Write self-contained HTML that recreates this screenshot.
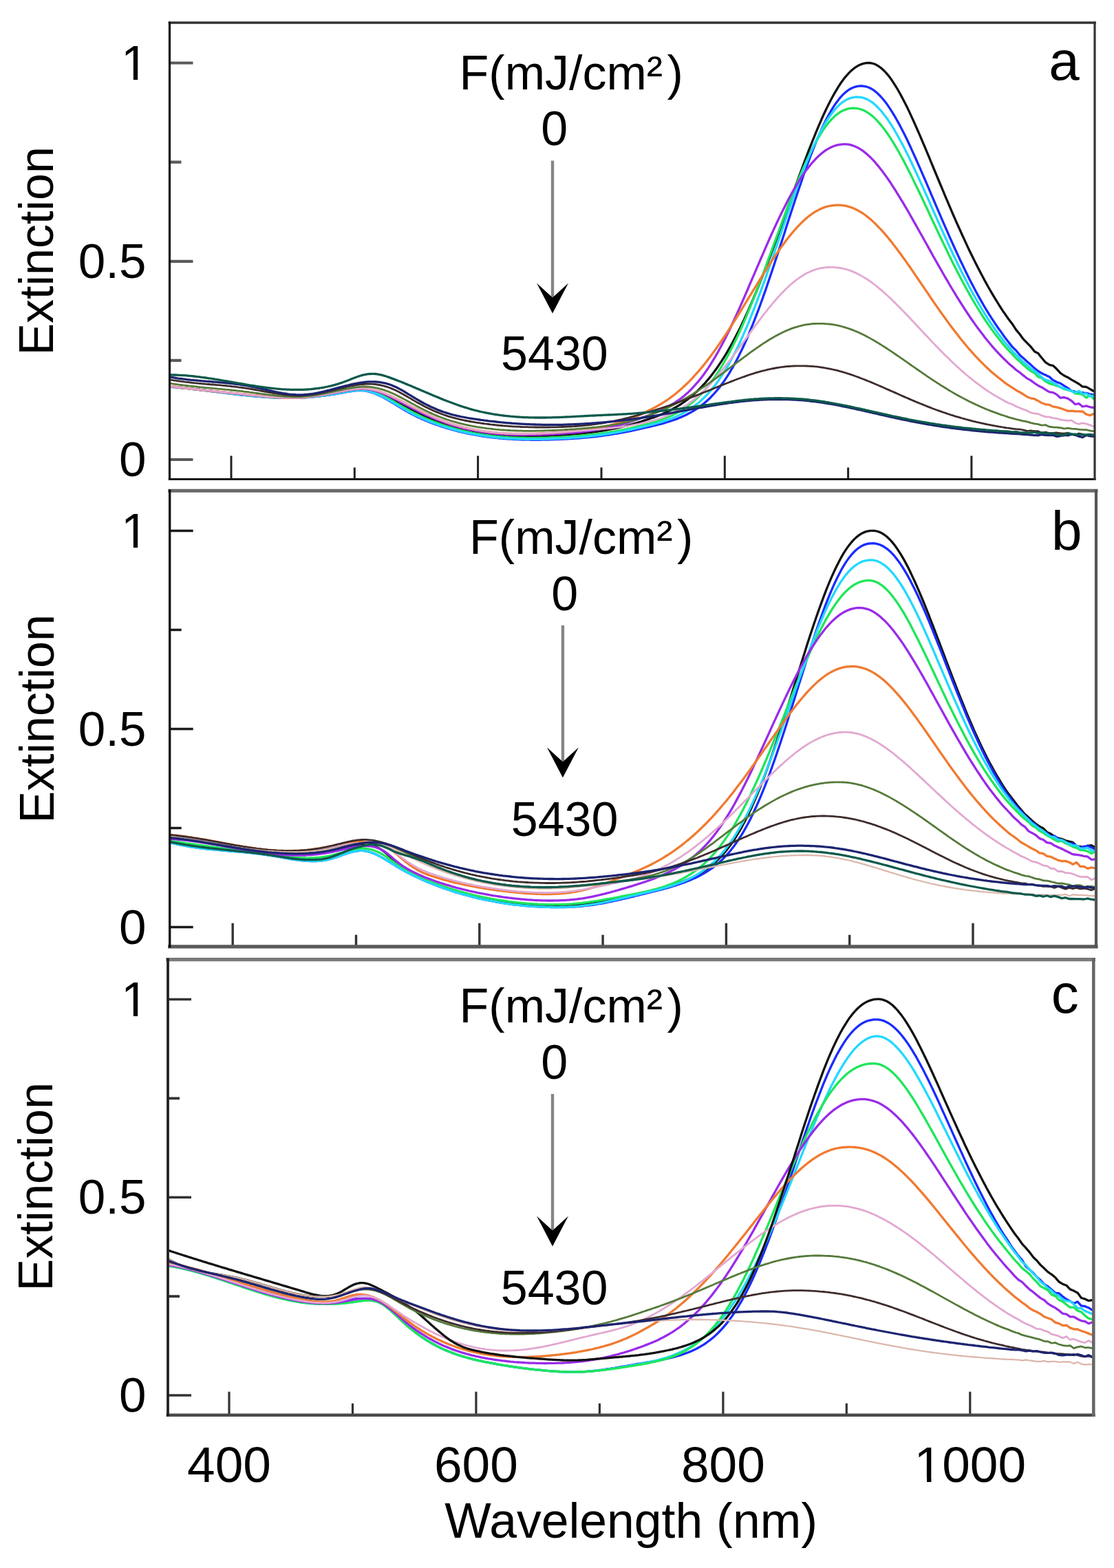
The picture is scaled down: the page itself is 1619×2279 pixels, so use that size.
<!DOCTYPE html>
<html><head><meta charset="utf-8"><title>Extinction spectra</title>
<style>
html,body{margin:0;padding:0;background:#fff;width:1619px;height:2279px;overflow:hidden}
svg{display:block}
.t{font-family:'Liberation Sans', Arial, Helvetica, sans-serif;font-size:70px;fill:#000}
.tl{font-size:71px}
.xl{font-size:73px}
</style></head><body>
<svg width="1619" height="2279" viewBox="0 0 1619 2279">
<rect width="1619" height="2279" fill="#fff"/>
<clipPath id="clipa"><rect x="246.5" y="33.0" width="1344.5" height="663.5"/></clipPath>
<g clip-path="url(#clipa)" fill="none" stroke-linejoin="round" stroke-linecap="round">
<path d="M244.5 561.3 L247.2 561.6 L249.9 561.9 L252.6 562.2 L255.3 562.6 L258.0 562.9 L260.7 563.2 L263.4 563.5 L266.1 563.8 L268.8 564.1 L271.4 564.4 L274.1 564.7 L276.8 565.0 L279.5 565.3 L282.2 565.6 L284.9 565.9 L287.6 566.2 L290.3 566.5 L293.0 566.8 L295.7 567.1 L298.3 567.4 L301.0 567.7 L303.7 568.0 L306.4 568.3 L309.1 568.6 L311.8 568.9 L314.5 569.2 L317.2 569.5 L319.9 569.8 L322.6 570.1 L325.2 570.4 L327.9 570.7 L330.6 571.0 L333.3 571.3 L336.0 571.5 L338.7 571.8 L341.4 572.1 L344.1 572.4 L346.8 572.7 L349.4 573.0 L352.1 573.3 L354.8 573.5 L357.5 573.8 L360.2 574.1 L362.9 574.4 L365.6 574.6 L368.3 574.9 L371.0 575.2 L373.7 575.4 L376.3 575.7 L379.0 576.0 L381.7 576.2 L384.4 576.4 L387.1 576.7 L389.8 576.9 L392.5 577.1 L395.2 577.3 L397.9 577.5 L400.6 577.6 L403.2 577.8 L405.9 577.9 L408.6 578.0 L411.3 578.1 L414.0 578.2 L416.7 578.2 L419.4 578.3 L422.1 578.3 L424.8 578.3 L427.5 578.2 L430.1 578.2 L432.8 578.1 L435.5 578.0 L438.2 577.8 L440.9 577.7 L443.6 577.5 L446.3 577.2 L449.0 577.0 L451.7 576.7 L454.4 576.4 L457.0 576.1 L459.7 575.7 L462.4 575.4 L465.1 575.0 L467.8 574.6 L470.5 574.1 L473.2 573.7 L475.9 573.3 L478.6 572.8 L481.2 572.3 L483.9 571.9 L486.6 571.4 L489.3 570.9 L492.0 570.4 L494.7 569.9 L497.4 569.4 L500.1 568.9 L502.8 568.4 L505.5 567.9 L508.1 567.5 L510.8 567.0 L513.5 566.6 L516.2 566.3 L518.9 566.1 L521.6 565.9 L524.3 565.8 L527.0 565.9 L529.7 566.0 L532.4 566.3 L535.0 566.7 L537.7 567.2 L540.4 567.8 L543.1 568.5 L545.8 569.3 L548.5 570.2 L551.2 571.2 L553.9 572.3 L556.6 573.4 L559.3 574.6 L561.9 575.8 L564.6 577.1 L567.3 578.5 L570.0 579.9 L572.7 581.3 L575.4 582.7 L578.1 584.2 L580.8 585.7 L583.5 587.1 L586.2 588.6 L588.8 590.1 L591.5 591.5 L594.2 593.0 L596.9 594.4 L599.6 595.8 L602.3 597.2 L605.0 598.5 L607.7 599.9 L610.4 601.2 L613.0 602.5 L615.7 603.7 L618.4 605.0 L621.1 606.2 L623.8 607.3 L626.5 608.5 L629.2 609.6 L631.9 610.7 L634.6 611.8 L637.3 612.8 L639.9 613.8 L642.6 614.8 L645.3 615.8 L648.0 616.7 L650.7 617.6 L653.4 618.4 L656.1 619.3 L658.8 620.1 L661.5 620.9 L664.2 621.6 L666.8 622.3 L669.5 623.0 L672.2 623.7 L674.9 624.4 L677.6 625.0 L680.3 625.6 L683.0 626.2 L685.7 626.7 L688.4 627.2 L691.1 627.7 L693.7 628.2 L696.4 628.7 L699.1 629.1 L701.8 629.5 L704.5 629.9 L707.2 630.3 L709.9 630.7 L712.6 631.0 L715.3 631.3 L718.0 631.6 L720.6 631.9 L723.3 632.1 L726.0 632.4 L728.7 632.6 L731.4 632.8 L734.1 633.0 L736.8 633.1 L739.5 633.3 L742.2 633.4 L744.8 633.5 L747.5 633.6 L750.2 633.7 L752.9 633.8 L755.6 633.9 L758.3 633.9 L761.0 633.9 L763.7 634.0 L766.4 634.0 L769.1 634.0 L771.7 633.9 L774.4 633.9 L777.1 633.9 L779.8 633.8 L782.5 633.8 L785.2 633.7 L787.9 633.6 L790.6 633.5 L793.3 633.4 L796.0 633.3 L798.6 633.2 L801.3 633.1 L804.0 632.9 L806.7 632.8 L809.4 632.6 L812.1 632.5 L814.8 632.3 L817.5 632.2 L820.2 632.0 L822.9 631.8 L825.5 631.6 L828.2 631.4 L830.9 631.2 L833.6 631.0 L836.3 630.7 L839.0 630.5 L841.7 630.2 L844.4 630.0 L847.1 629.7 L849.8 629.4 L852.4 629.1 L855.1 628.8 L857.8 628.5 L860.5 628.2 L863.2 627.8 L865.9 627.5 L868.6 627.1 L871.3 626.7 L874.0 626.3 L876.6 625.9 L879.3 625.4 L882.0 625.0 L884.7 624.5 L887.4 624.0 L890.1 623.5 L892.8 623.0 L895.5 622.4 L898.2 621.8 L900.9 621.2 L903.5 620.6 L906.2 620.0 L908.9 619.3 L911.6 618.6 L914.3 617.9 L917.0 617.2 L919.7 616.4 L922.4 615.6 L925.1 614.8 L927.8 614.0 L930.4 613.2 L933.1 612.3 L935.8 611.4 L938.5 610.5 L941.2 609.6 L943.9 608.7 L946.6 607.8 L949.3 606.9 L952.0 605.9 L954.7 604.9 L957.3 603.9 L960.0 602.8 L962.7 601.7 L965.4 600.5 L968.1 599.3 L970.8 598.0 L973.5 596.7 L976.2 595.3 L978.9 593.8 L981.6 592.3 L984.2 590.7 L986.9 589.1 L989.6 587.3 L992.3 585.5 L995.0 583.6 L997.7 581.7 L1000.4 579.6 L1003.1 577.5 L1005.8 575.3 L1008.4 572.9 L1011.1 570.5 L1013.8 568.0 L1016.5 565.3 L1019.2 562.6 L1021.9 559.7 L1024.6 556.8 L1027.3 553.7 L1030.0 550.5 L1032.7 547.2 L1035.3 543.7 L1038.0 540.2 L1040.7 536.5 L1043.4 532.7 L1046.1 528.7 L1048.8 524.6 L1051.5 520.4 L1054.2 516.0 L1056.9 511.6 L1059.6 506.9 L1062.2 502.2 L1064.9 497.3 L1067.6 492.3 L1070.3 487.1 L1073.0 481.8 L1075.7 476.4 L1078.4 470.8 L1081.1 465.1 L1083.8 459.3 L1086.5 453.4 L1089.1 447.3 L1091.8 441.2 L1094.5 434.9 L1097.2 428.5 L1099.9 422.0 L1102.6 415.4 L1105.3 408.7 L1108.0 401.9 L1110.7 395.0 L1113.4 388.0 L1116.0 381.0 L1118.7 373.8 L1121.4 366.6 L1124.1 359.4 L1126.8 352.1 L1129.5 344.7 L1132.2 337.3 L1134.9 329.9 L1137.6 322.4 L1140.3 314.9 L1142.9 307.4 L1145.6 299.9 L1148.3 292.4 L1151.0 284.9 L1153.7 277.4 L1156.4 269.9 L1159.1 262.5 L1161.8 255.1 L1164.5 247.8 L1167.1 240.6 L1169.8 233.4 L1172.5 226.3 L1175.2 219.2 L1177.9 212.3 L1180.6 205.5 L1183.3 198.8 L1186.0 192.2 L1188.7 185.7 L1191.4 179.4 L1194.0 173.3 L1196.7 167.3 L1199.4 161.5 L1202.1 155.9 L1204.8 150.4 L1207.5 145.2 L1210.2 140.2 L1212.9 135.4 L1215.6 130.8 L1218.3 126.4 L1220.9 122.3 L1223.6 118.4 L1226.3 114.8 L1229.0 111.4 L1231.7 108.3 L1234.4 105.4 L1237.1 102.8 L1239.8 100.5 L1242.5 98.4 L1245.2 96.6 L1247.8 95.1 L1250.5 93.9 L1253.2 92.9 L1255.9 92.2 L1258.6 91.7 L1261.3 91.5 L1264.0 91.5 L1266.7 91.9 L1269.4 92.5 L1272.1 93.5 L1274.7 94.9 L1277.4 96.6 L1280.1 98.5 L1282.8 100.9 L1285.5 103.5 L1288.2 106.4 L1290.9 109.6 L1293.6 113.1 L1296.3 116.8 L1298.9 120.8 L1301.6 125.1 L1304.3 129.5 L1307.0 134.2 L1309.7 139.1 L1312.4 144.2 L1315.1 149.4 L1317.8 154.8 L1320.5 160.4 L1323.2 166.1 L1325.8 171.9 L1328.5 177.8 L1331.2 183.9 L1333.9 190.0 L1336.6 196.2 L1339.3 202.5 L1342.0 208.8 L1344.7 215.2 L1347.4 221.6 L1350.1 228.0 L1352.7 234.5 L1355.4 241.0 L1358.1 247.5 L1360.8 254.0 L1363.5 260.5 L1366.2 267.0 L1368.9 273.4 L1371.6 279.9 L1374.3 286.3 L1377.0 292.6 L1379.6 298.9 L1382.3 305.2 L1385.0 311.5 L1387.7 317.6 L1390.4 323.8 L1393.1 329.8 L1395.8 335.8 L1398.5 341.8 L1401.2 347.6 L1403.9 353.4 L1406.5 359.1 L1409.2 364.8 L1411.9 370.3 L1414.6 375.8 L1417.3 381.2 L1420.0 386.6 L1422.7 391.8 L1425.4 397.0 L1428.1 402.0 L1430.7 407.0 L1433.4 411.9 L1436.1 416.7 L1438.8 421.5 L1441.5 426.1 L1444.2 430.6 L1446.9 435.1 L1449.6 439.5 L1452.3 443.8 L1455.0 448.1 L1457.6 452.1 L1460.3 455.9 L1463.0 459.9 L1465.7 463.8 L1468.4 467.3 L1471.1 470.7 L1473.8 474.9 L1476.5 479.1 L1479.2 482.4 L1481.9 485.5 L1484.5 489.2 L1487.2 492.9 L1489.9 495.7 L1492.6 498.4 L1495.3 501.2 L1498.0 503.9 L1500.7 507.3 L1503.4 510.8 L1506.1 512.3 L1508.8 513.5 L1511.4 516.9 L1514.1 520.3 L1516.8 523.5 L1519.5 526.7 L1522.2 528.4 L1524.9 530.1 L1527.6 530.8 L1530.3 531.3 L1533.0 533.8 L1535.7 536.3 L1538.3 539.2 L1541.0 542.1 L1543.7 544.0 L1546.4 545.8 L1549.1 547.2 L1551.8 548.4 L1554.5 550.2 L1557.2 551.9 L1559.9 553.4 L1562.5 554.8 L1565.2 556.4 L1567.9 558.0 L1570.6 560.0 L1573.3 562.0 L1576.0 562.2 L1578.7 562.4 L1581.4 563.9 L1584.1 565.4 L1586.8 567.0 L1589.4 568.5 L1592.1 568.5" stroke="#111111" stroke-width="3.3"/>
<path d="M244.5 562.0 L247.2 562.2 L249.9 562.4 L252.6 562.6 L255.3 562.9 L258.0 563.1 L260.7 563.4 L263.4 563.6 L266.1 563.9 L268.8 564.2 L271.4 564.4 L274.1 564.7 L276.8 565.0 L279.5 565.3 L282.2 565.6 L284.9 565.9 L287.6 566.2 L290.3 566.6 L293.0 566.9 L295.7 567.2 L298.3 567.5 L301.0 567.9 L303.7 568.2 L306.4 568.5 L309.1 568.9 L311.8 569.2 L314.5 569.6 L317.2 569.9 L319.9 570.2 L322.6 570.6 L325.2 570.9 L327.9 571.2 L330.6 571.6 L333.3 571.9 L336.0 572.2 L338.7 572.5 L341.4 572.9 L344.1 573.2 L346.8 573.5 L349.4 573.8 L352.1 574.1 L354.8 574.4 L357.5 574.7 L360.2 574.9 L362.9 575.2 L365.6 575.5 L368.3 575.7 L371.0 576.0 L373.7 576.2 L376.3 576.4 L379.0 576.6 L381.7 576.9 L384.4 577.1 L387.1 577.2 L389.8 577.4 L392.5 577.6 L395.2 577.7 L397.9 577.8 L400.6 578.0 L403.2 578.1 L405.9 578.2 L408.6 578.2 L411.3 578.3 L414.0 578.3 L416.7 578.4 L419.4 578.4 L422.1 578.4 L424.8 578.4 L427.5 578.3 L430.1 578.3 L432.8 578.2 L435.5 578.1 L438.2 578.0 L440.9 577.8 L443.6 577.7 L446.3 577.5 L449.0 577.3 L451.7 577.1 L454.4 576.9 L457.0 576.6 L459.7 576.3 L462.4 576.1 L465.1 575.8 L467.8 575.4 L470.5 575.1 L473.2 574.8 L475.9 574.4 L478.6 574.0 L481.2 573.6 L483.9 573.2 L486.6 572.8 L489.3 572.3 L492.0 571.9 L494.7 571.4 L497.4 571.0 L500.1 570.5 L502.8 570.0 L505.5 569.5 L508.1 569.0 L510.8 568.6 L513.5 568.2 L516.2 567.9 L518.9 567.6 L521.6 567.5 L524.3 567.5 L527.0 567.7 L529.7 567.9 L532.4 568.4 L535.0 568.9 L537.7 569.6 L540.4 570.4 L543.1 571.3 L545.8 572.4 L548.5 573.5 L551.2 574.7 L553.9 576.0 L556.6 577.4 L559.3 578.9 L561.9 580.4 L564.6 581.9 L567.3 583.5 L570.0 585.1 L572.7 586.7 L575.4 588.4 L578.1 590.0 L580.8 591.7 L583.5 593.3 L586.2 594.9 L588.8 596.5 L591.5 598.1 L594.2 599.6 L596.9 601.0 L599.6 602.4 L602.3 603.8 L605.0 605.1 L607.7 606.4 L610.4 607.6 L613.0 608.9 L615.7 610.0 L618.4 611.2 L621.1 612.3 L623.8 613.4 L626.5 614.4 L629.2 615.4 L631.9 616.4 L634.6 617.4 L637.3 618.3 L639.9 619.2 L642.6 620.1 L645.3 621.0 L648.0 621.8 L650.7 622.6 L653.4 623.4 L656.1 624.2 L658.8 625.0 L661.5 625.7 L664.2 626.4 L666.8 627.1 L669.5 627.7 L672.2 628.4 L674.9 629.0 L677.6 629.6 L680.3 630.1 L683.0 630.7 L685.7 631.2 L688.4 631.7 L691.1 632.2 L693.7 632.7 L696.4 633.2 L699.1 633.6 L701.8 634.0 L704.5 634.4 L707.2 634.8 L709.9 635.2 L712.6 635.5 L715.3 635.8 L718.0 636.1 L720.6 636.4 L723.3 636.7 L726.0 637.0 L728.7 637.2 L731.4 637.5 L734.1 637.7 L736.8 637.9 L739.5 638.1 L742.2 638.2 L744.8 638.4 L747.5 638.5 L750.2 638.7 L752.9 638.8 L755.6 638.9 L758.3 639.0 L761.0 639.1 L763.7 639.1 L766.4 639.2 L769.1 639.2 L771.7 639.3 L774.4 639.3 L777.1 639.3 L779.8 639.3 L782.5 639.3 L785.2 639.3 L787.9 639.2 L790.6 639.2 L793.3 639.1 L796.0 639.1 L798.6 639.0 L801.3 638.9 L804.0 638.8 L806.7 638.7 L809.4 638.6 L812.1 638.5 L814.8 638.4 L817.5 638.3 L820.2 638.2 L822.9 638.0 L825.5 637.9 L828.2 637.7 L830.9 637.6 L833.6 637.4 L836.3 637.2 L839.0 637.0 L841.7 636.8 L844.4 636.6 L847.1 636.4 L849.8 636.1 L852.4 635.9 L855.1 635.6 L857.8 635.3 L860.5 635.1 L863.2 634.8 L865.9 634.5 L868.6 634.1 L871.3 633.8 L874.0 633.5 L876.6 633.1 L879.3 632.7 L882.0 632.4 L884.7 632.0 L887.4 631.6 L890.1 631.2 L892.8 630.7 L895.5 630.3 L898.2 629.8 L900.9 629.4 L903.5 628.9 L906.2 628.4 L908.9 627.9 L911.6 627.3 L914.3 626.8 L917.0 626.3 L919.7 625.7 L922.4 625.1 L925.1 624.5 L927.8 624.0 L930.4 623.4 L933.1 622.7 L935.8 622.1 L938.5 621.5 L941.2 620.9 L943.9 620.3 L946.6 619.7 L949.3 619.0 L952.0 618.4 L954.7 617.7 L957.3 617.0 L960.0 616.3 L962.7 615.6 L965.4 614.8 L968.1 614.0 L970.8 613.2 L973.5 612.3 L976.2 611.5 L978.9 610.5 L981.6 609.6 L984.2 608.6 L986.9 607.5 L989.6 606.4 L992.3 605.2 L995.0 604.0 L997.7 602.7 L1000.4 601.3 L1003.1 599.9 L1005.8 598.4 L1008.4 596.8 L1011.1 595.1 L1013.8 593.3 L1016.5 591.4 L1019.2 589.4 L1021.9 587.3 L1024.6 585.1 L1027.3 582.8 L1030.0 580.3 L1032.7 577.7 L1035.3 574.9 L1038.0 572.0 L1040.7 569.0 L1043.4 565.8 L1046.1 562.4 L1048.8 558.8 L1051.5 555.1 L1054.2 551.2 L1056.9 547.1 L1059.6 542.9 L1062.2 538.4 L1064.9 533.8 L1067.6 529.0 L1070.3 523.9 L1073.0 518.7 L1075.7 513.3 L1078.4 507.7 L1081.1 502.0 L1083.8 496.0 L1086.5 489.8 L1089.1 483.5 L1091.8 477.0 L1094.5 470.3 L1097.2 463.4 L1099.9 456.4 L1102.6 449.3 L1105.3 442.0 L1108.0 434.5 L1110.7 426.9 L1113.4 419.2 L1116.0 411.4 L1118.7 403.5 L1121.4 395.5 L1124.1 387.4 L1126.8 379.3 L1129.5 371.1 L1132.2 362.8 L1134.9 354.5 L1137.6 346.2 L1140.3 337.9 L1142.9 329.5 L1145.6 321.2 L1148.3 312.9 L1151.0 304.7 L1153.7 296.5 L1156.4 288.3 L1159.1 280.3 L1161.8 272.3 L1164.5 264.4 L1167.1 256.7 L1169.8 249.0 L1172.5 241.5 L1175.2 234.2 L1177.9 227.0 L1180.6 220.0 L1183.3 213.1 L1186.0 206.5 L1188.7 200.1 L1191.4 193.8 L1194.0 187.8 L1196.7 182.1 L1199.4 176.6 L1202.1 171.3 L1204.8 166.3 L1207.5 161.6 L1210.2 157.1 L1212.9 152.9 L1215.6 149.0 L1218.3 145.4 L1220.9 142.1 L1223.6 139.1 L1226.3 136.4 L1229.0 134.0 L1231.7 131.9 L1234.4 130.0 L1237.1 128.5 L1239.8 127.3 L1242.5 126.3 L1245.2 125.6 L1247.8 125.2 L1250.5 125.0 L1253.2 125.0 L1255.9 125.3 L1258.6 125.8 L1261.3 126.7 L1264.0 127.8 L1266.7 129.2 L1269.4 130.9 L1272.1 132.9 L1274.7 135.1 L1277.4 137.7 L1280.1 140.5 L1282.8 143.5 L1285.5 146.8 L1288.2 150.3 L1290.9 154.1 L1293.6 158.1 L1296.3 162.3 L1298.9 166.7 L1301.6 171.2 L1304.3 176.0 L1307.0 180.9 L1309.7 186.0 L1312.4 191.3 L1315.1 196.6 L1317.8 202.1 L1320.5 207.8 L1323.2 213.5 L1325.8 219.3 L1328.5 225.2 L1331.2 231.2 L1333.9 237.3 L1336.6 243.4 L1339.3 249.6 L1342.0 255.8 L1344.7 262.0 L1347.4 268.3 L1350.1 274.6 L1352.7 280.9 L1355.4 287.2 L1358.1 293.5 L1360.8 299.8 L1363.5 306.1 L1366.2 312.4 L1368.9 318.7 L1371.6 324.9 L1374.3 331.1 L1377.0 337.2 L1379.6 343.3 L1382.3 349.3 L1385.0 355.3 L1387.7 361.3 L1390.4 367.1 L1393.1 372.9 L1395.8 378.7 L1398.5 384.3 L1401.2 389.9 L1403.9 395.4 L1406.5 400.8 L1409.2 406.2 L1411.9 411.4 L1414.6 416.6 L1417.3 421.7 L1420.0 426.7 L1422.7 431.6 L1425.4 436.4 L1428.1 441.1 L1430.7 445.7 L1433.4 450.2 L1436.1 454.6 L1438.8 458.9 L1441.5 463.1 L1444.2 467.2 L1446.9 471.3 L1449.6 475.2 L1452.3 479.0 L1455.0 482.6 L1457.6 486.4 L1460.3 490.2 L1463.0 493.7 L1465.7 497.2 L1468.4 500.6 L1471.1 504.0 L1473.8 506.7 L1476.5 509.2 L1479.2 512.5 L1481.9 515.8 L1484.5 518.2 L1487.2 520.5 L1489.9 523.0 L1492.6 525.4 L1495.3 527.8 L1498.0 530.1 L1500.7 532.6 L1503.4 535.1 L1506.1 537.2 L1508.8 539.3 L1511.4 541.0 L1514.1 542.6 L1516.8 543.9 L1519.5 545.1 L1522.2 546.4 L1524.9 547.6 L1527.6 550.0 L1530.3 552.4 L1533.0 553.8 L1535.7 555.2 L1538.3 556.2 L1541.0 557.1 L1543.7 558.8 L1546.4 560.6 L1549.1 562.3 L1551.8 563.9 L1554.5 566.0 L1557.2 568.0 L1559.9 568.7 L1562.5 569.4 L1565.2 570.4 L1567.9 571.5 L1570.6 571.1 L1573.3 570.7 L1576.0 571.1 L1578.7 571.4 L1581.4 572.2 L1584.1 573.0 L1586.8 573.4 L1589.4 573.8 L1592.1 575.1" stroke="#1a2cff" stroke-width="3.3"/>
<path d="M244.5 561.7 L247.2 561.9 L249.9 562.2 L252.6 562.4 L255.3 562.7 L258.0 563.0 L260.7 563.3 L263.4 563.5 L266.1 563.8 L268.8 564.1 L271.4 564.4 L274.1 564.7 L276.8 565.0 L279.5 565.3 L282.2 565.6 L284.9 565.9 L287.6 566.2 L290.3 566.5 L293.0 566.9 L295.7 567.2 L298.3 567.5 L301.0 567.8 L303.7 568.1 L306.4 568.4 L309.1 568.7 L311.8 569.1 L314.5 569.4 L317.2 569.7 L319.9 570.0 L322.6 570.3 L325.2 570.6 L327.9 571.0 L330.6 571.3 L333.3 571.6 L336.0 571.9 L338.7 572.2 L341.4 572.5 L344.1 572.8 L346.8 573.1 L349.4 573.4 L352.1 573.7 L354.8 574.0 L357.5 574.2 L360.2 574.5 L362.9 574.8 L365.6 575.1 L368.3 575.3 L371.0 575.6 L373.7 575.8 L376.3 576.1 L379.0 576.3 L381.7 576.5 L384.4 576.7 L387.1 577.0 L389.8 577.1 L392.5 577.3 L395.2 577.5 L397.9 577.7 L400.6 577.8 L403.2 577.9 L405.9 578.0 L408.6 578.1 L411.3 578.2 L414.0 578.3 L416.7 578.3 L419.4 578.3 L422.1 578.3 L424.8 578.3 L427.5 578.3 L430.1 578.2 L432.8 578.1 L435.5 578.0 L438.2 577.9 L440.9 577.8 L443.6 577.6 L446.3 577.4 L449.0 577.1 L451.7 576.9 L454.4 576.6 L457.0 576.3 L459.7 576.0 L462.4 575.7 L465.1 575.4 L467.8 575.0 L470.5 574.6 L473.2 574.2 L475.9 573.8 L478.6 573.4 L481.2 573.0 L483.9 572.5 L486.6 572.1 L489.3 571.6 L492.0 571.2 L494.7 570.7 L497.4 570.2 L500.1 569.7 L502.8 569.2 L505.5 568.7 L508.1 568.2 L510.8 567.8 L513.5 567.4 L516.2 567.1 L518.9 566.8 L521.6 566.7 L524.3 566.7 L527.0 566.8 L529.7 567.0 L532.4 567.3 L535.0 567.8 L537.7 568.4 L540.4 569.1 L543.1 569.9 L545.8 570.8 L548.5 571.9 L551.2 573.0 L553.9 574.1 L556.6 575.4 L559.3 576.7 L561.9 578.1 L564.6 579.5 L567.3 581.0 L570.0 582.5 L572.7 584.0 L575.4 585.6 L578.1 587.1 L580.8 588.7 L583.5 590.2 L586.2 591.8 L588.8 593.3 L591.5 594.8 L594.2 596.3 L596.9 597.7 L599.6 599.1 L602.3 600.5 L605.0 601.8 L607.7 603.1 L610.4 604.4 L613.0 605.7 L615.7 606.9 L618.4 608.1 L621.1 609.2 L623.8 610.4 L626.5 611.5 L629.2 612.5 L631.9 613.6 L634.6 614.6 L637.3 615.6 L639.9 616.5 L642.6 617.5 L645.3 618.4 L648.0 619.3 L650.7 620.1 L653.4 620.9 L656.1 621.7 L658.8 622.5 L661.5 623.3 L664.2 624.0 L666.8 624.7 L669.5 625.4 L672.2 626.0 L674.9 626.7 L677.6 627.3 L680.3 627.9 L683.0 628.4 L685.7 629.0 L688.4 629.5 L691.1 630.0 L693.7 630.5 L696.4 630.9 L699.1 631.4 L701.8 631.8 L704.5 632.2 L707.2 632.5 L709.9 632.9 L712.6 633.2 L715.3 633.6 L718.0 633.9 L720.6 634.2 L723.3 634.4 L726.0 634.7 L728.7 634.9 L731.4 635.1 L734.1 635.3 L736.8 635.5 L739.5 635.7 L742.2 635.8 L744.8 636.0 L747.5 636.1 L750.2 636.2 L752.9 636.3 L755.6 636.4 L758.3 636.5 L761.0 636.5 L763.7 636.5 L766.4 636.6 L769.1 636.6 L771.7 636.6 L774.4 636.6 L777.1 636.6 L779.8 636.6 L782.5 636.5 L785.2 636.5 L787.9 636.4 L790.6 636.3 L793.3 636.3 L796.0 636.2 L798.6 636.1 L801.3 636.0 L804.0 635.9 L806.7 635.8 L809.4 635.6 L812.1 635.5 L814.8 635.4 L817.5 635.2 L820.2 635.1 L822.9 634.9 L825.5 634.7 L828.2 634.6 L830.9 634.4 L833.6 634.2 L836.3 634.0 L839.0 633.8 L841.7 633.5 L844.4 633.3 L847.1 633.0 L849.8 632.8 L852.4 632.5 L855.1 632.2 L857.8 631.9 L860.5 631.6 L863.2 631.3 L865.9 631.0 L868.6 630.7 L871.3 630.3 L874.0 629.9 L876.6 629.6 L879.3 629.2 L882.0 628.8 L884.7 628.4 L887.4 627.9 L890.1 627.5 L892.8 627.1 L895.5 626.6 L898.2 626.1 L900.9 625.6 L903.5 625.1 L906.2 624.6 L908.9 624.0 L911.6 623.4 L914.3 622.9 L917.0 622.3 L919.7 621.7 L922.4 621.0 L925.1 620.4 L927.8 619.7 L930.4 619.0 L933.1 618.4 L935.8 617.6 L938.5 616.9 L941.2 616.2 L943.9 615.5 L946.6 614.7 L949.3 613.9 L952.0 613.1 L954.7 612.3 L957.3 611.4 L960.0 610.5 L962.7 609.5 L965.4 608.5 L968.1 607.5 L970.8 606.3 L973.5 605.2 L976.2 603.9 L978.9 602.6 L981.6 601.3 L984.2 599.8 L986.9 598.3 L989.6 596.7 L992.3 595.0 L995.0 593.2 L997.7 591.3 L1000.4 589.4 L1003.1 587.3 L1005.8 585.1 L1008.4 582.8 L1011.1 580.4 L1013.8 577.9 L1016.5 575.2 L1019.2 572.5 L1021.9 569.5 L1024.6 566.5 L1027.3 563.3 L1030.0 560.0 L1032.7 556.5 L1035.3 552.9 L1038.0 549.1 L1040.7 545.2 L1043.4 541.1 L1046.1 536.9 L1048.8 532.5 L1051.5 528.0 L1054.2 523.3 L1056.9 518.5 L1059.6 513.5 L1062.2 508.3 L1064.9 503.0 L1067.6 497.6 L1070.3 492.0 L1073.0 486.2 L1075.7 480.3 L1078.4 474.3 L1081.1 468.2 L1083.8 461.9 L1086.5 455.5 L1089.1 449.0 L1091.8 442.3 L1094.5 435.6 L1097.2 428.8 L1099.9 421.8 L1102.6 414.8 L1105.3 407.8 L1108.0 400.6 L1110.7 393.4 L1113.4 386.1 L1116.0 378.8 L1118.7 371.5 L1121.4 364.1 L1124.1 356.8 L1126.8 349.4 L1129.5 342.0 L1132.2 334.7 L1134.9 327.3 L1137.6 320.0 L1140.3 312.8 L1142.9 305.6 L1145.6 298.5 L1148.3 291.4 L1151.0 284.4 L1153.7 277.6 L1156.4 270.8 L1159.1 264.1 L1161.8 257.6 L1164.5 251.2 L1167.1 245.0 L1169.8 238.9 L1172.5 232.9 L1175.2 227.2 L1177.9 221.6 L1180.6 216.2 L1183.3 211.1 L1186.0 206.1 L1188.7 201.3 L1191.4 196.8 L1194.0 192.5 L1196.7 188.4 L1199.4 184.6 L1202.1 181.0 L1204.8 177.6 L1207.5 174.5 L1210.2 171.7 L1212.9 169.1 L1215.6 166.8 L1218.3 164.8 L1220.9 163.0 L1223.6 161.4 L1226.3 160.1 L1229.0 159.1 L1231.7 158.3 L1234.4 157.7 L1237.1 157.4 L1239.8 157.2 L1242.5 157.3 L1245.2 157.5 L1247.8 158.0 L1250.5 158.7 L1253.2 159.6 L1255.9 160.8 L1258.6 162.2 L1261.3 163.8 L1264.0 165.7 L1266.7 167.8 L1269.4 170.1 L1272.1 172.6 L1274.7 175.3 L1277.4 178.3 L1280.1 181.4 L1282.8 184.7 L1285.5 188.3 L1288.2 192.0 L1290.9 195.8 L1293.6 199.9 L1296.3 204.1 L1298.9 208.4 L1301.6 212.9 L1304.3 217.5 L1307.0 222.3 L1309.7 227.2 L1312.4 232.1 L1315.1 237.2 L1317.8 242.4 L1320.5 247.7 L1323.2 253.0 L1325.8 258.4 L1328.5 263.9 L1331.2 269.5 L1333.9 275.0 L1336.6 280.7 L1339.3 286.3 L1342.0 292.0 L1344.7 297.8 L1347.4 303.5 L1350.1 309.2 L1352.7 315.0 L1355.4 320.7 L1358.1 326.5 L1360.8 332.2 L1363.5 337.9 L1366.2 343.6 L1368.9 349.3 L1371.6 354.9 L1374.3 360.5 L1377.0 366.0 L1379.6 371.6 L1382.3 377.0 L1385.0 382.4 L1387.7 387.8 L1390.4 393.0 L1393.1 398.3 L1395.8 403.4 L1398.5 408.5 L1401.2 413.5 L1403.9 418.5 L1406.5 423.3 L1409.2 428.1 L1411.9 432.8 L1414.6 437.5 L1417.3 442.0 L1420.0 446.5 L1422.7 450.9 L1425.4 455.1 L1428.1 459.4 L1430.7 463.5 L1433.4 467.5 L1436.1 471.4 L1438.8 475.3 L1441.5 479.1 L1444.2 482.8 L1446.9 486.3 L1449.6 489.8 L1452.3 493.3 L1455.0 496.6 L1457.6 499.9 L1460.3 503.1 L1463.0 506.1 L1465.7 509.1 L1468.4 511.9 L1471.1 514.6 L1473.8 517.6 L1476.5 520.5 L1479.2 522.9 L1481.9 525.3 L1484.5 527.7 L1487.2 530.2 L1489.9 532.6 L1492.6 535.1 L1495.3 537.2 L1498.0 539.2 L1500.7 540.7 L1503.4 542.1 L1506.1 544.9 L1508.8 547.8 L1511.4 548.7 L1514.1 549.5 L1516.8 552.0 L1519.5 554.4 L1522.2 555.8 L1524.9 557.2 L1527.6 558.1 L1530.3 558.9 L1533.0 559.8 L1535.7 560.7 L1538.3 561.7 L1541.0 562.8 L1543.7 564.1 L1546.4 565.4 L1549.1 566.2 L1551.8 567.0 L1554.5 567.6 L1557.2 568.2 L1559.9 570.0 L1562.5 571.8 L1565.2 572.0 L1567.9 572.3 L1570.6 572.9 L1573.3 573.5 L1576.0 575.8 L1578.7 578.1 L1581.4 576.1 L1584.1 574.0 L1586.8 576.9 L1589.4 579.7 L1592.1 578.7" stroke="#1ee65a" stroke-width="3.3"/>
<path d="M244.5 561.9 L247.2 562.1 L249.9 562.3 L252.6 562.6 L255.3 562.8 L258.0 563.1 L260.7 563.3 L263.4 563.6 L266.1 563.9 L268.8 564.1 L271.4 564.4 L274.1 564.7 L276.8 565.0 L279.5 565.3 L282.2 565.6 L284.9 565.9 L287.6 566.2 L290.3 566.6 L293.0 566.9 L295.7 567.2 L298.3 567.5 L301.0 567.8 L303.7 568.2 L306.4 568.5 L309.1 568.8 L311.8 569.2 L314.5 569.5 L317.2 569.8 L319.9 570.2 L322.6 570.5 L325.2 570.8 L327.9 571.1 L330.6 571.5 L333.3 571.8 L336.0 572.1 L338.7 572.4 L341.4 572.7 L344.1 573.0 L346.8 573.4 L349.4 573.7 L352.1 573.9 L354.8 574.2 L357.5 574.5 L360.2 574.8 L362.9 575.1 L365.6 575.3 L368.3 575.6 L371.0 575.8 L373.7 576.1 L376.3 576.3 L379.0 576.5 L381.7 576.7 L384.4 576.9 L387.1 577.1 L389.8 577.3 L392.5 577.5 L395.2 577.6 L397.9 577.8 L400.6 577.9 L403.2 578.0 L405.9 578.1 L408.6 578.2 L411.3 578.3 L414.0 578.3 L416.7 578.4 L419.4 578.4 L422.1 578.4 L424.8 578.3 L427.5 578.3 L430.1 578.2 L432.8 578.2 L435.5 578.1 L438.2 578.0 L440.9 577.8 L443.6 577.6 L446.3 577.5 L449.0 577.3 L451.7 577.0 L454.4 576.8 L457.0 576.5 L459.7 576.2 L462.4 575.9 L465.1 575.6 L467.8 575.3 L470.5 574.9 L473.2 574.6 L475.9 574.2 L478.6 573.8 L481.2 573.4 L483.9 573.0 L486.6 572.5 L489.3 572.1 L492.0 571.6 L494.7 571.2 L497.4 570.7 L500.1 570.2 L502.8 569.7 L505.5 569.2 L508.1 568.8 L510.8 568.3 L513.5 567.9 L516.2 567.6 L518.9 567.4 L521.6 567.2 L524.3 567.2 L527.0 567.4 L529.7 567.6 L532.4 568.0 L535.0 568.5 L537.7 569.2 L540.4 570.0 L543.1 570.9 L545.8 571.9 L548.5 573.0 L551.2 574.1 L553.9 575.4 L556.6 576.7 L559.3 578.1 L561.9 579.6 L564.6 581.1 L567.3 582.7 L570.0 584.2 L572.7 585.8 L575.4 587.4 L578.1 589.1 L580.8 590.7 L583.5 592.3 L586.2 593.9 L588.8 595.4 L591.5 597.0 L594.2 598.5 L596.9 599.9 L599.6 601.3 L602.3 602.7 L605.0 604.0 L607.7 605.3 L610.4 606.6 L613.0 607.8 L615.7 609.0 L618.4 610.1 L621.1 611.3 L623.8 612.4 L626.5 613.4 L629.2 614.5 L631.9 615.5 L634.6 616.5 L637.3 617.4 L639.9 618.3 L642.6 619.2 L645.3 620.1 L648.0 621.0 L650.7 621.8 L653.4 622.6 L656.1 623.4 L658.8 624.1 L661.5 624.9 L664.2 625.6 L666.8 626.3 L669.5 626.9 L672.2 627.6 L674.9 628.2 L677.6 628.8 L680.3 629.4 L683.0 629.9 L685.7 630.5 L688.4 631.0 L691.1 631.5 L693.7 632.0 L696.4 632.4 L699.1 632.8 L701.8 633.3 L704.5 633.7 L707.2 634.0 L709.9 634.4 L712.6 634.8 L715.3 635.1 L718.0 635.4 L720.6 635.7 L723.3 636.0 L726.0 636.2 L728.7 636.5 L731.4 636.7 L734.1 636.9 L736.8 637.1 L739.5 637.3 L742.2 637.4 L744.8 637.6 L747.5 637.7 L750.2 637.9 L752.9 638.0 L755.6 638.1 L758.3 638.1 L761.0 638.2 L763.7 638.3 L766.4 638.3 L769.1 638.4 L771.7 638.4 L774.4 638.4 L777.1 638.4 L779.8 638.4 L782.5 638.4 L785.2 638.3 L787.9 638.3 L790.6 638.2 L793.3 638.2 L796.0 638.1 L798.6 638.0 L801.3 637.9 L804.0 637.8 L806.7 637.7 L809.4 637.6 L812.1 637.5 L814.8 637.4 L817.5 637.3 L820.2 637.1 L822.9 637.0 L825.5 636.8 L828.2 636.6 L830.9 636.4 L833.6 636.2 L836.3 636.0 L839.0 635.8 L841.7 635.6 L844.4 635.4 L847.1 635.1 L849.8 634.8 L852.4 634.6 L855.1 634.3 L857.8 634.0 L860.5 633.7 L863.2 633.4 L865.9 633.0 L868.6 632.7 L871.3 632.3 L874.0 632.0 L876.6 631.6 L879.3 631.2 L882.0 630.8 L884.7 630.4 L887.4 629.9 L890.1 629.5 L892.8 629.0 L895.5 628.6 L898.2 628.1 L900.9 627.6 L903.5 627.1 L906.2 626.5 L908.9 626.0 L911.6 625.5 L914.3 624.9 L917.0 624.3 L919.7 623.7 L922.4 623.1 L925.1 622.5 L927.8 621.9 L930.4 621.3 L933.1 620.6 L935.8 620.0 L938.5 619.3 L941.2 618.7 L943.9 618.0 L946.6 617.4 L949.3 616.7 L952.0 616.0 L954.7 615.2 L957.3 614.5 L960.0 613.7 L962.7 612.9 L965.4 612.0 L968.1 611.1 L970.8 610.2 L973.5 609.2 L976.2 608.2 L978.9 607.1 L981.6 606.0 L984.2 604.8 L986.9 603.5 L989.6 602.2 L992.3 600.8 L995.0 599.3 L997.7 597.8 L1000.4 596.1 L1003.1 594.4 L1005.8 592.6 L1008.4 590.6 L1011.1 588.6 L1013.8 586.5 L1016.5 584.2 L1019.2 581.8 L1021.9 579.3 L1024.6 576.7 L1027.3 573.9 L1030.0 571.0 L1032.7 567.9 L1035.3 564.7 L1038.0 561.4 L1040.7 557.9 L1043.4 554.2 L1046.1 550.3 L1048.8 546.3 L1051.5 542.2 L1054.2 537.8 L1056.9 533.3 L1059.6 528.6 L1062.2 523.7 L1064.9 518.7 L1067.6 513.5 L1070.3 508.1 L1073.0 502.5 L1075.7 496.8 L1078.4 490.9 L1081.1 484.9 L1083.8 478.7 L1086.5 472.3 L1089.1 465.8 L1091.8 459.2 L1094.5 452.4 L1097.2 445.5 L1099.9 438.4 L1102.6 431.2 L1105.3 424.0 L1108.0 416.6 L1110.7 409.1 L1113.4 401.6 L1116.0 394.0 L1118.7 386.3 L1121.4 378.5 L1124.1 370.8 L1126.8 362.9 L1129.5 355.1 L1132.2 347.2 L1134.9 339.4 L1137.6 331.5 L1140.3 323.7 L1142.9 315.9 L1145.6 308.2 L1148.3 300.5 L1151.0 292.8 L1153.7 285.3 L1156.4 277.8 L1159.1 270.4 L1161.8 263.2 L1164.5 256.1 L1167.1 249.0 L1169.8 242.2 L1172.5 235.5 L1175.2 228.9 L1177.9 222.6 L1180.6 216.4 L1183.3 210.4 L1186.0 204.6 L1188.7 199.0 L1191.4 193.7 L1194.0 188.6 L1196.7 183.7 L1199.4 179.0 L1202.1 174.7 L1204.8 170.5 L1207.5 166.7 L1210.2 163.1 L1212.9 159.7 L1215.6 156.7 L1218.3 153.9 L1220.9 151.4 L1223.6 149.2 L1226.3 147.3 L1229.0 145.6 L1231.7 144.2 L1234.4 143.1 L1237.1 142.2 L1239.8 141.6 L1242.5 141.2 L1245.2 141.0 L1247.8 141.1 L1250.5 141.3 L1253.2 141.9 L1255.9 142.6 L1258.6 143.6 L1261.3 144.9 L1264.0 146.4 L1266.7 148.2 L1269.4 150.2 L1272.1 152.5 L1274.7 155.0 L1277.4 157.8 L1280.1 160.7 L1282.8 163.9 L1285.5 167.4 L1288.2 171.0 L1290.9 174.8 L1293.6 178.8 L1296.3 183.0 L1298.9 187.4 L1301.6 192.0 L1304.3 196.7 L1307.0 201.5 L1309.7 206.5 L1312.4 211.6 L1315.1 216.8 L1317.8 222.2 L1320.5 227.6 L1323.2 233.2 L1325.8 238.8 L1328.5 244.5 L1331.2 250.3 L1333.9 256.1 L1336.6 262.0 L1339.3 267.9 L1342.0 273.9 L1344.7 279.9 L1347.4 285.9 L1350.1 291.9 L1352.7 298.0 L1355.4 304.0 L1358.1 310.1 L1360.8 316.1 L1363.5 322.1 L1366.2 328.1 L1368.9 334.1 L1371.6 340.1 L1374.3 346.0 L1377.0 351.9 L1379.6 357.7 L1382.3 363.5 L1385.0 369.2 L1387.7 374.9 L1390.4 380.5 L1393.1 386.0 L1395.8 391.5 L1398.5 396.9 L1401.2 402.2 L1403.9 407.5 L1406.5 412.6 L1409.2 417.7 L1411.9 422.7 L1414.6 427.7 L1417.3 432.5 L1420.0 437.3 L1422.7 441.9 L1425.4 446.5 L1428.1 451.0 L1430.7 455.3 L1433.4 459.6 L1436.1 463.8 L1438.8 468.0 L1441.5 472.0 L1444.2 475.9 L1446.9 479.7 L1449.6 483.4 L1452.3 487.1 L1455.0 490.5 L1457.6 494.0 L1460.3 497.5 L1463.0 500.7 L1465.7 503.7 L1468.4 506.9 L1471.1 510.0 L1473.8 512.9 L1476.5 515.7 L1479.2 518.4 L1481.9 521.0 L1484.5 523.7 L1487.2 526.4 L1489.9 528.6 L1492.6 530.8 L1495.3 533.1 L1498.0 535.3 L1500.7 537.4 L1503.4 539.4 L1506.1 541.5 L1508.8 543.5 L1511.4 545.9 L1514.1 548.4 L1516.8 550.3 L1519.5 552.2 L1522.2 552.9 L1524.9 553.5 L1527.6 554.9 L1530.3 556.4 L1533.0 557.8 L1535.7 559.1 L1538.3 560.8 L1541.0 562.5 L1543.7 563.5 L1546.4 564.4 L1549.1 565.4 L1551.8 566.3 L1554.5 567.2 L1557.2 568.1 L1559.9 569.4 L1562.5 570.5 L1565.2 569.4 L1567.9 568.2 L1570.6 570.2 L1573.3 572.3 L1576.0 572.2 L1578.7 572.1 L1581.4 574.0 L1584.1 575.9 L1586.8 575.6 L1589.4 575.1 L1592.1 577.4" stroke="#22d8ff" stroke-width="3.3"/>
<path d="M244.5 561.1 L247.2 561.4 L249.9 561.8 L252.6 562.1 L255.3 562.4 L258.0 562.8 L260.7 563.1 L263.4 563.4 L266.1 563.7 L268.8 564.1 L271.4 564.4 L274.1 564.7 L276.8 565.0 L279.5 565.3 L282.2 565.6 L284.9 565.9 L287.6 566.2 L290.3 566.5 L293.0 566.8 L295.7 567.1 L298.3 567.4 L301.0 567.7 L303.7 568.0 L306.4 568.2 L309.1 568.5 L311.8 568.8 L314.5 569.1 L317.2 569.4 L319.9 569.6 L322.6 569.9 L325.2 570.2 L327.9 570.5 L330.6 570.8 L333.3 571.0 L336.0 571.3 L338.7 571.6 L341.4 571.9 L344.1 572.1 L346.8 572.4 L349.4 572.7 L352.1 573.0 L354.8 573.3 L357.5 573.5 L360.2 573.8 L362.9 574.1 L365.6 574.4 L368.3 574.6 L371.0 574.9 L373.7 575.2 L376.3 575.5 L379.0 575.7 L381.7 576.0 L384.4 576.2 L387.1 576.5 L389.8 576.7 L392.5 576.9 L395.2 577.1 L397.9 577.3 L400.6 577.5 L403.2 577.7 L405.9 577.8 L408.6 577.9 L411.3 578.1 L414.0 578.1 L416.7 578.2 L419.4 578.2 L422.1 578.3 L424.8 578.3 L427.5 578.2 L430.1 578.2 L432.8 578.1 L435.5 578.0 L438.2 577.8 L440.9 577.6 L443.6 577.4 L446.3 577.2 L449.0 576.9 L451.7 576.6 L454.4 576.2 L457.0 575.9 L459.7 575.5 L462.4 575.1 L465.1 574.7 L467.8 574.3 L470.5 573.8 L473.2 573.4 L475.9 572.9 L478.6 572.4 L481.2 571.9 L483.9 571.4 L486.6 570.9 L489.3 570.4 L492.0 569.9 L494.7 569.4 L497.4 568.9 L500.1 568.4 L502.8 567.9 L505.5 567.4 L508.1 567.0 L510.8 566.5 L513.5 566.1 L516.2 565.8 L518.9 565.6 L521.6 565.4 L524.3 565.3 L527.0 565.3 L529.7 565.4 L532.4 565.6 L535.0 566.0 L537.7 566.4 L540.4 566.9 L543.1 567.6 L545.8 568.3 L548.5 569.1 L551.2 570.0 L553.9 571.0 L556.6 572.0 L559.3 573.2 L561.9 574.3 L564.6 575.5 L567.3 576.8 L570.0 578.1 L572.7 579.5 L575.4 580.8 L578.1 582.2 L580.8 583.7 L583.5 585.1 L586.2 586.5 L588.8 588.0 L591.5 589.4 L594.2 590.8 L596.9 592.2 L599.6 593.6 L602.3 595.0 L605.0 596.3 L607.7 597.7 L610.4 599.0 L613.0 600.3 L615.7 601.6 L618.4 602.9 L621.1 604.1 L623.8 605.3 L626.5 606.5 L629.2 607.7 L631.9 608.8 L634.6 609.9 L637.3 611.0 L639.9 612.0 L642.6 613.0 L645.3 614.0 L648.0 615.0 L650.7 615.9 L653.4 616.8 L656.1 617.6 L658.8 618.5 L661.5 619.3 L664.2 620.0 L666.8 620.8 L669.5 621.5 L672.2 622.2 L674.9 622.8 L677.6 623.5 L680.3 624.1 L683.0 624.7 L685.7 625.2 L688.4 625.7 L691.1 626.2 L693.7 626.7 L696.4 627.2 L699.1 627.6 L701.8 628.0 L704.5 628.4 L707.2 628.8 L709.9 629.2 L712.6 629.5 L715.3 629.8 L718.0 630.1 L720.6 630.3 L723.3 630.6 L726.0 630.8 L728.7 631.0 L731.4 631.2 L734.1 631.4 L736.8 631.6 L739.5 631.7 L742.2 631.8 L744.8 631.9 L747.5 632.0 L750.2 632.1 L752.9 632.1 L755.6 632.2 L758.3 632.2 L761.0 632.2 L763.7 632.2 L766.4 632.2 L769.1 632.2 L771.7 632.2 L774.4 632.1 L777.1 632.1 L779.8 632.0 L782.5 631.9 L785.2 631.8 L787.9 631.7 L790.6 631.6 L793.3 631.5 L796.0 631.4 L798.6 631.2 L801.3 631.1 L804.0 631.0 L806.7 630.8 L809.4 630.6 L812.1 630.5 L814.8 630.3 L817.5 630.1 L820.2 629.9 L822.9 629.7 L825.5 629.5 L828.2 629.3 L830.9 629.1 L833.6 628.9 L836.3 628.6 L839.0 628.3 L841.7 628.1 L844.4 627.8 L847.1 627.5 L849.8 627.2 L852.4 626.9 L855.1 626.5 L857.8 626.2 L860.5 625.8 L863.2 625.4 L865.9 625.0 L868.6 624.6 L871.3 624.1 L874.0 623.7 L876.6 623.2 L879.3 622.7 L882.0 622.1 L884.7 621.6 L887.4 621.0 L890.1 620.4 L892.8 619.7 L895.5 619.1 L898.2 618.4 L900.9 617.7 L903.5 616.9 L906.2 616.2 L908.9 615.4 L911.6 614.6 L914.3 613.7 L917.0 612.8 L919.7 611.9 L922.4 611.0 L925.1 610.1 L927.8 609.1 L930.4 608.2 L933.1 607.2 L935.8 606.2 L938.5 605.2 L941.2 604.2 L943.9 603.2 L946.6 602.2 L949.3 601.1 L952.0 600.0 L954.7 598.9 L957.3 597.8 L960.0 596.6 L962.7 595.3 L965.4 594.0 L968.1 592.6 L970.8 591.2 L973.5 589.7 L976.2 588.1 L978.9 586.5 L981.6 584.7 L984.2 582.9 L986.9 581.0 L989.6 579.0 L992.3 576.9 L995.0 574.7 L997.7 572.3 L1000.4 569.9 L1003.1 567.3 L1005.8 564.6 L1008.4 561.7 L1011.1 558.7 L1013.8 555.6 L1016.5 552.4 L1019.2 549.0 L1021.9 545.4 L1024.6 541.7 L1027.3 537.9 L1030.0 533.9 L1032.7 529.7 L1035.3 525.4 L1038.0 521.0 L1040.7 516.4 L1043.4 511.7 L1046.1 506.8 L1048.8 501.8 L1051.5 496.7 L1054.2 491.4 L1056.9 486.1 L1059.6 480.6 L1062.2 475.0 L1064.9 469.3 L1067.6 463.5 L1070.3 457.6 L1073.0 451.6 L1075.7 445.6 L1078.4 439.5 L1081.1 433.4 L1083.8 427.2 L1086.5 421.0 L1089.1 414.7 L1091.8 408.4 L1094.5 402.1 L1097.2 395.9 L1099.9 389.6 L1102.6 383.3 L1105.3 377.0 L1108.0 370.8 L1110.7 364.6 L1113.4 358.4 L1116.0 352.3 L1118.7 346.3 L1121.4 340.3 L1124.1 334.4 L1126.8 328.5 L1129.5 322.8 L1132.2 317.1 L1134.9 311.5 L1137.6 306.1 L1140.3 300.7 L1142.9 295.5 L1145.6 290.3 L1148.3 285.3 L1151.0 280.4 L1153.7 275.6 L1156.4 271.0 L1159.1 266.5 L1161.8 262.2 L1164.5 258.0 L1167.1 254.0 L1169.8 250.1 L1172.5 246.4 L1175.2 242.9 L1177.9 239.5 L1180.6 236.3 L1183.3 233.3 L1186.0 230.4 L1188.7 227.8 L1191.4 225.3 L1194.0 223.0 L1196.7 220.9 L1199.4 218.9 L1202.1 217.2 L1204.8 215.6 L1207.5 214.2 L1210.2 213.0 L1212.9 212.0 L1215.6 211.2 L1218.3 210.5 L1220.9 210.1 L1223.6 209.8 L1226.3 209.6 L1229.0 209.6 L1231.7 209.8 L1234.4 210.2 L1237.1 210.9 L1239.8 211.7 L1242.5 212.7 L1245.2 213.9 L1247.8 215.3 L1250.5 216.9 L1253.2 218.7 L1255.9 220.7 L1258.6 222.9 L1261.3 225.2 L1264.0 227.7 L1266.7 230.4 L1269.4 233.2 L1272.1 236.2 L1274.7 239.4 L1277.4 242.6 L1280.1 246.0 L1282.8 249.5 L1285.5 253.2 L1288.2 256.9 L1290.9 260.8 L1293.6 264.7 L1296.3 268.8 L1298.9 272.9 L1301.6 277.2 L1304.3 281.5 L1307.0 285.8 L1309.7 290.3 L1312.4 294.7 L1315.1 299.3 L1317.8 303.9 L1320.5 308.5 L1323.2 313.2 L1325.8 317.9 L1328.5 322.6 L1331.2 327.4 L1333.9 332.2 L1336.6 337.0 L1339.3 341.8 L1342.0 346.6 L1344.7 351.5 L1347.4 356.3 L1350.1 361.1 L1352.7 365.9 L1355.4 370.7 L1358.1 375.5 L1360.8 380.3 L1363.5 385.1 L1366.2 389.8 L1368.9 394.5 L1371.6 399.2 L1374.3 403.8 L1377.0 408.4 L1379.6 413.0 L1382.3 417.5 L1385.0 422.0 L1387.7 426.4 L1390.4 430.8 L1393.1 435.2 L1395.8 439.5 L1398.5 443.7 L1401.2 447.9 L1403.9 452.0 L1406.5 456.0 L1409.2 460.0 L1411.9 464.0 L1414.6 467.8 L1417.3 471.6 L1420.0 475.4 L1422.7 479.0 L1425.4 482.6 L1428.1 486.1 L1430.7 489.6 L1433.4 493.0 L1436.1 496.3 L1438.8 499.5 L1441.5 502.7 L1444.2 505.8 L1446.9 508.9 L1449.6 511.8 L1452.3 514.7 L1455.0 517.5 L1457.6 520.2 L1460.3 522.7 L1463.0 525.4 L1465.7 528.1 L1468.4 530.4 L1471.1 532.6 L1473.8 535.0 L1476.5 537.5 L1479.2 539.4 L1481.9 541.2 L1484.5 543.4 L1487.2 545.6 L1489.9 547.8 L1492.6 549.9 L1495.3 551.4 L1498.0 552.8 L1500.7 554.8 L1503.4 556.9 L1506.1 558.7 L1508.8 560.4 L1511.4 561.7 L1514.1 562.9 L1516.8 564.7 L1519.5 566.4 L1522.2 568.1 L1524.9 569.7 L1527.6 570.1 L1530.3 570.4 L1533.0 571.9 L1535.7 573.4 L1538.3 575.8 L1541.0 578.3 L1543.7 577.9 L1546.4 577.5 L1549.1 578.4 L1551.8 579.2 L1554.5 580.8 L1557.2 582.5 L1559.9 585.0 L1562.5 587.5 L1565.2 587.1 L1567.9 586.6 L1570.6 588.8 L1573.3 591.0 L1576.0 590.5 L1578.7 589.9 L1581.4 590.8 L1584.1 591.7 L1586.8 592.1 L1589.4 592.5 L1592.1 593.2" stroke="#9a2be8" stroke-width="3.3"/>
<path d="M244.5 560.9 L247.2 561.2 L249.9 561.6 L252.6 562.0 L255.3 562.3 L258.0 562.7 L260.7 563.0 L263.4 563.4 L266.1 563.7 L268.8 564.0 L271.4 564.4 L274.1 564.7 L276.8 565.0 L279.5 565.3 L282.2 565.6 L284.9 565.9 L287.6 566.2 L290.3 566.5 L293.0 566.8 L295.7 567.1 L298.3 567.3 L301.0 567.6 L303.7 567.9 L306.4 568.2 L309.1 568.4 L311.8 568.7 L314.5 569.0 L317.2 569.2 L319.9 569.5 L322.6 569.8 L325.2 570.0 L327.9 570.3 L330.6 570.6 L333.3 570.8 L336.0 571.1 L338.7 571.4 L341.4 571.6 L344.1 571.9 L346.8 572.2 L349.4 572.4 L352.1 572.7 L354.8 573.0 L357.5 573.2 L360.2 573.5 L362.9 573.8 L365.6 574.1 L368.3 574.4 L371.0 574.7 L373.7 574.9 L376.3 575.2 L379.0 575.5 L381.7 575.8 L384.4 576.0 L387.1 576.3 L389.8 576.5 L392.5 576.8 L395.2 577.0 L397.9 577.2 L400.6 577.4 L403.2 577.6 L405.9 577.7 L408.6 577.9 L411.3 578.0 L414.0 578.1 L416.7 578.2 L419.4 578.2 L422.1 578.2 L424.8 578.2 L427.5 578.2 L430.1 578.1 L432.8 578.0 L435.5 577.9 L438.2 577.8 L440.9 577.6 L443.6 577.3 L446.3 577.1 L449.0 576.8 L451.7 576.4 L454.4 576.1 L457.0 575.7 L459.7 575.3 L462.4 574.9 L465.1 574.4 L467.8 574.0 L470.5 573.5 L473.2 573.0 L475.9 572.5 L478.6 572.0 L481.2 571.5 L483.9 571.0 L486.6 570.5 L489.3 569.9 L492.0 569.4 L494.7 568.9 L497.4 568.4 L500.1 567.9 L502.8 567.4 L505.5 566.9 L508.1 566.4 L510.8 566.0 L513.5 565.6 L516.2 565.3 L518.9 565.0 L521.6 564.8 L524.3 564.7 L527.0 564.7 L529.7 564.8 L532.4 564.9 L535.0 565.2 L537.7 565.6 L540.4 566.1 L543.1 566.6 L545.8 567.3 L548.5 568.0 L551.2 568.8 L553.9 569.7 L556.6 570.7 L559.3 571.7 L561.9 572.8 L564.6 574.0 L567.3 575.1 L570.0 576.4 L572.7 577.7 L575.4 579.0 L578.1 580.3 L580.8 581.6 L583.5 583.0 L586.2 584.4 L588.8 585.8 L591.5 587.2 L594.2 588.6 L596.9 590.0 L599.6 591.4 L602.3 592.8 L605.0 594.1 L607.7 595.5 L610.4 596.9 L613.0 598.2 L615.7 599.5 L618.4 600.8 L621.1 602.1 L623.8 603.3 L626.5 604.6 L629.2 605.7 L631.9 606.9 L634.6 608.1 L637.3 609.2 L639.9 610.2 L642.6 611.3 L645.3 612.3 L648.0 613.3 L650.7 614.2 L653.4 615.1 L656.1 616.0 L658.8 616.8 L661.5 617.6 L664.2 618.4 L666.8 619.2 L669.5 619.9 L672.2 620.6 L674.9 621.3 L677.6 621.9 L680.3 622.6 L683.0 623.1 L685.7 623.7 L688.4 624.2 L691.1 624.8 L693.7 625.2 L696.4 625.7 L699.1 626.1 L701.8 626.6 L704.5 626.9 L707.2 627.3 L709.9 627.7 L712.6 628.0 L715.3 628.3 L718.0 628.6 L720.6 628.8 L723.3 629.1 L726.0 629.3 L728.7 629.5 L731.4 629.7 L734.1 629.8 L736.8 630.0 L739.5 630.1 L742.2 630.2 L744.8 630.3 L747.5 630.4 L750.2 630.4 L752.9 630.5 L755.6 630.5 L758.3 630.5 L761.0 630.5 L763.7 630.5 L766.4 630.5 L769.1 630.4 L771.7 630.4 L774.4 630.3 L777.1 630.3 L779.8 630.2 L782.5 630.1 L785.2 630.0 L787.9 629.9 L790.6 629.7 L793.3 629.6 L796.0 629.5 L798.6 629.3 L801.3 629.1 L804.0 629.0 L806.7 628.8 L809.4 628.6 L812.1 628.5 L814.8 628.3 L817.5 628.1 L820.2 627.9 L822.9 627.6 L825.5 627.4 L828.2 627.2 L830.9 626.9 L833.6 626.7 L836.3 626.4 L839.0 626.1 L841.7 625.8 L844.4 625.5 L847.1 625.2 L849.8 624.8 L852.4 624.5 L855.1 624.1 L857.8 623.7 L860.5 623.3 L863.2 622.8 L865.9 622.4 L868.6 621.9 L871.3 621.4 L874.0 620.9 L876.6 620.3 L879.3 619.7 L882.0 619.1 L884.7 618.5 L887.4 617.8 L890.1 617.1 L892.8 616.4 L895.5 615.7 L898.2 614.9 L900.9 614.0 L903.5 613.2 L906.2 612.3 L908.9 611.3 L911.6 610.4 L914.3 609.3 L917.0 608.3 L919.7 607.2 L922.4 606.1 L925.1 604.9 L927.8 603.7 L930.4 602.5 L933.1 601.3 L935.8 600.0 L938.5 598.7 L941.2 597.4 L943.9 596.1 L946.6 594.8 L949.3 593.4 L952.0 592.0 L954.7 590.5 L957.3 589.0 L960.0 587.4 L962.7 585.8 L965.4 584.1 L968.1 582.3 L970.8 580.5 L973.5 578.6 L976.2 576.6 L978.9 574.6 L981.6 572.5 L984.2 570.3 L986.9 568.0 L989.6 565.7 L992.3 563.3 L995.0 560.8 L997.7 558.2 L1000.4 555.6 L1003.1 552.9 L1005.8 550.1 L1008.4 547.2 L1011.1 544.2 L1013.8 541.2 L1016.5 538.1 L1019.2 534.9 L1021.9 531.6 L1024.6 528.2 L1027.3 524.8 L1030.0 521.3 L1032.7 517.8 L1035.3 514.1 L1038.0 510.4 L1040.7 506.7 L1043.4 502.8 L1046.1 499.0 L1048.8 495.0 L1051.5 491.0 L1054.2 487.0 L1056.9 482.9 L1059.6 478.7 L1062.2 474.6 L1064.9 470.3 L1067.6 466.1 L1070.3 461.8 L1073.0 457.5 L1075.7 453.1 L1078.4 448.8 L1081.1 444.4 L1083.8 440.0 L1086.5 435.6 L1089.1 431.2 L1091.8 426.8 L1094.5 422.4 L1097.2 418.0 L1099.9 413.7 L1102.6 409.3 L1105.3 405.0 L1108.0 400.6 L1110.7 396.4 L1113.4 392.1 L1116.0 387.9 L1118.7 383.7 L1121.4 379.6 L1124.1 375.5 L1126.8 371.5 L1129.5 367.6 L1132.2 363.7 L1134.9 359.9 L1137.6 356.2 L1140.3 352.5 L1142.9 349.0 L1145.6 345.5 L1148.3 342.1 L1151.0 338.9 L1153.7 335.7 L1156.4 332.6 L1159.1 329.7 L1161.8 326.8 L1164.5 324.1 L1167.1 321.5 L1169.8 319.1 L1172.5 316.7 L1175.2 314.5 L1177.9 312.4 L1180.6 310.5 L1183.3 308.7 L1186.0 307.1 L1188.7 305.6 L1191.4 304.2 L1194.0 303.0 L1196.7 301.9 L1199.4 300.9 L1202.1 300.1 L1204.8 299.5 L1207.5 299.0 L1210.2 298.6 L1212.9 298.3 L1215.6 298.2 L1218.3 298.2 L1220.9 298.2 L1223.6 298.4 L1226.3 298.8 L1229.0 299.2 L1231.7 299.9 L1234.4 300.6 L1237.1 301.5 L1239.8 302.5 L1242.5 303.7 L1245.2 305.0 L1247.8 306.4 L1250.5 308.0 L1253.2 309.7 L1255.9 311.5 L1258.6 313.5 L1261.3 315.6 L1264.0 317.8 L1266.7 320.1 L1269.4 322.6 L1272.1 325.1 L1274.7 327.8 L1277.4 330.6 L1280.1 333.4 L1282.8 336.4 L1285.5 339.4 L1288.2 342.6 L1290.9 345.8 L1293.6 349.1 L1296.3 352.5 L1298.9 355.9 L1301.6 359.5 L1304.3 363.0 L1307.0 366.7 L1309.7 370.3 L1312.4 374.1 L1315.1 377.8 L1317.8 381.6 L1320.5 385.5 L1323.2 389.3 L1325.8 393.2 L1328.5 397.2 L1331.2 401.1 L1333.9 405.0 L1336.6 409.0 L1339.3 413.0 L1342.0 416.9 L1344.7 420.9 L1347.4 424.9 L1350.1 428.8 L1352.7 432.8 L1355.4 436.7 L1358.1 440.6 L1360.8 444.5 L1363.5 448.4 L1366.2 452.2 L1368.9 456.0 L1371.6 459.8 L1374.3 463.5 L1377.0 467.2 L1379.6 470.9 L1382.3 474.5 L1385.0 478.1 L1387.7 481.6 L1390.4 485.1 L1393.1 488.6 L1395.8 492.0 L1398.5 495.3 L1401.2 498.6 L1403.9 501.8 L1406.5 505.0 L1409.2 508.1 L1411.9 511.2 L1414.6 514.2 L1417.3 517.1 L1420.0 520.0 L1422.7 522.8 L1425.4 525.6 L1428.1 528.3 L1430.7 530.9 L1433.4 533.5 L1436.1 536.0 L1438.8 538.5 L1441.5 540.9 L1444.2 543.2 L1446.9 545.5 L1449.6 547.7 L1452.3 549.8 L1455.0 551.9 L1457.6 554.0 L1460.3 556.2 L1463.0 558.1 L1465.7 559.9 L1468.4 561.6 L1471.1 563.3 L1473.8 565.2 L1476.5 567.0 L1479.2 568.5 L1481.9 569.8 L1484.5 571.5 L1487.2 573.2 L1489.9 574.9 L1492.6 576.7 L1495.3 577.8 L1498.0 578.8 L1500.7 579.3 L1503.4 579.7 L1506.1 581.2 L1508.8 582.6 L1511.4 584.2 L1514.1 585.8 L1516.8 586.7 L1519.5 587.6 L1522.2 588.0 L1524.9 588.3 L1527.6 589.6 L1530.3 591.0 L1533.0 591.5 L1535.7 591.9 L1538.3 592.6 L1541.0 593.3 L1543.7 594.3 L1546.4 595.3 L1549.1 596.3 L1551.8 597.4 L1554.5 597.3 L1557.2 597.1 L1559.9 597.5 L1562.5 597.9 L1565.2 597.9 L1567.9 597.9 L1570.6 598.0 L1573.3 598.0 L1576.0 600.1 L1578.7 602.2 L1581.4 603.0 L1584.1 603.8 L1586.8 602.6 L1589.4 601.5 L1592.1 602.6" stroke="#f07a30" stroke-width="3.3"/>
<path d="M244.5 560.9 L247.2 561.2 L249.9 561.6 L252.6 562.0 L255.3 562.3 L258.0 562.7 L260.7 563.0 L263.4 563.4 L266.1 563.7 L268.8 564.0 L271.4 564.4 L274.1 564.7 L276.8 565.0 L279.5 565.3 L282.2 565.6 L284.9 565.9 L287.6 566.2 L290.3 566.5 L293.0 566.8 L295.7 567.1 L298.3 567.3 L301.0 567.6 L303.7 567.9 L306.4 568.2 L309.1 568.4 L311.8 568.7 L314.5 569.0 L317.2 569.2 L319.9 569.5 L322.6 569.8 L325.2 570.0 L327.9 570.3 L330.6 570.6 L333.3 570.8 L336.0 571.1 L338.7 571.4 L341.4 571.6 L344.1 571.9 L346.8 572.2 L349.4 572.4 L352.1 572.7 L354.8 573.0 L357.5 573.2 L360.2 573.5 L362.9 573.8 L365.6 574.1 L368.3 574.4 L371.0 574.7 L373.7 574.9 L376.3 575.2 L379.0 575.5 L381.7 575.8 L384.4 576.0 L387.1 576.3 L389.8 576.5 L392.5 576.8 L395.2 577.0 L397.9 577.2 L400.6 577.4 L403.2 577.6 L405.9 577.7 L408.6 577.9 L411.3 578.0 L414.0 578.1 L416.7 578.2 L419.4 578.2 L422.1 578.2 L424.8 578.2 L427.5 578.2 L430.1 578.1 L432.8 578.0 L435.5 577.9 L438.2 577.8 L440.9 577.6 L443.6 577.3 L446.3 577.1 L449.0 576.8 L451.7 576.4 L454.4 576.1 L457.0 575.7 L459.7 575.3 L462.4 574.9 L465.1 574.4 L467.8 574.0 L470.5 573.5 L473.2 573.0 L475.9 572.5 L478.6 572.0 L481.2 571.5 L483.9 571.0 L486.6 570.5 L489.3 569.9 L492.0 569.4 L494.7 568.9 L497.4 568.4 L500.1 567.9 L502.8 567.4 L505.5 566.9 L508.1 566.4 L510.8 566.0 L513.5 565.6 L516.2 565.3 L518.9 565.0 L521.6 564.8 L524.3 564.7 L527.0 564.7 L529.7 564.8 L532.4 564.9 L535.0 565.2 L537.7 565.6 L540.4 566.1 L543.1 566.6 L545.8 567.3 L548.5 568.0 L551.2 568.8 L553.9 569.7 L556.6 570.7 L559.3 571.7 L561.9 572.8 L564.6 574.0 L567.3 575.1 L570.0 576.4 L572.7 577.7 L575.4 579.0 L578.1 580.3 L580.8 581.6 L583.5 583.0 L586.2 584.4 L588.8 585.8 L591.5 587.2 L594.2 588.6 L596.9 590.0 L599.6 591.4 L602.3 592.8 L605.0 594.1 L607.7 595.5 L610.4 596.9 L613.0 598.2 L615.7 599.5 L618.4 600.8 L621.1 602.1 L623.8 603.3 L626.5 604.6 L629.2 605.7 L631.9 606.9 L634.6 608.1 L637.3 609.2 L639.9 610.2 L642.6 611.3 L645.3 612.3 L648.0 613.3 L650.7 614.2 L653.4 615.1 L656.1 616.0 L658.8 616.8 L661.5 617.6 L664.2 618.4 L666.8 619.2 L669.5 619.9 L672.2 620.6 L674.9 621.3 L677.6 621.9 L680.3 622.6 L683.0 623.1 L685.7 623.7 L688.4 624.2 L691.1 624.8 L693.7 625.2 L696.4 625.7 L699.1 626.1 L701.8 626.6 L704.5 626.9 L707.2 627.3 L709.9 627.7 L712.6 628.0 L715.3 628.3 L718.0 628.6 L720.6 628.8 L723.3 629.1 L726.0 629.3 L728.7 629.5 L731.4 629.7 L734.1 629.8 L736.8 630.0 L739.5 630.1 L742.2 630.2 L744.8 630.3 L747.5 630.4 L750.2 630.4 L752.9 630.5 L755.6 630.5 L758.3 630.5 L761.0 630.5 L763.7 630.5 L766.4 630.5 L769.1 630.4 L771.7 630.4 L774.4 630.3 L777.1 630.3 L779.8 630.2 L782.5 630.1 L785.2 630.0 L787.9 629.9 L790.6 629.7 L793.3 629.6 L796.0 629.5 L798.6 629.3 L801.3 629.1 L804.0 629.0 L806.7 628.8 L809.4 628.6 L812.1 628.4 L814.8 628.3 L817.5 628.1 L820.2 627.9 L822.9 627.7 L825.5 627.5 L828.2 627.2 L830.9 627.0 L833.6 626.8 L836.3 626.6 L839.0 626.4 L841.7 626.2 L844.4 626.0 L847.1 625.7 L849.8 625.5 L852.4 625.3 L855.1 625.1 L857.8 624.9 L860.5 624.7 L863.2 624.4 L865.9 624.2 L868.6 624.0 L871.3 623.8 L874.0 623.5 L876.6 623.3 L879.3 623.0 L882.0 622.8 L884.7 622.5 L887.4 622.3 L890.1 622.0 L892.8 621.7 L895.5 621.4 L898.2 621.1 L900.9 620.7 L903.5 620.4 L906.2 620.0 L908.9 619.7 L911.6 619.3 L914.3 618.8 L917.0 618.4 L919.7 617.9 L922.4 617.4 L925.1 616.9 L927.8 616.4 L930.4 615.8 L933.1 615.2 L935.8 614.6 L938.5 614.0 L941.2 613.3 L943.9 612.6 L946.6 611.9 L949.3 611.2 L952.0 610.4 L954.7 609.6 L957.3 608.7 L960.0 607.8 L962.7 606.9 L965.4 605.9 L968.1 604.8 L970.8 603.7 L973.5 602.5 L976.2 601.3 L978.9 600.0 L981.6 598.6 L984.2 597.2 L986.9 595.6 L989.6 594.1 L992.3 592.4 L995.0 590.6 L997.7 588.8 L1000.4 586.9 L1003.1 585.0 L1005.8 582.9 L1008.4 580.7 L1011.1 578.5 L1013.8 576.2 L1016.5 573.8 L1019.2 571.3 L1021.9 568.8 L1024.6 566.1 L1027.3 563.4 L1030.0 560.6 L1032.7 557.7 L1035.3 554.8 L1038.0 551.7 L1040.7 548.6 L1043.4 545.5 L1046.1 542.2 L1048.8 538.9 L1051.5 535.6 L1054.2 532.2 L1056.9 528.7 L1059.6 525.3 L1062.2 521.7 L1064.9 518.1 L1067.6 514.5 L1070.3 510.9 L1073.0 507.2 L1075.7 503.6 L1078.4 499.9 L1081.1 496.2 L1083.8 492.5 L1086.5 488.8 L1089.1 485.1 L1091.8 481.4 L1094.5 477.7 L1097.2 474.0 L1099.9 470.4 L1102.6 466.8 L1105.3 463.3 L1108.0 459.7 L1110.7 456.2 L1113.4 452.8 L1116.0 449.4 L1118.7 446.1 L1121.4 442.8 L1124.1 439.6 L1126.8 436.5 L1129.5 433.4 L1132.2 430.4 L1134.9 427.5 L1137.6 424.7 L1140.3 422.0 L1142.9 419.3 L1145.6 416.8 L1148.3 414.3 L1151.0 412.0 L1153.7 409.7 L1156.4 407.6 L1159.1 405.5 L1161.8 403.6 L1164.5 401.8 L1167.1 400.1 L1169.8 398.5 L1172.5 397.0 L1175.2 395.7 L1177.9 394.5 L1180.6 393.3 L1183.3 392.4 L1186.0 391.5 L1188.7 390.7 L1191.4 390.1 L1194.0 389.5 L1196.7 389.1 L1199.4 388.8 L1202.1 388.5 L1204.8 388.4 L1207.5 388.4 L1210.2 388.4 L1212.9 388.6 L1215.6 388.8 L1218.3 389.1 L1220.9 389.5 L1223.6 390.0 L1226.3 390.6 L1229.0 391.2 L1231.7 392.0 L1234.4 392.9 L1237.1 393.9 L1239.8 394.9 L1242.5 396.1 L1245.2 397.3 L1247.8 398.7 L1250.5 400.1 L1253.2 401.6 L1255.9 403.2 L1258.6 404.9 L1261.3 406.7 L1264.0 408.5 L1266.7 410.4 L1269.4 412.4 L1272.1 414.5 L1274.7 416.6 L1277.4 418.8 L1280.1 421.1 L1282.8 423.4 L1285.5 425.8 L1288.2 428.2 L1290.9 430.7 L1293.6 433.2 L1296.3 435.8 L1298.9 438.4 L1301.6 441.0 L1304.3 443.7 L1307.0 446.4 L1309.7 449.1 L1312.4 451.9 L1315.1 454.7 L1317.8 457.5 L1320.5 460.3 L1323.2 463.2 L1325.8 466.0 L1328.5 468.9 L1331.2 471.8 L1333.9 474.7 L1336.6 477.5 L1339.3 480.4 L1342.0 483.3 L1344.7 486.2 L1347.4 489.0 L1350.1 491.9 L1352.7 494.7 L1355.4 497.6 L1358.1 500.4 L1360.8 503.2 L1363.5 506.0 L1366.2 508.7 L1368.9 511.5 L1371.6 514.2 L1374.3 516.9 L1377.0 519.5 L1379.6 522.1 L1382.3 524.7 L1385.0 527.3 L1387.7 529.8 L1390.4 532.3 L1393.1 534.8 L1395.8 537.2 L1398.5 539.6 L1401.2 541.9 L1403.9 544.2 L1406.5 546.5 L1409.2 548.7 L1411.9 550.9 L1414.6 553.0 L1417.3 555.1 L1420.0 557.2 L1422.7 559.2 L1425.4 561.2 L1428.1 563.1 L1430.7 565.0 L1433.4 566.8 L1436.1 568.6 L1438.8 570.4 L1441.5 572.1 L1444.2 573.8 L1446.9 575.4 L1449.6 577.0 L1452.3 578.5 L1455.0 579.9 L1457.6 581.5 L1460.3 583.0 L1463.0 584.4 L1465.7 585.7 L1468.4 586.8 L1471.1 587.8 L1473.8 589.1 L1476.5 590.5 L1479.2 591.7 L1481.9 592.8 L1484.5 593.9 L1487.2 594.9 L1489.9 595.9 L1492.6 596.9 L1495.3 598.3 L1498.0 599.8 L1500.7 600.4 L1503.4 600.9 L1506.1 601.3 L1508.8 601.5 L1511.4 602.7 L1514.1 604.0 L1516.8 604.9 L1519.5 605.8 L1522.2 605.9 L1524.9 605.9 L1527.6 606.8 L1530.3 607.7 L1533.0 607.9 L1535.7 608.2 L1538.3 609.1 L1541.0 610.0 L1543.7 610.3 L1546.4 610.7 L1549.1 611.0 L1551.8 611.4 L1554.5 611.2 L1557.2 610.9 L1559.9 612.7 L1562.5 614.6 L1565.2 615.5 L1567.9 616.4 L1570.6 615.7 L1573.3 614.9 L1576.0 615.5 L1578.7 616.0 L1581.4 616.9 L1584.1 617.8 L1586.8 618.9 L1589.4 620.1 L1592.1 619.7" stroke="#e2a8d0" stroke-width="2.8"/>
<path d="M244.5 556.8 L247.2 557.2 L249.9 557.7 L252.6 558.1 L255.3 558.4 L258.0 558.8 L260.7 559.2 L263.4 559.5 L266.1 559.9 L268.8 560.2 L271.4 560.5 L274.1 560.8 L276.8 561.1 L279.5 561.4 L282.2 561.7 L284.9 562.0 L287.6 562.3 L290.3 562.6 L293.0 562.8 L295.7 563.1 L298.3 563.4 L301.0 563.6 L303.7 563.9 L306.4 564.1 L309.1 564.4 L311.8 564.6 L314.5 564.9 L317.2 565.2 L319.9 565.4 L322.6 565.7 L325.2 565.9 L327.9 566.2 L330.6 566.4 L333.3 566.7 L336.0 567.0 L338.7 567.3 L341.4 567.5 L344.1 567.8 L346.8 568.1 L349.4 568.4 L352.1 568.7 L354.8 569.1 L357.5 569.4 L360.2 569.7 L362.9 570.1 L365.6 570.4 L368.3 570.8 L371.0 571.2 L373.7 571.5 L376.3 571.9 L379.0 572.3 L381.7 572.7 L384.4 573.0 L387.1 573.4 L389.8 573.7 L392.5 574.1 L395.2 574.4 L397.9 574.7 L400.6 575.0 L403.2 575.3 L405.9 575.6 L408.6 575.8 L411.3 576.1 L414.0 576.3 L416.7 576.4 L419.4 576.6 L422.1 576.7 L424.8 576.8 L427.5 576.8 L430.1 576.8 L432.8 576.8 L435.5 576.7 L438.2 576.6 L440.9 576.4 L443.6 576.2 L446.3 575.9 L449.0 575.7 L451.7 575.3 L454.4 575.0 L457.0 574.6 L459.7 574.1 L462.4 573.7 L465.1 573.2 L467.8 572.7 L470.5 572.2 L473.2 571.6 L475.9 571.1 L478.6 570.5 L481.2 570.0 L483.9 569.4 L486.6 568.8 L489.3 568.2 L492.0 567.6 L494.7 567.0 L497.4 566.5 L500.1 565.9 L502.8 565.4 L505.5 564.8 L508.1 564.3 L510.8 563.8 L513.5 563.4 L516.2 563.0 L518.9 562.6 L521.6 562.4 L524.3 562.2 L527.0 562.0 L529.7 562.0 L532.4 562.0 L535.0 562.2 L537.7 562.4 L540.4 562.7 L543.1 563.1 L545.8 563.6 L548.5 564.2 L551.2 564.8 L553.9 565.6 L556.6 566.4 L559.3 567.3 L561.9 568.2 L564.6 569.3 L567.3 570.4 L570.0 571.5 L572.7 572.8 L575.4 574.1 L578.1 575.4 L580.8 576.8 L583.5 578.2 L586.2 579.6 L588.8 581.1 L591.5 582.5 L594.2 584.0 L596.9 585.5 L599.6 586.9 L602.3 588.4 L605.0 589.9 L607.7 591.3 L610.4 592.7 L613.0 594.1 L615.7 595.4 L618.4 596.8 L621.1 598.1 L623.8 599.4 L626.5 600.6 L629.2 601.8 L631.9 603.0 L634.6 604.1 L637.3 605.2 L639.9 606.3 L642.6 607.3 L645.3 608.3 L648.0 609.2 L650.7 610.2 L653.4 611.0 L656.1 611.9 L658.8 612.7 L661.5 613.4 L664.2 614.2 L666.8 614.9 L669.5 615.6 L672.2 616.2 L674.9 616.9 L677.6 617.5 L680.3 618.0 L683.0 618.6 L685.7 619.1 L688.4 619.6 L691.1 620.1 L693.7 620.6 L696.4 621.0 L699.1 621.4 L701.8 621.8 L704.5 622.2 L707.2 622.6 L709.9 622.9 L712.6 623.2 L715.3 623.5 L718.0 623.8 L720.6 624.1 L723.3 624.3 L726.0 624.6 L728.7 624.8 L731.4 625.0 L734.1 625.2 L736.8 625.4 L739.5 625.5 L742.2 625.7 L744.8 625.8 L747.5 625.9 L750.2 626.0 L752.9 626.1 L755.6 626.2 L758.3 626.2 L761.0 626.3 L763.7 626.3 L766.4 626.3 L769.1 626.3 L771.7 626.3 L774.4 626.3 L777.1 626.3 L779.8 626.2 L782.5 626.2 L785.2 626.1 L787.9 626.1 L790.6 626.0 L793.3 625.9 L796.0 625.8 L798.6 625.7 L801.3 625.6 L804.0 625.5 L806.7 625.4 L809.4 625.3 L812.1 625.1 L814.8 625.0 L817.5 624.8 L820.2 624.7 L822.9 624.5 L825.5 624.3 L828.2 624.2 L830.9 624.0 L833.6 623.8 L836.3 623.6 L839.0 623.4 L841.7 623.2 L844.4 623.0 L847.1 622.7 L849.8 622.5 L852.4 622.3 L855.1 622.0 L857.8 621.8 L860.5 621.5 L863.2 621.2 L865.9 621.0 L868.6 620.7 L871.3 620.3 L874.0 620.0 L876.6 619.7 L879.3 619.3 L882.0 619.0 L884.7 618.6 L887.4 618.2 L890.1 617.7 L892.8 617.3 L895.5 616.8 L898.2 616.3 L900.9 615.8 L903.5 615.2 L906.2 614.6 L908.9 614.0 L911.6 613.4 L914.3 612.7 L917.0 612.0 L919.7 611.2 L922.4 610.5 L925.1 609.7 L927.8 608.8 L930.4 608.0 L933.1 607.1 L935.8 606.2 L938.5 605.3 L941.2 604.3 L943.9 603.4 L946.6 602.4 L949.3 601.4 L952.0 600.4 L954.7 599.4 L957.3 598.3 L960.0 597.2 L962.7 596.0 L965.4 594.9 L968.1 593.7 L970.8 592.4 L973.5 591.2 L976.2 589.8 L978.9 588.5 L981.6 587.1 L984.2 585.7 L986.9 584.3 L989.6 582.8 L992.3 581.3 L995.0 579.8 L997.7 578.2 L1000.4 576.6 L1003.1 575.0 L1005.8 573.4 L1008.4 571.7 L1011.1 570.0 L1013.8 568.2 L1016.5 566.5 L1019.2 564.7 L1021.9 562.9 L1024.6 561.0 L1027.3 559.2 L1030.0 557.3 L1032.7 555.4 L1035.3 553.4 L1038.0 551.5 L1040.7 549.6 L1043.4 547.6 L1046.1 545.6 L1048.8 543.6 L1051.5 541.6 L1054.2 539.6 L1056.9 537.6 L1059.6 535.5 L1062.2 533.5 L1064.9 531.5 L1067.6 529.4 L1070.3 527.4 L1073.0 525.4 L1075.7 523.3 L1078.4 521.3 L1081.1 519.3 L1083.8 517.3 L1086.5 515.3 L1089.1 513.4 L1091.8 511.4 L1094.5 509.5 L1097.2 507.6 L1099.9 505.7 L1102.6 503.8 L1105.3 502.0 L1108.0 500.2 L1110.7 498.4 L1113.4 496.7 L1116.0 495.0 L1118.7 493.3 L1121.4 491.7 L1124.1 490.2 L1126.8 488.6 L1129.5 487.2 L1132.2 485.7 L1134.9 484.4 L1137.6 483.1 L1140.3 481.8 L1142.9 480.6 L1145.6 479.5 L1148.3 478.4 L1151.0 477.4 L1153.7 476.4 L1156.4 475.6 L1159.1 474.8 L1161.8 474.0 L1164.5 473.3 L1167.1 472.7 L1169.8 472.2 L1172.5 471.7 L1175.2 471.3 L1177.9 471.0 L1180.6 470.7 L1183.3 470.5 L1186.0 470.4 L1188.7 470.3 L1191.4 470.3 L1194.0 470.3 L1196.7 470.4 L1199.4 470.6 L1202.1 470.8 L1204.8 471.0 L1207.5 471.3 L1210.2 471.7 L1212.9 472.2 L1215.6 472.7 L1218.3 473.2 L1220.9 473.9 L1223.6 474.5 L1226.3 475.3 L1229.0 476.1 L1231.7 477.0 L1234.4 477.9 L1237.1 478.9 L1239.8 479.9 L1242.5 481.0 L1245.2 482.1 L1247.8 483.3 L1250.5 484.5 L1253.2 485.8 L1255.9 487.1 L1258.6 488.5 L1261.3 489.9 L1264.0 491.4 L1266.7 492.9 L1269.4 494.4 L1272.1 496.0 L1274.7 497.6 L1277.4 499.2 L1280.1 500.9 L1282.8 502.6 L1285.5 504.3 L1288.2 506.0 L1290.9 507.8 L1293.6 509.6 L1296.3 511.4 L1298.9 513.2 L1301.6 515.0 L1304.3 516.9 L1307.0 518.7 L1309.7 520.6 L1312.4 522.4 L1315.1 524.3 L1317.8 526.2 L1320.5 528.1 L1323.2 530.0 L1325.8 531.9 L1328.5 533.7 L1331.2 535.6 L1333.9 537.5 L1336.6 539.4 L1339.3 541.2 L1342.0 543.1 L1344.7 544.9 L1347.4 546.8 L1350.1 548.6 L1352.7 550.4 L1355.4 552.2 L1358.1 553.9 L1360.8 555.7 L1363.5 557.4 L1366.2 559.2 L1368.9 560.9 L1371.6 562.5 L1374.3 564.2 L1377.0 565.8 L1379.6 567.5 L1382.3 569.1 L1385.0 570.6 L1387.7 572.2 L1390.4 573.7 L1393.1 575.2 L1395.8 576.7 L1398.5 578.1 L1401.2 579.6 L1403.9 581.0 L1406.5 582.3 L1409.2 583.7 L1411.9 585.0 L1414.6 586.3 L1417.3 587.6 L1420.0 588.8 L1422.7 590.1 L1425.4 591.3 L1428.1 592.4 L1430.7 593.6 L1433.4 594.7 L1436.1 595.8 L1438.8 596.9 L1441.5 597.9 L1444.2 598.9 L1446.9 599.9 L1449.6 600.9 L1452.3 601.9 L1455.0 602.8 L1457.6 603.7 L1460.3 604.5 L1463.0 605.4 L1465.7 606.4 L1468.4 607.1 L1471.1 607.8 L1473.8 608.6 L1476.5 609.4 L1479.2 610.0 L1481.9 610.6 L1484.5 611.3 L1487.2 612.0 L1489.9 612.4 L1492.6 612.8 L1495.3 613.7 L1498.0 614.6 L1500.7 615.2 L1503.4 615.8 L1506.1 616.2 L1508.8 616.7 L1511.4 617.4 L1514.1 618.1 L1516.8 617.9 L1519.5 617.6 L1522.2 618.9 L1524.9 620.2 L1527.6 620.5 L1530.3 620.8 L1533.0 621.1 L1535.7 621.2 L1538.3 621.5 L1541.0 621.7 L1543.7 622.3 L1546.4 622.9 L1549.1 622.6 L1551.8 622.2 L1554.5 622.7 L1557.2 623.2 L1559.9 623.3 L1562.5 623.4 L1565.2 623.7 L1567.9 624.1 L1570.6 624.4 L1573.3 624.6 L1576.0 624.7 L1578.7 624.7 L1581.4 625.4 L1584.1 626.0 L1586.8 626.4 L1589.4 626.7 L1592.1 626.1" stroke="#557a3a" stroke-width="2.8"/>
<path d="M244.5 551.4 L247.2 551.9 L249.9 552.4 L252.6 552.8 L255.3 553.2 L258.0 553.6 L260.7 554.0 L263.4 554.4 L266.1 554.7 L268.8 555.1 L271.4 555.4 L274.1 555.7 L276.8 556.0 L279.5 556.3 L282.2 556.6 L284.9 556.8 L287.6 557.1 L290.3 557.3 L293.0 557.6 L295.7 557.8 L298.3 558.1 L301.0 558.3 L303.7 558.5 L306.4 558.8 L309.1 559.0 L311.8 559.2 L314.5 559.5 L317.2 559.7 L319.9 559.9 L322.6 560.2 L325.2 560.4 L327.9 560.7 L330.6 561.0 L333.3 561.2 L336.0 561.5 L338.7 561.8 L341.4 562.1 L344.1 562.4 L346.8 562.8 L349.4 563.1 L352.1 563.5 L354.8 563.9 L357.5 564.3 L360.2 564.7 L362.9 565.1 L365.6 565.5 L368.3 566.0 L371.0 566.5 L373.7 567.0 L376.3 567.5 L379.0 568.0 L381.7 568.5 L384.4 569.0 L387.1 569.5 L389.8 570.0 L392.5 570.5 L395.2 571.0 L397.9 571.5 L400.6 571.9 L403.2 572.4 L405.9 572.8 L408.6 573.1 L411.3 573.5 L414.0 573.8 L416.7 574.1 L419.4 574.4 L422.1 574.6 L424.8 574.8 L427.5 574.9 L430.1 575.0 L432.8 575.1 L435.5 575.1 L438.2 575.0 L440.9 574.9 L443.6 574.7 L446.3 574.4 L449.0 574.2 L451.7 573.8 L454.4 573.4 L457.0 573.0 L459.7 572.6 L462.4 572.1 L465.1 571.5 L467.8 571.0 L470.5 570.4 L473.2 569.8 L475.9 569.2 L478.6 568.5 L481.2 567.9 L483.9 567.2 L486.6 566.6 L489.3 565.9 L492.0 565.2 L494.7 564.6 L497.4 563.9 L500.1 563.3 L502.8 562.6 L505.5 562.0 L508.1 561.5 L510.8 560.9 L513.5 560.4 L516.2 559.9 L518.9 559.4 L521.6 559.1 L524.3 558.7 L527.0 558.5 L529.7 558.3 L532.4 558.1 L535.0 558.1 L537.7 558.1 L540.4 558.2 L543.1 558.4 L545.8 558.7 L548.5 559.0 L551.2 559.5 L553.9 560.0 L556.6 560.6 L559.3 561.3 L561.9 562.1 L564.6 563.0 L567.3 564.0 L570.0 565.1 L572.7 566.3 L575.4 567.5 L578.1 568.8 L580.8 570.2 L583.5 571.7 L586.2 573.2 L588.8 574.7 L591.5 576.3 L594.2 577.9 L596.9 579.4 L599.6 581.0 L602.3 582.6 L605.0 584.1 L607.7 585.7 L610.4 587.1 L613.0 588.6 L615.7 590.0 L618.4 591.4 L621.1 592.8 L623.8 594.1 L626.5 595.3 L629.2 596.6 L631.9 597.8 L634.6 598.9 L637.3 600.0 L639.9 601.0 L642.6 602.0 L645.3 603.0 L648.0 603.9 L650.7 604.8 L653.4 605.6 L656.1 606.4 L658.8 607.1 L661.5 607.8 L664.2 608.5 L666.8 609.2 L669.5 609.8 L672.2 610.4 L674.9 611.0 L677.6 611.5 L680.3 612.0 L683.0 612.5 L685.7 613.0 L688.4 613.4 L691.1 613.9 L693.7 614.3 L696.4 614.7 L699.1 615.1 L701.8 615.5 L704.5 615.9 L707.2 616.2 L709.9 616.5 L712.6 616.9 L715.3 617.2 L718.0 617.5 L720.6 617.8 L723.3 618.0 L726.0 618.3 L728.7 618.5 L731.4 618.8 L734.1 619.0 L736.8 619.2 L739.5 619.4 L742.2 619.6 L744.8 619.8 L747.5 619.9 L750.2 620.1 L752.9 620.2 L755.6 620.3 L758.3 620.5 L761.0 620.6 L763.7 620.7 L766.4 620.7 L769.1 620.8 L771.7 620.9 L774.4 620.9 L777.1 621.0 L779.8 621.0 L782.5 621.0 L785.2 621.0 L787.9 621.0 L790.6 621.0 L793.3 621.0 L796.0 621.0 L798.6 621.0 L801.3 620.9 L804.0 620.9 L806.7 620.8 L809.4 620.8 L812.1 620.7 L814.8 620.6 L817.5 620.5 L820.2 620.4 L822.9 620.3 L825.5 620.1 L828.2 620.0 L830.9 619.8 L833.6 619.7 L836.3 619.5 L839.0 619.3 L841.7 619.1 L844.4 618.8 L847.1 618.6 L849.8 618.3 L852.4 618.1 L855.1 617.8 L857.8 617.5 L860.5 617.1 L863.2 616.8 L865.9 616.4 L868.6 616.1 L871.3 615.7 L874.0 615.3 L876.6 614.8 L879.3 614.4 L882.0 613.9 L884.7 613.4 L887.4 612.9 L890.1 612.4 L892.8 611.9 L895.5 611.3 L898.2 610.7 L900.9 610.1 L903.5 609.5 L906.2 608.8 L908.9 608.2 L911.6 607.5 L914.3 606.8 L917.0 606.1 L919.7 605.3 L922.4 604.6 L925.1 603.8 L927.8 603.1 L930.4 602.3 L933.1 601.5 L935.8 600.7 L938.5 599.9 L941.2 599.1 L943.9 598.3 L946.6 597.6 L949.3 596.8 L952.0 596.0 L954.7 595.2 L957.3 594.3 L960.0 593.5 L962.7 592.6 L965.4 591.8 L968.1 590.9 L970.8 590.0 L973.5 589.1 L976.2 588.1 L978.9 587.2 L981.6 586.3 L984.2 585.3 L986.9 584.3 L989.6 583.3 L992.3 582.3 L995.0 581.3 L997.7 580.3 L1000.4 579.3 L1003.1 578.3 L1005.8 577.2 L1008.4 576.2 L1011.1 575.1 L1013.8 574.1 L1016.5 573.0 L1019.2 571.9 L1021.9 570.8 L1024.6 569.8 L1027.3 568.7 L1030.0 567.6 L1032.7 566.5 L1035.3 565.4 L1038.0 564.3 L1040.7 563.2 L1043.4 562.1 L1046.1 561.0 L1048.8 559.9 L1051.5 558.9 L1054.2 557.8 L1056.9 556.7 L1059.6 555.7 L1062.2 554.6 L1064.9 553.6 L1067.6 552.5 L1070.3 551.5 L1073.0 550.5 L1075.7 549.5 L1078.4 548.5 L1081.1 547.6 L1083.8 546.6 L1086.5 545.7 L1089.1 544.8 L1091.8 543.9 L1094.5 543.1 L1097.2 542.2 L1099.9 541.4 L1102.6 540.6 L1105.3 539.9 L1108.0 539.2 L1110.7 538.5 L1113.4 537.8 L1116.0 537.2 L1118.7 536.6 L1121.4 536.0 L1124.1 535.5 L1126.8 535.0 L1129.5 534.5 L1132.2 534.1 L1134.9 533.7 L1137.6 533.3 L1140.3 533.0 L1142.9 532.7 L1145.6 532.5 L1148.3 532.3 L1151.0 532.1 L1153.7 532.0 L1156.4 531.9 L1159.1 531.8 L1161.8 531.8 L1164.5 531.8 L1167.1 531.8 L1169.8 531.9 L1172.5 532.0 L1175.2 532.1 L1177.9 532.3 L1180.6 532.4 L1183.3 532.7 L1186.0 532.9 L1188.7 533.2 L1191.4 533.6 L1194.0 534.0 L1196.7 534.4 L1199.4 534.8 L1202.1 535.3 L1204.8 535.8 L1207.5 536.4 L1210.2 537.0 L1212.9 537.6 L1215.6 538.2 L1218.3 538.9 L1220.9 539.7 L1223.6 540.4 L1226.3 541.2 L1229.0 542.0 L1231.7 542.9 L1234.4 543.7 L1237.1 544.6 L1239.8 545.5 L1242.5 546.5 L1245.2 547.5 L1247.8 548.4 L1250.5 549.5 L1253.2 550.5 L1255.9 551.5 L1258.6 552.6 L1261.3 553.7 L1264.0 554.8 L1266.7 555.9 L1269.4 557.0 L1272.1 558.2 L1274.7 559.3 L1277.4 560.5 L1280.1 561.6 L1282.8 562.8 L1285.5 564.0 L1288.2 565.2 L1290.9 566.4 L1293.6 567.6 L1296.3 568.8 L1298.9 569.9 L1301.6 571.1 L1304.3 572.3 L1307.0 573.5 L1309.7 574.7 L1312.4 575.9 L1315.1 577.1 L1317.8 578.2 L1320.5 579.4 L1323.2 580.6 L1325.8 581.7 L1328.5 582.9 L1331.2 584.0 L1333.9 585.1 L1336.6 586.2 L1339.3 587.3 L1342.0 588.4 L1344.7 589.5 L1347.4 590.6 L1350.1 591.6 L1352.7 592.6 L1355.4 593.7 L1358.1 594.7 L1360.8 595.7 L1363.5 596.7 L1366.2 597.6 L1368.9 598.6 L1371.6 599.5 L1374.3 600.4 L1377.0 601.3 L1379.6 602.2 L1382.3 603.1 L1385.0 603.9 L1387.7 604.8 L1390.4 605.6 L1393.1 606.4 L1395.8 607.2 L1398.5 608.0 L1401.2 608.7 L1403.9 609.5 L1406.5 610.2 L1409.2 610.9 L1411.9 611.6 L1414.6 612.3 L1417.3 612.9 L1420.0 613.6 L1422.7 614.2 L1425.4 614.8 L1428.1 615.4 L1430.7 616.0 L1433.4 616.5 L1436.1 617.1 L1438.8 617.6 L1441.5 618.2 L1444.2 618.7 L1446.9 619.2 L1449.6 619.6 L1452.3 620.1 L1455.0 620.5 L1457.6 621.0 L1460.3 621.5 L1463.0 621.9 L1465.7 622.2 L1468.4 622.6 L1471.1 623.0 L1473.8 623.3 L1476.5 623.7 L1479.2 623.8 L1481.9 624.0 L1484.5 624.5 L1487.2 625.0 L1489.9 625.6 L1492.6 626.3 L1495.3 626.2 L1498.0 626.0 L1500.7 626.3 L1503.4 626.5 L1506.1 626.6 L1508.8 626.7 L1511.4 627.9 L1514.1 629.1 L1516.8 628.6 L1519.5 628.1 L1522.2 628.9 L1524.9 629.7 L1527.6 629.5 L1530.3 629.3 L1533.0 629.1 L1535.7 628.9 L1538.3 629.3 L1541.0 629.7 L1543.7 629.9 L1546.4 630.1 L1549.1 629.7 L1551.8 629.4 L1554.5 630.0 L1557.2 630.6 L1559.9 631.6 L1562.5 632.5 L1565.2 631.3 L1567.9 630.0 L1570.6 630.6 L1573.3 631.2 L1576.0 632.1 L1578.7 633.0 L1581.4 632.4 L1584.1 631.7 L1586.8 631.9 L1589.4 632.0 L1592.1 632.2" stroke="#3e2c2c" stroke-width="2.8"/>
<path d="M244.5 547.4 L247.2 547.9 L249.9 548.4 L252.6 548.9 L255.3 549.3 L258.0 549.8 L260.7 550.2 L263.4 550.5 L266.1 550.9 L268.8 551.2 L271.4 551.6 L274.1 551.9 L276.8 552.2 L279.5 552.4 L282.2 552.7 L284.9 552.9 L287.6 553.2 L290.3 553.4 L293.0 553.7 L295.7 553.9 L298.3 554.1 L301.0 554.3 L303.7 554.5 L306.4 554.7 L309.1 555.0 L311.8 555.2 L314.5 555.4 L317.2 555.6 L319.9 555.8 L322.6 556.1 L325.2 556.3 L327.9 556.6 L330.6 556.9 L333.3 557.1 L336.0 557.4 L338.7 557.7 L341.4 558.1 L344.1 558.4 L346.8 558.7 L349.4 559.1 L352.1 559.5 L354.8 560.0 L357.5 560.4 L360.2 560.9 L362.9 561.4 L365.6 561.9 L368.3 562.4 L371.0 563.0 L373.7 563.6 L376.3 564.2 L379.0 564.8 L381.7 565.4 L384.4 566.0 L387.1 566.6 L389.8 567.2 L392.5 567.8 L395.2 568.4 L397.9 569.0 L400.6 569.6 L403.2 570.1 L405.9 570.6 L408.6 571.1 L411.3 571.6 L414.0 572.0 L416.7 572.4 L419.4 572.8 L422.1 573.1 L424.8 573.3 L427.5 573.5 L430.1 573.7 L432.8 573.8 L435.5 573.8 L438.2 573.8 L440.9 573.7 L443.6 573.5 L446.3 573.3 L449.0 573.0 L451.7 572.7 L454.4 572.3 L457.0 571.9 L459.7 571.4 L462.4 570.9 L465.1 570.3 L467.8 569.7 L470.5 569.1 L473.2 568.4 L475.9 567.7 L478.6 567.1 L481.2 566.3 L483.9 565.6 L486.6 564.9 L489.3 564.2 L492.0 563.4 L494.7 562.7 L497.4 562.0 L500.1 561.3 L502.8 560.6 L505.5 560.0 L508.1 559.3 L510.8 558.7 L513.5 558.1 L516.2 557.6 L518.9 557.1 L521.6 556.6 L524.3 556.2 L527.0 555.8 L529.7 555.5 L532.4 555.2 L535.0 555.0 L537.7 554.9 L540.4 554.9 L543.1 554.9 L545.8 555.0 L548.5 555.2 L551.2 555.4 L553.9 555.8 L556.6 556.3 L559.3 556.8 L561.9 557.5 L564.6 558.3 L567.3 559.2 L570.0 560.2 L572.7 561.4 L575.4 562.6 L578.1 563.9 L580.8 565.4 L583.5 566.8 L586.2 568.4 L588.8 570.0 L591.5 571.6 L594.2 573.3 L596.9 574.9 L599.6 576.6 L602.3 578.2 L605.0 579.8 L607.7 581.4 L610.4 583.0 L613.0 584.5 L615.7 586.0 L618.4 587.4 L621.1 588.8 L623.8 590.1 L626.5 591.4 L629.2 592.6 L631.9 593.8 L634.6 595.0 L637.3 596.1 L639.9 597.1 L642.6 598.1 L645.3 599.0 L648.0 599.9 L650.7 600.7 L653.4 601.5 L656.1 602.3 L658.8 603.0 L661.5 603.6 L664.2 604.3 L666.8 604.9 L669.5 605.5 L672.2 606.0 L674.9 606.5 L677.6 607.0 L680.3 607.5 L683.0 608.0 L685.7 608.4 L688.4 608.8 L691.1 609.2 L693.7 609.6 L696.4 610.0 L699.1 610.4 L701.8 610.7 L704.5 611.1 L707.2 611.4 L709.9 611.8 L712.6 612.1 L715.3 612.4 L718.0 612.7 L720.6 613.0 L723.3 613.3 L726.0 613.6 L728.7 613.9 L731.4 614.1 L734.1 614.4 L736.8 614.6 L739.5 614.8 L742.2 615.0 L744.8 615.3 L747.5 615.4 L750.2 615.6 L752.9 615.8 L755.6 616.0 L758.3 616.1 L761.0 616.3 L763.7 616.4 L766.4 616.6 L769.1 616.7 L771.7 616.8 L774.4 616.9 L777.1 617.0 L779.8 617.1 L782.5 617.2 L785.2 617.2 L787.9 617.3 L790.6 617.3 L793.3 617.4 L796.0 617.4 L798.6 617.4 L801.3 617.4 L804.0 617.4 L806.7 617.4 L809.4 617.4 L812.1 617.3 L814.8 617.3 L817.5 617.3 L820.2 617.2 L822.9 617.1 L825.5 617.0 L828.2 617.0 L830.9 616.9 L833.6 616.7 L836.3 616.6 L839.0 616.5 L841.7 616.4 L844.4 616.2 L847.1 616.1 L849.8 615.9 L852.4 615.7 L855.1 615.6 L857.8 615.4 L860.5 615.2 L863.2 615.0 L865.9 614.8 L868.6 614.5 L871.3 614.3 L874.0 614.1 L876.6 613.9 L879.3 613.6 L882.0 613.4 L884.7 613.1 L887.4 612.8 L890.1 612.6 L892.8 612.3 L895.5 612.0 L898.2 611.7 L900.9 611.4 L903.5 611.1 L906.2 610.8 L908.9 610.4 L911.6 610.1 L914.3 609.8 L917.0 609.4 L919.7 609.1 L922.4 608.7 L925.1 608.4 L927.8 608.0 L930.4 607.6 L933.1 607.2 L935.8 606.8 L938.5 606.4 L941.2 606.0 L943.9 605.6 L946.6 605.1 L949.3 604.7 L952.0 604.3 L954.7 603.8 L957.3 603.4 L960.0 602.9 L962.7 602.5 L965.4 602.0 L968.1 601.5 L970.8 601.0 L973.5 600.6 L976.2 600.1 L978.9 599.6 L981.6 599.1 L984.2 598.6 L986.9 598.1 L989.6 597.6 L992.3 597.2 L995.0 596.7 L997.7 596.2 L1000.4 595.7 L1003.1 595.2 L1005.8 594.7 L1008.4 594.2 L1011.1 593.7 L1013.8 593.2 L1016.5 592.7 L1019.2 592.3 L1021.9 591.8 L1024.6 591.3 L1027.3 590.8 L1030.0 590.4 L1032.7 589.9 L1035.3 589.5 L1038.0 589.0 L1040.7 588.6 L1043.4 588.2 L1046.1 587.7 L1048.8 587.3 L1051.5 586.9 L1054.2 586.5 L1056.9 586.1 L1059.6 585.7 L1062.2 585.4 L1064.9 585.0 L1067.6 584.7 L1070.3 584.3 L1073.0 584.0 L1075.7 583.7 L1078.4 583.4 L1081.1 583.1 L1083.8 582.8 L1086.5 582.6 L1089.1 582.3 L1091.8 582.1 L1094.5 581.9 L1097.2 581.7 L1099.9 581.5 L1102.6 581.3 L1105.3 581.2 L1108.0 581.0 L1110.7 580.9 L1113.4 580.8 L1116.0 580.7 L1118.7 580.7 L1121.4 580.6 L1124.1 580.5 L1126.8 580.5 L1129.5 580.5 L1132.2 580.5 L1134.9 580.5 L1137.6 580.6 L1140.3 580.6 L1142.9 580.7 L1145.6 580.7 L1148.3 580.8 L1151.0 580.9 L1153.7 581.0 L1156.4 581.2 L1159.1 581.3 L1161.8 581.5 L1164.5 581.7 L1167.1 581.9 L1169.8 582.1 L1172.5 582.4 L1175.2 582.7 L1177.9 583.0 L1180.6 583.3 L1183.3 583.6 L1186.0 583.9 L1188.7 584.3 L1191.4 584.7 L1194.0 585.0 L1196.7 585.5 L1199.4 585.9 L1202.1 586.3 L1204.8 586.8 L1207.5 587.2 L1210.2 587.7 L1212.9 588.2 L1215.6 588.7 L1218.3 589.2 L1220.9 589.7 L1223.6 590.3 L1226.3 590.8 L1229.0 591.3 L1231.7 591.9 L1234.4 592.5 L1237.1 593.1 L1239.8 593.6 L1242.5 594.2 L1245.2 594.8 L1247.8 595.4 L1250.5 596.0 L1253.2 596.6 L1255.9 597.2 L1258.6 597.8 L1261.3 598.5 L1264.0 599.1 L1266.7 599.7 L1269.4 600.3 L1272.1 600.9 L1274.7 601.5 L1277.4 602.2 L1280.1 602.8 L1282.8 603.4 L1285.5 604.0 L1288.2 604.6 L1290.9 605.2 L1293.6 605.8 L1296.3 606.4 L1298.9 607.0 L1301.6 607.6 L1304.3 608.1 L1307.0 608.7 L1309.7 609.3 L1312.4 609.9 L1315.1 610.4 L1317.8 611.0 L1320.5 611.5 L1323.2 612.1 L1325.8 612.6 L1328.5 613.1 L1331.2 613.6 L1333.9 614.1 L1336.6 614.6 L1339.3 615.1 L1342.0 615.6 L1344.7 616.1 L1347.4 616.6 L1350.1 617.0 L1352.7 617.5 L1355.4 617.9 L1358.1 618.4 L1360.8 618.8 L1363.5 619.2 L1366.2 619.7 L1368.9 620.1 L1371.6 620.5 L1374.3 620.9 L1377.0 621.2 L1379.6 621.6 L1382.3 622.0 L1385.0 622.3 L1387.7 622.7 L1390.4 623.0 L1393.1 623.4 L1395.8 623.7 L1398.5 624.0 L1401.2 624.3 L1403.9 624.6 L1406.5 624.9 L1409.2 625.2 L1411.9 625.5 L1414.6 625.8 L1417.3 626.1 L1420.0 626.3 L1422.7 626.6 L1425.4 626.8 L1428.1 627.1 L1430.7 627.3 L1433.4 627.6 L1436.1 627.8 L1438.8 628.0 L1441.5 628.2 L1444.2 628.4 L1446.9 628.7 L1449.6 628.9 L1452.3 629.1 L1455.0 629.2 L1457.6 629.4 L1460.3 629.5 L1463.0 629.6 L1465.7 629.8 L1468.4 630.1 L1471.1 630.3 L1473.8 630.4 L1476.5 630.5 L1479.2 630.7 L1481.9 630.9 L1484.5 631.1 L1487.2 631.3 L1489.9 631.5 L1492.6 631.6 L1495.3 631.9 L1498.0 632.1 L1500.7 632.4 L1503.4 632.7 L1506.1 632.7 L1508.8 632.8 L1511.4 632.2 L1514.1 631.6 L1516.8 632.0 L1519.5 632.4 L1522.2 632.5 L1524.9 632.7 L1527.6 632.5 L1530.3 632.3 L1533.0 633.4 L1535.7 634.4 L1538.3 634.0 L1541.0 633.6 L1543.7 633.1 L1546.4 632.6 L1549.1 632.7 L1551.8 632.9 L1554.5 632.1 L1557.2 631.3 L1559.9 631.7 L1562.5 632.0 L1565.2 633.1 L1567.9 634.3 L1570.6 634.9 L1573.3 635.6 L1576.0 634.0 L1578.7 632.5 L1581.4 633.1 L1584.1 633.8 L1586.8 634.1 L1589.4 634.3 L1592.1 634.0" stroke="#1c2470" stroke-width="3.3"/>
<path d="M244.5 544.9 L247.2 544.9 L249.9 544.9 L252.6 545.0 L255.3 545.0 L258.0 545.1 L260.7 545.3 L263.4 545.4 L266.1 545.6 L268.8 545.7 L271.4 545.9 L274.1 546.2 L276.8 546.4 L279.5 546.7 L282.2 547.0 L284.9 547.3 L287.6 547.6 L290.3 547.9 L293.0 548.3 L295.7 548.6 L298.3 549.0 L301.0 549.4 L303.7 549.8 L306.4 550.2 L309.1 550.6 L311.8 551.0 L314.5 551.5 L317.2 551.9 L319.9 552.3 L322.6 552.8 L325.2 553.3 L327.9 553.7 L330.6 554.2 L333.3 554.7 L336.0 555.1 L338.7 555.6 L341.4 556.1 L344.1 556.5 L346.8 557.0 L349.4 557.5 L352.1 557.9 L354.8 558.4 L357.5 558.9 L360.2 559.3 L362.9 559.8 L365.6 560.2 L368.3 560.6 L371.0 561.0 L373.7 561.5 L376.3 561.9 L379.0 562.2 L381.7 562.6 L384.4 563.0 L387.1 563.3 L389.8 563.7 L392.5 564.0 L395.2 564.3 L397.9 564.6 L400.6 564.9 L403.2 565.1 L405.9 565.3 L408.6 565.6 L411.3 565.8 L414.0 565.9 L416.7 566.1 L419.4 566.2 L422.1 566.3 L424.8 566.4 L427.5 566.4 L430.1 566.4 L432.8 566.4 L435.5 566.4 L438.2 566.3 L440.9 566.3 L443.6 566.1 L446.3 566.0 L449.0 565.8 L451.7 565.6 L454.4 565.3 L457.0 565.0 L459.7 564.7 L462.4 564.4 L465.1 564.0 L467.8 563.5 L470.5 563.1 L473.2 562.5 L475.9 562.0 L478.6 561.4 L481.2 560.8 L483.9 560.1 L486.6 559.4 L489.3 558.6 L492.0 557.8 L494.7 556.9 L497.4 556.0 L500.1 555.0 L502.8 554.0 L505.5 553.0 L508.1 551.9 L510.8 550.8 L513.5 549.8 L516.2 548.7 L518.9 547.7 L521.6 546.8 L524.3 546.0 L527.0 545.2 L529.7 544.6 L532.4 544.1 L535.0 543.7 L537.7 543.5 L540.4 543.3 L543.1 543.4 L545.8 543.5 L548.5 543.8 L551.2 544.3 L553.9 544.9 L556.6 545.6 L559.3 546.3 L561.9 547.2 L564.6 548.1 L567.3 549.1 L570.0 550.1 L572.7 551.1 L575.4 552.1 L578.1 553.2 L580.8 554.2 L583.5 555.3 L586.2 556.4 L588.8 557.5 L591.5 558.6 L594.2 559.7 L596.9 560.8 L599.6 562.0 L602.3 563.1 L605.0 564.2 L607.7 565.4 L610.4 566.5 L613.0 567.7 L615.7 568.8 L618.4 570.0 L621.1 571.1 L623.8 572.3 L626.5 573.4 L629.2 574.6 L631.9 575.7 L634.6 576.8 L637.3 577.9 L639.9 579.0 L642.6 580.1 L645.3 581.2 L648.0 582.2 L650.7 583.3 L653.4 584.3 L656.1 585.3 L658.8 586.3 L661.5 587.3 L664.2 588.3 L666.8 589.2 L669.5 590.1 L672.2 591.0 L674.9 591.9 L677.6 592.7 L680.3 593.5 L683.0 594.3 L685.7 595.1 L688.4 595.8 L691.1 596.5 L693.7 597.2 L696.4 597.8 L699.1 598.5 L701.8 599.0 L704.5 599.6 L707.2 600.2 L709.9 600.7 L712.6 601.2 L715.3 601.7 L718.0 602.1 L720.6 602.5 L723.3 602.9 L726.0 603.3 L728.7 603.7 L731.4 604.0 L734.1 604.3 L736.8 604.6 L739.5 604.9 L742.2 605.2 L744.8 605.4 L747.5 605.6 L750.2 605.8 L752.9 606.0 L755.6 606.2 L758.3 606.3 L761.0 606.5 L763.7 606.6 L766.4 606.7 L769.1 606.8 L771.7 606.8 L774.4 606.9 L777.1 607.0 L779.8 607.0 L782.5 607.0 L785.2 607.0 L787.9 607.0 L790.6 607.0 L793.3 607.0 L796.0 606.9 L798.6 606.9 L801.3 606.8 L804.0 606.7 L806.7 606.7 L809.4 606.6 L812.1 606.5 L814.8 606.4 L817.5 606.3 L820.2 606.1 L822.9 606.0 L825.5 605.9 L828.2 605.8 L830.9 605.6 L833.6 605.5 L836.3 605.3 L839.0 605.2 L841.7 605.1 L844.4 604.9 L847.1 604.8 L849.8 604.6 L852.4 604.5 L855.1 604.4 L857.8 604.2 L860.5 604.1 L863.2 604.0 L865.9 603.9 L868.6 603.7 L871.3 603.6 L874.0 603.5 L876.6 603.4 L879.3 603.2 L882.0 603.1 L884.7 603.0 L887.4 602.9 L890.1 602.8 L892.8 602.6 L895.5 602.5 L898.2 602.4 L900.9 602.2 L903.5 602.1 L906.2 601.9 L908.9 601.8 L911.6 601.6 L914.3 601.4 L917.0 601.3 L919.7 601.1 L922.4 600.9 L925.1 600.7 L927.8 600.4 L930.4 600.2 L933.1 600.0 L935.8 599.7 L938.5 599.5 L941.2 599.2 L943.9 599.0 L946.6 598.7 L949.3 598.5 L952.0 598.2 L954.7 597.9 L957.3 597.6 L960.0 597.4 L962.7 597.1 L965.4 596.8 L968.1 596.5 L970.8 596.2 L973.5 595.8 L976.2 595.5 L978.9 595.2 L981.6 594.9 L984.2 594.5 L986.9 594.2 L989.6 593.8 L992.3 593.5 L995.0 593.1 L997.7 592.8 L1000.4 592.4 L1003.1 592.1 L1005.8 591.7 L1008.4 591.3 L1011.1 590.9 L1013.8 590.6 L1016.5 590.2 L1019.2 589.8 L1021.9 589.4 L1024.6 589.0 L1027.3 588.6 L1030.0 588.3 L1032.7 587.9 L1035.3 587.5 L1038.0 587.1 L1040.7 586.7 L1043.4 586.3 L1046.1 585.9 L1048.8 585.6 L1051.5 585.2 L1054.2 584.8 L1056.9 584.5 L1059.6 584.1 L1062.2 583.8 L1064.9 583.4 L1067.6 583.1 L1070.3 582.7 L1073.0 582.4 L1075.7 582.1 L1078.4 581.8 L1081.1 581.5 L1083.8 581.2 L1086.5 581.0 L1089.1 580.7 L1091.8 580.5 L1094.5 580.3 L1097.2 580.0 L1099.9 579.8 L1102.6 579.7 L1105.3 579.5 L1108.0 579.3 L1110.7 579.2 L1113.4 579.1 L1116.0 579.0 L1118.7 578.9 L1121.4 578.8 L1124.1 578.8 L1126.8 578.7 L1129.5 578.7 L1132.2 578.7 L1134.9 578.7 L1137.6 578.8 L1140.3 578.8 L1142.9 578.9 L1145.6 579.0 L1148.3 579.1 L1151.0 579.2 L1153.7 579.3 L1156.4 579.5 L1159.1 579.6 L1161.8 579.8 L1164.5 580.0 L1167.1 580.2 L1169.8 580.4 L1172.5 580.7 L1175.2 581.0 L1177.9 581.3 L1180.6 581.6 L1183.3 581.9 L1186.0 582.2 L1188.7 582.6 L1191.4 583.0 L1194.0 583.3 L1196.7 583.7 L1199.4 584.2 L1202.1 584.6 L1204.8 585.0 L1207.5 585.5 L1210.2 586.0 L1212.9 586.5 L1215.6 587.0 L1218.3 587.5 L1220.9 588.0 L1223.6 588.5 L1226.3 589.1 L1229.0 589.6 L1231.7 590.2 L1234.4 590.7 L1237.1 591.3 L1239.8 591.9 L1242.5 592.5 L1245.2 593.0 L1247.8 593.6 L1250.5 594.2 L1253.2 594.8 L1255.9 595.4 L1258.6 596.0 L1261.3 596.6 L1264.0 597.3 L1266.7 597.9 L1269.4 598.5 L1272.1 599.1 L1274.7 599.7 L1277.4 600.3 L1280.1 600.9 L1282.8 601.5 L1285.5 602.1 L1288.2 602.7 L1290.9 603.3 L1293.6 603.9 L1296.3 604.5 L1298.9 605.0 L1301.6 605.6 L1304.3 606.2 L1307.0 606.7 L1309.7 607.3 L1312.4 607.9 L1315.1 608.4 L1317.8 608.9 L1320.5 609.5 L1323.2 610.0 L1325.8 610.5 L1328.5 611.0 L1331.2 611.5 L1333.9 612.0 L1336.6 612.5 L1339.3 613.0 L1342.0 613.5 L1344.7 613.9 L1347.4 614.4 L1350.1 614.8 L1352.7 615.3 L1355.4 615.7 L1358.1 616.1 L1360.8 616.6 L1363.5 617.0 L1366.2 617.4 L1368.9 617.8 L1371.6 618.1 L1374.3 618.5 L1377.0 618.9 L1379.6 619.2 L1382.3 619.6 L1385.0 619.9 L1387.7 620.3 L1390.4 620.6 L1393.1 620.9 L1395.8 621.2 L1398.5 621.6 L1401.2 621.9 L1403.9 622.1 L1406.5 622.4 L1409.2 622.7 L1411.9 623.0 L1414.6 623.3 L1417.3 623.5 L1420.0 623.8 L1422.7 624.0 L1425.4 624.3 L1428.1 624.5 L1430.7 624.7 L1433.4 625.0 L1436.1 625.2 L1438.8 625.4 L1441.5 625.6 L1444.2 625.8 L1446.9 626.0 L1449.6 626.2 L1452.3 626.4 L1455.0 626.6 L1457.6 626.8 L1460.3 626.9 L1463.0 627.0 L1465.7 627.1 L1468.4 627.5 L1471.1 628.0 L1473.8 627.9 L1476.5 627.6 L1479.2 628.2 L1481.9 628.8 L1484.5 628.8 L1487.2 628.8 L1489.9 629.0 L1492.6 629.2 L1495.3 629.2 L1498.0 629.2 L1500.7 628.7 L1503.4 628.2 L1506.1 628.8 L1508.8 629.4 L1511.4 629.2 L1514.1 628.8 L1516.8 629.3 L1519.5 629.9 L1522.2 629.8 L1524.9 629.8 L1527.6 629.8 L1530.3 629.9 L1533.0 630.8 L1535.7 631.8 L1538.3 631.8 L1541.0 631.8 L1543.7 632.3 L1546.4 632.8 L1549.1 631.1 L1551.8 629.3 L1554.5 630.2 L1557.2 631.2 L1559.9 631.2 L1562.5 631.2 L1565.2 631.5 L1567.9 631.7 L1570.6 631.7 L1573.3 631.7 L1576.0 631.8 L1578.7 631.8 L1581.4 631.6 L1584.1 631.4 L1586.8 632.1 L1589.4 632.8 L1592.1 632.5" stroke="#0d5a4c" stroke-width="3.3"/>
</g>
<path d="M246.5 668.0h34 M246.5 523.9h17 M246.5 379.8h34 M246.5 235.6h17 M246.5 91.5h34" stroke="#5a5a5a" stroke-width="4.2" fill="none"/>
<path d="M336.0 696.5v-34 M515.3 696.5v-17 M694.6 696.5v-34 M874.0 696.5v-17 M1053.3 696.5v-34 M1232.6 696.5v-17 M1411.9 696.5v-34" stroke="#222" stroke-width="3.0" fill="none"/>
<path d="M246.5 33.0H1591.0" stroke="#333" stroke-width="3.5" stroke-linecap="square"/>
<path d="M246.5 696.5H1591.0" stroke="#181818" stroke-width="3.2" stroke-linecap="square"/>
<path d="M1591.0 33.0V696.5" stroke="#333" stroke-width="3.2" stroke-linecap="square"/>
<path d="M246.5 33.0V696.5" stroke="#111" stroke-width="3.2" stroke-linecap="square"/>
<clipPath id="onea"><rect x="150" y="45.5" width="90" height="64.4"/><rect x="193.87" y="107.5" width="6.27" height="10"/></clipPath>
<text x="215.5" y="115.5" text-anchor="end" class="t tl" clip-path="url(#onea)">1</text>
<text x="212.5" y="403.8" text-anchor="end" class="t tl">0.5</text>
<text x="212.5" y="692.0" text-anchor="end" class="t tl">0</text>
<text transform="translate(77.0,364.85) rotate(-90)" text-anchor="middle" class="t">Extinction</text>
<text x="667.6" y="130.0" class="t">F(mJ/cm²<tspan dx="6.5">)</tspan></text>
<text x="805.6" y="211.0" text-anchor="middle" class="t">0</text>
<text x="805.9" y="538.0" text-anchor="middle" class="t">5430</text>
<line x1="803.0" y1="233.4" x2="803.0" y2="435.6" stroke="#858585" stroke-width="4.4"/>
<path d="M803.0 455.6 L780.0 411.6 L803.0 432.6 L826.0 411.6 Z" fill="#000"/>
<text x="1546.5" y="115.5" text-anchor="middle" class="t" style="font-size:80px">a</text>
<clipPath id="clipb"><rect x="246.7" y="713.3" width="1346.3" height="662.5"/></clipPath>
<g clip-path="url(#clipb)" fill="none" stroke-linejoin="round" stroke-linecap="round">
<path d="M246.8 1217.5 L249.4 1217.8 L252.1 1218.1 L254.8 1218.4 L257.5 1218.7 L260.2 1219.0 L262.9 1219.4 L265.6 1219.7 L268.3 1220.1 L271.0 1220.4 L273.7 1220.8 L276.3 1221.2 L279.0 1221.6 L281.7 1222.0 L284.4 1222.4 L287.1 1222.8 L289.8 1223.2 L292.5 1223.7 L295.2 1224.1 L297.9 1224.6 L300.5 1225.0 L303.2 1225.5 L305.9 1225.9 L308.6 1226.4 L311.3 1226.8 L314.0 1227.3 L316.7 1227.7 L319.4 1228.2 L322.1 1228.7 L324.8 1229.1 L327.4 1229.6 L330.1 1230.0 L332.8 1230.5 L335.5 1230.9 L338.2 1231.4 L340.9 1231.8 L343.6 1232.3 L346.3 1232.7 L349.0 1233.1 L351.6 1233.6 L354.3 1234.0 L357.0 1234.4 L359.7 1234.8 L362.4 1235.2 L365.1 1235.6 L367.8 1235.9 L370.5 1236.3 L373.2 1236.7 L375.9 1237.0 L378.5 1237.3 L381.2 1237.7 L383.9 1238.0 L386.6 1238.3 L389.3 1238.6 L392.0 1238.8 L394.7 1239.1 L397.4 1239.3 L400.1 1239.5 L402.7 1239.7 L405.4 1239.9 L408.1 1240.1 L410.8 1240.2 L413.5 1240.4 L416.2 1240.5 L418.9 1240.6 L421.6 1240.7 L424.3 1240.7 L427.0 1240.8 L429.6 1240.8 L432.3 1240.8 L435.0 1240.7 L437.7 1240.7 L440.4 1240.6 L443.1 1240.5 L445.8 1240.3 L448.5 1240.2 L451.2 1240.0 L453.8 1239.8 L456.5 1239.6 L459.2 1239.3 L461.9 1239.0 L464.6 1238.7 L467.3 1238.3 L470.0 1238.0 L472.7 1237.6 L475.4 1237.2 L478.1 1236.8 L480.7 1236.3 L483.4 1235.8 L486.1 1235.3 L488.8 1234.8 L491.5 1234.3 L494.2 1233.7 L496.9 1233.2 L499.6 1232.6 L502.3 1232.1 L504.9 1231.5 L507.6 1231.0 L510.3 1230.5 L513.0 1230.0 L515.7 1229.5 L518.4 1229.1 L521.1 1228.7 L523.8 1228.4 L526.5 1228.1 L529.2 1227.9 L531.8 1227.8 L534.5 1228.0 L537.2 1228.3 L539.9 1228.8 L542.6 1229.5 L545.3 1230.4 L548.0 1231.5 L550.7 1232.8 L553.4 1234.4 L556.0 1236.1 L558.7 1238.1 L561.4 1240.3 L564.1 1242.7 L566.8 1245.2 L569.5 1247.7 L572.2 1250.2 L574.9 1252.6 L577.6 1254.9 L580.3 1257.1 L582.9 1259.1 L585.6 1261.0 L588.3 1262.8 L591.0 1264.6 L593.7 1266.3 L596.4 1267.9 L599.1 1269.4 L601.8 1270.9 L604.5 1272.3 L607.1 1273.7 L609.8 1275.0 L612.5 1276.3 L615.2 1277.5 L617.9 1278.7 L620.6 1279.9 L623.3 1281.0 L626.0 1282.1 L628.7 1283.1 L631.4 1284.2 L634.0 1285.2 L636.7 1286.2 L639.4 1287.1 L642.1 1288.1 L644.8 1289.0 L647.5 1289.9 L650.2 1290.8 L652.9 1291.7 L655.6 1292.6 L658.3 1293.4 L660.9 1294.2 L663.6 1295.0 L666.3 1295.8 L669.0 1296.6 L671.7 1297.4 L674.4 1298.1 L677.1 1298.8 L679.8 1299.5 L682.5 1300.2 L685.1 1300.9 L687.8 1301.5 L690.5 1302.2 L693.2 1302.8 L695.9 1303.4 L698.6 1304.0 L701.3 1304.6 L704.0 1305.1 L706.7 1305.7 L709.4 1306.2 L712.0 1306.7 L714.7 1307.2 L717.4 1307.7 L720.1 1308.2 L722.8 1308.6 L725.5 1309.1 L728.2 1309.5 L730.9 1309.9 L733.6 1310.3 L736.2 1310.7 L738.9 1311.1 L741.6 1311.4 L744.3 1311.8 L747.0 1312.1 L749.7 1312.4 L752.4 1312.7 L755.1 1313.0 L757.8 1313.3 L760.5 1313.5 L763.1 1313.8 L765.8 1314.0 L768.5 1314.2 L771.2 1314.4 L773.9 1314.6 L776.6 1314.8 L779.3 1314.9 L782.0 1315.1 L784.7 1315.2 L787.3 1315.3 L790.0 1315.4 L792.7 1315.5 L795.4 1315.6 L798.1 1315.6 L800.8 1315.6 L803.5 1315.7 L806.2 1315.7 L808.9 1315.7 L811.6 1315.7 L814.2 1315.6 L816.9 1315.6 L819.6 1315.5 L822.3 1315.4 L825.0 1315.3 L827.7 1315.2 L830.4 1315.1 L833.1 1314.9 L835.8 1314.7 L838.4 1314.5 L841.1 1314.3 L843.8 1314.0 L846.5 1313.7 L849.2 1313.4 L851.9 1313.1 L854.6 1312.8 L857.3 1312.4 L860.0 1312.0 L862.7 1311.6 L865.3 1311.2 L868.0 1310.8 L870.7 1310.3 L873.4 1309.9 L876.1 1309.4 L878.8 1308.9 L881.5 1308.4 L884.2 1307.9 L886.9 1307.4 L889.5 1306.9 L892.2 1306.3 L894.9 1305.8 L897.6 1305.2 L900.3 1304.7 L903.0 1304.1 L905.7 1303.6 L908.4 1303.0 L911.1 1302.4 L913.8 1301.9 L916.4 1301.3 L919.1 1300.7 L921.8 1300.2 L924.5 1299.6 L927.2 1299.0 L929.9 1298.4 L932.6 1297.8 L935.3 1297.2 L938.0 1296.7 L940.6 1296.0 L943.3 1295.4 L946.0 1294.8 L948.7 1294.2 L951.4 1293.5 L954.1 1292.9 L956.8 1292.2 L959.5 1291.5 L962.2 1290.8 L964.9 1290.1 L967.5 1289.3 L970.2 1288.6 L972.9 1287.8 L975.6 1287.0 L978.3 1286.2 L981.0 1285.3 L983.7 1284.4 L986.4 1283.5 L989.1 1282.5 L991.7 1281.5 L994.4 1280.5 L997.1 1279.4 L999.8 1278.3 L1002.5 1277.1 L1005.2 1275.9 L1007.9 1274.6 L1010.6 1273.2 L1013.3 1271.8 L1016.0 1270.3 L1018.6 1268.7 L1021.3 1267.1 L1024.0 1265.3 L1026.7 1263.5 L1029.4 1261.5 L1032.1 1259.4 L1034.8 1257.3 L1037.5 1255.0 L1040.2 1252.6 L1042.8 1250.0 L1045.5 1247.3 L1048.2 1244.5 L1050.9 1241.5 L1053.6 1238.4 L1056.3 1235.1 L1059.0 1231.7 L1061.7 1228.0 L1064.4 1224.2 L1067.1 1220.3 L1069.7 1216.1 L1072.4 1211.7 L1075.1 1207.2 L1077.8 1202.5 L1080.5 1197.5 L1083.2 1192.4 L1085.9 1187.1 L1088.6 1181.6 L1091.3 1175.8 L1093.9 1169.9 L1096.6 1163.8 L1099.3 1157.5 L1102.0 1151.0 L1104.7 1144.4 L1107.4 1137.5 L1110.1 1130.5 L1112.8 1123.3 L1115.5 1115.9 L1118.2 1108.4 L1120.8 1100.8 L1123.5 1093.0 L1126.2 1085.0 L1128.9 1077.0 L1131.6 1068.8 L1134.3 1060.5 L1137.0 1052.2 L1139.7 1043.7 L1142.4 1035.2 L1145.0 1026.6 L1147.7 1018.0 L1150.4 1009.4 L1153.1 1000.7 L1155.8 992.0 L1158.5 983.3 L1161.2 974.7 L1163.9 966.1 L1166.6 957.5 L1169.3 948.9 L1171.9 940.5 L1174.6 932.1 L1177.3 923.8 L1180.0 915.7 L1182.7 907.6 L1185.4 899.7 L1188.1 891.9 L1190.8 884.3 L1193.5 876.9 L1196.2 869.6 L1198.8 862.6 L1201.5 855.7 L1204.2 849.0 L1206.9 842.6 L1209.6 836.4 L1212.3 830.5 L1215.0 824.8 L1217.7 819.4 L1220.4 814.2 L1223.0 809.3 L1225.7 804.7 L1228.4 800.4 L1231.1 796.4 L1233.8 792.7 L1236.5 789.3 L1239.2 786.2 L1241.9 783.4 L1244.6 780.9 L1247.3 778.7 L1249.9 776.8 L1252.6 775.2 L1255.3 773.9 L1258.0 772.9 L1260.7 772.1 L1263.4 771.6 L1266.1 771.3 L1268.8 771.3 L1271.5 771.5 L1274.1 772.0 L1276.8 772.8 L1279.5 773.9 L1282.2 775.3 L1284.9 777.0 L1287.6 779.0 L1290.3 781.3 L1293.0 784.0 L1295.7 786.9 L1298.4 790.1 L1301.0 793.6 L1303.7 797.3 L1306.4 801.3 L1309.1 805.6 L1311.8 810.2 L1314.5 814.9 L1317.2 819.9 L1319.9 825.1 L1322.6 830.5 L1325.2 836.1 L1327.9 841.9 L1330.6 847.8 L1333.3 853.9 L1336.0 860.2 L1338.7 866.5 L1341.4 873.0 L1344.1 879.6 L1346.8 886.3 L1349.5 893.1 L1352.1 900.0 L1354.8 906.9 L1357.5 913.9 L1360.2 921.0 L1362.9 928.0 L1365.6 935.1 L1368.3 942.3 L1371.0 949.4 L1373.7 956.5 L1376.3 963.6 L1379.0 970.7 L1381.7 977.7 L1384.4 984.8 L1387.1 991.7 L1389.8 998.7 L1392.5 1005.5 L1395.2 1012.3 L1397.9 1019.1 L1400.6 1025.7 L1403.2 1032.3 L1405.9 1038.8 L1408.6 1045.2 L1411.3 1051.5 L1414.0 1057.7 L1416.7 1063.8 L1419.4 1069.8 L1422.1 1075.6 L1424.8 1081.4 L1427.4 1087.0 L1430.1 1092.5 L1432.8 1097.9 L1435.5 1103.2 L1438.2 1108.4 L1440.9 1113.4 L1443.6 1118.3 L1446.3 1123.0 L1449.0 1127.7 L1451.7 1132.2 L1454.3 1136.6 L1457.0 1141.0 L1459.7 1145.2 L1462.4 1149.2 L1465.1 1153.0 L1467.8 1156.6 L1470.5 1160.1 L1473.2 1163.6 L1475.9 1167.1 L1478.5 1170.6 L1481.2 1173.7 L1483.9 1176.8 L1486.6 1180.0 L1489.3 1183.2 L1492.0 1185.6 L1494.7 1188.0 L1497.4 1190.5 L1500.1 1192.9 L1502.8 1195.2 L1505.4 1197.3 L1508.1 1199.3 L1510.8 1201.2 L1513.5 1202.6 L1516.2 1203.9 L1518.9 1206.7 L1521.6 1209.5 L1524.3 1210.8 L1527.0 1211.9 L1529.6 1213.9 L1532.3 1215.8 L1535.0 1217.1 L1537.7 1218.2 L1540.4 1218.9 L1543.1 1219.4 L1545.8 1220.6 L1548.5 1221.8 L1551.2 1222.4 L1553.9 1223.0 L1556.5 1223.7 L1559.2 1224.3 L1561.9 1227.0 L1564.6 1229.7 L1567.3 1230.1 L1570.0 1230.4 L1572.7 1231.2 L1575.4 1232.1 L1578.1 1230.6 L1580.7 1229.2 L1583.4 1229.0 L1586.1 1228.7 L1588.8 1230.2 L1591.5 1231.6 L1594.2 1233.8" stroke="#111111" stroke-width="3.3"/>
<path d="M246.8 1224.6 L249.4 1225.2 L252.1 1225.9 L254.8 1226.5 L257.5 1227.1 L260.2 1227.7 L262.9 1228.2 L265.6 1228.7 L268.3 1229.2 L271.0 1229.7 L273.7 1230.2 L276.3 1230.6 L279.0 1231.0 L281.7 1231.4 L284.4 1231.8 L287.1 1232.2 L289.8 1232.5 L292.5 1232.9 L295.2 1233.2 L297.9 1233.5 L300.5 1233.8 L303.2 1234.1 L305.9 1234.4 L308.6 1234.6 L311.3 1234.9 L314.0 1235.2 L316.7 1235.4 L319.4 1235.6 L322.1 1235.9 L324.8 1236.1 L327.4 1236.3 L330.1 1236.6 L332.8 1236.8 L335.5 1237.0 L338.2 1237.3 L340.9 1237.5 L343.6 1237.7 L346.3 1237.9 L349.0 1238.2 L351.6 1238.4 L354.3 1238.7 L357.0 1238.9 L359.7 1239.2 L362.4 1239.4 L365.1 1239.7 L367.8 1240.0 L370.5 1240.3 L373.2 1240.6 L375.9 1240.9 L378.5 1241.3 L381.2 1241.6 L383.9 1242.0 L386.6 1242.4 L389.3 1242.8 L392.0 1243.2 L394.7 1243.6 L397.4 1244.1 L400.1 1244.5 L402.7 1245.0 L405.4 1245.5 L408.1 1246.0 L410.8 1246.4 L413.5 1246.9 L416.2 1247.4 L418.9 1247.9 L421.6 1248.3 L424.3 1248.8 L427.0 1249.2 L429.6 1249.6 L432.3 1249.9 L435.0 1250.3 L437.7 1250.6 L440.4 1250.9 L443.1 1251.1 L445.8 1251.3 L448.5 1251.4 L451.2 1251.5 L453.8 1251.5 L456.5 1251.5 L459.2 1251.5 L461.9 1251.3 L464.6 1251.1 L467.3 1250.8 L470.0 1250.5 L472.7 1250.1 L475.4 1249.6 L478.1 1249.0 L480.7 1248.3 L483.4 1247.6 L486.1 1246.7 L488.8 1245.9 L491.5 1244.9 L494.2 1244.0 L496.9 1243.0 L499.6 1242.0 L502.3 1241.1 L504.9 1240.2 L507.6 1239.4 L510.3 1238.6 L513.0 1237.9 L515.7 1237.4 L518.4 1236.9 L521.1 1236.6 L523.8 1236.4 L526.5 1236.4 L529.2 1236.6 L531.8 1237.0 L534.5 1237.6 L537.2 1238.3 L539.9 1239.2 L542.6 1240.2 L545.3 1241.3 L548.0 1242.6 L550.7 1243.9 L553.4 1245.4 L556.0 1246.9 L558.7 1248.4 L561.4 1250.0 L564.1 1251.7 L566.8 1253.4 L569.5 1255.0 L572.2 1256.7 L574.9 1258.4 L577.6 1260.0 L580.3 1261.6 L582.9 1263.1 L585.6 1264.6 L588.3 1266.1 L591.0 1267.5 L593.7 1269.0 L596.4 1270.3 L599.1 1271.7 L601.8 1273.0 L604.5 1274.3 L607.1 1275.6 L609.8 1276.8 L612.5 1278.0 L615.2 1279.2 L617.9 1280.4 L620.6 1281.5 L623.3 1282.6 L626.0 1283.7 L628.7 1284.8 L631.4 1285.9 L634.0 1286.9 L636.7 1287.9 L639.4 1288.9 L642.1 1289.9 L644.8 1290.9 L647.5 1291.8 L650.2 1292.7 L652.9 1293.7 L655.6 1294.5 L658.3 1295.4 L660.9 1296.3 L663.6 1297.1 L666.3 1297.9 L669.0 1298.7 L671.7 1299.5 L674.4 1300.3 L677.1 1301.0 L679.8 1301.7 L682.5 1302.5 L685.1 1303.2 L687.8 1303.8 L690.5 1304.5 L693.2 1305.1 L695.9 1305.8 L698.6 1306.4 L701.3 1307.0 L704.0 1307.6 L706.7 1308.1 L709.4 1308.7 L712.0 1309.2 L714.7 1309.7 L717.4 1310.2 L720.1 1310.7 L722.8 1311.2 L725.5 1311.7 L728.2 1312.1 L730.9 1312.5 L733.6 1313.0 L736.2 1313.4 L738.9 1313.7 L741.6 1314.1 L744.3 1314.5 L747.0 1314.8 L749.7 1315.1 L752.4 1315.4 L755.1 1315.7 L757.8 1316.0 L760.5 1316.3 L763.1 1316.5 L765.8 1316.7 L768.5 1317.0 L771.2 1317.2 L773.9 1317.4 L776.6 1317.5 L779.3 1317.7 L782.0 1317.8 L784.7 1318.0 L787.3 1318.1 L790.0 1318.2 L792.7 1318.3 L795.4 1318.4 L798.1 1318.4 L800.8 1318.5 L803.5 1318.5 L806.2 1318.6 L808.9 1318.6 L811.6 1318.6 L814.2 1318.6 L816.9 1318.6 L819.6 1318.5 L822.3 1318.5 L825.0 1318.4 L827.7 1318.3 L830.4 1318.2 L833.1 1318.1 L835.8 1317.9 L838.4 1317.7 L841.1 1317.5 L843.8 1317.3 L846.5 1317.0 L849.2 1316.7 L851.9 1316.4 L854.6 1316.1 L857.3 1315.8 L860.0 1315.4 L862.7 1315.0 L865.3 1314.6 L868.0 1314.2 L870.7 1313.7 L873.4 1313.3 L876.1 1312.8 L878.8 1312.3 L881.5 1311.7 L884.2 1311.2 L886.9 1310.7 L889.5 1310.1 L892.2 1309.5 L894.9 1308.9 L897.6 1308.3 L900.3 1307.7 L903.0 1307.1 L905.7 1306.5 L908.4 1305.9 L911.1 1305.2 L913.8 1304.6 L916.4 1303.9 L919.1 1303.3 L921.8 1302.6 L924.5 1302.0 L927.2 1301.3 L929.9 1300.6 L932.6 1300.0 L935.3 1299.3 L938.0 1298.7 L940.6 1298.0 L943.3 1297.3 L946.0 1296.7 L948.7 1296.0 L951.4 1295.4 L954.1 1294.7 L956.8 1294.0 L959.5 1293.3 L962.2 1292.6 L964.9 1291.8 L967.5 1291.1 L970.2 1290.3 L972.9 1289.6 L975.6 1288.8 L978.3 1288.0 L981.0 1287.1 L983.7 1286.3 L986.4 1285.4 L989.1 1284.5 L991.7 1283.5 L994.4 1282.6 L997.1 1281.5 L999.8 1280.5 L1002.5 1279.4 L1005.2 1278.3 L1007.9 1277.1 L1010.6 1275.9 L1013.3 1274.6 L1016.0 1273.3 L1018.6 1271.9 L1021.3 1270.4 L1024.0 1268.9 L1026.7 1267.2 L1029.4 1265.5 L1032.1 1263.7 L1034.8 1261.8 L1037.5 1259.8 L1040.2 1257.7 L1042.8 1255.5 L1045.5 1253.2 L1048.2 1250.7 L1050.9 1248.1 L1053.6 1245.3 L1056.3 1242.4 L1059.0 1239.4 L1061.7 1236.2 L1064.4 1232.8 L1067.1 1229.3 L1069.7 1225.5 L1072.4 1221.6 L1075.1 1217.5 L1077.8 1213.3 L1080.5 1208.8 L1083.2 1204.1 L1085.9 1199.3 L1088.6 1194.2 L1091.3 1188.9 L1093.9 1183.5 L1096.6 1177.8 L1099.3 1171.9 L1102.0 1165.9 L1104.7 1159.6 L1107.4 1153.1 L1110.1 1146.5 L1112.8 1139.7 L1115.5 1132.7 L1118.2 1125.5 L1120.8 1118.1 L1123.5 1110.6 L1126.2 1103.0 L1128.9 1095.2 L1131.6 1087.2 L1134.3 1079.2 L1137.0 1071.0 L1139.7 1062.8 L1142.4 1054.4 L1145.0 1046.0 L1147.7 1037.5 L1150.4 1029.0 L1153.1 1020.4 L1155.8 1011.8 L1158.5 1003.2 L1161.2 994.6 L1163.9 986.0 L1166.6 977.4 L1169.3 968.9 L1171.9 960.4 L1174.6 952.0 L1177.3 943.7 L1180.0 935.5 L1182.7 927.4 L1185.4 919.4 L1188.1 911.5 L1190.8 903.8 L1193.5 896.3 L1196.2 889.0 L1198.8 881.8 L1201.5 874.8 L1204.2 868.1 L1206.9 861.6 L1209.6 855.3 L1212.3 849.2 L1215.0 843.5 L1217.7 837.9 L1220.4 832.7 L1223.0 827.7 L1225.7 823.1 L1228.4 818.7 L1231.1 814.6 L1233.8 810.9 L1236.5 807.4 L1239.2 804.3 L1241.9 801.5 L1244.6 799.0 L1247.3 796.8 L1249.9 795.0 L1252.6 793.4 L1255.3 792.1 L1258.0 791.1 L1260.7 790.4 L1263.4 790.0 L1266.1 789.8 L1268.8 789.7 L1271.5 789.9 L1274.1 790.4 L1276.8 791.1 L1279.5 792.0 L1282.2 793.3 L1284.9 794.8 L1287.6 796.6 L1290.3 798.6 L1293.0 800.9 L1295.7 803.5 L1298.4 806.4 L1301.0 809.5 L1303.7 812.9 L1306.4 816.5 L1309.1 820.4 L1311.8 824.5 L1314.5 828.8 L1317.2 833.3 L1319.9 838.1 L1322.6 843.0 L1325.2 848.2 L1327.9 853.5 L1330.6 859.0 L1333.3 864.7 L1336.0 870.5 L1338.7 876.5 L1341.4 882.6 L1344.1 888.8 L1346.8 895.1 L1349.5 901.5 L1352.1 908.1 L1354.8 914.7 L1357.5 921.3 L1360.2 928.1 L1362.9 934.8 L1365.6 941.7 L1368.3 948.5 L1371.0 955.4 L1373.7 962.3 L1376.3 969.2 L1379.0 976.0 L1381.7 982.9 L1384.4 989.8 L1387.1 996.6 L1389.8 1003.3 L1392.5 1010.1 L1395.2 1016.7 L1397.9 1023.4 L1400.6 1029.9 L1403.2 1036.4 L1405.9 1042.8 L1408.6 1049.1 L1411.3 1055.3 L1414.0 1061.5 L1416.7 1067.5 L1419.4 1073.4 L1422.1 1079.3 L1424.8 1085.0 L1427.4 1090.6 L1430.1 1096.1 L1432.8 1101.4 L1435.5 1106.7 L1438.2 1111.8 L1440.9 1116.8 L1443.6 1121.7 L1446.3 1126.4 L1449.0 1131.0 L1451.7 1135.5 L1454.3 1139.9 L1457.0 1144.2 L1459.7 1148.4 L1462.4 1152.5 L1465.1 1156.0 L1467.8 1159.1 L1470.5 1163.1 L1473.2 1167.0 L1475.9 1170.3 L1478.5 1173.5 L1481.2 1176.2 L1483.9 1178.7 L1486.6 1182.2 L1489.3 1185.8 L1492.0 1188.1 L1494.7 1190.3 L1497.4 1192.9 L1500.1 1195.5 L1502.8 1197.3 L1505.4 1199.0 L1508.1 1201.8 L1510.8 1204.5 L1513.5 1206.6 L1516.2 1208.5 L1518.9 1209.7 L1521.6 1210.7 L1524.3 1213.4 L1527.0 1216.1 L1529.6 1215.5 L1532.3 1214.8 L1535.0 1216.8 L1537.7 1218.8 L1540.4 1220.2 L1543.1 1221.6 L1545.8 1223.5 L1548.5 1225.3 L1551.2 1225.5 L1553.9 1225.6 L1556.5 1225.8 L1559.2 1226.0 L1561.9 1227.6 L1564.6 1229.3 L1567.3 1230.7 L1570.0 1232.2 L1572.7 1231.3 L1575.4 1230.2 L1578.1 1229.9 L1580.7 1229.5 L1583.4 1230.6 L1586.1 1231.8 L1588.8 1232.9 L1591.5 1233.9 L1594.2 1232.4" stroke="#1a2cff" stroke-width="3.3"/>
<path d="M246.8 1221.9 L249.4 1222.3 L252.1 1222.8 L254.8 1223.2 L257.5 1223.6 L260.2 1224.0 L262.9 1224.4 L265.6 1224.8 L268.3 1225.2 L271.0 1225.6 L273.7 1225.9 L276.3 1226.3 L279.0 1226.7 L281.7 1227.1 L284.4 1227.5 L287.1 1227.9 L289.8 1228.2 L292.5 1228.6 L295.2 1229.0 L297.9 1229.3 L300.5 1229.7 L303.2 1230.1 L305.9 1230.4 L308.6 1230.8 L311.3 1231.2 L314.0 1231.5 L316.7 1231.9 L319.4 1232.3 L322.1 1232.6 L324.8 1233.0 L327.4 1233.3 L330.1 1233.7 L332.8 1234.0 L335.5 1234.4 L338.2 1234.7 L340.9 1235.1 L343.6 1235.5 L346.3 1235.8 L349.0 1236.2 L351.6 1236.5 L354.3 1236.9 L357.0 1237.2 L359.7 1237.6 L362.4 1237.9 L365.1 1238.3 L367.8 1238.6 L370.5 1239.0 L373.2 1239.4 L375.9 1239.7 L378.5 1240.1 L381.2 1240.4 L383.9 1240.8 L386.6 1241.2 L389.3 1241.5 L392.0 1241.9 L394.7 1242.3 L397.4 1242.6 L400.1 1243.0 L402.7 1243.4 L405.4 1243.7 L408.1 1244.1 L410.8 1244.4 L413.5 1244.7 L416.2 1245.1 L418.9 1245.4 L421.6 1245.6 L424.3 1245.9 L427.0 1246.2 L429.6 1246.4 L432.3 1246.6 L435.0 1246.7 L437.7 1246.9 L440.4 1247.0 L443.1 1247.0 L445.8 1247.1 L448.5 1247.1 L451.2 1247.0 L453.8 1246.9 L456.5 1246.8 L459.2 1246.6 L461.9 1246.4 L464.6 1246.2 L467.3 1245.8 L470.0 1245.5 L472.7 1245.1 L475.4 1244.6 L478.1 1244.1 L480.7 1243.5 L483.4 1242.8 L486.1 1242.1 L488.8 1241.4 L491.5 1240.6 L494.2 1239.9 L496.9 1239.1 L499.6 1238.3 L502.3 1237.5 L504.9 1236.7 L507.6 1236.0 L510.3 1235.4 L513.0 1234.8 L515.7 1234.2 L518.4 1233.8 L521.1 1233.5 L523.8 1233.2 L526.5 1233.2 L529.2 1233.2 L531.8 1233.4 L534.5 1233.8 L537.2 1234.3 L539.9 1234.9 L542.6 1235.7 L545.3 1236.7 L548.0 1237.7 L550.7 1239.0 L553.4 1240.3 L556.0 1241.9 L558.7 1243.5 L561.4 1245.2 L564.1 1247.1 L566.8 1249.1 L569.5 1251.1 L572.2 1253.0 L574.9 1255.0 L577.6 1256.9 L580.3 1258.7 L582.9 1260.4 L585.6 1262.1 L588.3 1263.7 L591.0 1265.3 L593.7 1266.8 L596.4 1268.2 L599.1 1269.6 L601.8 1271.0 L604.5 1272.3 L607.1 1273.5 L609.8 1274.8 L612.5 1276.0 L615.2 1277.1 L617.9 1278.3 L620.6 1279.4 L623.3 1280.5 L626.0 1281.6 L628.7 1282.6 L631.4 1283.6 L634.0 1284.6 L636.7 1285.6 L639.4 1286.6 L642.1 1287.5 L644.8 1288.4 L647.5 1289.3 L650.2 1290.2 L652.9 1291.1 L655.6 1291.9 L658.3 1292.8 L660.9 1293.6 L663.6 1294.4 L666.3 1295.1 L669.0 1295.9 L671.7 1296.6 L674.4 1297.4 L677.1 1298.1 L679.8 1298.8 L682.5 1299.5 L685.1 1300.1 L687.8 1300.8 L690.5 1301.4 L693.2 1302.0 L695.9 1302.6 L698.6 1303.2 L701.3 1303.8 L704.0 1304.3 L706.7 1304.8 L709.4 1305.4 L712.0 1305.9 L714.7 1306.4 L717.4 1306.9 L720.1 1307.3 L722.8 1307.8 L725.5 1308.2 L728.2 1308.6 L730.9 1309.0 L733.6 1309.4 L736.2 1309.8 L738.9 1310.2 L741.6 1310.5 L744.3 1310.9 L747.0 1311.2 L749.7 1311.5 L752.4 1311.8 L755.1 1312.1 L757.8 1312.4 L760.5 1312.6 L763.1 1312.9 L765.8 1313.1 L768.5 1313.3 L771.2 1313.5 L773.9 1313.7 L776.6 1313.9 L779.3 1314.0 L782.0 1314.2 L784.7 1314.3 L787.3 1314.4 L790.0 1314.5 L792.7 1314.6 L795.4 1314.6 L798.1 1314.7 L800.8 1314.7 L803.5 1314.7 L806.2 1314.7 L808.9 1314.7 L811.6 1314.7 L814.2 1314.6 L816.9 1314.5 L819.6 1314.5 L822.3 1314.3 L825.0 1314.2 L827.7 1314.1 L830.4 1313.9 L833.1 1313.7 L835.8 1313.5 L838.4 1313.2 L841.1 1312.9 L843.8 1312.7 L846.5 1312.4 L849.2 1312.0 L851.9 1311.7 L854.6 1311.3 L857.3 1310.9 L860.0 1310.5 L862.7 1310.1 L865.3 1309.7 L868.0 1309.3 L870.7 1308.8 L873.4 1308.4 L876.1 1307.9 L878.8 1307.4 L881.5 1306.9 L884.2 1306.5 L886.9 1306.0 L889.5 1305.5 L892.2 1305.0 L894.9 1304.5 L897.6 1304.0 L900.3 1303.5 L903.0 1302.9 L905.7 1302.4 L908.4 1301.9 L911.1 1301.4 L913.8 1300.9 L916.4 1300.4 L919.1 1299.9 L921.8 1299.3 L924.5 1298.8 L927.2 1298.3 L929.9 1297.7 L932.6 1297.2 L935.3 1296.6 L938.0 1296.0 L940.6 1295.4 L943.3 1294.8 L946.0 1294.1 L948.7 1293.4 L951.4 1292.7 L954.1 1292.0 L956.8 1291.2 L959.5 1290.4 L962.2 1289.6 L964.9 1288.7 L967.5 1287.8 L970.2 1286.8 L972.9 1285.8 L975.6 1284.8 L978.3 1283.7 L981.0 1282.6 L983.7 1281.4 L986.4 1280.1 L989.1 1278.8 L991.7 1277.4 L994.4 1276.0 L997.1 1274.5 L999.8 1272.9 L1002.5 1271.2 L1005.2 1269.5 L1007.9 1267.6 L1010.6 1265.7 L1013.3 1263.7 L1016.0 1261.6 L1018.6 1259.4 L1021.3 1257.1 L1024.0 1254.7 L1026.7 1252.1 L1029.4 1249.5 L1032.1 1246.7 L1034.8 1243.9 L1037.5 1240.9 L1040.2 1237.8 L1042.8 1234.5 L1045.5 1231.2 L1048.2 1227.7 L1050.9 1224.1 L1053.6 1220.3 L1056.3 1216.4 L1059.0 1212.4 L1061.7 1208.3 L1064.4 1204.0 L1067.1 1199.6 L1069.7 1195.0 L1072.4 1190.3 L1075.1 1185.5 L1077.8 1180.6 L1080.5 1175.5 L1083.2 1170.3 L1085.9 1165.0 L1088.6 1159.6 L1091.3 1154.0 L1093.9 1148.3 L1096.6 1142.6 L1099.3 1136.7 L1102.0 1130.7 L1104.7 1124.6 L1107.4 1118.5 L1110.1 1112.2 L1112.8 1105.9 L1115.5 1099.4 L1118.2 1093.0 L1120.8 1086.4 L1123.5 1079.8 L1126.2 1073.2 L1128.9 1066.5 L1131.6 1059.8 L1134.3 1053.0 L1137.0 1046.3 L1139.7 1039.5 L1142.4 1032.7 L1145.0 1025.9 L1147.7 1019.1 L1150.4 1012.4 L1153.1 1005.6 L1155.8 998.9 L1158.5 992.3 L1161.2 985.7 L1163.9 979.2 L1166.6 972.7 L1169.3 966.3 L1171.9 960.0 L1174.6 953.8 L1177.3 947.6 L1180.0 941.6 L1182.7 935.7 L1185.4 930.0 L1188.1 924.3 L1190.8 918.8 L1193.5 913.5 L1196.2 908.3 L1198.8 903.3 L1201.5 898.4 L1204.2 893.8 L1206.9 889.3 L1209.6 884.9 L1212.3 880.8 L1215.0 876.9 L1217.7 873.2 L1220.4 869.7 L1223.0 866.4 L1225.7 863.4 L1228.4 860.5 L1231.1 857.9 L1233.8 855.5 L1236.5 853.3 L1239.2 851.4 L1241.9 849.6 L1244.6 848.2 L1247.3 846.9 L1249.9 845.8 L1252.6 845.0 L1255.3 844.3 L1258.0 843.9 L1260.7 843.7 L1263.4 843.6 L1266.1 843.9 L1268.8 844.4 L1271.5 845.2 L1274.1 846.3 L1276.8 847.6 L1279.5 849.3 L1282.2 851.2 L1284.9 853.4 L1287.6 855.8 L1290.3 858.6 L1293.0 861.5 L1295.7 864.7 L1298.4 868.1 L1301.0 871.7 L1303.7 875.6 L1306.4 879.6 L1309.1 883.8 L1311.8 888.2 L1314.5 892.7 L1317.2 897.4 L1319.9 902.2 L1322.6 907.1 L1325.2 912.2 L1327.9 917.4 L1330.6 922.7 L1333.3 928.0 L1336.0 933.4 L1338.7 938.9 L1341.4 944.5 L1344.1 950.1 L1346.8 955.7 L1349.5 961.4 L1352.1 967.1 L1354.8 972.8 L1357.5 978.5 L1360.2 984.3 L1362.9 990.0 L1365.6 995.7 L1368.3 1001.4 L1371.0 1007.1 L1373.7 1012.7 L1376.3 1018.4 L1379.0 1023.9 L1381.7 1029.5 L1384.4 1035.0 L1387.1 1040.4 L1389.8 1045.8 L1392.5 1051.2 L1395.2 1056.4 L1397.9 1061.6 L1400.6 1066.8 L1403.2 1071.8 L1405.9 1076.8 L1408.6 1081.8 L1411.3 1086.6 L1414.0 1091.4 L1416.7 1096.1 L1419.4 1100.7 L1422.1 1105.2 L1424.8 1109.6 L1427.4 1114.0 L1430.1 1118.3 L1432.8 1122.4 L1435.5 1126.5 L1438.2 1130.5 L1440.9 1134.5 L1443.6 1138.3 L1446.3 1142.0 L1449.0 1145.7 L1451.7 1149.2 L1454.3 1152.7 L1457.0 1156.1 L1459.7 1159.4 L1462.4 1162.7 L1465.1 1165.8 L1467.8 1168.9 L1470.5 1171.8 L1473.2 1174.5 L1475.9 1177.4 L1478.5 1180.2 L1481.2 1182.9 L1483.9 1185.5 L1486.6 1187.9 L1489.3 1190.2 L1492.0 1192.5 L1494.7 1194.7 L1497.4 1197.4 L1500.1 1200.1 L1502.8 1201.6 L1505.4 1202.9 L1508.1 1205.3 L1510.8 1207.7 L1513.5 1209.0 L1516.2 1210.3 L1518.9 1212.3 L1521.6 1214.2 L1524.3 1215.7 L1527.0 1217.1 L1529.6 1218.8 L1532.3 1220.4 L1535.0 1221.8 L1537.7 1223.1 L1540.4 1222.7 L1543.1 1222.1 L1545.8 1224.0 L1548.5 1225.8 L1551.2 1226.8 L1553.9 1227.7 L1556.5 1229.2 L1559.2 1230.6 L1561.9 1231.6 L1564.6 1232.4 L1567.3 1233.9 L1570.0 1235.5 L1572.7 1235.7 L1575.4 1235.9 L1578.1 1236.6 L1580.7 1237.3 L1583.4 1238.9 L1586.1 1240.5 L1588.8 1239.1 L1591.5 1237.7 L1594.2 1239.8" stroke="#1ee65a" stroke-width="3.3"/>
<path d="M246.8 1224.6 L249.4 1225.2 L252.1 1225.9 L254.8 1226.5 L257.5 1227.1 L260.2 1227.7 L262.9 1228.2 L265.6 1228.7 L268.3 1229.2 L271.0 1229.7 L273.7 1230.2 L276.3 1230.6 L279.0 1231.0 L281.7 1231.4 L284.4 1231.8 L287.1 1232.2 L289.8 1232.5 L292.5 1232.9 L295.2 1233.2 L297.9 1233.5 L300.5 1233.8 L303.2 1234.1 L305.9 1234.4 L308.6 1234.6 L311.3 1234.9 L314.0 1235.2 L316.7 1235.4 L319.4 1235.6 L322.1 1235.9 L324.8 1236.1 L327.4 1236.3 L330.1 1236.6 L332.8 1236.8 L335.5 1237.0 L338.2 1237.3 L340.9 1237.5 L343.6 1237.7 L346.3 1237.9 L349.0 1238.2 L351.6 1238.4 L354.3 1238.7 L357.0 1238.9 L359.7 1239.2 L362.4 1239.4 L365.1 1239.7 L367.8 1240.0 L370.5 1240.3 L373.2 1240.6 L375.9 1240.9 L378.5 1241.3 L381.2 1241.6 L383.9 1242.0 L386.6 1242.4 L389.3 1242.8 L392.0 1243.2 L394.7 1243.6 L397.4 1244.1 L400.1 1244.5 L402.7 1245.0 L405.4 1245.5 L408.1 1246.0 L410.8 1246.4 L413.5 1246.9 L416.2 1247.4 L418.9 1247.9 L421.6 1248.3 L424.3 1248.8 L427.0 1249.2 L429.6 1249.6 L432.3 1249.9 L435.0 1250.3 L437.7 1250.6 L440.4 1250.9 L443.1 1251.1 L445.8 1251.3 L448.5 1251.4 L451.2 1251.5 L453.8 1251.5 L456.5 1251.5 L459.2 1251.5 L461.9 1251.3 L464.6 1251.1 L467.3 1250.8 L470.0 1250.5 L472.7 1250.1 L475.4 1249.6 L478.1 1249.0 L480.7 1248.3 L483.4 1247.6 L486.1 1246.7 L488.8 1245.9 L491.5 1244.9 L494.2 1244.0 L496.9 1243.0 L499.6 1242.0 L502.3 1241.1 L504.9 1240.2 L507.6 1239.4 L510.3 1238.6 L513.0 1237.9 L515.7 1237.4 L518.4 1236.9 L521.1 1236.6 L523.8 1236.4 L526.5 1236.4 L529.2 1236.6 L531.8 1237.0 L534.5 1237.6 L537.2 1238.3 L539.9 1239.2 L542.6 1240.2 L545.3 1241.3 L548.0 1242.6 L550.7 1243.9 L553.4 1245.4 L556.0 1246.9 L558.7 1248.4 L561.4 1250.0 L564.1 1251.7 L566.8 1253.4 L569.5 1255.0 L572.2 1256.7 L574.9 1258.4 L577.6 1260.0 L580.3 1261.6 L582.9 1263.1 L585.6 1264.6 L588.3 1266.1 L591.0 1267.5 L593.7 1269.0 L596.4 1270.3 L599.1 1271.7 L601.8 1273.0 L604.5 1274.3 L607.1 1275.6 L609.8 1276.8 L612.5 1278.0 L615.2 1279.2 L617.9 1280.4 L620.6 1281.5 L623.3 1282.6 L626.0 1283.7 L628.7 1284.8 L631.4 1285.9 L634.0 1286.9 L636.7 1287.9 L639.4 1288.9 L642.1 1289.9 L644.8 1290.9 L647.5 1291.8 L650.2 1292.7 L652.9 1293.7 L655.6 1294.5 L658.3 1295.4 L660.9 1296.3 L663.6 1297.1 L666.3 1297.9 L669.0 1298.7 L671.7 1299.5 L674.4 1300.3 L677.1 1301.0 L679.8 1301.7 L682.5 1302.5 L685.1 1303.2 L687.8 1303.8 L690.5 1304.5 L693.2 1305.1 L695.9 1305.8 L698.6 1306.4 L701.3 1307.0 L704.0 1307.6 L706.7 1308.1 L709.4 1308.7 L712.0 1309.2 L714.7 1309.7 L717.4 1310.2 L720.1 1310.7 L722.8 1311.2 L725.5 1311.7 L728.2 1312.1 L730.9 1312.5 L733.6 1313.0 L736.2 1313.4 L738.9 1313.7 L741.6 1314.1 L744.3 1314.5 L747.0 1314.8 L749.7 1315.1 L752.4 1315.4 L755.1 1315.7 L757.8 1316.0 L760.5 1316.3 L763.1 1316.5 L765.8 1316.7 L768.5 1317.0 L771.2 1317.2 L773.9 1317.4 L776.6 1317.5 L779.3 1317.7 L782.0 1317.8 L784.7 1318.0 L787.3 1318.1 L790.0 1318.2 L792.7 1318.3 L795.4 1318.4 L798.1 1318.4 L800.8 1318.5 L803.5 1318.5 L806.2 1318.6 L808.9 1318.6 L811.6 1318.6 L814.2 1318.5 L816.9 1318.5 L819.6 1318.4 L822.3 1318.4 L825.0 1318.2 L827.7 1318.1 L830.4 1318.0 L833.1 1317.8 L835.8 1317.6 L838.4 1317.3 L841.1 1317.1 L843.8 1316.8 L846.5 1316.5 L849.2 1316.2 L851.9 1315.8 L854.6 1315.5 L857.3 1315.1 L860.0 1314.7 L862.7 1314.2 L865.3 1313.8 L868.0 1313.3 L870.7 1312.8 L873.4 1312.3 L876.1 1311.8 L878.8 1311.2 L881.5 1310.7 L884.2 1310.1 L886.9 1309.5 L889.5 1308.9 L892.2 1308.3 L894.9 1307.7 L897.6 1307.1 L900.3 1306.5 L903.0 1305.9 L905.7 1305.2 L908.4 1304.6 L911.1 1304.0 L913.8 1303.3 L916.4 1302.7 L919.1 1302.0 L921.8 1301.4 L924.5 1300.8 L927.2 1300.1 L929.9 1299.5 L932.6 1298.8 L935.3 1298.2 L938.0 1297.5 L940.6 1296.9 L943.3 1296.3 L946.0 1295.6 L948.7 1295.0 L951.4 1294.3 L954.1 1293.7 L956.8 1293.0 L959.5 1292.3 L962.2 1291.5 L964.9 1290.8 L967.5 1290.0 L970.2 1289.2 L972.9 1288.4 L975.6 1287.6 L978.3 1286.7 L981.0 1285.8 L983.7 1284.8 L986.4 1283.8 L989.1 1282.8 L991.7 1281.7 L994.4 1280.6 L997.1 1279.4 L999.8 1278.2 L1002.5 1276.9 L1005.2 1275.5 L1007.9 1274.1 L1010.6 1272.6 L1013.3 1271.0 L1016.0 1269.4 L1018.6 1267.6 L1021.3 1265.8 L1024.0 1263.9 L1026.7 1261.9 L1029.4 1259.7 L1032.1 1257.5 L1034.8 1255.1 L1037.5 1252.7 L1040.2 1250.1 L1042.8 1247.4 L1045.5 1244.5 L1048.2 1241.5 L1050.9 1238.4 L1053.6 1235.1 L1056.3 1231.6 L1059.0 1228.1 L1061.7 1224.3 L1064.4 1220.4 L1067.1 1216.4 L1069.7 1212.1 L1072.4 1207.7 L1075.1 1203.2 L1077.8 1198.5 L1080.5 1193.6 L1083.2 1188.5 L1085.9 1183.3 L1088.6 1177.9 L1091.3 1172.3 L1093.9 1166.6 L1096.6 1160.8 L1099.3 1154.7 L1102.0 1148.5 L1104.7 1142.2 L1107.4 1135.7 L1110.1 1129.1 L1112.8 1122.4 L1115.5 1115.5 L1118.2 1108.6 L1120.8 1101.5 L1123.5 1094.3 L1126.2 1087.0 L1128.9 1079.6 L1131.6 1072.1 L1134.3 1064.6 L1137.0 1057.0 L1139.7 1049.4 L1142.4 1041.7 L1145.0 1034.0 L1147.7 1026.3 L1150.4 1018.5 L1153.1 1010.8 L1155.8 1003.0 L1158.5 995.3 L1161.2 987.6 L1163.9 980.0 L1166.6 972.4 L1169.3 964.9 L1171.9 957.5 L1174.6 950.1 L1177.3 942.9 L1180.0 935.7 L1182.7 928.7 L1185.4 921.8 L1188.1 915.0 L1190.8 908.4 L1193.5 901.9 L1196.2 895.6 L1198.8 889.5 L1201.5 883.6 L1204.2 877.9 L1206.9 872.4 L1209.6 867.1 L1212.3 862.0 L1215.0 857.2 L1217.7 852.6 L1220.4 848.2 L1223.0 844.1 L1225.7 840.3 L1228.4 836.7 L1231.1 833.4 L1233.8 830.3 L1236.5 827.5 L1239.2 825.0 L1241.9 822.8 L1244.6 820.8 L1247.3 819.1 L1249.9 817.6 L1252.6 816.4 L1255.3 815.5 L1258.0 814.8 L1260.7 814.3 L1263.4 814.1 L1266.1 814.0 L1268.8 814.2 L1271.5 814.7 L1274.1 815.4 L1276.8 816.4 L1279.5 817.7 L1282.2 819.3 L1284.9 821.1 L1287.6 823.2 L1290.3 825.6 L1293.0 828.3 L1295.7 831.2 L1298.4 834.3 L1301.0 837.7 L1303.7 841.3 L1306.4 845.2 L1309.1 849.2 L1311.8 853.5 L1314.5 857.9 L1317.2 862.6 L1319.9 867.4 L1322.6 872.4 L1325.2 877.5 L1327.9 882.8 L1330.6 888.3 L1333.3 893.8 L1336.0 899.5 L1338.7 905.2 L1341.4 911.1 L1344.1 917.0 L1346.8 923.1 L1349.5 929.1 L1352.1 935.3 L1354.8 941.5 L1357.5 947.7 L1360.2 954.0 L1362.9 960.3 L1365.6 966.6 L1368.3 972.9 L1371.0 979.2 L1373.7 985.5 L1376.3 991.7 L1379.0 998.0 L1381.7 1004.2 L1384.4 1010.4 L1387.1 1016.6 L1389.8 1022.7 L1392.5 1028.7 L1395.2 1034.7 L1397.9 1040.7 L1400.6 1046.5 L1403.2 1052.3 L1405.9 1058.0 L1408.6 1063.7 L1411.3 1069.2 L1414.0 1074.7 L1416.7 1080.1 L1419.4 1085.4 L1422.1 1090.5 L1424.8 1095.6 L1427.4 1100.6 L1430.1 1105.5 L1432.8 1110.3 L1435.5 1115.0 L1438.2 1119.6 L1440.9 1124.1 L1443.6 1128.4 L1446.3 1132.7 L1449.0 1136.9 L1451.7 1140.9 L1454.3 1144.8 L1457.0 1148.7 L1459.7 1152.4 L1462.4 1156.0 L1465.1 1159.6 L1467.8 1163.2 L1470.5 1166.4 L1473.2 1169.5 L1475.9 1172.6 L1478.5 1175.6 L1481.2 1178.4 L1483.9 1181.1 L1486.6 1183.7 L1489.3 1186.2 L1492.0 1188.9 L1494.7 1191.5 L1497.4 1194.2 L1500.1 1196.8 L1502.8 1198.7 L1505.4 1200.6 L1508.1 1202.5 L1510.8 1204.3 L1513.5 1206.1 L1516.2 1207.8 L1518.9 1210.1 L1521.6 1212.5 L1524.3 1214.2 L1527.0 1215.9 L1529.6 1216.4 L1532.3 1216.7 L1535.0 1218.6 L1537.7 1220.4 L1540.4 1220.7 L1543.1 1220.9 L1545.8 1222.3 L1548.5 1223.6 L1551.2 1225.1 L1553.9 1226.5 L1556.5 1227.6 L1559.2 1228.7 L1561.9 1228.8 L1564.6 1228.9 L1567.3 1231.0 L1570.0 1233.2 L1572.7 1233.2 L1575.4 1233.1 L1578.1 1232.7 L1580.7 1232.3 L1583.4 1234.4 L1586.1 1236.4 L1588.8 1236.6 L1591.5 1236.7 L1594.2 1236.3" stroke="#22d8ff" stroke-width="3.3"/>
<path d="M246.8 1219.3 L249.4 1219.5 L252.1 1219.6 L254.8 1219.8 L257.5 1220.0 L260.2 1220.3 L262.9 1220.5 L265.6 1220.8 L268.3 1221.1 L271.0 1221.4 L273.7 1221.7 L276.3 1222.1 L279.0 1222.4 L281.7 1222.8 L284.4 1223.2 L287.1 1223.5 L289.8 1223.9 L292.5 1224.3 L295.2 1224.8 L297.9 1225.2 L300.5 1225.6 L303.2 1226.1 L305.9 1226.5 L308.6 1227.0 L311.3 1227.4 L314.0 1227.9 L316.7 1228.4 L319.4 1228.9 L322.1 1229.3 L324.8 1229.8 L327.4 1230.3 L330.1 1230.8 L332.8 1231.3 L335.5 1231.8 L338.2 1232.2 L340.9 1232.7 L343.6 1233.2 L346.3 1233.7 L349.0 1234.1 L351.6 1234.6 L354.3 1235.1 L357.0 1235.5 L359.7 1236.0 L362.4 1236.4 L365.1 1236.9 L367.8 1237.3 L370.5 1237.7 L373.2 1238.1 L375.9 1238.5 L378.5 1238.9 L381.2 1239.3 L383.9 1239.6 L386.6 1240.0 L389.3 1240.3 L392.0 1240.6 L394.7 1240.9 L397.4 1241.2 L400.1 1241.5 L402.7 1241.7 L405.4 1242.0 L408.1 1242.2 L410.8 1242.4 L413.5 1242.6 L416.2 1242.7 L418.9 1242.9 L421.6 1243.0 L424.3 1243.1 L427.0 1243.1 L429.6 1243.2 L432.3 1243.2 L435.0 1243.2 L437.7 1243.1 L440.4 1243.1 L443.1 1243.0 L445.8 1242.9 L448.5 1242.7 L451.2 1242.6 L453.8 1242.3 L456.5 1242.1 L459.2 1241.8 L461.9 1241.5 L464.6 1241.2 L467.3 1240.8 L470.0 1240.4 L472.7 1240.0 L475.4 1239.6 L478.1 1239.1 L480.7 1238.6 L483.4 1238.1 L486.1 1237.5 L488.8 1236.9 L491.5 1236.3 L494.2 1235.7 L496.9 1235.0 L499.6 1234.4 L502.3 1233.8 L504.9 1233.2 L507.6 1232.6 L510.3 1232.0 L513.0 1231.4 L515.7 1230.9 L518.4 1230.5 L521.1 1230.1 L523.8 1229.8 L526.5 1229.6 L529.2 1229.5 L531.8 1229.5 L534.5 1229.6 L537.2 1229.8 L539.9 1230.1 L542.6 1230.6 L545.3 1231.3 L548.0 1232.2 L550.7 1233.2 L553.4 1234.4 L556.0 1235.9 L558.7 1237.5 L561.4 1239.4 L564.1 1241.5 L566.8 1243.7 L569.5 1246.1 L572.2 1248.4 L574.9 1250.7 L577.6 1252.9 L580.3 1255.0 L582.9 1256.9 L585.6 1258.8 L588.3 1260.5 L591.0 1262.1 L593.7 1263.7 L596.4 1265.2 L599.1 1266.6 L601.8 1268.0 L604.5 1269.3 L607.1 1270.6 L609.8 1271.8 L612.5 1272.9 L615.2 1274.1 L617.9 1275.2 L620.6 1276.2 L623.3 1277.3 L626.0 1278.3 L628.7 1279.3 L631.4 1280.2 L634.0 1281.2 L636.7 1282.1 L639.4 1283.0 L642.1 1283.9 L644.8 1284.7 L647.5 1285.6 L650.2 1286.4 L652.9 1287.2 L655.6 1288.0 L658.3 1288.8 L660.9 1289.5 L663.6 1290.3 L666.3 1291.0 L669.0 1291.7 L671.7 1292.4 L674.4 1293.0 L677.1 1293.7 L679.8 1294.3 L682.5 1295.0 L685.1 1295.6 L687.8 1296.2 L690.5 1296.7 L693.2 1297.3 L695.9 1297.8 L698.6 1298.4 L701.3 1298.9 L704.0 1299.4 L706.7 1299.9 L709.4 1300.4 L712.0 1300.9 L714.7 1301.3 L717.4 1301.8 L720.1 1302.2 L722.8 1302.6 L725.5 1303.0 L728.2 1303.4 L730.9 1303.8 L733.6 1304.2 L736.2 1304.5 L738.9 1304.9 L741.6 1305.2 L744.3 1305.5 L747.0 1305.8 L749.7 1306.1 L752.4 1306.4 L755.1 1306.7 L757.8 1307.0 L760.5 1307.2 L763.1 1307.4 L765.8 1307.6 L768.5 1307.8 L771.2 1308.0 L773.9 1308.2 L776.6 1308.4 L779.3 1308.5 L782.0 1308.6 L784.7 1308.7 L787.3 1308.8 L790.0 1308.9 L792.7 1308.9 L795.4 1309.0 L798.1 1309.0 L800.8 1309.0 L803.5 1309.0 L806.2 1308.9 L808.9 1308.9 L811.6 1308.8 L814.2 1308.7 L816.9 1308.6 L819.6 1308.5 L822.3 1308.4 L825.0 1308.2 L827.7 1308.0 L830.4 1307.7 L833.1 1307.5 L835.8 1307.2 L838.4 1306.9 L841.1 1306.5 L843.8 1306.2 L846.5 1305.8 L849.2 1305.3 L851.9 1304.9 L854.6 1304.4 L857.3 1303.9 L860.0 1303.4 L862.7 1302.8 L865.3 1302.2 L868.0 1301.7 L870.7 1301.0 L873.4 1300.4 L876.1 1299.7 L878.8 1299.1 L881.5 1298.4 L884.2 1297.7 L886.9 1297.0 L889.5 1296.2 L892.2 1295.5 L894.9 1294.7 L897.6 1294.0 L900.3 1293.2 L903.0 1292.4 L905.7 1291.6 L908.4 1290.8 L911.1 1290.0 L913.8 1289.2 L916.4 1288.4 L919.1 1287.6 L921.8 1286.7 L924.5 1285.9 L927.2 1285.0 L929.9 1284.2 L932.6 1283.3 L935.3 1282.4 L938.0 1281.5 L940.6 1280.5 L943.3 1279.6 L946.0 1278.6 L948.7 1277.6 L951.4 1276.6 L954.1 1275.5 L956.8 1274.4 L959.5 1273.3 L962.2 1272.2 L964.9 1271.0 L967.5 1269.7 L970.2 1268.5 L972.9 1267.2 L975.6 1265.9 L978.3 1264.5 L981.0 1263.0 L983.7 1261.5 L986.4 1260.0 L989.1 1258.4 L991.7 1256.7 L994.4 1255.0 L997.1 1253.2 L999.8 1251.3 L1002.5 1249.3 L1005.2 1247.2 L1007.9 1245.1 L1010.6 1242.9 L1013.3 1240.5 L1016.0 1238.1 L1018.6 1235.6 L1021.3 1232.9 L1024.0 1230.2 L1026.7 1227.3 L1029.4 1224.3 L1032.1 1221.2 L1034.8 1217.9 L1037.5 1214.6 L1040.2 1211.1 L1042.8 1207.5 L1045.5 1203.7 L1048.2 1199.8 L1050.9 1195.8 L1053.6 1191.7 L1056.3 1187.5 L1059.0 1183.1 L1061.7 1178.6 L1064.4 1174.0 L1067.1 1169.2 L1069.7 1164.4 L1072.4 1159.4 L1075.1 1154.4 L1077.8 1149.2 L1080.5 1144.0 L1083.2 1138.7 L1085.9 1133.2 L1088.6 1127.8 L1091.3 1122.2 L1093.9 1116.6 L1096.6 1110.9 L1099.3 1105.2 L1102.0 1099.4 L1104.7 1093.6 L1107.4 1087.8 L1110.1 1081.9 L1112.8 1076.0 L1115.5 1070.1 L1118.2 1064.2 L1120.8 1058.3 L1123.5 1052.4 L1126.2 1046.6 L1128.9 1040.7 L1131.6 1034.9 L1134.3 1029.1 L1137.0 1023.4 L1139.7 1017.6 L1142.4 1012.0 L1145.0 1006.4 L1147.7 1000.9 L1150.4 995.4 L1153.1 990.0 L1155.8 984.7 L1158.5 979.5 L1161.2 974.3 L1163.9 969.3 L1166.6 964.3 L1169.3 959.5 L1171.9 954.7 L1174.6 950.1 L1177.3 945.6 L1180.0 941.2 L1182.7 937.0 L1185.4 932.9 L1188.1 928.9 L1190.8 925.1 L1193.5 921.4 L1196.2 917.9 L1198.8 914.5 L1201.5 911.3 L1204.2 908.3 L1206.9 905.4 L1209.6 902.7 L1212.3 900.2 L1215.0 897.8 L1217.7 895.6 L1220.4 893.6 L1223.0 891.8 L1225.7 890.2 L1228.4 888.7 L1231.1 887.5 L1233.8 886.4 L1236.5 885.4 L1239.2 884.7 L1241.9 884.1 L1244.6 883.7 L1247.3 883.5 L1249.9 883.5 L1252.6 883.6 L1255.3 884.0 L1258.0 884.6 L1260.7 885.3 L1263.4 886.3 L1266.1 887.5 L1268.8 888.9 L1271.5 890.5 L1274.1 892.3 L1276.8 894.3 L1279.5 896.5 L1282.2 898.9 L1284.9 901.4 L1287.6 904.1 L1290.3 907.0 L1293.0 910.0 L1295.7 913.2 L1298.4 916.5 L1301.0 919.9 L1303.7 923.5 L1306.4 927.2 L1309.1 931.0 L1311.8 934.9 L1314.5 938.9 L1317.2 943.1 L1319.9 947.3 L1322.6 951.6 L1325.2 955.9 L1327.9 960.4 L1330.6 964.9 L1333.3 969.4 L1336.0 974.0 L1338.7 978.7 L1341.4 983.4 L1344.1 988.2 L1346.8 992.9 L1349.5 997.7 L1352.1 1002.6 L1354.8 1007.4 L1357.5 1012.3 L1360.2 1017.2 L1362.9 1022.1 L1365.6 1027.0 L1368.3 1031.8 L1371.0 1036.7 L1373.7 1041.6 L1376.3 1046.4 L1379.0 1051.3 L1381.7 1056.1 L1384.4 1060.9 L1387.1 1065.6 L1389.8 1070.4 L1392.5 1075.1 L1395.2 1079.7 L1397.9 1084.3 L1400.6 1088.9 L1403.2 1093.4 L1405.9 1097.9 L1408.6 1102.3 L1411.3 1106.7 L1414.0 1111.0 L1416.7 1115.2 L1419.4 1119.4 L1422.1 1123.5 L1424.8 1127.5 L1427.4 1131.5 L1430.1 1135.4 L1432.8 1139.2 L1435.5 1143.0 L1438.2 1146.7 L1440.9 1150.3 L1443.6 1153.8 L1446.3 1157.2 L1449.0 1160.6 L1451.7 1163.9 L1454.3 1167.2 L1457.0 1170.4 L1459.7 1173.3 L1462.4 1176.0 L1465.1 1179.0 L1467.8 1181.9 L1470.5 1184.9 L1473.2 1187.8 L1475.9 1190.2 L1478.5 1192.5 L1481.2 1195.2 L1483.9 1197.9 L1486.6 1199.8 L1489.3 1201.5 L1492.0 1204.6 L1494.7 1207.9 L1497.4 1209.4 L1500.1 1210.7 L1502.8 1212.3 L1505.4 1213.8 L1508.1 1216.2 L1510.8 1218.6 L1513.5 1219.6 L1516.2 1220.5 L1518.9 1222.6 L1521.6 1224.6 L1524.3 1225.0 L1527.0 1225.3 L1529.6 1227.1 L1532.3 1228.9 L1535.0 1230.1 L1537.7 1231.4 L1540.4 1232.6 L1543.1 1233.8 L1545.8 1235.1 L1548.5 1236.4 L1551.2 1237.7 L1553.9 1239.0 L1556.5 1240.4 L1559.2 1241.7 L1561.9 1242.0 L1564.6 1242.3 L1567.3 1242.7 L1570.0 1243.1 L1572.7 1243.7 L1575.4 1244.3 L1578.1 1244.7 L1580.7 1245.1 L1583.4 1247.2 L1586.1 1249.3 L1588.8 1249.1 L1591.5 1248.8 L1594.2 1250.0" stroke="#9a2be8" stroke-width="3.3"/>
<path d="M246.8 1213.5 L249.4 1213.7 L252.1 1214.0 L254.8 1214.2 L257.5 1214.5 L260.2 1214.8 L262.9 1215.1 L265.6 1215.5 L268.3 1215.8 L271.0 1216.2 L273.7 1216.6 L276.3 1216.9 L279.0 1217.3 L281.7 1217.8 L284.4 1218.2 L287.1 1218.6 L289.8 1219.1 L292.5 1219.5 L295.2 1220.0 L297.9 1220.4 L300.5 1220.9 L303.2 1221.4 L305.9 1221.9 L308.6 1222.4 L311.3 1222.9 L314.0 1223.4 L316.7 1223.9 L319.4 1224.4 L322.1 1224.9 L324.8 1225.4 L327.4 1225.8 L330.1 1226.3 L332.8 1226.8 L335.5 1227.3 L338.2 1227.8 L340.9 1228.3 L343.6 1228.8 L346.3 1229.2 L349.0 1229.7 L351.6 1230.1 L354.3 1230.6 L357.0 1231.0 L359.7 1231.4 L362.4 1231.8 L365.1 1232.2 L367.8 1232.6 L370.5 1233.0 L373.2 1233.4 L375.9 1233.7 L378.5 1234.0 L381.2 1234.3 L383.9 1234.6 L386.6 1234.9 L389.3 1235.2 L392.0 1235.4 L394.7 1235.6 L397.4 1235.8 L400.1 1236.0 L402.7 1236.2 L405.4 1236.3 L408.1 1236.4 L410.8 1236.5 L413.5 1236.6 L416.2 1236.6 L418.9 1236.6 L421.6 1236.6 L424.3 1236.6 L427.0 1236.5 L429.6 1236.4 L432.3 1236.3 L435.0 1236.2 L437.7 1236.0 L440.4 1235.8 L443.1 1235.6 L445.8 1235.4 L448.5 1235.1 L451.2 1234.8 L453.8 1234.5 L456.5 1234.1 L459.2 1233.7 L461.9 1233.3 L464.6 1232.9 L467.3 1232.4 L470.0 1231.9 L472.7 1231.4 L475.4 1230.9 L478.1 1230.4 L480.7 1229.8 L483.4 1229.2 L486.1 1228.7 L488.8 1228.1 L491.5 1227.5 L494.2 1227.0 L496.9 1226.4 L499.6 1225.9 L502.3 1225.5 L504.9 1225.1 L507.6 1224.7 L510.3 1224.3 L513.0 1224.1 L515.7 1223.9 L518.4 1223.7 L521.1 1223.6 L523.8 1223.6 L526.5 1223.6 L529.2 1223.8 L531.8 1223.9 L534.5 1224.2 L537.2 1224.5 L539.9 1224.9 L542.6 1225.3 L545.3 1225.8 L548.0 1226.2 L550.7 1226.7 L553.4 1227.4 L556.0 1228.2 L558.7 1229.2 L561.4 1230.4 L564.1 1231.8 L566.8 1233.6 L569.5 1235.5 L572.2 1237.7 L574.9 1240.0 L577.6 1242.3 L580.3 1244.7 L582.9 1247.0 L585.6 1249.3 L588.3 1251.6 L591.0 1253.7 L593.7 1255.8 L596.4 1257.8 L599.1 1259.7 L601.8 1261.4 L604.5 1263.1 L607.1 1264.6 L609.8 1266.1 L612.5 1267.4 L615.2 1268.7 L617.9 1269.8 L620.6 1270.9 L623.3 1271.9 L626.0 1272.8 L628.7 1273.7 L631.4 1274.5 L634.0 1275.4 L636.7 1276.2 L639.4 1277.0 L642.1 1277.8 L644.8 1278.6 L647.5 1279.3 L650.2 1280.0 L652.9 1280.8 L655.6 1281.4 L658.3 1282.1 L660.9 1282.8 L663.6 1283.4 L666.3 1284.0 L669.0 1284.6 L671.7 1285.2 L674.4 1285.8 L677.1 1286.4 L679.8 1286.9 L682.5 1287.5 L685.1 1288.0 L687.8 1288.5 L690.5 1289.0 L693.2 1289.5 L695.9 1289.9 L698.6 1290.4 L701.3 1290.8 L704.0 1291.3 L706.7 1291.7 L709.4 1292.1 L712.0 1292.5 L714.7 1292.9 L717.4 1293.3 L720.1 1293.6 L722.8 1294.0 L725.5 1294.4 L728.2 1294.7 L730.9 1295.0 L733.6 1295.4 L736.2 1295.7 L738.9 1296.0 L741.6 1296.3 L744.3 1296.6 L747.0 1296.9 L749.7 1297.2 L752.4 1297.4 L755.1 1297.7 L757.8 1297.9 L760.5 1298.1 L763.1 1298.4 L765.8 1298.6 L768.5 1298.7 L771.2 1298.9 L773.9 1299.0 L776.6 1299.2 L779.3 1299.3 L782.0 1299.4 L784.7 1299.4 L787.3 1299.5 L790.0 1299.5 L792.7 1299.6 L795.4 1299.5 L798.1 1299.5 L800.8 1299.5 L803.5 1299.4 L806.2 1299.3 L808.9 1299.2 L811.6 1299.0 L814.2 1298.9 L816.9 1298.7 L819.6 1298.4 L822.3 1298.2 L825.0 1297.9 L827.7 1297.5 L830.4 1297.1 L833.1 1296.7 L835.8 1296.3 L838.4 1295.8 L841.1 1295.2 L843.8 1294.7 L846.5 1294.1 L849.2 1293.4 L851.9 1292.8 L854.6 1292.0 L857.3 1291.3 L860.0 1290.5 L862.7 1289.7 L865.3 1288.9 L868.0 1288.0 L870.7 1287.1 L873.4 1286.2 L876.1 1285.3 L878.8 1284.4 L881.5 1283.4 L884.2 1282.4 L886.9 1281.4 L889.5 1280.4 L892.2 1279.4 L894.9 1278.4 L897.6 1277.3 L900.3 1276.3 L903.0 1275.2 L905.7 1274.2 L908.4 1273.1 L911.1 1272.0 L913.8 1271.0 L916.4 1269.9 L919.1 1268.8 L921.8 1267.6 L924.5 1266.5 L927.2 1265.4 L929.9 1264.2 L932.6 1263.0 L935.3 1261.8 L938.0 1260.6 L940.6 1259.3 L943.3 1258.0 L946.0 1256.7 L948.7 1255.3 L951.4 1253.9 L954.1 1252.4 L956.8 1250.9 L959.5 1249.4 L962.2 1247.8 L964.9 1246.2 L967.5 1244.5 L970.2 1242.8 L972.9 1241.1 L975.6 1239.3 L978.3 1237.5 L981.0 1235.6 L983.7 1233.7 L986.4 1231.7 L989.1 1229.7 L991.7 1227.6 L994.4 1225.5 L997.1 1223.3 L999.8 1221.1 L1002.5 1218.9 L1005.2 1216.6 L1007.9 1214.2 L1010.6 1211.8 L1013.3 1209.3 L1016.0 1206.8 L1018.6 1204.3 L1021.3 1201.6 L1024.0 1199.0 L1026.7 1196.3 L1029.4 1193.5 L1032.1 1190.7 L1034.8 1187.8 L1037.5 1184.9 L1040.2 1181.9 L1042.8 1178.9 L1045.5 1175.8 L1048.2 1172.7 L1050.9 1169.5 L1053.6 1166.3 L1056.3 1163.1 L1059.0 1159.8 L1061.7 1156.4 L1064.4 1153.0 L1067.1 1149.6 L1069.7 1146.1 L1072.4 1142.6 L1075.1 1139.1 L1077.8 1135.5 L1080.5 1131.9 L1083.2 1128.2 L1085.9 1124.5 L1088.6 1120.8 L1091.3 1117.1 L1093.9 1113.3 L1096.6 1109.6 L1099.3 1105.8 L1102.0 1101.9 L1104.7 1098.1 L1107.4 1094.3 L1110.1 1090.4 L1112.8 1086.5 L1115.5 1082.7 L1118.2 1078.8 L1120.8 1074.9 L1123.5 1071.1 L1126.2 1067.2 L1128.9 1063.4 L1131.6 1059.6 L1134.3 1055.8 L1137.0 1052.0 L1139.7 1048.3 L1142.4 1044.6 L1145.0 1040.9 L1147.7 1037.3 L1150.4 1033.7 L1153.1 1030.2 L1155.8 1026.7 L1158.5 1023.3 L1161.2 1020.0 L1163.9 1016.7 L1166.6 1013.5 L1169.3 1010.4 L1171.9 1007.3 L1174.6 1004.4 L1177.3 1001.5 L1180.0 998.8 L1182.7 996.1 L1185.4 993.6 L1188.1 991.1 L1190.8 988.8 L1193.5 986.6 L1196.2 984.5 L1198.8 982.5 L1201.5 980.7 L1204.2 978.9 L1206.9 977.3 L1209.6 975.9 L1212.3 974.6 L1215.0 973.4 L1217.7 972.3 L1220.4 971.4 L1223.0 970.6 L1225.7 969.9 L1228.4 969.4 L1231.1 969.0 L1233.8 968.8 L1236.5 968.6 L1239.2 968.6 L1241.9 968.7 L1244.6 968.9 L1247.3 969.3 L1249.9 969.8 L1252.6 970.5 L1255.3 971.3 L1258.0 972.2 L1260.7 973.3 L1263.4 974.5 L1266.1 975.9 L1268.8 977.4 L1271.5 979.0 L1274.1 980.8 L1276.8 982.7 L1279.5 984.7 L1282.2 986.8 L1284.9 989.1 L1287.6 991.5 L1290.3 994.0 L1293.0 996.6 L1295.7 999.4 L1298.4 1002.2 L1301.0 1005.1 L1303.7 1008.1 L1306.4 1011.2 L1309.1 1014.3 L1311.8 1017.6 L1314.5 1020.9 L1317.2 1024.3 L1319.9 1027.8 L1322.6 1031.3 L1325.2 1034.8 L1327.9 1038.5 L1330.6 1042.1 L1333.3 1045.8 L1336.0 1049.6 L1338.7 1053.3 L1341.4 1057.1 L1344.1 1061.0 L1346.8 1064.8 L1349.5 1068.7 L1352.1 1072.6 L1354.8 1076.4 L1357.5 1080.3 L1360.2 1084.2 L1362.9 1088.1 L1365.6 1092.0 L1368.3 1095.9 L1371.0 1099.7 L1373.7 1103.6 L1376.3 1107.4 L1379.0 1111.2 L1381.7 1115.0 L1384.4 1118.7 L1387.1 1122.4 L1389.8 1126.1 L1392.5 1129.8 L1395.2 1133.4 L1397.9 1137.0 L1400.6 1140.5 L1403.2 1144.0 L1405.9 1147.5 L1408.6 1150.9 L1411.3 1154.2 L1414.0 1157.5 L1416.7 1160.8 L1419.4 1164.0 L1422.1 1167.1 L1424.8 1170.2 L1427.4 1173.3 L1430.1 1176.2 L1432.8 1179.2 L1435.5 1182.0 L1438.2 1184.8 L1440.9 1187.6 L1443.6 1190.3 L1446.3 1192.9 L1449.0 1195.5 L1451.7 1198.0 L1454.3 1200.5 L1457.0 1202.8 L1459.7 1205.3 L1462.4 1207.6 L1465.1 1209.9 L1467.8 1212.1 L1470.5 1214.0 L1473.2 1215.8 L1475.9 1217.8 L1478.5 1219.8 L1481.2 1222.0 L1483.9 1224.3 L1486.6 1225.8 L1489.3 1227.2 L1492.0 1228.8 L1494.7 1230.4 L1497.4 1232.0 L1500.1 1233.5 L1502.8 1234.8 L1505.4 1236.0 L1508.1 1237.9 L1510.8 1239.8 L1513.5 1240.2 L1516.2 1240.6 L1518.9 1242.5 L1521.6 1244.4 L1524.3 1244.8 L1527.0 1245.2 L1529.6 1246.5 L1532.3 1247.8 L1535.0 1249.0 L1537.7 1250.3 L1540.4 1250.9 L1543.1 1251.6 L1545.8 1251.5 L1548.5 1251.4 L1551.2 1252.4 L1553.9 1253.3 L1556.5 1254.8 L1559.2 1256.4 L1561.9 1255.0 L1564.6 1253.5 L1567.3 1256.4 L1570.0 1259.3 L1572.7 1259.4 L1575.4 1259.5 L1578.1 1260.9 L1580.7 1262.3 L1583.4 1261.6 L1586.1 1260.8 L1588.8 1261.3 L1591.5 1261.7 L1594.2 1263.0" stroke="#f07a30" stroke-width="3.3"/>
<path d="M246.8 1214.6 L249.4 1214.9 L252.1 1215.3 L254.8 1215.6 L257.5 1215.9 L260.2 1216.3 L262.9 1216.7 L265.6 1217.0 L268.3 1217.4 L271.0 1217.8 L273.7 1218.2 L276.3 1218.6 L279.0 1219.1 L281.7 1219.5 L284.4 1219.9 L287.1 1220.4 L289.8 1220.8 L292.5 1221.3 L295.2 1221.7 L297.9 1222.2 L300.5 1222.6 L303.2 1223.1 L305.9 1223.6 L308.6 1224.1 L311.3 1224.5 L314.0 1225.0 L316.7 1225.5 L319.4 1225.9 L322.1 1226.4 L324.8 1226.9 L327.4 1227.3 L330.1 1227.8 L332.8 1228.3 L335.5 1228.7 L338.2 1229.2 L340.9 1229.6 L343.6 1230.1 L346.3 1230.5 L349.0 1230.9 L351.6 1231.3 L354.3 1231.7 L357.0 1232.1 L359.7 1232.5 L362.4 1232.9 L365.1 1233.3 L367.8 1233.6 L370.5 1234.0 L373.2 1234.3 L375.9 1234.6 L378.5 1234.9 L381.2 1235.2 L383.9 1235.5 L386.6 1235.7 L389.3 1236.0 L392.0 1236.2 L394.7 1236.4 L397.4 1236.6 L400.1 1236.8 L402.7 1236.9 L405.4 1237.1 L408.1 1237.2 L410.8 1237.3 L413.5 1237.4 L416.2 1237.4 L418.9 1237.5 L421.6 1237.5 L424.3 1237.5 L427.0 1237.4 L429.6 1237.4 L432.3 1237.3 L435.0 1237.2 L437.7 1237.1 L440.4 1237.0 L443.1 1236.8 L445.8 1236.6 L448.5 1236.4 L451.2 1236.1 L453.8 1235.9 L456.5 1235.6 L459.2 1235.2 L461.9 1234.9 L464.6 1234.5 L467.3 1234.1 L470.0 1233.7 L472.7 1233.3 L475.4 1232.8 L478.1 1232.3 L480.7 1231.8 L483.4 1231.3 L486.1 1230.8 L488.8 1230.2 L491.5 1229.7 L494.2 1229.2 L496.9 1228.7 L499.6 1228.2 L502.3 1227.7 L504.9 1227.3 L507.6 1226.9 L510.3 1226.5 L513.0 1226.2 L515.7 1225.9 L518.4 1225.7 L521.1 1225.5 L523.8 1225.4 L526.5 1225.3 L529.2 1225.3 L531.8 1225.3 L534.5 1225.3 L537.2 1225.4 L539.9 1225.6 L542.6 1225.8 L545.3 1226.1 L548.0 1226.5 L550.7 1227.0 L553.4 1227.6 L556.0 1228.5 L558.7 1229.4 L561.4 1230.6 L564.1 1232.0 L566.8 1233.6 L569.5 1235.5 L572.2 1237.4 L574.9 1239.5 L577.6 1241.6 L580.3 1243.6 L582.9 1245.7 L585.6 1247.7 L588.3 1249.7 L591.0 1251.6 L593.7 1253.4 L596.4 1255.2 L599.1 1256.9 L601.8 1258.5 L604.5 1260.0 L607.1 1261.4 L609.8 1262.8 L612.5 1264.1 L615.2 1265.3 L617.9 1266.4 L620.6 1267.5 L623.3 1268.5 L626.0 1269.5 L628.7 1270.4 L631.4 1271.4 L634.0 1272.3 L636.7 1273.1 L639.4 1274.0 L642.1 1274.8 L644.8 1275.7 L647.5 1276.5 L650.2 1277.2 L652.9 1278.0 L655.6 1278.7 L658.3 1279.5 L660.9 1280.2 L663.6 1280.8 L666.3 1281.5 L669.0 1282.2 L671.7 1282.8 L674.4 1283.4 L677.1 1284.0 L679.8 1284.6 L682.5 1285.2 L685.1 1285.7 L687.8 1286.3 L690.5 1286.8 L693.2 1287.3 L695.9 1287.8 L698.6 1288.3 L701.3 1288.8 L704.0 1289.2 L706.7 1289.7 L709.4 1290.1 L712.0 1290.5 L714.7 1290.9 L717.4 1291.3 L720.1 1291.7 L722.8 1292.1 L725.5 1292.5 L728.2 1292.8 L730.9 1293.2 L733.6 1293.5 L736.2 1293.8 L738.9 1294.2 L741.6 1294.5 L744.3 1294.8 L747.0 1295.0 L749.7 1295.3 L752.4 1295.6 L755.1 1295.8 L757.8 1296.0 L760.5 1296.2 L763.1 1296.4 L765.8 1296.6 L768.5 1296.8 L771.2 1296.9 L773.9 1297.1 L776.6 1297.2 L779.3 1297.3 L782.0 1297.4 L784.7 1297.5 L787.3 1297.5 L790.0 1297.5 L792.7 1297.6 L795.4 1297.5 L798.1 1297.5 L800.8 1297.5 L803.5 1297.4 L806.2 1297.3 L808.9 1297.2 L811.6 1297.1 L814.2 1296.9 L816.9 1296.7 L819.6 1296.5 L822.3 1296.3 L825.0 1296.0 L827.7 1295.7 L830.4 1295.4 L833.1 1295.1 L835.8 1294.7 L838.4 1294.3 L841.1 1293.9 L843.8 1293.5 L846.5 1293.1 L849.2 1292.6 L851.9 1292.2 L854.6 1291.7 L857.3 1291.2 L860.0 1290.7 L862.7 1290.1 L865.3 1289.6 L868.0 1289.1 L870.7 1288.5 L873.4 1287.9 L876.1 1287.4 L878.8 1286.8 L881.5 1286.2 L884.2 1285.6 L886.9 1285.1 L889.5 1284.5 L892.2 1283.9 L894.9 1283.3 L897.6 1282.7 L900.3 1282.1 L903.0 1281.4 L905.7 1280.8 L908.4 1280.2 L911.1 1279.5 L913.8 1278.8 L916.4 1278.2 L919.1 1277.5 L921.8 1276.7 L924.5 1276.0 L927.2 1275.2 L929.9 1274.4 L932.6 1273.5 L935.3 1272.7 L938.0 1271.7 L940.6 1270.8 L943.3 1269.7 L946.0 1268.6 L948.7 1267.5 L951.4 1266.3 L954.1 1265.1 L956.8 1263.8 L959.5 1262.5 L962.2 1261.1 L964.9 1259.8 L967.5 1258.3 L970.2 1256.9 L972.9 1255.4 L975.6 1253.9 L978.3 1252.3 L981.0 1250.7 L983.7 1249.0 L986.4 1247.3 L989.1 1245.6 L991.7 1243.8 L994.4 1242.0 L997.1 1240.2 L999.8 1238.3 L1002.5 1236.3 L1005.2 1234.4 L1007.9 1232.4 L1010.6 1230.3 L1013.3 1228.2 L1016.0 1226.1 L1018.6 1224.0 L1021.3 1221.8 L1024.0 1219.6 L1026.7 1217.3 L1029.4 1215.0 L1032.1 1212.7 L1034.8 1210.3 L1037.5 1207.9 L1040.2 1205.5 L1042.8 1203.0 L1045.5 1200.6 L1048.2 1198.1 L1050.9 1195.5 L1053.6 1193.0 L1056.3 1190.4 L1059.0 1187.8 L1061.7 1185.2 L1064.4 1182.5 L1067.1 1179.9 L1069.7 1177.2 L1072.4 1174.5 L1075.1 1171.8 L1077.8 1169.1 L1080.5 1166.3 L1083.2 1163.6 L1085.9 1160.9 L1088.6 1158.1 L1091.3 1155.4 L1093.9 1152.6 L1096.6 1149.9 L1099.3 1147.1 L1102.0 1144.4 L1104.7 1141.7 L1107.4 1139.0 L1110.1 1136.3 L1112.8 1133.6 L1115.5 1130.9 L1118.2 1128.2 L1120.8 1125.6 L1123.5 1123.0 L1126.2 1120.4 L1128.9 1117.9 L1131.6 1115.4 L1134.3 1112.9 L1137.0 1110.4 L1139.7 1108.0 L1142.4 1105.6 L1145.0 1103.3 L1147.7 1101.0 L1150.4 1098.8 L1153.1 1096.6 L1155.8 1094.5 L1158.5 1092.4 L1161.2 1090.4 L1163.9 1088.4 L1166.6 1086.5 L1169.3 1084.7 L1171.9 1082.9 L1174.6 1081.2 L1177.3 1079.6 L1180.0 1078.1 L1182.7 1076.6 L1185.4 1075.2 L1188.1 1073.9 L1190.8 1072.7 L1193.5 1071.5 L1196.2 1070.4 L1198.8 1069.4 L1201.5 1068.5 L1204.2 1067.7 L1206.9 1066.9 L1209.6 1066.3 L1212.3 1065.7 L1215.0 1065.2 L1217.7 1064.8 L1220.4 1064.5 L1223.0 1064.3 L1225.7 1064.2 L1228.4 1064.1 L1231.1 1064.2 L1233.8 1064.3 L1236.5 1064.6 L1239.2 1065.0 L1241.9 1065.5 L1244.6 1066.1 L1247.3 1066.7 L1249.9 1067.5 L1252.6 1068.4 L1255.3 1069.4 L1258.0 1070.4 L1260.7 1071.6 L1263.4 1072.8 L1266.1 1074.1 L1268.8 1075.5 L1271.5 1077.0 L1274.1 1078.5 L1276.8 1080.1 L1279.5 1081.8 L1282.2 1083.5 L1284.9 1085.4 L1287.6 1087.2 L1290.3 1089.1 L1293.0 1091.1 L1295.7 1093.2 L1298.4 1095.2 L1301.0 1097.4 L1303.7 1099.6 L1306.4 1101.8 L1309.1 1104.0 L1311.8 1106.3 L1314.5 1108.6 L1317.2 1111.0 L1319.9 1113.4 L1322.6 1115.8 L1325.2 1118.2 L1327.9 1120.7 L1330.6 1123.1 L1333.3 1125.6 L1336.0 1128.1 L1338.7 1130.6 L1341.4 1133.1 L1344.1 1135.7 L1346.8 1138.2 L1349.5 1140.7 L1352.1 1143.3 L1354.8 1145.8 L1357.5 1148.3 L1360.2 1150.9 L1362.9 1153.4 L1365.6 1155.9 L1368.3 1158.4 L1371.0 1160.9 L1373.7 1163.4 L1376.3 1165.8 L1379.0 1168.3 L1381.7 1170.7 L1384.4 1173.2 L1387.1 1175.5 L1389.8 1177.9 L1392.5 1180.3 L1395.2 1182.6 L1397.9 1184.9 L1400.6 1187.2 L1403.2 1189.5 L1405.9 1191.7 L1408.6 1193.9 L1411.3 1196.1 L1414.0 1198.3 L1416.7 1200.4 L1419.4 1202.5 L1422.1 1204.6 L1424.8 1206.6 L1427.4 1208.7 L1430.1 1210.6 L1432.8 1212.6 L1435.5 1214.5 L1438.2 1216.4 L1440.9 1218.3 L1443.6 1220.1 L1446.3 1221.9 L1449.0 1223.7 L1451.7 1225.4 L1454.3 1227.1 L1457.0 1228.7 L1459.7 1230.4 L1462.4 1232.1 L1465.1 1233.6 L1467.8 1235.1 L1470.5 1236.7 L1473.2 1238.3 L1475.9 1239.7 L1478.5 1241.0 L1481.2 1242.7 L1483.9 1244.3 L1486.6 1245.4 L1489.3 1246.4 L1492.0 1247.8 L1494.7 1249.1 L1497.4 1250.7 L1500.1 1252.2 L1502.8 1252.6 L1505.4 1252.9 L1508.1 1254.1 L1510.8 1255.3 L1513.5 1256.6 L1516.2 1257.9 L1518.9 1258.3 L1521.6 1258.7 L1524.3 1260.5 L1527.0 1262.3 L1529.6 1262.5 L1532.3 1262.5 L1535.0 1264.5 L1537.7 1266.5 L1540.4 1266.5 L1543.1 1266.4 L1545.8 1267.5 L1548.5 1268.7 L1551.2 1268.8 L1553.9 1268.9 L1556.5 1269.5 L1559.2 1270.2 L1561.9 1271.3 L1564.6 1272.5 L1567.3 1273.4 L1570.0 1274.3 L1572.7 1274.4 L1575.4 1274.6 L1578.1 1274.5 L1580.7 1274.5 L1583.4 1276.7 L1586.1 1278.9 L1588.8 1277.7 L1591.5 1276.6 L1594.2 1278.2" stroke="#e2a8d0" stroke-width="2.8"/>
<path d="M246.8 1215.8 L249.4 1216.1 L252.1 1216.5 L254.8 1216.9 L257.5 1217.3 L260.2 1217.7 L262.9 1218.2 L265.6 1218.6 L268.3 1219.0 L271.0 1219.4 L273.7 1219.9 L276.3 1220.3 L279.0 1220.8 L281.7 1221.2 L284.4 1221.7 L287.1 1222.1 L289.8 1222.6 L292.5 1223.0 L295.2 1223.5 L297.9 1223.9 L300.5 1224.4 L303.2 1224.8 L305.9 1225.3 L308.6 1225.7 L311.3 1226.2 L314.0 1226.6 L316.7 1227.1 L319.4 1227.5 L322.1 1228.0 L324.8 1228.4 L327.4 1228.8 L330.1 1229.3 L332.8 1229.7 L335.5 1230.1 L338.2 1230.5 L340.9 1230.9 L343.6 1231.3 L346.3 1231.7 L349.0 1232.1 L351.6 1232.5 L354.3 1232.9 L357.0 1233.2 L359.7 1233.6 L362.4 1233.9 L365.1 1234.3 L367.8 1234.6 L370.5 1234.9 L373.2 1235.2 L375.9 1235.5 L378.5 1235.8 L381.2 1236.1 L383.9 1236.3 L386.6 1236.6 L389.3 1236.8 L392.0 1237.0 L394.7 1237.2 L397.4 1237.4 L400.1 1237.6 L402.7 1237.7 L405.4 1237.9 L408.1 1238.0 L410.8 1238.1 L413.5 1238.2 L416.2 1238.3 L418.9 1238.3 L421.6 1238.4 L424.3 1238.4 L427.0 1238.4 L429.6 1238.4 L432.3 1238.3 L435.0 1238.3 L437.7 1238.2 L440.4 1238.1 L443.1 1238.0 L445.8 1237.8 L448.5 1237.6 L451.2 1237.5 L453.8 1237.2 L456.5 1237.0 L459.2 1236.8 L461.9 1236.5 L464.6 1236.2 L467.3 1235.8 L470.0 1235.5 L472.7 1235.1 L475.4 1234.7 L478.1 1234.2 L480.7 1233.8 L483.4 1233.3 L486.1 1232.8 L488.8 1232.2 L491.5 1231.7 L494.2 1231.1 L496.9 1230.6 L499.6 1230.0 L502.3 1229.5 L504.9 1228.9 L507.6 1228.4 L510.3 1227.9 L513.0 1227.4 L515.7 1227.0 L518.4 1226.6 L521.1 1226.2 L523.8 1225.9 L526.5 1225.7 L529.2 1225.5 L531.8 1225.3 L534.5 1225.3 L537.2 1225.3 L539.9 1225.4 L542.6 1225.5 L545.3 1225.7 L548.0 1226.0 L550.7 1226.4 L553.4 1226.9 L556.0 1227.4 L558.7 1228.0 L561.4 1228.6 L564.1 1229.4 L566.8 1230.2 L569.5 1231.1 L572.2 1232.0 L574.9 1233.0 L577.6 1234.1 L580.3 1235.2 L582.9 1236.3 L585.6 1237.5 L588.3 1238.7 L591.0 1239.9 L593.7 1241.2 L596.4 1242.4 L599.1 1243.7 L601.8 1245.0 L604.5 1246.3 L607.1 1247.6 L609.8 1248.9 L612.5 1250.2 L615.2 1251.5 L617.9 1252.7 L620.6 1254.0 L623.3 1255.2 L626.0 1256.4 L628.7 1257.5 L631.4 1258.7 L634.0 1259.8 L636.7 1260.9 L639.4 1261.9 L642.1 1263.0 L644.8 1264.0 L647.5 1265.0 L650.2 1266.0 L652.9 1266.9 L655.6 1267.9 L658.3 1268.8 L660.9 1269.7 L663.6 1270.5 L666.3 1271.4 L669.0 1272.2 L671.7 1273.0 L674.4 1273.8 L677.1 1274.6 L679.8 1275.3 L682.5 1276.1 L685.1 1276.8 L687.8 1277.4 L690.5 1278.1 L693.2 1278.8 L695.9 1279.4 L698.6 1280.0 L701.3 1280.6 L704.0 1281.1 L706.7 1281.7 L709.4 1282.2 L712.0 1282.7 L714.7 1283.2 L717.4 1283.6 L720.1 1284.1 L722.8 1284.5 L725.5 1284.9 L728.2 1285.3 L730.9 1285.7 L733.6 1286.0 L736.2 1286.4 L738.9 1286.7 L741.6 1287.0 L744.3 1287.3 L747.0 1287.5 L749.7 1287.8 L752.4 1288.0 L755.1 1288.2 L757.8 1288.4 L760.5 1288.6 L763.1 1288.8 L765.8 1288.9 L768.5 1289.0 L771.2 1289.2 L773.9 1289.3 L776.6 1289.3 L779.3 1289.4 L782.0 1289.5 L784.7 1289.5 L787.3 1289.5 L790.0 1289.6 L792.7 1289.5 L795.4 1289.5 L798.1 1289.5 L800.8 1289.5 L803.5 1289.4 L806.2 1289.3 L808.9 1289.3 L811.6 1289.2 L814.2 1289.0 L816.9 1288.9 L819.6 1288.8 L822.3 1288.6 L825.0 1288.5 L827.7 1288.3 L830.4 1288.1 L833.1 1287.9 L835.8 1287.7 L838.4 1287.5 L841.1 1287.3 L843.8 1287.0 L846.5 1286.8 L849.2 1286.5 L851.9 1286.3 L854.6 1286.0 L857.3 1285.7 L860.0 1285.4 L862.7 1285.1 L865.3 1284.9 L868.0 1284.6 L870.7 1284.3 L873.4 1284.0 L876.1 1283.6 L878.8 1283.3 L881.5 1283.0 L884.2 1282.7 L886.9 1282.4 L889.5 1282.1 L892.2 1281.7 L894.9 1281.4 L897.6 1281.1 L900.3 1280.7 L903.0 1280.4 L905.7 1280.0 L908.4 1279.6 L911.1 1279.2 L913.8 1278.9 L916.4 1278.4 L919.1 1278.0 L921.8 1277.6 L924.5 1277.1 L927.2 1276.6 L929.9 1276.1 L932.6 1275.6 L935.3 1275.0 L938.0 1274.4 L940.6 1273.8 L943.3 1273.2 L946.0 1272.5 L948.7 1271.8 L951.4 1271.0 L954.1 1270.2 L956.8 1269.4 L959.5 1268.5 L962.2 1267.6 L964.9 1266.7 L967.5 1265.7 L970.2 1264.6 L972.9 1263.5 L975.6 1262.4 L978.3 1261.2 L981.0 1260.0 L983.7 1258.7 L986.4 1257.4 L989.1 1256.0 L991.7 1254.6 L994.4 1253.1 L997.1 1251.6 L999.8 1250.1 L1002.5 1248.5 L1005.2 1246.8 L1007.9 1245.2 L1010.6 1243.4 L1013.3 1241.7 L1016.0 1239.9 L1018.6 1238.0 L1021.3 1236.2 L1024.0 1234.3 L1026.7 1232.4 L1029.4 1230.4 L1032.1 1228.4 L1034.8 1226.5 L1037.5 1224.5 L1040.2 1222.4 L1042.8 1220.4 L1045.5 1218.4 L1048.2 1216.3 L1050.9 1214.3 L1053.6 1212.2 L1056.3 1210.2 L1059.0 1208.1 L1061.7 1206.1 L1064.4 1204.0 L1067.1 1202.0 L1069.7 1200.0 L1072.4 1197.9 L1075.1 1196.0 L1077.8 1194.0 L1080.5 1192.0 L1083.2 1190.1 L1085.9 1188.1 L1088.6 1186.2 L1091.3 1184.4 L1093.9 1182.5 L1096.6 1180.7 L1099.3 1178.9 L1102.0 1177.1 L1104.7 1175.4 L1107.4 1173.7 L1110.1 1172.0 L1112.8 1170.3 L1115.5 1168.7 L1118.2 1167.1 L1120.8 1165.6 L1123.5 1164.1 L1126.2 1162.6 L1128.9 1161.1 L1131.6 1159.7 L1134.3 1158.3 L1137.0 1157.0 L1139.7 1155.7 L1142.4 1154.5 L1145.0 1153.2 L1147.7 1152.1 L1150.4 1150.9 L1153.1 1149.8 L1155.8 1148.8 L1158.5 1147.8 L1161.2 1146.8 L1163.9 1145.9 L1166.6 1145.0 L1169.3 1144.2 L1171.9 1143.4 L1174.6 1142.6 L1177.3 1141.9 L1180.0 1141.3 L1182.7 1140.7 L1185.4 1140.1 L1188.1 1139.6 L1190.8 1139.1 L1193.5 1138.7 L1196.2 1138.3 L1198.8 1137.9 L1201.5 1137.6 L1204.2 1137.4 L1206.9 1137.2 L1209.6 1137.0 L1212.3 1136.9 L1215.0 1136.8 L1217.7 1136.8 L1220.4 1136.8 L1223.0 1136.9 L1225.7 1137.0 L1228.4 1137.2 L1231.1 1137.4 L1233.8 1137.7 L1236.5 1138.1 L1239.2 1138.6 L1241.9 1139.1 L1244.6 1139.6 L1247.3 1140.3 L1249.9 1140.9 L1252.6 1141.7 L1255.3 1142.5 L1258.0 1143.3 L1260.7 1144.3 L1263.4 1145.2 L1266.1 1146.2 L1268.8 1147.3 L1271.5 1148.4 L1274.1 1149.6 L1276.8 1150.8 L1279.5 1152.0 L1282.2 1153.3 L1284.9 1154.7 L1287.6 1156.0 L1290.3 1157.4 L1293.0 1158.9 L1295.7 1160.4 L1298.4 1161.9 L1301.0 1163.4 L1303.7 1165.0 L1306.4 1166.6 L1309.1 1168.3 L1311.8 1169.9 L1314.5 1171.6 L1317.2 1173.3 L1319.9 1175.1 L1322.6 1176.8 L1325.2 1178.6 L1327.9 1180.4 L1330.6 1182.2 L1333.3 1184.0 L1336.0 1185.9 L1338.7 1187.7 L1341.4 1189.6 L1344.1 1191.5 L1346.8 1193.4 L1349.5 1195.3 L1352.1 1197.2 L1354.8 1199.1 L1357.5 1201.0 L1360.2 1202.9 L1362.9 1204.8 L1365.6 1206.8 L1368.3 1208.7 L1371.0 1210.6 L1373.7 1212.5 L1376.3 1214.4 L1379.0 1216.3 L1381.7 1218.1 L1384.4 1220.0 L1387.1 1221.8 L1389.8 1223.7 L1392.5 1225.5 L1395.2 1227.3 L1397.9 1229.1 L1400.6 1230.8 L1403.2 1232.6 L1405.9 1234.3 L1408.6 1236.0 L1411.3 1237.6 L1414.0 1239.3 L1416.7 1240.9 L1419.4 1242.5 L1422.1 1244.0 L1424.8 1245.6 L1427.4 1247.1 L1430.1 1248.5 L1432.8 1250.0 L1435.5 1251.4 L1438.2 1252.8 L1440.9 1254.1 L1443.6 1255.4 L1446.3 1256.7 L1449.0 1257.9 L1451.7 1259.1 L1454.3 1260.3 L1457.0 1261.5 L1459.7 1262.7 L1462.4 1263.9 L1465.1 1264.8 L1467.8 1265.8 L1470.5 1266.8 L1473.2 1267.8 L1475.9 1268.6 L1478.5 1269.4 L1481.2 1270.4 L1483.9 1271.4 L1486.6 1272.2 L1489.3 1272.9 L1492.0 1273.3 L1494.7 1273.6 L1497.4 1274.5 L1500.1 1275.4 L1502.8 1276.3 L1505.4 1277.2 L1508.1 1277.6 L1510.8 1278.0 L1513.5 1278.9 L1516.2 1279.8 L1518.9 1280.0 L1521.6 1280.1 L1524.3 1280.7 L1527.0 1281.3 L1529.6 1282.0 L1532.3 1282.6 L1535.0 1283.3 L1537.7 1284.0 L1540.4 1284.0 L1543.1 1283.9 L1545.8 1284.4 L1548.5 1284.9 L1551.2 1285.4 L1553.9 1285.9 L1556.5 1286.9 L1559.2 1288.1 L1561.9 1287.4 L1564.6 1286.6 L1567.3 1286.7 L1570.0 1286.7 L1572.7 1287.7 L1575.4 1288.8 L1578.1 1289.1 L1580.7 1289.5 L1583.4 1288.9 L1586.1 1288.2 L1588.8 1288.8 L1591.5 1289.4 L1594.2 1289.8" stroke="#557a3a" stroke-width="2.8"/>
<path d="M246.8 1213.5 L249.4 1213.7 L252.1 1214.0 L254.8 1214.2 L257.5 1214.5 L260.2 1214.8 L262.9 1215.1 L265.6 1215.5 L268.3 1215.8 L271.0 1216.2 L273.7 1216.6 L276.3 1216.9 L279.0 1217.3 L281.7 1217.8 L284.4 1218.2 L287.1 1218.6 L289.8 1219.1 L292.5 1219.5 L295.2 1220.0 L297.9 1220.4 L300.5 1220.9 L303.2 1221.4 L305.9 1221.9 L308.6 1222.4 L311.3 1222.9 L314.0 1223.4 L316.7 1223.9 L319.4 1224.4 L322.1 1224.9 L324.8 1225.4 L327.4 1225.8 L330.1 1226.3 L332.8 1226.8 L335.5 1227.3 L338.2 1227.8 L340.9 1228.3 L343.6 1228.8 L346.3 1229.2 L349.0 1229.7 L351.6 1230.1 L354.3 1230.6 L357.0 1231.0 L359.7 1231.4 L362.4 1231.8 L365.1 1232.2 L367.8 1232.6 L370.5 1233.0 L373.2 1233.4 L375.9 1233.7 L378.5 1234.0 L381.2 1234.3 L383.9 1234.6 L386.6 1234.9 L389.3 1235.2 L392.0 1235.4 L394.7 1235.6 L397.4 1235.8 L400.1 1236.0 L402.7 1236.2 L405.4 1236.3 L408.1 1236.4 L410.8 1236.5 L413.5 1236.6 L416.2 1236.6 L418.9 1236.6 L421.6 1236.6 L424.3 1236.6 L427.0 1236.5 L429.6 1236.4 L432.3 1236.3 L435.0 1236.2 L437.7 1236.0 L440.4 1235.8 L443.1 1235.6 L445.8 1235.4 L448.5 1235.1 L451.2 1234.8 L453.8 1234.5 L456.5 1234.1 L459.2 1233.7 L461.9 1233.3 L464.6 1232.9 L467.3 1232.4 L470.0 1231.9 L472.7 1231.4 L475.4 1230.8 L478.1 1230.2 L480.7 1229.6 L483.4 1229.0 L486.1 1228.3 L488.8 1227.6 L491.5 1226.9 L494.2 1226.3 L496.9 1225.6 L499.6 1224.9 L502.3 1224.3 L504.9 1223.7 L507.6 1223.1 L510.3 1222.5 L513.0 1222.0 L515.7 1221.6 L518.4 1221.2 L521.1 1220.9 L523.8 1220.7 L526.5 1220.5 L529.2 1220.4 L531.8 1220.4 L534.5 1220.6 L537.2 1220.8 L539.9 1221.1 L542.6 1221.4 L545.3 1221.9 L548.0 1222.5 L550.7 1223.1 L553.4 1223.8 L556.0 1224.5 L558.7 1225.3 L561.4 1226.2 L564.1 1227.1 L566.8 1228.1 L569.5 1229.1 L572.2 1230.1 L574.9 1231.2 L577.6 1232.3 L580.3 1233.4 L582.9 1234.6 L585.6 1235.7 L588.3 1236.9 L591.0 1238.1 L593.7 1239.3 L596.4 1240.5 L599.1 1241.7 L601.8 1242.8 L604.5 1244.0 L607.1 1245.2 L609.8 1246.3 L612.5 1247.5 L615.2 1248.6 L617.9 1249.7 L620.6 1250.8 L623.3 1251.8 L626.0 1252.9 L628.7 1253.9 L631.4 1254.9 L634.0 1255.9 L636.7 1256.8 L639.4 1257.8 L642.1 1258.7 L644.8 1259.6 L647.5 1260.5 L650.2 1261.3 L652.9 1262.2 L655.6 1263.0 L658.3 1263.8 L660.9 1264.6 L663.6 1265.4 L666.3 1266.1 L669.0 1266.9 L671.7 1267.6 L674.4 1268.3 L677.1 1269.0 L679.8 1269.7 L682.5 1270.3 L685.1 1271.0 L687.8 1271.6 L690.5 1272.2 L693.2 1272.8 L695.9 1273.3 L698.6 1273.9 L701.3 1274.4 L704.0 1274.9 L706.7 1275.4 L709.4 1275.9 L712.0 1276.4 L714.7 1276.9 L717.4 1277.3 L720.1 1277.7 L722.8 1278.1 L725.5 1278.5 L728.2 1278.9 L730.9 1279.2 L733.6 1279.6 L736.2 1279.9 L738.9 1280.2 L741.6 1280.5 L744.3 1280.8 L747.0 1281.1 L749.7 1281.3 L752.4 1281.6 L755.1 1281.8 L757.8 1282.0 L760.5 1282.2 L763.1 1282.4 L765.8 1282.5 L768.5 1282.7 L771.2 1282.8 L773.9 1282.9 L776.6 1283.1 L779.3 1283.2 L782.0 1283.2 L784.7 1283.3 L787.3 1283.4 L790.0 1283.4 L792.7 1283.5 L795.4 1283.5 L798.1 1283.5 L800.8 1283.5 L803.5 1283.5 L806.2 1283.5 L808.9 1283.4 L811.6 1283.4 L814.2 1283.3 L816.9 1283.2 L819.6 1283.1 L822.3 1283.0 L825.0 1282.9 L827.7 1282.8 L830.4 1282.6 L833.1 1282.5 L835.8 1282.3 L838.4 1282.1 L841.1 1281.9 L843.8 1281.7 L846.5 1281.5 L849.2 1281.3 L851.9 1281.1 L854.6 1280.8 L857.3 1280.5 L860.0 1280.3 L862.7 1280.0 L865.3 1279.7 L868.0 1279.4 L870.7 1279.1 L873.4 1278.8 L876.1 1278.5 L878.8 1278.2 L881.5 1277.8 L884.2 1277.5 L886.9 1277.2 L889.5 1276.8 L892.2 1276.5 L894.9 1276.1 L897.6 1275.7 L900.3 1275.3 L903.0 1275.0 L905.7 1274.6 L908.4 1274.2 L911.1 1273.7 L913.8 1273.3 L916.4 1272.9 L919.1 1272.5 L921.8 1272.0 L924.5 1271.5 L927.2 1271.1 L929.9 1270.6 L932.6 1270.1 L935.3 1269.5 L938.0 1269.0 L940.6 1268.5 L943.3 1267.9 L946.0 1267.3 L948.7 1266.7 L951.4 1266.1 L954.1 1265.5 L956.8 1264.9 L959.5 1264.2 L962.2 1263.5 L964.9 1262.8 L967.5 1262.1 L970.2 1261.3 L972.9 1260.6 L975.6 1259.8 L978.3 1259.0 L981.0 1258.1 L983.7 1257.3 L986.4 1256.4 L989.1 1255.5 L991.7 1254.6 L994.4 1253.7 L997.1 1252.7 L999.8 1251.8 L1002.5 1250.8 L1005.2 1249.8 L1007.9 1248.8 L1010.6 1247.7 L1013.3 1246.7 L1016.0 1245.6 L1018.6 1244.5 L1021.3 1243.5 L1024.0 1242.3 L1026.7 1241.2 L1029.4 1240.1 L1032.1 1239.0 L1034.8 1237.8 L1037.5 1236.7 L1040.2 1235.5 L1042.8 1234.3 L1045.5 1233.1 L1048.2 1231.9 L1050.9 1230.7 L1053.6 1229.6 L1056.3 1228.4 L1059.0 1227.2 L1061.7 1225.9 L1064.4 1224.7 L1067.1 1223.5 L1069.7 1222.3 L1072.4 1221.1 L1075.1 1219.9 L1077.8 1218.7 L1080.5 1217.5 L1083.2 1216.4 L1085.9 1215.2 L1088.6 1214.0 L1091.3 1212.8 L1093.9 1211.7 L1096.6 1210.6 L1099.3 1209.4 L1102.0 1208.3 L1104.7 1207.2 L1107.4 1206.1 L1110.1 1205.0 L1112.8 1204.0 L1115.5 1202.9 L1118.2 1201.9 L1120.8 1200.9 L1123.5 1200.0 L1126.2 1199.0 L1128.9 1198.1 L1131.6 1197.2 L1134.3 1196.3 L1137.0 1195.5 L1139.7 1194.7 L1142.4 1193.9 L1145.0 1193.1 L1147.7 1192.4 L1150.4 1191.7 L1153.1 1191.1 L1155.8 1190.5 L1158.5 1189.9 L1161.2 1189.4 L1163.9 1188.9 L1166.6 1188.4 L1169.3 1188.0 L1171.9 1187.6 L1174.6 1187.3 L1177.3 1187.0 L1180.0 1186.7 L1182.7 1186.5 L1185.4 1186.3 L1188.1 1186.2 L1190.8 1186.1 L1193.5 1186.0 L1196.2 1186.0 L1198.8 1186.0 L1201.5 1186.1 L1204.2 1186.2 L1206.9 1186.3 L1209.6 1186.4 L1212.3 1186.6 L1215.0 1186.9 L1217.7 1187.1 L1220.4 1187.4 L1223.0 1187.7 L1225.7 1188.1 L1228.4 1188.5 L1231.1 1188.9 L1233.8 1189.4 L1236.5 1189.9 L1239.2 1190.4 L1241.9 1190.9 L1244.6 1191.5 L1247.3 1192.2 L1249.9 1192.8 L1252.6 1193.5 L1255.3 1194.2 L1258.0 1195.0 L1260.7 1195.8 L1263.4 1196.6 L1266.1 1197.4 L1268.8 1198.3 L1271.5 1199.2 L1274.1 1200.1 L1276.8 1201.1 L1279.5 1202.0 L1282.2 1203.1 L1284.9 1204.1 L1287.6 1205.1 L1290.3 1206.2 L1293.0 1207.3 L1295.7 1208.5 L1298.4 1209.6 L1301.0 1210.8 L1303.7 1212.0 L1306.4 1213.2 L1309.1 1214.5 L1311.8 1215.7 L1314.5 1217.0 L1317.2 1218.3 L1319.9 1219.6 L1322.6 1220.9 L1325.2 1222.2 L1327.9 1223.6 L1330.6 1224.9 L1333.3 1226.3 L1336.0 1227.7 L1338.7 1229.1 L1341.4 1230.4 L1344.1 1231.8 L1346.8 1233.2 L1349.5 1234.6 L1352.1 1236.0 L1354.8 1237.4 L1357.5 1238.8 L1360.2 1240.2 L1362.9 1241.5 L1365.6 1242.9 L1368.3 1244.3 L1371.0 1245.6 L1373.7 1247.0 L1376.3 1248.3 L1379.0 1249.6 L1381.7 1250.9 L1384.4 1252.2 L1387.1 1253.5 L1389.8 1254.7 L1392.5 1255.9 L1395.2 1257.1 L1397.9 1258.3 L1400.6 1259.5 L1403.2 1260.7 L1405.9 1261.8 L1408.6 1262.9 L1411.3 1264.0 L1414.0 1265.0 L1416.7 1266.0 L1419.4 1267.0 L1422.1 1268.0 L1424.8 1269.0 L1427.4 1269.9 L1430.1 1270.8 L1432.8 1271.7 L1435.5 1272.5 L1438.2 1273.3 L1440.9 1274.1 L1443.6 1274.9 L1446.3 1275.6 L1449.0 1276.4 L1451.7 1277.0 L1454.3 1277.7 L1457.0 1278.3 L1459.7 1279.0 L1462.4 1279.6 L1465.1 1280.2 L1467.8 1280.7 L1470.5 1281.2 L1473.2 1281.7 L1475.9 1282.1 L1478.5 1282.5 L1481.2 1283.1 L1483.9 1283.7 L1486.6 1283.8 L1489.3 1283.9 L1492.0 1284.7 L1494.7 1285.5 L1497.4 1285.5 L1500.1 1285.6 L1502.8 1286.1 L1505.4 1286.7 L1508.1 1287.1 L1510.8 1287.4 L1513.5 1287.8 L1516.2 1288.3 L1518.9 1288.4 L1521.6 1288.4 L1524.3 1288.5 L1527.0 1288.5 L1529.6 1289.4 L1532.3 1290.4 L1535.0 1289.4 L1537.7 1288.3 L1540.4 1289.3 L1543.1 1290.3 L1545.8 1291.2 L1548.5 1292.2 L1551.2 1291.3 L1553.9 1290.3 L1556.5 1290.9 L1559.2 1291.6 L1561.9 1291.0 L1564.6 1290.3 L1567.3 1291.1 L1570.0 1291.9 L1572.7 1291.6 L1575.4 1291.2 L1578.1 1291.7 L1580.7 1292.2 L1583.4 1293.0 L1586.1 1293.8 L1588.8 1292.7 L1591.5 1291.5 L1594.2 1292.1" stroke="#3e2c2c" stroke-width="2.8"/>
<path d="M246.8 1215.8 L249.4 1216.1 L252.1 1216.5 L254.8 1216.9 L257.5 1217.3 L260.2 1217.7 L262.9 1218.2 L265.6 1218.6 L268.3 1219.0 L271.0 1219.4 L273.7 1219.9 L276.3 1220.3 L279.0 1220.8 L281.7 1221.2 L284.4 1221.7 L287.1 1222.1 L289.8 1222.6 L292.5 1223.0 L295.2 1223.5 L297.9 1223.9 L300.5 1224.4 L303.2 1224.8 L305.9 1225.3 L308.6 1225.7 L311.3 1226.2 L314.0 1226.6 L316.7 1227.1 L319.4 1227.5 L322.1 1228.0 L324.8 1228.4 L327.4 1228.8 L330.1 1229.3 L332.8 1229.7 L335.5 1230.1 L338.2 1230.5 L340.9 1230.9 L343.6 1231.3 L346.3 1231.7 L349.0 1232.1 L351.6 1232.5 L354.3 1232.9 L357.0 1233.2 L359.7 1233.6 L362.4 1233.9 L365.1 1234.3 L367.8 1234.6 L370.5 1234.9 L373.2 1235.2 L375.9 1235.5 L378.5 1235.8 L381.2 1236.1 L383.9 1236.3 L386.6 1236.6 L389.3 1236.8 L392.0 1237.0 L394.7 1237.2 L397.4 1237.4 L400.1 1237.6 L402.7 1237.7 L405.4 1237.9 L408.1 1238.0 L410.8 1238.1 L413.5 1238.2 L416.2 1238.3 L418.9 1238.3 L421.6 1238.4 L424.3 1238.4 L427.0 1238.4 L429.6 1238.4 L432.3 1238.3 L435.0 1238.3 L437.7 1238.2 L440.4 1238.1 L443.1 1238.0 L445.8 1237.8 L448.5 1237.6 L451.2 1237.5 L453.8 1237.2 L456.5 1237.0 L459.2 1236.8 L461.9 1236.5 L464.6 1236.2 L467.3 1235.8 L470.0 1235.5 L472.7 1235.1 L475.4 1234.7 L478.1 1234.3 L480.7 1233.8 L483.4 1233.3 L486.1 1232.8 L488.8 1232.3 L491.5 1231.7 L494.2 1231.2 L496.9 1230.7 L499.6 1230.1 L502.3 1229.6 L504.9 1229.0 L507.6 1228.5 L510.3 1228.0 L513.0 1227.6 L515.7 1227.2 L518.4 1226.8 L521.1 1226.4 L523.8 1226.1 L526.5 1225.9 L529.2 1225.7 L531.8 1225.5 L534.5 1225.5 L537.2 1225.5 L539.9 1225.5 L542.6 1225.7 L545.3 1226.0 L548.0 1226.3 L550.7 1226.7 L553.4 1227.2 L556.0 1227.8 L558.7 1228.5 L561.4 1229.4 L564.1 1230.3 L566.8 1231.4 L569.5 1232.5 L572.2 1233.7 L574.9 1235.0 L577.6 1236.3 L580.3 1237.6 L582.9 1239.0 L585.6 1240.4 L588.3 1241.7 L591.0 1243.1 L593.7 1244.5 L596.4 1245.8 L599.1 1247.2 L601.8 1248.5 L604.5 1249.9 L607.1 1251.2 L609.8 1252.5 L612.5 1253.7 L615.2 1255.0 L617.9 1256.2 L620.6 1257.4 L623.3 1258.5 L626.0 1259.6 L628.7 1260.7 L631.4 1261.8 L634.0 1262.9 L636.7 1263.9 L639.4 1264.9 L642.1 1265.9 L644.8 1266.9 L647.5 1267.9 L650.2 1268.8 L652.9 1269.7 L655.6 1270.6 L658.3 1271.4 L660.9 1272.3 L663.6 1273.1 L666.3 1273.9 L669.0 1274.7 L671.7 1275.5 L674.4 1276.2 L677.1 1276.9 L679.8 1277.6 L682.5 1278.3 L685.1 1279.0 L687.8 1279.7 L690.5 1280.3 L693.2 1280.9 L695.9 1281.5 L698.6 1282.1 L701.3 1282.6 L704.0 1283.1 L706.7 1283.7 L709.4 1284.2 L712.0 1284.7 L714.7 1285.1 L717.4 1285.6 L720.1 1286.0 L722.8 1286.4 L725.5 1286.8 L728.2 1287.2 L730.9 1287.6 L733.6 1287.9 L736.2 1288.2 L738.9 1288.6 L741.6 1288.9 L744.3 1289.1 L747.0 1289.4 L749.7 1289.7 L752.4 1289.9 L755.1 1290.1 L757.8 1290.3 L760.5 1290.5 L763.1 1290.7 L765.8 1290.8 L768.5 1291.0 L771.2 1291.1 L773.9 1291.2 L776.6 1291.3 L779.3 1291.4 L782.0 1291.5 L784.7 1291.5 L787.3 1291.5 L790.0 1291.5 L792.7 1291.5 L795.4 1291.5 L798.1 1291.5 L800.8 1291.5 L803.5 1291.4 L806.2 1291.3 L808.9 1291.2 L811.6 1291.1 L814.2 1291.0 L816.9 1290.9 L819.6 1290.7 L822.3 1290.5 L825.0 1290.3 L827.7 1290.1 L830.4 1289.9 L833.1 1289.7 L835.8 1289.4 L838.4 1289.1 L841.1 1288.9 L843.8 1288.6 L846.5 1288.3 L849.2 1288.0 L851.9 1287.6 L854.6 1287.3 L857.3 1287.0 L860.0 1286.6 L862.7 1286.3 L865.3 1286.0 L868.0 1285.6 L870.7 1285.3 L873.4 1284.9 L876.1 1284.6 L878.8 1284.2 L881.5 1283.9 L884.2 1283.5 L886.9 1283.2 L889.5 1282.8 L892.2 1282.5 L894.9 1282.2 L897.6 1281.8 L900.3 1281.5 L903.0 1281.2 L905.7 1280.9 L908.4 1280.6 L911.1 1280.3 L913.8 1280.0 L916.4 1279.7 L919.1 1279.3 L921.8 1279.0 L924.5 1278.7 L927.2 1278.4 L929.9 1278.1 L932.6 1277.8 L935.3 1277.5 L938.0 1277.1 L940.6 1276.8 L943.3 1276.4 L946.0 1276.0 L948.7 1275.6 L951.4 1275.2 L954.1 1274.7 L956.8 1274.3 L959.5 1273.9 L962.2 1273.4 L964.9 1273.0 L967.5 1272.6 L970.2 1272.1 L972.9 1271.6 L975.6 1271.2 L978.3 1270.7 L981.0 1270.2 L983.7 1269.8 L986.4 1269.3 L989.1 1268.8 L991.7 1268.3 L994.4 1267.8 L997.1 1267.3 L999.8 1266.8 L1002.5 1266.3 L1005.2 1265.8 L1007.9 1265.3 L1010.6 1264.8 L1013.3 1264.2 L1016.0 1263.7 L1018.6 1263.2 L1021.3 1262.7 L1024.0 1262.1 L1026.7 1261.6 L1029.4 1261.1 L1032.1 1260.6 L1034.8 1260.0 L1037.5 1259.5 L1040.2 1259.0 L1042.8 1258.4 L1045.5 1257.9 L1048.2 1257.4 L1050.9 1256.9 L1053.6 1256.4 L1056.3 1255.8 L1059.0 1255.3 L1061.7 1254.8 L1064.4 1254.3 L1067.1 1253.8 L1069.7 1253.3 L1072.4 1252.8 L1075.1 1252.4 L1077.8 1251.9 L1080.5 1251.4 L1083.2 1251.0 L1085.9 1250.5 L1088.6 1250.1 L1091.3 1249.7 L1093.9 1249.2 L1096.6 1248.8 L1099.3 1248.4 L1102.0 1248.0 L1104.7 1247.7 L1107.4 1247.3 L1110.1 1247.0 L1112.8 1246.6 L1115.5 1246.3 L1118.2 1246.0 L1120.8 1245.7 L1123.5 1245.4 L1126.2 1245.1 L1128.9 1244.9 L1131.6 1244.6 L1134.3 1244.4 L1137.0 1244.2 L1139.7 1244.0 L1142.4 1243.9 L1145.0 1243.7 L1147.7 1243.6 L1150.4 1243.4 L1153.1 1243.3 L1155.8 1243.2 L1158.5 1243.2 L1161.2 1243.1 L1163.9 1243.1 L1166.6 1243.0 L1169.3 1243.0 L1171.9 1243.0 L1174.6 1243.0 L1177.3 1243.1 L1180.0 1243.2 L1182.7 1243.3 L1185.4 1243.4 L1188.1 1243.5 L1190.8 1243.7 L1193.5 1243.9 L1196.2 1244.2 L1198.8 1244.5 L1201.5 1244.8 L1204.2 1245.1 L1206.9 1245.5 L1209.6 1245.9 L1212.3 1246.3 L1215.0 1246.7 L1217.7 1247.2 L1220.4 1247.7 L1223.0 1248.2 L1225.7 1248.8 L1228.4 1249.3 L1231.1 1249.9 L1233.8 1250.5 L1236.5 1251.2 L1239.2 1251.8 L1241.9 1252.5 L1244.6 1253.2 L1247.3 1253.9 L1249.9 1254.7 L1252.6 1255.4 L1255.3 1256.2 L1258.0 1256.9 L1260.7 1257.7 L1263.4 1258.5 L1266.1 1259.3 L1268.8 1260.1 L1271.5 1260.9 L1274.1 1261.7 L1276.8 1262.6 L1279.5 1263.4 L1282.2 1264.2 L1284.9 1265.1 L1287.6 1265.9 L1290.3 1266.7 L1293.0 1267.6 L1295.7 1268.4 L1298.4 1269.2 L1301.0 1270.0 L1303.7 1270.8 L1306.4 1271.7 L1309.1 1272.5 L1311.8 1273.3 L1314.5 1274.0 L1317.2 1274.8 L1319.9 1275.6 L1322.6 1276.4 L1325.2 1277.1 L1327.9 1277.9 L1330.6 1278.6 L1333.3 1279.3 L1336.0 1280.0 L1338.7 1280.7 L1341.4 1281.4 L1344.1 1282.0 L1346.8 1282.7 L1349.5 1283.3 L1352.1 1284.0 L1354.8 1284.6 L1357.5 1285.2 L1360.2 1285.8 L1362.9 1286.3 L1365.6 1286.9 L1368.3 1287.4 L1371.0 1288.0 L1373.7 1288.5 L1376.3 1289.0 L1379.0 1289.5 L1381.7 1290.0 L1384.4 1290.4 L1387.1 1290.9 L1389.8 1291.3 L1392.5 1291.7 L1395.2 1292.1 L1397.9 1292.5 L1400.6 1292.9 L1403.2 1293.3 L1405.9 1293.6 L1408.6 1294.0 L1411.3 1294.3 L1414.0 1294.6 L1416.7 1294.9 L1419.4 1295.2 L1422.1 1295.5 L1424.8 1295.8 L1427.4 1296.0 L1430.1 1296.3 L1432.8 1296.6 L1435.5 1296.8 L1438.2 1297.0 L1440.9 1297.2 L1443.6 1297.4 L1446.3 1297.6 L1449.0 1297.8 L1451.7 1298.0 L1454.3 1298.2 L1457.0 1298.5 L1459.7 1298.6 L1462.4 1298.6 L1465.1 1298.6 L1467.8 1298.6 L1470.5 1298.8 L1473.2 1299.0 L1475.9 1299.1 L1478.5 1299.2 L1481.2 1299.3 L1483.9 1299.3 L1486.6 1299.5 L1489.3 1299.7 L1492.0 1299.9 L1494.7 1300.0 L1497.4 1299.8 L1500.1 1299.6 L1502.8 1300.2 L1505.4 1300.9 L1508.1 1301.0 L1510.8 1301.2 L1513.5 1300.7 L1516.2 1300.1 L1518.9 1300.9 L1521.6 1301.6 L1524.3 1301.1 L1527.0 1300.5 L1529.6 1301.1 L1532.3 1301.7 L1535.0 1301.2 L1537.7 1300.7 L1540.4 1300.7 L1543.1 1300.8 L1545.8 1300.4 L1548.5 1299.9 L1551.2 1301.0 L1553.9 1302.2 L1556.5 1301.2 L1559.2 1300.2 L1561.9 1300.5 L1564.6 1300.8 L1567.3 1300.9 L1570.0 1300.9 L1572.7 1301.0 L1575.4 1301.2 L1578.1 1301.4 L1580.7 1301.7 L1583.4 1301.8 L1586.1 1302.0 L1588.8 1302.1 L1591.5 1302.2 L1594.2 1301.7" stroke="#dcb8ac" stroke-width="2.3"/>
<path d="M246.8 1223.5 L249.4 1224.1 L252.1 1224.6 L254.8 1225.2 L257.5 1225.7 L260.2 1226.2 L262.9 1226.7 L265.6 1227.1 L268.3 1227.6 L271.0 1228.0 L273.7 1228.5 L276.3 1228.9 L279.0 1229.3 L281.7 1229.7 L284.4 1230.1 L287.1 1230.4 L289.8 1230.8 L292.5 1231.2 L295.2 1231.5 L297.9 1231.8 L300.5 1232.2 L303.2 1232.5 L305.9 1232.8 L308.6 1233.1 L311.3 1233.4 L314.0 1233.7 L316.7 1234.0 L319.4 1234.3 L322.1 1234.6 L324.8 1234.9 L327.4 1235.1 L330.1 1235.4 L332.8 1235.7 L335.5 1236.0 L338.2 1236.2 L340.9 1236.5 L343.6 1236.8 L346.3 1237.1 L349.0 1237.4 L351.6 1237.7 L354.3 1237.9 L357.0 1238.2 L359.7 1238.5 L362.4 1238.8 L365.1 1239.1 L367.8 1239.5 L370.5 1239.8 L373.2 1240.1 L375.9 1240.4 L378.5 1240.8 L381.2 1241.1 L383.9 1241.5 L386.6 1241.9 L389.3 1242.3 L392.0 1242.7 L394.7 1243.1 L397.4 1243.5 L400.1 1243.9 L402.7 1244.3 L405.4 1244.8 L408.1 1245.2 L410.8 1245.6 L413.5 1246.1 L416.2 1246.5 L418.9 1246.9 L421.6 1247.3 L424.3 1247.6 L427.0 1248.0 L429.6 1248.3 L432.3 1248.6 L435.0 1248.9 L437.7 1249.1 L440.4 1249.3 L443.1 1249.5 L445.8 1249.6 L448.5 1249.7 L451.2 1249.7 L453.8 1249.7 L456.5 1249.6 L459.2 1249.5 L461.9 1249.4 L464.6 1249.1 L467.3 1248.8 L470.0 1248.4 L472.7 1247.9 L475.4 1247.3 L478.1 1246.6 L480.7 1245.8 L483.4 1244.9 L486.1 1243.9 L488.8 1242.9 L491.5 1241.9 L494.2 1240.8 L496.9 1239.7 L499.6 1238.6 L502.3 1237.5 L504.9 1236.4 L507.6 1235.4 L510.3 1234.5 L513.0 1233.5 L515.7 1232.7 L518.4 1231.9 L521.1 1231.1 L523.8 1230.5 L526.5 1229.8 L529.2 1229.2 L531.8 1228.7 L534.5 1228.1 L537.2 1227.6 L539.9 1227.4 L542.6 1227.4 L545.3 1227.6 L548.0 1228.0 L550.7 1228.5 L553.4 1229.2 L556.0 1230.0 L558.7 1231.0 L561.4 1232.1 L564.1 1233.3 L566.8 1234.6 L569.5 1235.9 L572.2 1237.2 L574.9 1238.4 L577.6 1239.4 L580.3 1240.3 L582.9 1241.2 L585.6 1242.0 L588.3 1242.8 L591.0 1243.6 L593.7 1244.4 L596.4 1245.2 L599.1 1246.1 L601.8 1246.9 L604.5 1247.8 L607.1 1248.8 L609.8 1249.8 L612.5 1250.8 L615.2 1251.8 L617.9 1252.9 L620.6 1254.0 L623.3 1255.2 L626.0 1256.4 L628.7 1257.5 L631.4 1258.7 L634.0 1259.8 L636.7 1260.9 L639.4 1261.9 L642.1 1263.0 L644.8 1264.0 L647.5 1265.0 L650.2 1266.0 L652.9 1266.9 L655.6 1267.9 L658.3 1268.8 L660.9 1269.7 L663.6 1270.5 L666.3 1271.4 L669.0 1272.2 L671.7 1273.0 L674.4 1273.8 L677.1 1274.6 L679.8 1275.3 L682.5 1276.1 L685.1 1276.8 L687.8 1277.4 L690.5 1278.1 L693.2 1278.8 L695.9 1279.4 L698.6 1280.0 L701.3 1280.6 L704.0 1281.1 L706.7 1281.7 L709.4 1282.2 L712.0 1282.7 L714.7 1283.2 L717.4 1283.6 L720.1 1284.1 L722.8 1284.5 L725.5 1284.9 L728.2 1285.3 L730.9 1285.7 L733.6 1286.0 L736.2 1286.4 L738.9 1286.7 L741.6 1287.0 L744.3 1287.3 L747.0 1287.5 L749.7 1287.8 L752.4 1288.0 L755.1 1288.2 L757.8 1288.4 L760.5 1288.6 L763.1 1288.8 L765.8 1288.9 L768.5 1289.0 L771.2 1289.2 L773.9 1289.3 L776.6 1289.3 L779.3 1289.4 L782.0 1289.5 L784.7 1289.5 L787.3 1289.5 L790.0 1289.6 L792.7 1289.5 L795.4 1289.5 L798.1 1289.5 L800.8 1289.5 L803.5 1289.4 L806.2 1289.3 L808.9 1289.3 L811.6 1289.2 L814.2 1289.0 L816.9 1288.9 L819.6 1288.8 L822.3 1288.6 L825.0 1288.5 L827.7 1288.3 L830.4 1288.1 L833.1 1287.9 L835.8 1287.7 L838.4 1287.5 L841.1 1287.3 L843.8 1287.1 L846.5 1286.8 L849.2 1286.6 L851.9 1286.3 L854.6 1286.1 L857.3 1285.8 L860.0 1285.6 L862.7 1285.3 L865.3 1285.0 L868.0 1284.7 L870.7 1284.5 L873.4 1284.2 L876.1 1283.9 L878.8 1283.6 L881.5 1283.3 L884.2 1283.0 L886.9 1282.7 L889.5 1282.4 L892.2 1282.1 L894.9 1281.8 L897.6 1281.5 L900.3 1281.2 L903.0 1280.9 L905.7 1280.6 L908.4 1280.3 L911.1 1280.0 L913.8 1279.6 L916.4 1279.3 L919.1 1279.0 L921.8 1278.6 L924.5 1278.3 L927.2 1277.9 L929.9 1277.5 L932.6 1277.2 L935.3 1276.8 L938.0 1276.4 L940.6 1276.0 L943.3 1275.5 L946.0 1275.1 L948.7 1274.7 L951.4 1274.2 L954.1 1273.8 L956.8 1273.3 L959.5 1272.8 L962.2 1272.3 L964.9 1271.8 L967.5 1271.3 L970.2 1270.8 L972.9 1270.3 L975.6 1269.8 L978.3 1269.3 L981.0 1268.7 L983.7 1268.2 L986.4 1267.6 L989.1 1267.1 L991.7 1266.5 L994.4 1266.0 L997.1 1265.4 L999.8 1264.8 L1002.5 1264.2 L1005.2 1263.6 L1007.9 1263.0 L1010.6 1262.4 L1013.3 1261.8 L1016.0 1261.2 L1018.6 1260.6 L1021.3 1260.0 L1024.0 1259.4 L1026.7 1258.8 L1029.4 1258.1 L1032.1 1257.5 L1034.8 1256.9 L1037.5 1256.2 L1040.2 1255.6 L1042.8 1255.0 L1045.5 1254.4 L1048.2 1253.7 L1050.9 1253.1 L1053.6 1252.5 L1056.3 1251.9 L1059.0 1251.2 L1061.7 1250.6 L1064.4 1250.0 L1067.1 1249.4 L1069.7 1248.8 L1072.4 1248.2 L1075.1 1247.6 L1077.8 1247.1 L1080.5 1246.5 L1083.2 1246.0 L1085.9 1245.4 L1088.6 1244.9 L1091.3 1244.4 L1093.9 1243.8 L1096.6 1243.4 L1099.3 1242.9 L1102.0 1242.4 L1104.7 1242.0 L1107.4 1241.5 L1110.1 1241.1 L1112.8 1240.7 L1115.5 1240.3 L1118.2 1240.0 L1120.8 1239.6 L1123.5 1239.3 L1126.2 1239.0 L1128.9 1238.7 L1131.6 1238.4 L1134.3 1238.2 L1137.0 1238.0 L1139.7 1237.8 L1142.4 1237.6 L1145.0 1237.5 L1147.7 1237.3 L1150.4 1237.2 L1153.1 1237.1 L1155.8 1237.1 L1158.5 1237.0 L1161.2 1237.0 L1163.9 1237.0 L1166.6 1237.0 L1169.3 1237.1 L1171.9 1237.2 L1174.6 1237.2 L1177.3 1237.4 L1180.0 1237.5 L1182.7 1237.7 L1185.4 1237.8 L1188.1 1238.1 L1190.8 1238.3 L1193.5 1238.5 L1196.2 1238.8 L1198.8 1239.1 L1201.5 1239.4 L1204.2 1239.8 L1206.9 1240.1 L1209.6 1240.5 L1212.3 1240.9 L1215.0 1241.3 L1217.7 1241.7 L1220.4 1242.2 L1223.0 1242.7 L1225.7 1243.1 L1228.4 1243.6 L1231.1 1244.2 L1233.8 1244.7 L1236.5 1245.3 L1239.2 1245.8 L1241.9 1246.4 L1244.6 1247.0 L1247.3 1247.6 L1249.9 1248.2 L1252.6 1248.8 L1255.3 1249.5 L1258.0 1250.1 L1260.7 1250.8 L1263.4 1251.4 L1266.1 1252.1 L1268.8 1252.8 L1271.5 1253.5 L1274.1 1254.1 L1276.8 1254.8 L1279.5 1255.5 L1282.2 1256.3 L1284.9 1257.0 L1287.6 1257.7 L1290.3 1258.4 L1293.0 1259.1 L1295.7 1259.8 L1298.4 1260.6 L1301.0 1261.3 L1303.7 1262.0 L1306.4 1262.8 L1309.1 1263.5 L1311.8 1264.2 L1314.5 1264.9 L1317.2 1265.7 L1319.9 1266.4 L1322.6 1267.1 L1325.2 1267.8 L1327.9 1268.5 L1330.6 1269.3 L1333.3 1270.0 L1336.0 1270.7 L1338.7 1271.4 L1341.4 1272.1 L1344.1 1272.8 L1346.8 1273.5 L1349.5 1274.1 L1352.1 1274.8 L1354.8 1275.5 L1357.5 1276.2 L1360.2 1276.8 L1362.9 1277.5 L1365.6 1278.1 L1368.3 1278.8 L1371.0 1279.4 L1373.7 1280.0 L1376.3 1280.6 L1379.0 1281.2 L1381.7 1281.9 L1384.4 1282.4 L1387.1 1283.0 L1389.8 1283.6 L1392.5 1284.2 L1395.2 1284.8 L1397.9 1285.3 L1400.6 1285.9 L1403.2 1286.4 L1405.9 1287.0 L1408.6 1287.5 L1411.3 1288.0 L1414.0 1288.5 L1416.7 1289.0 L1419.4 1289.5 L1422.1 1290.0 L1424.8 1290.5 L1427.4 1291.0 L1430.1 1291.4 L1432.8 1291.9 L1435.5 1292.3 L1438.2 1292.8 L1440.9 1293.2 L1443.6 1293.6 L1446.3 1294.1 L1449.0 1294.5 L1451.7 1294.9 L1454.3 1295.3 L1457.0 1295.7 L1459.7 1296.0 L1462.4 1296.2 L1465.1 1296.7 L1467.8 1297.2 L1470.5 1297.6 L1473.2 1298.0 L1475.9 1298.2 L1478.5 1298.5 L1481.2 1298.7 L1483.9 1298.9 L1486.6 1299.5 L1489.3 1300.0 L1492.0 1300.1 L1494.7 1300.1 L1497.4 1300.4 L1500.1 1300.6 L1502.8 1301.4 L1505.4 1302.3 L1508.1 1302.0 L1510.8 1301.6 L1513.5 1302.3 L1516.2 1303.1 L1518.9 1302.5 L1521.6 1301.7 L1524.3 1302.7 L1527.0 1303.6 L1529.6 1302.9 L1532.3 1302.2 L1535.0 1302.9 L1537.7 1303.6 L1540.4 1304.6 L1543.1 1305.6 L1545.8 1305.2 L1548.5 1304.7 L1551.2 1305.6 L1553.9 1306.5 L1556.5 1306.5 L1559.2 1306.5 L1561.9 1306.6 L1564.6 1306.7 L1567.3 1306.7 L1570.0 1306.6 L1572.7 1306.8 L1575.4 1307.0 L1578.1 1306.5 L1580.7 1305.9 L1583.4 1306.6 L1586.1 1307.2 L1588.8 1307.5 L1591.5 1307.8 L1594.2 1308.9" stroke="#0d5a4c" stroke-width="3.3"/>
<path d="M246.8 1217.5 L249.4 1217.8 L252.1 1218.1 L254.8 1218.4 L257.5 1218.7 L260.2 1219.0 L262.9 1219.4 L265.6 1219.7 L268.3 1220.1 L271.0 1220.4 L273.7 1220.8 L276.3 1221.2 L279.0 1221.6 L281.7 1222.0 L284.4 1222.4 L287.1 1222.8 L289.8 1223.2 L292.5 1223.7 L295.2 1224.1 L297.9 1224.6 L300.5 1225.0 L303.2 1225.5 L305.9 1225.9 L308.6 1226.4 L311.3 1226.8 L314.0 1227.3 L316.7 1227.7 L319.4 1228.2 L322.1 1228.7 L324.8 1229.1 L327.4 1229.6 L330.1 1230.0 L332.8 1230.5 L335.5 1230.9 L338.2 1231.4 L340.9 1231.8 L343.6 1232.3 L346.3 1232.7 L349.0 1233.1 L351.6 1233.6 L354.3 1234.0 L357.0 1234.4 L359.7 1234.8 L362.4 1235.2 L365.1 1235.6 L367.8 1235.9 L370.5 1236.3 L373.2 1236.7 L375.9 1237.0 L378.5 1237.3 L381.2 1237.7 L383.9 1238.0 L386.6 1238.3 L389.3 1238.6 L392.0 1238.8 L394.7 1239.1 L397.4 1239.3 L400.1 1239.5 L402.7 1239.7 L405.4 1239.9 L408.1 1240.1 L410.8 1240.2 L413.5 1240.4 L416.2 1240.5 L418.9 1240.6 L421.6 1240.7 L424.3 1240.7 L427.0 1240.8 L429.6 1240.8 L432.3 1240.8 L435.0 1240.7 L437.7 1240.7 L440.4 1240.6 L443.1 1240.5 L445.8 1240.3 L448.5 1240.2 L451.2 1240.0 L453.8 1239.8 L456.5 1239.6 L459.2 1239.3 L461.9 1239.0 L464.6 1238.7 L467.3 1238.3 L470.0 1237.9 L472.7 1237.5 L475.4 1237.0 L478.1 1236.5 L480.7 1235.9 L483.4 1235.3 L486.1 1234.7 L488.8 1234.0 L491.5 1233.3 L494.2 1232.6 L496.9 1231.9 L499.6 1231.2 L502.3 1230.5 L504.9 1229.8 L507.6 1229.2 L510.3 1228.6 L513.0 1228.0 L515.7 1227.4 L518.4 1226.9 L521.1 1226.4 L523.8 1226.0 L526.5 1225.7 L529.2 1225.2 L531.8 1224.9 L534.5 1224.6 L537.2 1224.4 L539.9 1224.3 L542.6 1224.3 L545.3 1224.4 L548.0 1224.6 L550.7 1224.8 L553.4 1225.2 L556.0 1225.7 L558.7 1226.2 L561.4 1226.9 L564.1 1227.6 L566.8 1228.4 L569.5 1229.2 L572.2 1230.1 L574.9 1231.1 L577.6 1232.1 L580.3 1233.1 L582.9 1234.1 L585.6 1235.1 L588.3 1236.2 L591.0 1237.2 L593.7 1238.2 L596.4 1239.3 L599.1 1240.2 L601.8 1241.2 L604.5 1242.2 L607.1 1243.1 L609.8 1244.0 L612.5 1244.9 L615.2 1245.8 L617.9 1246.7 L620.6 1247.6 L623.3 1248.5 L626.0 1249.4 L628.7 1250.3 L631.4 1251.1 L634.0 1252.0 L636.7 1252.8 L639.4 1253.6 L642.1 1254.4 L644.8 1255.2 L647.5 1255.9 L650.2 1256.7 L652.9 1257.4 L655.6 1258.2 L658.3 1258.9 L660.9 1259.6 L663.6 1260.2 L666.3 1260.9 L669.0 1261.6 L671.7 1262.2 L674.4 1262.8 L677.1 1263.4 L679.8 1264.0 L682.5 1264.6 L685.1 1265.2 L687.8 1265.7 L690.5 1266.3 L693.2 1266.8 L695.9 1267.3 L698.6 1267.8 L701.3 1268.3 L704.0 1268.8 L706.7 1269.2 L709.4 1269.7 L712.0 1270.1 L714.7 1270.5 L717.4 1270.9 L720.1 1271.3 L722.8 1271.7 L725.5 1272.1 L728.2 1272.4 L730.9 1272.8 L733.6 1273.1 L736.2 1273.4 L738.9 1273.7 L741.6 1274.0 L744.3 1274.3 L747.0 1274.6 L749.7 1274.8 L752.4 1275.1 L755.1 1275.3 L757.8 1275.5 L760.5 1275.8 L763.1 1276.0 L765.8 1276.1 L768.5 1276.3 L771.2 1276.5 L773.9 1276.6 L776.6 1276.8 L779.3 1276.9 L782.0 1277.0 L784.7 1277.1 L787.3 1277.2 L790.0 1277.3 L792.7 1277.4 L795.4 1277.4 L798.1 1277.5 L800.8 1277.5 L803.5 1277.5 L806.2 1277.6 L808.9 1277.6 L811.6 1277.6 L814.2 1277.6 L816.9 1277.5 L819.6 1277.5 L822.3 1277.4 L825.0 1277.4 L827.7 1277.3 L830.4 1277.2 L833.1 1277.1 L835.8 1277.0 L838.4 1276.9 L841.1 1276.7 L843.8 1276.6 L846.5 1276.4 L849.2 1276.3 L851.9 1276.1 L854.6 1275.9 L857.3 1275.7 L860.0 1275.5 L862.7 1275.3 L865.3 1275.1 L868.0 1274.9 L870.7 1274.6 L873.4 1274.4 L876.1 1274.2 L878.8 1273.9 L881.5 1273.7 L884.2 1273.4 L886.9 1273.1 L889.5 1272.9 L892.2 1272.6 L894.9 1272.3 L897.6 1272.0 L900.3 1271.7 L903.0 1271.4 L905.7 1271.1 L908.4 1270.8 L911.1 1270.5 L913.8 1270.2 L916.4 1269.8 L919.1 1269.5 L921.8 1269.2 L924.5 1268.8 L927.2 1268.5 L929.9 1268.1 L932.6 1267.7 L935.3 1267.4 L938.0 1267.0 L940.6 1266.6 L943.3 1266.2 L946.0 1265.8 L948.7 1265.3 L951.4 1264.9 L954.1 1264.5 L956.8 1264.0 L959.5 1263.6 L962.2 1263.1 L964.9 1262.6 L967.5 1262.2 L970.2 1261.7 L972.9 1261.2 L975.6 1260.7 L978.3 1260.2 L981.0 1259.7 L983.7 1259.2 L986.4 1258.6 L989.1 1258.1 L991.7 1257.5 L994.4 1257.0 L997.1 1256.4 L999.8 1255.9 L1002.5 1255.3 L1005.2 1254.8 L1007.9 1254.2 L1010.6 1253.6 L1013.3 1253.0 L1016.0 1252.4 L1018.6 1251.8 L1021.3 1251.2 L1024.0 1250.6 L1026.7 1250.0 L1029.4 1249.4 L1032.1 1248.8 L1034.8 1248.2 L1037.5 1247.6 L1040.2 1247.0 L1042.8 1246.4 L1045.5 1245.8 L1048.2 1245.2 L1050.9 1244.6 L1053.6 1244.0 L1056.3 1243.4 L1059.0 1242.8 L1061.7 1242.2 L1064.4 1241.6 L1067.1 1241.0 L1069.7 1240.5 L1072.4 1239.9 L1075.1 1239.3 L1077.8 1238.8 L1080.5 1238.2 L1083.2 1237.7 L1085.9 1237.2 L1088.6 1236.7 L1091.3 1236.2 L1093.9 1235.7 L1096.6 1235.2 L1099.3 1234.8 L1102.0 1234.3 L1104.7 1233.9 L1107.4 1233.5 L1110.1 1233.1 L1112.8 1232.7 L1115.5 1232.3 L1118.2 1232.0 L1120.8 1231.7 L1123.5 1231.3 L1126.2 1231.1 L1128.9 1230.8 L1131.6 1230.5 L1134.3 1230.3 L1137.0 1230.1 L1139.7 1229.9 L1142.4 1229.8 L1145.0 1229.6 L1147.7 1229.5 L1150.4 1229.4 L1153.1 1229.3 L1155.8 1229.3 L1158.5 1229.2 L1161.2 1229.2 L1163.9 1229.2 L1166.6 1229.2 L1169.3 1229.3 L1171.9 1229.3 L1174.6 1229.4 L1177.3 1229.5 L1180.0 1229.6 L1182.7 1229.7 L1185.4 1229.8 L1188.1 1230.0 L1190.8 1230.2 L1193.5 1230.4 L1196.2 1230.6 L1198.8 1230.9 L1201.5 1231.1 L1204.2 1231.4 L1206.9 1231.7 L1209.6 1232.0 L1212.3 1232.4 L1215.0 1232.8 L1217.7 1233.1 L1220.4 1233.6 L1223.0 1234.0 L1225.7 1234.4 L1228.4 1234.9 L1231.1 1235.4 L1233.8 1235.9 L1236.5 1236.4 L1239.2 1236.9 L1241.9 1237.5 L1244.6 1238.0 L1247.3 1238.6 L1249.9 1239.2 L1252.6 1239.8 L1255.3 1240.4 L1258.0 1241.0 L1260.7 1241.6 L1263.4 1242.3 L1266.1 1242.9 L1268.8 1243.6 L1271.5 1244.3 L1274.1 1244.9 L1276.8 1245.6 L1279.5 1246.3 L1282.2 1247.0 L1284.9 1247.7 L1287.6 1248.4 L1290.3 1249.1 L1293.0 1249.8 L1295.7 1250.6 L1298.4 1251.3 L1301.0 1252.0 L1303.7 1252.7 L1306.4 1253.4 L1309.1 1254.1 L1311.8 1254.8 L1314.5 1255.6 L1317.2 1256.3 L1319.9 1257.0 L1322.6 1257.7 L1325.2 1258.4 L1327.9 1259.1 L1330.6 1259.7 L1333.3 1260.4 L1336.0 1261.1 L1338.7 1261.8 L1341.4 1262.4 L1344.1 1263.1 L1346.8 1263.8 L1349.5 1264.4 L1352.1 1265.0 L1354.8 1265.7 L1357.5 1266.3 L1360.2 1266.9 L1362.9 1267.5 L1365.6 1268.1 L1368.3 1268.7 L1371.0 1269.3 L1373.7 1269.8 L1376.3 1270.4 L1379.0 1271.0 L1381.7 1271.5 L1384.4 1272.0 L1387.1 1272.5 L1389.8 1273.1 L1392.5 1273.6 L1395.2 1274.1 L1397.9 1274.5 L1400.6 1275.0 L1403.2 1275.5 L1405.9 1275.9 L1408.6 1276.4 L1411.3 1276.8 L1414.0 1277.2 L1416.7 1277.6 L1419.4 1278.0 L1422.1 1278.4 L1424.8 1278.8 L1427.4 1279.2 L1430.1 1279.6 L1432.8 1279.9 L1435.5 1280.3 L1438.2 1280.6 L1440.9 1281.0 L1443.6 1281.3 L1446.3 1281.6 L1449.0 1281.9 L1451.7 1282.2 L1454.3 1282.5 L1457.0 1282.8 L1459.7 1283.0 L1462.4 1283.3 L1465.1 1283.5 L1467.8 1283.8 L1470.5 1284.0 L1473.2 1284.2 L1475.9 1284.5 L1478.5 1284.7 L1481.2 1284.9 L1483.9 1285.2 L1486.6 1285.3 L1489.3 1285.5 L1492.0 1285.5 L1494.7 1285.6 L1497.4 1285.5 L1500.1 1285.4 L1502.8 1286.0 L1505.4 1286.7 L1508.1 1286.8 L1510.8 1287.0 L1513.5 1287.1 L1516.2 1287.3 L1518.9 1287.3 L1521.6 1287.3 L1524.3 1287.9 L1527.0 1288.5 L1529.6 1288.1 L1532.3 1287.7 L1535.0 1287.9 L1537.7 1288.2 L1540.4 1288.2 L1543.1 1288.1 L1545.8 1289.2 L1548.5 1290.3 L1551.2 1289.3 L1553.9 1288.3 L1556.5 1288.2 L1559.2 1288.1 L1561.9 1288.2 L1564.6 1288.3 L1567.3 1288.6 L1570.0 1288.9 L1572.7 1289.6 L1575.4 1290.2 L1578.1 1289.4 L1580.7 1288.6 L1583.4 1289.3 L1586.1 1290.1 L1588.8 1290.3 L1591.5 1290.5 L1594.2 1290.4" stroke="#1c2470" stroke-width="3.3"/>
</g>
<path d="M246.7 1347.5h34 M246.7 1203.5h17 M246.7 1059.5h34 M246.7 915.5h17 M246.7 771.5h34" stroke="#1a1a1a" stroke-width="3.6" fill="none"/>
<path d="M338.2 1375.8v-34 M517.5 1375.8v-17 M696.8 1375.8v-34 M876.1 1375.8v-17 M1055.4 1375.8v-34 M1234.7 1375.8v-17 M1414.0 1375.8v-34" stroke="#333" stroke-width="3.4" fill="none"/>
<path d="M246.7 713.3H1593.0" stroke="#6a6a6a" stroke-width="5.0" stroke-linecap="square"/>
<path d="M246.7 1375.8H1593.0" stroke="#5a5a5a" stroke-width="5.2" stroke-linecap="square"/>
<path d="M1593.0 713.3V1375.8" stroke="#555" stroke-width="4.2" stroke-linecap="square"/>
<path d="M246.7 713.3V1375.8" stroke="#111" stroke-width="3.4" stroke-linecap="square"/>
<clipPath id="oneb"><rect x="150" y="725.5" width="90" height="64.4"/><rect x="193.87" y="787.5" width="6.27" height="10"/></clipPath>
<text x="215.5" y="795.5" text-anchor="end" class="t tl" clip-path="url(#oneb)">1</text>
<text x="212.5" y="1083.5" text-anchor="end" class="t tl">0.5</text>
<text x="212.5" y="1371.5" text-anchor="end" class="t tl">0</text>
<text transform="translate(77.5,1044.85) rotate(-90)" text-anchor="middle" class="t">Extinction</text>
<text x="682.1" y="804.5" class="t">F(mJ/cm²<tspan dx="6.5">)</tspan></text>
<text x="820.6" y="886.5" text-anchor="middle" class="t">0</text>
<text x="820.6" y="1214.5" text-anchor="middle" class="t">5430</text>
<line x1="817.9" y1="909.0" x2="817.9" y2="1110.3" stroke="#858585" stroke-width="4.4"/>
<path d="M817.9 1130.3 L794.9 1086.3 L817.9 1107.3 L840.9 1086.3 Z" fill="#000"/>
<text x="1550.3" y="798.5" text-anchor="middle" class="t" style="font-size:80px">b</text>
<clipPath id="clipc"><rect x="244.0" y="1394.6" width="1345.3" height="662.2"/></clipPath>
<g clip-path="url(#clipc)" fill="none" stroke-linejoin="round" stroke-linecap="round">
<path d="M241.5 1837.0 L244.2 1837.4 L246.9 1837.9 L249.5 1838.4 L252.2 1838.9 L254.9 1839.5 L257.6 1840.0 L260.3 1840.6 L263.0 1841.2 L265.7 1841.8 L268.4 1842.5 L271.1 1843.1 L273.8 1843.8 L276.5 1844.5 L279.2 1845.2 L281.9 1845.9 L284.5 1846.6 L287.2 1847.4 L289.9 1848.1 L292.6 1848.9 L295.3 1849.7 L298.0 1850.5 L300.7 1851.3 L303.4 1852.1 L306.1 1852.9 L308.8 1853.7 L311.5 1854.6 L314.2 1855.4 L316.8 1856.3 L319.5 1857.1 L322.2 1858.0 L324.9 1858.8 L327.6 1859.7 L330.3 1860.6 L333.0 1861.5 L335.7 1862.3 L338.4 1863.2 L341.1 1864.1 L343.8 1865.0 L346.5 1865.9 L349.2 1866.7 L351.8 1867.6 L354.5 1868.5 L357.2 1869.4 L359.9 1870.2 L362.6 1871.1 L365.3 1871.9 L368.0 1872.8 L370.7 1873.6 L373.4 1874.5 L376.1 1875.3 L378.8 1876.1 L381.5 1876.9 L384.1 1877.7 L386.8 1878.5 L389.5 1879.3 L392.2 1880.1 L394.9 1880.8 L397.6 1881.5 L400.3 1882.3 L403.0 1883.0 L405.7 1883.7 L408.4 1884.4 L411.1 1885.0 L413.8 1885.7 L416.5 1886.3 L419.1 1886.9 L421.8 1887.5 L424.5 1888.1 L427.2 1888.7 L429.9 1889.2 L432.6 1889.7 L435.3 1890.2 L438.0 1890.7 L440.7 1891.1 L443.4 1891.5 L446.1 1891.9 L448.8 1892.3 L451.5 1892.6 L454.1 1892.9 L456.8 1893.2 L459.5 1893.4 L462.2 1893.6 L464.9 1893.7 L467.6 1893.8 L470.3 1893.8 L473.0 1893.8 L475.7 1893.7 L478.4 1893.6 L481.1 1893.4 L483.8 1893.2 L486.4 1892.9 L489.1 1892.6 L491.8 1892.2 L494.5 1891.7 L497.2 1891.2 L499.9 1890.7 L502.6 1890.2 L505.3 1889.7 L508.0 1889.3 L510.7 1888.8 L513.4 1888.4 L516.1 1888.0 L518.8 1887.7 L521.4 1887.5 L524.1 1887.4 L526.8 1887.3 L529.5 1887.3 L532.2 1887.5 L534.9 1887.7 L537.6 1888.1 L540.3 1888.6 L543.0 1889.2 L545.7 1890.0 L548.4 1891.0 L551.1 1892.2 L553.7 1893.6 L556.4 1895.3 L559.1 1897.1 L561.8 1899.1 L564.5 1901.3 L567.2 1903.6 L569.9 1906.0 L572.6 1908.5 L575.3 1911.0 L578.0 1913.6 L580.7 1916.2 L583.4 1918.8 L586.1 1921.3 L588.7 1923.8 L591.4 1926.2 L594.1 1928.6 L596.8 1930.9 L599.5 1933.1 L602.2 1935.3 L604.9 1937.4 L607.6 1939.4 L610.3 1941.4 L613.0 1943.3 L615.7 1945.1 L618.4 1946.9 L621.0 1948.6 L623.7 1950.2 L626.4 1951.8 L629.1 1953.3 L631.8 1954.8 L634.5 1956.2 L637.2 1957.6 L639.9 1958.9 L642.6 1960.2 L645.3 1961.4 L648.0 1962.6 L650.7 1963.7 L653.4 1964.8 L656.0 1965.8 L658.7 1966.9 L661.4 1967.8 L664.1 1968.8 L666.8 1969.7 L669.5 1970.5 L672.2 1971.4 L674.9 1972.2 L677.6 1973.0 L680.3 1973.7 L683.0 1974.4 L685.7 1975.1 L688.4 1975.8 L691.0 1976.4 L693.7 1977.1 L696.4 1977.7 L699.1 1978.2 L701.8 1978.8 L704.5 1979.4 L707.2 1979.9 L709.9 1980.4 L712.6 1980.9 L715.3 1981.4 L718.0 1981.9 L720.7 1982.4 L723.3 1982.9 L726.0 1983.4 L728.7 1983.8 L731.4 1984.3 L734.1 1984.7 L736.8 1985.1 L739.5 1985.6 L742.2 1986.0 L744.9 1986.4 L747.6 1986.8 L750.3 1987.2 L753.0 1987.6 L755.7 1987.9 L758.3 1988.3 L761.0 1988.7 L763.7 1989.0 L766.4 1989.3 L769.1 1989.7 L771.8 1990.0 L774.5 1990.3 L777.2 1990.6 L779.9 1990.9 L782.6 1991.1 L785.3 1991.4 L788.0 1991.7 L790.6 1991.9 L793.3 1992.1 L796.0 1992.4 L798.7 1992.6 L801.4 1992.8 L804.1 1993.0 L806.8 1993.2 L809.5 1993.3 L812.2 1993.5 L814.9 1993.7 L817.6 1993.8 L820.3 1993.9 L823.0 1994.0 L825.6 1994.1 L828.3 1994.1 L831.0 1994.2 L833.7 1994.2 L836.4 1994.1 L839.1 1994.1 L841.8 1994.0 L844.5 1993.9 L847.2 1993.8 L849.9 1993.6 L852.6 1993.4 L855.3 1993.2 L857.9 1993.0 L860.6 1992.8 L863.3 1992.5 L866.0 1992.2 L868.7 1991.9 L871.4 1991.5 L874.1 1991.2 L876.8 1990.8 L879.5 1990.4 L882.2 1990.0 L884.9 1989.6 L887.6 1989.2 L890.3 1988.7 L892.9 1988.3 L895.6 1987.8 L898.3 1987.4 L901.0 1986.9 L903.7 1986.4 L906.4 1986.0 L909.1 1985.5 L911.8 1985.0 L914.5 1984.5 L917.2 1984.1 L919.9 1983.6 L922.6 1983.1 L925.3 1982.7 L927.9 1982.2 L930.6 1981.8 L933.3 1981.3 L936.0 1980.9 L938.7 1980.4 L941.4 1980.0 L944.1 1979.5 L946.8 1979.1 L949.5 1978.6 L952.2 1978.2 L954.9 1977.7 L957.6 1977.2 L960.2 1976.6 L962.9 1976.1 L965.6 1975.6 L968.3 1975.0 L971.0 1974.4 L973.7 1973.7 L976.4 1973.1 L979.1 1972.4 L981.8 1971.7 L984.5 1970.9 L987.2 1970.1 L989.9 1969.3 L992.6 1968.4 L995.2 1967.5 L997.9 1966.5 L1000.6 1965.5 L1003.3 1964.4 L1006.0 1963.2 L1008.7 1962.0 L1011.4 1960.7 L1014.1 1959.3 L1016.8 1957.8 L1019.5 1956.2 L1022.2 1954.6 L1024.9 1952.8 L1027.5 1951.0 L1030.2 1949.0 L1032.9 1946.9 L1035.6 1944.7 L1038.3 1942.4 L1041.0 1939.9 L1043.7 1937.3 L1046.4 1934.5 L1049.1 1931.7 L1051.8 1928.6 L1054.5 1925.4 L1057.2 1922.1 L1059.9 1918.5 L1062.5 1914.9 L1065.2 1911.0 L1067.9 1907.0 L1070.6 1902.8 L1073.3 1898.4 L1076.0 1893.8 L1078.7 1889.1 L1081.4 1884.1 L1084.1 1879.0 L1086.8 1873.8 L1089.5 1868.3 L1092.2 1862.6 L1094.9 1856.8 L1097.5 1850.8 L1100.2 1844.7 L1102.9 1838.3 L1105.6 1831.8 L1108.3 1825.2 L1111.0 1818.4 L1113.7 1811.4 L1116.4 1804.3 L1119.1 1797.1 L1121.8 1789.8 L1124.5 1782.3 L1127.2 1774.7 L1129.8 1767.1 L1132.5 1759.3 L1135.2 1751.5 L1137.9 1743.6 L1140.6 1735.6 L1143.3 1727.6 L1146.0 1719.5 L1148.7 1711.4 L1151.4 1703.3 L1154.1 1695.2 L1156.8 1687.1 L1159.5 1679.1 L1162.2 1671.0 L1164.8 1663.0 L1167.5 1655.1 L1170.2 1647.2 L1172.9 1639.4 L1175.6 1631.7 L1178.3 1624.0 L1181.0 1616.5 L1183.7 1609.1 L1186.4 1601.9 L1189.1 1594.8 L1191.8 1587.8 L1194.5 1581.0 L1197.1 1574.4 L1199.8 1568.0 L1202.5 1561.7 L1205.2 1555.6 L1207.9 1549.8 L1210.6 1544.2 L1213.3 1538.7 L1216.0 1533.6 L1218.7 1528.6 L1221.4 1523.9 L1224.1 1519.4 L1226.8 1515.2 L1229.5 1511.2 L1232.1 1507.5 L1234.8 1504.0 L1237.5 1500.8 L1240.2 1497.9 L1242.9 1495.2 L1245.6 1492.8 L1248.3 1490.6 L1251.0 1488.7 L1253.7 1487.0 L1256.4 1485.6 L1259.1 1484.4 L1261.8 1483.5 L1264.4 1482.8 L1267.1 1482.3 L1269.8 1481.9 L1272.5 1481.8 L1275.2 1481.8 L1277.9 1482.1 L1280.6 1482.7 L1283.3 1483.4 L1286.0 1484.4 L1288.7 1485.7 L1291.4 1487.2 L1294.1 1489.0 L1296.8 1491.0 L1299.4 1493.2 L1302.1 1495.7 L1304.8 1498.4 L1307.5 1501.4 L1310.2 1504.5 L1312.9 1507.9 L1315.6 1511.4 L1318.3 1515.2 L1321.0 1519.2 L1323.7 1523.3 L1326.4 1527.6 L1329.1 1532.1 L1331.8 1536.7 L1334.4 1541.5 L1337.1 1546.4 L1339.8 1551.5 L1342.5 1556.6 L1345.2 1561.9 L1347.9 1567.3 L1350.6 1572.8 L1353.3 1578.4 L1356.0 1584.0 L1358.7 1589.7 L1361.4 1595.5 L1364.1 1601.4 L1366.7 1607.2 L1369.4 1613.2 L1372.1 1619.1 L1374.8 1625.1 L1377.5 1631.1 L1380.2 1637.1 L1382.9 1643.1 L1385.6 1649.2 L1388.3 1655.2 L1391.0 1661.2 L1393.7 1667.1 L1396.4 1673.1 L1399.1 1679.0 L1401.7 1684.9 L1404.4 1690.7 L1407.1 1696.5 L1409.8 1702.3 L1412.5 1708.0 L1415.2 1713.6 L1417.9 1719.2 L1420.6 1724.7 L1423.3 1730.2 L1426.0 1735.5 L1428.7 1740.8 L1431.4 1746.1 L1434.0 1751.2 L1436.7 1756.3 L1439.4 1761.2 L1442.1 1766.1 L1444.8 1770.9 L1447.5 1775.6 L1450.2 1780.2 L1452.9 1784.8 L1455.6 1789.3 L1458.3 1793.6 L1461.0 1797.7 L1463.7 1801.7 L1466.4 1806.0 L1469.0 1810.3 L1471.7 1814.1 L1474.4 1817.8 L1477.1 1821.4 L1479.8 1824.9 L1482.5 1828.1 L1485.2 1831.1 L1487.9 1835.6 L1490.6 1840.2 L1493.3 1842.7 L1496.0 1845.1 L1498.7 1847.5 L1501.3 1849.7 L1504.0 1852.9 L1506.7 1856.0 L1509.4 1858.4 L1512.1 1860.6 L1514.8 1863.6 L1517.5 1866.5 L1520.2 1868.1 L1522.9 1869.6 L1525.6 1872.1 L1528.3 1874.4 L1531.0 1876.8 L1533.7 1879.2 L1536.3 1879.5 L1539.0 1879.7 L1541.7 1882.1 L1544.4 1884.4 L1547.1 1886.3 L1549.8 1888.1 L1552.5 1889.7 L1555.2 1891.2 L1557.9 1892.9 L1560.6 1894.5 L1563.3 1893.3 L1566.0 1891.9 L1568.7 1894.8 L1571.3 1897.8 L1574.0 1898.2 L1576.7 1898.6 L1579.4 1899.7 L1582.1 1900.7 L1584.8 1902.5 L1587.5 1904.2 L1590.2 1905.8" stroke="#1a2cff" stroke-width="3.3"/>
<path d="M241.5 1839.4 L244.2 1839.8 L246.9 1840.2 L249.5 1840.7 L252.2 1841.2 L254.9 1841.6 L257.6 1842.2 L260.3 1842.7 L263.0 1843.3 L265.7 1843.9 L268.4 1844.5 L271.1 1845.1 L273.8 1845.8 L276.5 1846.5 L279.2 1847.2 L281.9 1847.9 L284.5 1848.6 L287.2 1849.4 L289.9 1850.1 L292.6 1850.9 L295.3 1851.7 L298.0 1852.5 L300.7 1853.3 L303.4 1854.2 L306.1 1855.0 L308.8 1855.9 L311.5 1856.7 L314.2 1857.6 L316.8 1858.5 L319.5 1859.4 L322.2 1860.3 L324.9 1861.2 L327.6 1862.1 L330.3 1863.0 L333.0 1863.9 L335.7 1864.8 L338.4 1865.7 L341.1 1866.6 L343.8 1867.5 L346.5 1868.4 L349.2 1869.3 L351.8 1870.3 L354.5 1871.2 L357.2 1872.1 L359.9 1873.0 L362.6 1873.8 L365.3 1874.7 L368.0 1875.6 L370.7 1876.5 L373.4 1877.3 L376.1 1878.2 L378.8 1879.0 L381.5 1879.8 L384.1 1880.6 L386.8 1881.4 L389.5 1882.2 L392.2 1883.0 L394.9 1883.7 L397.6 1884.5 L400.3 1885.2 L403.0 1885.9 L405.7 1886.6 L408.4 1887.2 L411.1 1887.9 L413.8 1888.5 L416.5 1889.1 L419.1 1889.7 L421.8 1890.2 L424.5 1890.8 L427.2 1891.3 L429.9 1891.7 L432.6 1892.2 L435.3 1892.6 L438.0 1893.0 L440.7 1893.4 L443.4 1893.7 L446.1 1894.0 L448.8 1894.3 L451.5 1894.5 L454.1 1894.7 L456.8 1894.9 L459.5 1895.1 L462.2 1895.2 L464.9 1895.3 L467.6 1895.4 L470.3 1895.4 L473.0 1895.4 L475.7 1895.4 L478.4 1895.4 L481.1 1895.3 L483.8 1895.2 L486.4 1895.1 L489.1 1895.0 L491.8 1894.8 L494.5 1894.6 L497.2 1894.4 L499.9 1894.1 L502.6 1893.8 L505.3 1893.5 L508.0 1893.2 L510.7 1892.9 L513.4 1892.5 L516.1 1892.1 L518.8 1891.7 L521.4 1891.3 L524.1 1890.9 L526.8 1890.6 L529.5 1890.3 L532.2 1890.1 L534.9 1890.1 L537.6 1890.2 L540.3 1890.4 L543.0 1890.8 L545.7 1891.4 L548.4 1892.2 L551.1 1893.3 L553.7 1894.6 L556.4 1896.1 L559.1 1897.9 L561.8 1899.9 L564.5 1902.1 L567.2 1904.3 L569.9 1906.7 L572.6 1909.2 L575.3 1911.8 L578.0 1914.3 L580.7 1916.9 L583.4 1919.5 L586.1 1921.9 L588.7 1924.4 L591.4 1926.7 L594.1 1929.0 L596.8 1931.2 L599.5 1933.4 L602.2 1935.5 L604.9 1937.6 L607.6 1939.5 L610.3 1941.5 L613.0 1943.3 L615.7 1945.1 L618.4 1946.9 L621.0 1948.6 L623.7 1950.2 L626.4 1951.8 L629.1 1953.3 L631.8 1954.8 L634.5 1956.2 L637.2 1957.6 L639.9 1958.9 L642.6 1960.2 L645.3 1961.4 L648.0 1962.6 L650.7 1963.7 L653.4 1964.8 L656.0 1965.8 L658.7 1966.9 L661.4 1967.8 L664.1 1968.8 L666.8 1969.7 L669.5 1970.5 L672.2 1971.4 L674.9 1972.2 L677.6 1973.0 L680.3 1973.7 L683.0 1974.4 L685.7 1975.1 L688.4 1975.8 L691.0 1976.4 L693.7 1977.1 L696.4 1977.7 L699.1 1978.2 L701.8 1978.8 L704.5 1979.4 L707.2 1979.9 L709.9 1980.4 L712.6 1980.9 L715.3 1981.4 L718.0 1981.9 L720.7 1982.4 L723.3 1982.9 L726.0 1983.4 L728.7 1983.8 L731.4 1984.3 L734.1 1984.7 L736.8 1985.1 L739.5 1985.6 L742.2 1986.0 L744.9 1986.4 L747.6 1986.8 L750.3 1987.2 L753.0 1987.6 L755.7 1987.9 L758.3 1988.3 L761.0 1988.7 L763.7 1989.0 L766.4 1989.3 L769.1 1989.7 L771.8 1990.0 L774.5 1990.3 L777.2 1990.6 L779.9 1990.9 L782.6 1991.1 L785.3 1991.4 L788.0 1991.7 L790.6 1991.9 L793.3 1992.1 L796.0 1992.4 L798.7 1992.6 L801.4 1992.8 L804.1 1993.0 L806.8 1993.2 L809.5 1993.3 L812.2 1993.5 L814.9 1993.6 L817.6 1993.8 L820.3 1993.9 L823.0 1994.0 L825.6 1994.0 L828.3 1994.1 L831.0 1994.1 L833.7 1994.1 L836.4 1994.1 L839.1 1994.0 L841.8 1993.9 L844.5 1993.8 L847.2 1993.7 L849.9 1993.6 L852.6 1993.4 L855.3 1993.2 L857.9 1993.0 L860.6 1992.8 L863.3 1992.5 L866.0 1992.2 L868.7 1991.9 L871.4 1991.6 L874.1 1991.3 L876.8 1991.0 L879.5 1990.6 L882.2 1990.3 L884.9 1989.9 L887.6 1989.5 L890.3 1989.1 L892.9 1988.7 L895.6 1988.3 L898.3 1987.8 L901.0 1987.4 L903.7 1987.0 L906.4 1986.5 L909.1 1986.1 L911.8 1985.6 L914.5 1985.2 L917.2 1984.7 L919.9 1984.2 L922.6 1983.7 L925.3 1983.3 L927.9 1982.8 L930.6 1982.3 L933.3 1981.7 L936.0 1981.2 L938.7 1980.7 L941.4 1980.2 L944.1 1979.6 L946.8 1979.0 L949.5 1978.4 L952.2 1977.8 L954.9 1977.1 L957.6 1976.4 L960.2 1975.7 L962.9 1974.9 L965.6 1974.1 L968.3 1973.3 L971.0 1972.4 L973.7 1971.5 L976.4 1970.5 L979.1 1969.5 L981.8 1968.4 L984.5 1967.3 L987.2 1966.1 L989.9 1964.9 L992.6 1963.6 L995.2 1962.2 L997.9 1960.8 L1000.6 1959.3 L1003.3 1957.7 L1006.0 1956.0 L1008.7 1954.3 L1011.4 1952.5 L1014.1 1950.6 L1016.8 1948.6 L1019.5 1946.5 L1022.2 1944.4 L1024.9 1942.1 L1027.5 1939.8 L1030.2 1937.3 L1032.9 1934.8 L1035.6 1932.1 L1038.3 1929.3 L1041.0 1926.4 L1043.7 1923.5 L1046.4 1920.4 L1049.1 1917.1 L1051.8 1913.8 L1054.5 1910.4 L1057.2 1906.8 L1059.9 1903.1 L1062.5 1899.3 L1065.2 1895.4 L1067.9 1891.3 L1070.6 1887.1 L1073.3 1882.8 L1076.0 1878.4 L1078.7 1873.9 L1081.4 1869.2 L1084.1 1864.4 L1086.8 1859.5 L1089.5 1854.5 L1092.2 1849.4 L1094.9 1844.1 L1097.5 1838.8 L1100.2 1833.3 L1102.9 1827.7 L1105.6 1822.0 L1108.3 1816.2 L1111.0 1810.4 L1113.7 1804.4 L1116.4 1798.3 L1119.1 1792.1 L1121.8 1785.9 L1124.5 1779.6 L1127.2 1773.2 L1129.8 1766.7 L1132.5 1760.2 L1135.2 1753.6 L1137.9 1747.0 L1140.6 1740.3 L1143.3 1733.6 L1146.0 1726.9 L1148.7 1720.1 L1151.4 1713.3 L1154.1 1706.5 L1156.8 1699.7 L1159.5 1692.9 L1162.2 1686.0 L1164.8 1679.3 L1167.5 1672.5 L1170.2 1665.8 L1172.9 1659.1 L1175.6 1652.4 L1178.3 1645.8 L1181.0 1639.3 L1183.7 1632.8 L1186.4 1626.4 L1189.1 1620.1 L1191.8 1613.9 L1194.5 1607.8 L1197.1 1601.8 L1199.8 1595.9 L1202.5 1590.1 L1205.2 1584.5 L1207.9 1579.0 L1210.6 1573.7 L1213.3 1568.5 L1216.0 1563.5 L1218.7 1558.6 L1221.4 1554.0 L1224.1 1549.5 L1226.8 1545.2 L1229.5 1541.1 L1232.1 1537.2 L1234.8 1533.5 L1237.5 1530.0 L1240.2 1526.7 L1242.9 1523.7 L1245.6 1520.9 L1248.3 1518.3 L1251.0 1516.0 L1253.7 1513.9 L1256.4 1512.0 L1259.1 1510.4 L1261.8 1509.0 L1264.4 1507.9 L1267.1 1507.0 L1269.8 1506.4 L1272.5 1506.1 L1275.2 1506.0 L1277.9 1506.3 L1280.6 1506.9 L1283.3 1507.7 L1286.0 1508.8 L1288.7 1510.3 L1291.4 1511.9 L1294.1 1513.8 L1296.8 1516.0 L1299.4 1518.4 L1302.1 1521.0 L1304.8 1523.8 L1307.5 1526.8 L1310.2 1530.1 L1312.9 1533.5 L1315.6 1537.1 L1318.3 1540.9 L1321.0 1544.8 L1323.7 1548.9 L1326.4 1553.2 L1329.1 1557.5 L1331.8 1562.0 L1334.4 1566.6 L1337.1 1571.4 L1339.8 1576.2 L1342.5 1581.1 L1345.2 1586.1 L1347.9 1591.2 L1350.6 1596.3 L1353.3 1601.6 L1356.0 1606.8 L1358.7 1612.1 L1361.4 1617.5 L1364.1 1622.9 L1366.7 1628.3 L1369.4 1633.7 L1372.1 1639.2 L1374.8 1644.6 L1377.5 1650.1 L1380.2 1655.6 L1382.9 1661.0 L1385.6 1666.5 L1388.3 1671.9 L1391.0 1677.3 L1393.7 1682.7 L1396.4 1688.1 L1399.1 1693.4 L1401.7 1698.7 L1404.4 1703.9 L1407.1 1709.2 L1409.8 1714.3 L1412.5 1719.4 L1415.2 1724.5 L1417.9 1729.5 L1420.6 1734.5 L1423.3 1739.4 L1426.0 1744.2 L1428.7 1749.0 L1431.4 1753.7 L1434.0 1758.3 L1436.7 1762.9 L1439.4 1767.4 L1442.1 1771.8 L1444.8 1776.2 L1447.5 1780.5 L1450.2 1784.8 L1452.9 1788.9 L1455.6 1792.9 L1458.3 1796.8 L1461.0 1800.7 L1463.7 1804.6 L1466.4 1808.5 L1469.0 1812.3 L1471.7 1816.0 L1474.4 1819.6 L1477.1 1823.0 L1479.8 1826.4 L1482.5 1830.1 L1485.2 1833.8 L1487.9 1836.2 L1490.6 1838.4 L1493.3 1841.5 L1496.0 1844.6 L1498.7 1847.7 L1501.3 1850.8 L1504.0 1853.4 L1506.7 1856.0 L1509.4 1859.5 L1512.1 1862.9 L1514.8 1865.0 L1517.5 1867.0 L1520.2 1869.6 L1522.9 1872.1 L1525.6 1874.2 L1528.3 1876.2 L1531.0 1878.7 L1533.7 1881.1 L1536.3 1882.5 L1539.0 1883.8 L1541.7 1886.1 L1544.4 1888.5 L1547.1 1889.7 L1549.8 1890.8 L1552.5 1891.1 L1555.2 1891.3 L1557.9 1893.5 L1560.6 1895.7 L1563.3 1898.4 L1566.0 1901.1 L1568.7 1901.3 L1571.3 1901.4 L1574.0 1903.5 L1576.7 1905.4 L1579.4 1906.5 L1582.1 1907.6 L1584.8 1908.7 L1587.5 1909.8 L1590.2 1910.6" stroke="#22d8ff" stroke-width="3.3"/>
<path d="M241.5 1839.4 L244.2 1839.8 L246.9 1840.2 L249.5 1840.7 L252.2 1841.2 L254.9 1841.6 L257.6 1842.2 L260.3 1842.7 L263.0 1843.3 L265.7 1843.9 L268.4 1844.5 L271.1 1845.1 L273.8 1845.8 L276.5 1846.5 L279.2 1847.2 L281.9 1847.9 L284.5 1848.6 L287.2 1849.4 L289.9 1850.1 L292.6 1850.9 L295.3 1851.7 L298.0 1852.5 L300.7 1853.3 L303.4 1854.2 L306.1 1855.0 L308.8 1855.9 L311.5 1856.7 L314.2 1857.6 L316.8 1858.5 L319.5 1859.4 L322.2 1860.3 L324.9 1861.2 L327.6 1862.1 L330.3 1863.0 L333.0 1863.9 L335.7 1864.8 L338.4 1865.7 L341.1 1866.6 L343.8 1867.5 L346.5 1868.4 L349.2 1869.3 L351.8 1870.3 L354.5 1871.2 L357.2 1872.1 L359.9 1873.0 L362.6 1873.8 L365.3 1874.7 L368.0 1875.6 L370.7 1876.5 L373.4 1877.3 L376.1 1878.2 L378.8 1879.0 L381.5 1879.8 L384.1 1880.6 L386.8 1881.4 L389.5 1882.2 L392.2 1883.0 L394.9 1883.7 L397.6 1884.5 L400.3 1885.2 L403.0 1885.9 L405.7 1886.6 L408.4 1887.2 L411.1 1887.9 L413.8 1888.5 L416.5 1889.1 L419.1 1889.7 L421.8 1890.2 L424.5 1890.8 L427.2 1891.3 L429.9 1891.7 L432.6 1892.2 L435.3 1892.6 L438.0 1893.0 L440.7 1893.4 L443.4 1893.7 L446.1 1894.0 L448.8 1894.3 L451.5 1894.5 L454.1 1894.7 L456.8 1894.9 L459.5 1895.1 L462.2 1895.2 L464.9 1895.3 L467.6 1895.4 L470.3 1895.4 L473.0 1895.4 L475.7 1895.4 L478.4 1895.4 L481.1 1895.3 L483.8 1895.2 L486.4 1895.1 L489.1 1895.0 L491.8 1894.8 L494.5 1894.6 L497.2 1894.4 L499.9 1894.1 L502.6 1893.8 L505.3 1893.5 L508.0 1893.2 L510.7 1892.9 L513.4 1892.5 L516.1 1892.1 L518.8 1891.7 L521.4 1891.3 L524.1 1890.9 L526.8 1890.6 L529.5 1890.3 L532.2 1890.1 L534.9 1890.1 L537.6 1890.2 L540.3 1890.4 L543.0 1890.8 L545.7 1891.4 L548.4 1892.2 L551.1 1893.3 L553.7 1894.6 L556.4 1896.1 L559.1 1897.9 L561.8 1899.9 L564.5 1902.1 L567.2 1904.3 L569.9 1906.7 L572.6 1909.2 L575.3 1911.8 L578.0 1914.3 L580.7 1916.9 L583.4 1919.5 L586.1 1921.9 L588.7 1924.4 L591.4 1926.7 L594.1 1929.0 L596.8 1931.2 L599.5 1933.4 L602.2 1935.5 L604.9 1937.6 L607.6 1939.5 L610.3 1941.5 L613.0 1943.3 L615.7 1945.1 L618.4 1946.9 L621.0 1948.6 L623.7 1950.2 L626.4 1951.8 L629.1 1953.3 L631.8 1954.8 L634.5 1956.2 L637.2 1957.6 L639.9 1958.9 L642.6 1960.2 L645.3 1961.4 L648.0 1962.6 L650.7 1963.7 L653.4 1964.8 L656.0 1965.8 L658.7 1966.9 L661.4 1967.8 L664.1 1968.8 L666.8 1969.7 L669.5 1970.5 L672.2 1971.4 L674.9 1972.2 L677.6 1973.0 L680.3 1973.7 L683.0 1974.4 L685.7 1975.1 L688.4 1975.8 L691.0 1976.4 L693.7 1977.1 L696.4 1977.7 L699.1 1978.2 L701.8 1978.8 L704.5 1979.4 L707.2 1979.9 L709.9 1980.4 L712.6 1980.9 L715.3 1981.4 L718.0 1981.9 L720.7 1982.4 L723.3 1982.9 L726.0 1983.4 L728.7 1983.8 L731.4 1984.3 L734.1 1984.7 L736.8 1985.1 L739.5 1985.6 L742.2 1986.0 L744.9 1986.4 L747.6 1986.8 L750.3 1987.2 L753.0 1987.6 L755.7 1987.9 L758.3 1988.3 L761.0 1988.7 L763.7 1989.0 L766.4 1989.3 L769.1 1989.7 L771.8 1990.0 L774.5 1990.3 L777.2 1990.6 L779.9 1990.9 L782.6 1991.1 L785.3 1991.4 L788.0 1991.7 L790.6 1991.9 L793.3 1992.1 L796.0 1992.4 L798.7 1992.6 L801.4 1992.8 L804.1 1993.0 L806.8 1993.1 L809.5 1993.3 L812.2 1993.5 L814.9 1993.6 L817.6 1993.7 L820.3 1993.8 L823.0 1993.9 L825.6 1994.0 L828.3 1994.0 L831.0 1994.1 L833.7 1994.1 L836.4 1994.1 L839.1 1994.0 L841.8 1994.0 L844.5 1993.9 L847.2 1993.8 L849.9 1993.6 L852.6 1993.5 L855.3 1993.3 L857.9 1993.1 L860.6 1992.9 L863.3 1992.7 L866.0 1992.4 L868.7 1992.2 L871.4 1991.9 L874.1 1991.6 L876.8 1991.3 L879.5 1991.0 L882.2 1990.6 L884.9 1990.3 L887.6 1989.9 L890.3 1989.6 L892.9 1989.2 L895.6 1988.8 L898.3 1988.4 L901.0 1988.0 L903.7 1987.6 L906.4 1987.2 L909.1 1986.8 L911.8 1986.4 L914.5 1985.9 L917.2 1985.5 L919.9 1985.1 L922.6 1984.6 L925.3 1984.2 L927.9 1983.7 L930.6 1983.3 L933.3 1982.8 L936.0 1982.3 L938.7 1981.8 L941.4 1981.3 L944.1 1980.8 L946.8 1980.2 L949.5 1979.7 L952.2 1979.1 L954.9 1978.5 L957.6 1977.8 L960.2 1977.1 L962.9 1976.4 L965.6 1975.6 L968.3 1974.8 L971.0 1974.0 L973.7 1973.0 L976.4 1972.1 L979.1 1971.1 L981.8 1970.0 L984.5 1968.9 L987.2 1967.7 L989.9 1966.4 L992.6 1965.1 L995.2 1963.7 L997.9 1962.2 L1000.6 1960.6 L1003.3 1958.9 L1006.0 1957.1 L1008.7 1955.3 L1011.4 1953.3 L1014.1 1951.2 L1016.8 1949.0 L1019.5 1946.7 L1022.2 1944.3 L1024.9 1941.8 L1027.5 1939.1 L1030.2 1936.4 L1032.9 1933.5 L1035.6 1930.4 L1038.3 1927.2 L1041.0 1923.9 L1043.7 1920.5 L1046.4 1916.9 L1049.1 1913.2 L1051.8 1909.3 L1054.5 1905.3 L1057.2 1901.1 L1059.9 1896.9 L1062.5 1892.4 L1065.2 1887.9 L1067.9 1883.2 L1070.6 1878.4 L1073.3 1873.4 L1076.0 1868.3 L1078.7 1863.1 L1081.4 1857.8 L1084.1 1852.3 L1086.8 1846.8 L1089.5 1841.1 L1092.2 1835.4 L1094.9 1829.5 L1097.5 1823.5 L1100.2 1817.5 L1102.9 1811.4 L1105.6 1805.2 L1108.3 1798.9 L1111.0 1792.6 L1113.7 1786.3 L1116.4 1779.9 L1119.1 1773.4 L1121.8 1766.9 L1124.5 1760.4 L1127.2 1753.9 L1129.8 1747.4 L1132.5 1740.9 L1135.2 1734.4 L1137.9 1727.9 L1140.6 1721.4 L1143.3 1715.0 L1146.0 1708.6 L1148.7 1702.2 L1151.4 1695.9 L1154.1 1689.6 L1156.8 1683.5 L1159.5 1677.3 L1162.2 1671.3 L1164.8 1665.4 L1167.5 1659.5 L1170.2 1653.8 L1172.9 1648.1 L1175.6 1642.6 L1178.3 1637.2 L1181.0 1631.9 L1183.7 1626.7 L1186.4 1621.6 L1189.1 1616.7 L1191.8 1612.0 L1194.5 1607.4 L1197.1 1602.9 L1199.8 1598.6 L1202.5 1594.4 L1205.2 1590.4 L1207.9 1586.6 L1210.6 1582.9 L1213.3 1579.4 L1216.0 1576.1 L1218.7 1572.9 L1221.4 1570.0 L1224.1 1567.2 L1226.8 1564.5 L1229.5 1562.1 L1232.1 1559.8 L1234.8 1557.7 L1237.5 1555.8 L1240.2 1554.1 L1242.9 1552.5 L1245.6 1551.1 L1248.3 1549.9 L1251.0 1548.9 L1253.7 1548.0 L1256.4 1547.2 L1259.1 1546.7 L1261.8 1546.2 L1264.4 1546.0 L1267.1 1545.8 L1269.8 1545.8 L1272.5 1545.9 L1275.2 1546.3 L1277.9 1546.9 L1280.6 1547.9 L1283.3 1549.0 L1286.0 1550.4 L1288.7 1552.1 L1291.4 1553.9 L1294.1 1556.0 L1296.8 1558.4 L1299.4 1560.9 L1302.1 1563.7 L1304.8 1566.6 L1307.5 1569.7 L1310.2 1573.0 L1312.9 1576.5 L1315.6 1580.1 L1318.3 1583.9 L1321.0 1587.8 L1323.7 1591.8 L1326.4 1595.9 L1329.1 1600.2 L1331.8 1604.5 L1334.4 1609.0 L1337.1 1613.5 L1339.8 1618.1 L1342.5 1622.7 L1345.2 1627.4 L1347.9 1632.2 L1350.6 1637.0 L1353.3 1641.8 L1356.0 1646.6 L1358.7 1651.5 L1361.4 1656.4 L1364.1 1661.3 L1366.7 1666.1 L1369.4 1671.0 L1372.1 1675.9 L1374.8 1680.8 L1377.5 1685.6 L1380.2 1690.5 L1382.9 1695.3 L1385.6 1700.0 L1388.3 1704.8 L1391.0 1709.5 L1393.7 1714.2 L1396.4 1718.8 L1399.1 1723.4 L1401.7 1728.0 L1404.4 1732.5 L1407.1 1736.9 L1409.8 1741.3 L1412.5 1745.7 L1415.2 1750.0 L1417.9 1754.3 L1420.6 1758.5 L1423.3 1762.6 L1426.0 1766.7 L1428.7 1770.8 L1431.4 1774.8 L1434.0 1778.7 L1436.7 1782.6 L1439.4 1786.4 L1442.1 1790.1 L1444.8 1793.8 L1447.5 1797.4 L1450.2 1801.0 L1452.9 1804.5 L1455.6 1807.9 L1458.3 1811.2 L1461.0 1814.6 L1463.7 1818.0 L1466.4 1821.2 L1469.0 1824.5 L1471.7 1827.7 L1474.4 1831.0 L1477.1 1833.9 L1479.8 1836.6 L1482.5 1839.8 L1485.2 1842.9 L1487.9 1845.1 L1490.6 1847.1 L1493.3 1849.4 L1496.0 1851.6 L1498.7 1854.8 L1501.3 1858.0 L1504.0 1860.6 L1506.7 1863.2 L1509.4 1866.3 L1512.1 1869.3 L1514.8 1870.9 L1517.5 1872.3 L1520.2 1873.8 L1522.9 1875.2 L1525.6 1878.4 L1528.3 1881.6 L1531.0 1882.7 L1533.7 1883.7 L1536.3 1886.5 L1539.0 1889.3 L1541.7 1890.5 L1544.4 1891.7 L1547.1 1893.9 L1549.8 1896.1 L1552.5 1898.1 L1555.2 1900.1 L1557.9 1900.1 L1560.6 1900.1 L1563.3 1902.5 L1566.0 1904.9 L1568.7 1905.9 L1571.3 1906.8 L1574.0 1909.4 L1576.7 1912.0 L1579.4 1914.1 L1582.1 1916.2 L1584.8 1916.8 L1587.5 1917.3 L1590.2 1916.9" stroke="#1ee65a" stroke-width="3.3"/>
<path d="M241.5 1838.0 L244.2 1838.4 L246.9 1838.8 L249.5 1839.3 L252.2 1839.8 L254.9 1840.3 L257.6 1840.9 L260.3 1841.4 L263.0 1842.0 L265.7 1842.6 L268.4 1843.3 L271.1 1843.9 L273.8 1844.6 L276.5 1845.3 L279.2 1846.0 L281.9 1846.7 L284.5 1847.4 L287.2 1848.2 L289.9 1848.9 L292.6 1849.7 L295.3 1850.5 L298.0 1851.3 L300.7 1852.1 L303.4 1852.9 L306.1 1853.7 L308.8 1854.6 L311.5 1855.4 L314.2 1856.3 L316.8 1857.2 L319.5 1858.0 L322.2 1858.9 L324.9 1859.8 L327.6 1860.7 L330.3 1861.5 L333.0 1862.4 L335.7 1863.3 L338.4 1864.2 L341.1 1865.1 L343.8 1866.0 L346.5 1866.9 L349.2 1867.8 L351.8 1868.7 L354.5 1869.6 L357.2 1870.4 L359.9 1871.3 L362.6 1872.2 L365.3 1873.0 L368.0 1873.9 L370.7 1874.8 L373.4 1875.6 L376.1 1876.4 L378.8 1877.3 L381.5 1878.1 L384.1 1878.9 L386.8 1879.7 L389.5 1880.5 L392.2 1881.2 L394.9 1882.0 L397.6 1882.7 L400.3 1883.4 L403.0 1884.1 L405.7 1884.8 L408.4 1885.5 L411.1 1886.2 L413.8 1886.8 L416.5 1887.4 L419.1 1888.0 L421.8 1888.6 L424.5 1889.2 L427.2 1889.7 L429.9 1890.2 L432.6 1890.7 L435.3 1891.2 L438.0 1891.6 L440.7 1892.0 L443.4 1892.4 L446.1 1892.7 L448.8 1893.1 L451.5 1893.4 L454.1 1893.6 L456.8 1893.9 L459.5 1894.1 L462.2 1894.2 L464.9 1894.3 L467.6 1894.4 L470.3 1894.4 L473.0 1894.4 L475.7 1894.4 L478.4 1894.3 L481.1 1894.1 L483.8 1893.9 L486.4 1893.7 L489.1 1893.4 L491.8 1893.0 L494.5 1892.6 L497.2 1892.2 L499.9 1891.7 L502.6 1891.2 L505.3 1890.7 L508.0 1890.2 L510.7 1889.6 L513.4 1889.1 L516.1 1888.7 L518.8 1888.2 L521.4 1887.9 L524.1 1887.6 L526.8 1887.4 L529.5 1887.3 L532.2 1887.3 L534.9 1887.5 L537.6 1887.7 L540.3 1888.2 L543.0 1888.8 L545.7 1889.6 L548.4 1890.5 L551.1 1891.7 L553.7 1893.1 L556.4 1894.6 L559.1 1896.4 L561.8 1898.3 L564.5 1900.3 L567.2 1902.5 L569.9 1904.7 L572.6 1907.0 L575.3 1909.3 L578.0 1911.7 L580.7 1914.1 L583.4 1916.4 L586.1 1918.7 L588.7 1921.0 L591.4 1923.1 L594.1 1925.3 L596.8 1927.3 L599.5 1929.4 L602.2 1931.3 L604.9 1933.3 L607.6 1935.1 L610.3 1936.9 L613.0 1938.7 L615.7 1940.4 L618.4 1942.1 L621.0 1943.7 L623.7 1945.3 L626.4 1946.8 L629.1 1948.3 L631.8 1949.7 L634.5 1951.1 L637.2 1952.4 L639.9 1953.7 L642.6 1955.0 L645.3 1956.2 L648.0 1957.3 L650.7 1958.4 L653.4 1959.5 L656.0 1960.6 L658.7 1961.6 L661.4 1962.6 L664.1 1963.5 L666.8 1964.4 L669.5 1965.3 L672.2 1966.1 L674.9 1966.9 L677.6 1967.7 L680.3 1968.4 L683.0 1969.1 L685.7 1969.8 L688.4 1970.4 L691.0 1971.1 L693.7 1971.7 L696.4 1972.2 L699.1 1972.8 L701.8 1973.3 L704.5 1973.8 L707.2 1974.3 L709.9 1974.8 L712.6 1975.2 L715.3 1975.7 L718.0 1976.1 L720.7 1976.5 L723.3 1976.8 L726.0 1977.2 L728.7 1977.6 L731.4 1977.9 L734.1 1978.2 L736.8 1978.5 L739.5 1978.8 L742.2 1979.1 L744.9 1979.3 L747.6 1979.6 L750.3 1979.8 L753.0 1980.0 L755.7 1980.2 L758.3 1980.4 L761.0 1980.5 L763.7 1980.7 L766.4 1980.8 L769.1 1981.0 L771.8 1981.1 L774.5 1981.2 L777.2 1981.2 L779.9 1981.3 L782.6 1981.4 L785.3 1981.4 L788.0 1981.4 L790.6 1981.5 L793.3 1981.5 L796.0 1981.4 L798.7 1981.4 L801.4 1981.4 L804.1 1981.4 L806.8 1981.3 L809.5 1981.2 L812.2 1981.2 L814.9 1981.1 L817.6 1981.0 L820.3 1980.8 L823.0 1980.7 L825.6 1980.5 L828.3 1980.3 L831.0 1980.1 L833.7 1979.9 L836.4 1979.7 L839.1 1979.4 L841.8 1979.1 L844.5 1978.8 L847.2 1978.5 L849.9 1978.1 L852.6 1977.8 L855.3 1977.4 L857.9 1977.0 L860.6 1976.5 L863.3 1976.1 L866.0 1975.6 L868.7 1975.1 L871.4 1974.6 L874.1 1974.0 L876.8 1973.5 L879.5 1972.9 L882.2 1972.3 L884.9 1971.7 L887.6 1971.0 L890.3 1970.4 L892.9 1969.7 L895.6 1969.0 L898.3 1968.3 L901.0 1967.5 L903.7 1966.7 L906.4 1966.0 L909.1 1965.2 L911.8 1964.3 L914.5 1963.5 L917.2 1962.6 L919.9 1961.7 L922.6 1960.8 L925.3 1959.9 L927.9 1958.9 L930.6 1958.0 L933.3 1957.0 L936.0 1956.0 L938.7 1954.9 L941.4 1953.9 L944.1 1952.8 L946.8 1951.7 L949.5 1950.6 L952.2 1949.4 L954.9 1948.2 L957.6 1946.9 L960.2 1945.6 L962.9 1944.2 L965.6 1942.8 L968.3 1941.3 L971.0 1939.8 L973.7 1938.2 L976.4 1936.6 L979.1 1934.8 L981.8 1933.0 L984.5 1931.2 L987.2 1929.3 L989.9 1927.3 L992.6 1925.2 L995.2 1923.1 L997.9 1920.8 L1000.6 1918.5 L1003.3 1916.1 L1006.0 1913.7 L1008.7 1911.1 L1011.4 1908.5 L1014.1 1905.8 L1016.8 1903.0 L1019.5 1900.1 L1022.2 1897.2 L1024.9 1894.1 L1027.5 1891.0 L1030.2 1887.8 L1032.9 1884.5 L1035.6 1881.1 L1038.3 1877.6 L1041.0 1874.1 L1043.7 1870.4 L1046.4 1866.7 L1049.1 1862.9 L1051.8 1859.0 L1054.5 1855.1 L1057.2 1851.1 L1059.9 1847.0 L1062.5 1842.8 L1065.2 1838.6 L1067.9 1834.3 L1070.6 1830.0 L1073.3 1825.6 L1076.0 1821.1 L1078.7 1816.6 L1081.4 1812.1 L1084.1 1807.5 L1086.8 1802.8 L1089.5 1798.1 L1092.2 1793.4 L1094.9 1788.7 L1097.5 1783.9 L1100.2 1779.1 L1102.9 1774.3 L1105.6 1769.5 L1108.3 1764.6 L1111.0 1759.8 L1113.7 1754.9 L1116.4 1750.1 L1119.1 1745.2 L1121.8 1740.4 L1124.5 1735.6 L1127.2 1730.8 L1129.8 1726.0 L1132.5 1721.3 L1135.2 1716.6 L1137.9 1711.9 L1140.6 1707.2 L1143.3 1702.7 L1146.0 1698.1 L1148.7 1693.6 L1151.4 1689.2 L1154.1 1684.8 L1156.8 1680.5 L1159.5 1676.3 L1162.2 1672.1 L1164.8 1668.0 L1167.5 1664.0 L1170.2 1660.1 L1172.9 1656.3 L1175.6 1652.5 L1178.3 1648.9 L1181.0 1645.4 L1183.7 1641.9 L1186.4 1638.6 L1189.1 1635.4 L1191.8 1632.3 L1194.5 1629.4 L1197.1 1626.5 L1199.8 1623.8 L1202.5 1621.2 L1205.2 1618.8 L1207.9 1616.4 L1210.6 1614.2 L1213.3 1612.2 L1216.0 1610.3 L1218.7 1608.5 L1221.4 1606.8 L1224.1 1605.3 L1226.8 1604.0 L1229.5 1602.7 L1232.1 1601.6 L1234.8 1600.7 L1237.5 1599.9 L1240.2 1599.2 L1242.9 1598.6 L1245.6 1598.2 L1248.3 1597.9 L1251.0 1597.7 L1253.7 1597.7 L1256.4 1597.7 L1259.1 1597.9 L1261.8 1598.3 L1264.4 1598.8 L1267.1 1599.5 L1269.8 1600.3 L1272.5 1601.2 L1275.2 1602.3 L1277.9 1603.6 L1280.6 1605.0 L1283.3 1606.6 L1286.0 1608.3 L1288.7 1610.2 L1291.4 1612.2 L1294.1 1614.3 L1296.8 1616.6 L1299.4 1619.0 L1302.1 1621.5 L1304.8 1624.1 L1307.5 1626.9 L1310.2 1629.7 L1312.9 1632.7 L1315.6 1635.8 L1318.3 1638.9 L1321.0 1642.2 L1323.7 1645.5 L1326.4 1648.9 L1329.1 1652.4 L1331.8 1656.0 L1334.4 1659.6 L1337.1 1663.3 L1339.8 1667.1 L1342.5 1670.9 L1345.2 1674.8 L1347.9 1678.7 L1350.6 1682.7 L1353.3 1686.7 L1356.0 1690.7 L1358.7 1694.7 L1361.4 1698.8 L1364.1 1702.9 L1366.7 1707.0 L1369.4 1711.1 L1372.1 1715.3 L1374.8 1719.4 L1377.5 1723.6 L1380.2 1727.7 L1382.9 1731.9 L1385.6 1736.0 L1388.3 1740.1 L1391.0 1744.3 L1393.7 1748.4 L1396.4 1752.5 L1399.1 1756.5 L1401.7 1760.6 L1404.4 1764.6 L1407.1 1768.6 L1409.8 1772.5 L1412.5 1776.4 L1415.2 1780.3 L1417.9 1784.2 L1420.6 1788.0 L1423.3 1791.7 L1426.0 1795.5 L1428.7 1799.2 L1431.4 1802.8 L1434.0 1806.4 L1436.7 1809.9 L1439.4 1813.4 L1442.1 1816.9 L1444.8 1820.3 L1447.5 1823.6 L1450.2 1826.8 L1452.9 1830.0 L1455.6 1833.2 L1458.3 1836.5 L1461.0 1839.6 L1463.7 1842.6 L1466.4 1845.5 L1469.0 1848.4 L1471.7 1851.4 L1474.4 1854.5 L1477.1 1857.2 L1479.8 1859.8 L1482.5 1861.5 L1485.2 1863.1 L1487.9 1865.9 L1490.6 1868.7 L1493.3 1871.3 L1496.0 1873.9 L1498.7 1875.9 L1501.3 1877.7 L1504.0 1880.0 L1506.7 1882.2 L1509.4 1884.4 L1512.1 1886.6 L1514.8 1888.1 L1517.5 1889.5 L1520.2 1892.1 L1522.9 1894.7 L1525.6 1896.4 L1528.3 1898.0 L1531.0 1899.5 L1533.7 1900.9 L1536.3 1902.8 L1539.0 1904.6 L1541.7 1906.9 L1544.4 1909.2 L1547.1 1909.7 L1549.8 1910.0 L1552.5 1911.9 L1555.2 1913.9 L1557.9 1913.9 L1560.6 1913.8 L1563.3 1915.5 L1566.0 1917.1 L1568.7 1918.4 L1571.3 1919.6 L1574.0 1920.1 L1576.7 1920.5 L1579.4 1922.1 L1582.1 1923.7 L1584.8 1922.8 L1587.5 1921.8 L1590.2 1924.7" stroke="#9a2be8" stroke-width="3.3"/>
<path d="M241.5 1834.5 L244.2 1835.0 L246.9 1835.6 L249.5 1836.1 L252.2 1836.7 L254.9 1837.3 L257.6 1837.9 L260.3 1838.5 L263.0 1839.1 L265.7 1839.8 L268.4 1840.4 L271.1 1841.1 L273.8 1841.8 L276.5 1842.5 L279.2 1843.2 L281.9 1843.9 L284.5 1844.6 L287.2 1845.3 L289.9 1846.1 L292.6 1846.9 L295.3 1847.6 L298.0 1848.4 L300.7 1849.2 L303.4 1850.0 L306.1 1850.8 L308.8 1851.6 L311.5 1852.4 L314.2 1853.2 L316.8 1854.0 L319.5 1854.9 L322.2 1855.7 L324.9 1856.5 L327.6 1857.4 L330.3 1858.2 L333.0 1859.0 L335.7 1859.9 L338.4 1860.7 L341.1 1861.6 L343.8 1862.4 L346.5 1863.3 L349.2 1864.1 L351.8 1865.0 L354.5 1865.8 L357.2 1866.6 L359.9 1867.5 L362.6 1868.3 L365.3 1869.1 L368.0 1870.0 L370.7 1870.8 L373.4 1871.6 L376.1 1872.4 L378.8 1873.2 L381.5 1874.0 L384.1 1874.8 L386.8 1875.6 L389.5 1876.4 L392.2 1877.1 L394.9 1877.9 L397.6 1878.6 L400.3 1879.4 L403.0 1880.1 L405.7 1880.8 L408.4 1881.5 L411.1 1882.2 L413.8 1882.9 L416.5 1883.5 L419.1 1884.2 L421.8 1884.8 L424.5 1885.4 L427.2 1886.1 L429.9 1886.6 L432.6 1887.2 L435.3 1887.8 L438.0 1888.3 L440.7 1888.8 L443.4 1889.3 L446.1 1889.8 L448.8 1890.3 L451.5 1890.7 L454.1 1891.1 L456.8 1891.4 L459.5 1891.7 L462.2 1891.9 L464.9 1892.1 L467.6 1892.2 L470.3 1892.2 L473.0 1892.1 L475.7 1892.0 L478.4 1891.8 L481.1 1891.4 L483.8 1891.0 L486.4 1890.5 L489.1 1889.9 L491.8 1889.1 L494.5 1888.3 L497.2 1887.4 L499.9 1886.5 L502.6 1885.6 L505.3 1884.7 L508.0 1883.9 L510.7 1883.2 L513.4 1882.5 L516.1 1882.0 L518.8 1881.7 L521.4 1881.5 L524.1 1881.4 L526.8 1881.6 L529.5 1881.9 L532.2 1882.4 L534.9 1882.9 L537.6 1883.7 L540.3 1884.6 L543.0 1885.5 L545.7 1886.7 L548.4 1887.9 L551.1 1889.3 L553.7 1890.8 L556.4 1892.4 L559.1 1894.2 L561.8 1896.0 L564.5 1897.9 L567.2 1899.9 L569.9 1902.0 L572.6 1904.1 L575.3 1906.3 L578.0 1908.5 L580.7 1910.7 L583.4 1912.8 L586.1 1915.0 L588.7 1917.1 L591.4 1919.2 L594.1 1921.2 L596.8 1923.2 L599.5 1925.1 L602.2 1927.0 L604.9 1928.8 L607.6 1930.6 L610.3 1932.4 L613.0 1934.1 L615.7 1935.7 L618.4 1937.3 L621.0 1938.9 L623.7 1940.4 L626.4 1941.8 L629.1 1943.3 L631.8 1944.6 L634.5 1946.0 L637.2 1947.3 L639.9 1948.5 L642.6 1949.8 L645.3 1950.9 L648.0 1952.1 L650.7 1953.2 L653.4 1954.3 L656.0 1955.3 L658.7 1956.3 L661.4 1957.3 L664.1 1958.2 L666.8 1959.1 L669.5 1960.0 L672.2 1960.8 L674.9 1961.6 L677.6 1962.4 L680.3 1963.1 L683.0 1963.8 L685.7 1964.4 L688.4 1965.1 L691.0 1965.7 L693.7 1966.3 L696.4 1966.8 L699.1 1967.3 L701.8 1967.8 L704.5 1968.3 L707.2 1968.7 L709.9 1969.1 L712.6 1969.5 L715.3 1969.9 L718.0 1970.2 L720.7 1970.5 L723.3 1970.8 L726.0 1971.1 L728.7 1971.3 L731.4 1971.5 L734.1 1971.7 L736.8 1971.9 L739.5 1972.0 L742.2 1972.1 L744.9 1972.2 L747.6 1972.3 L750.3 1972.4 L753.0 1972.4 L755.7 1972.4 L758.3 1972.4 L761.0 1972.4 L763.7 1972.4 L766.4 1972.3 L769.1 1972.2 L771.8 1972.1 L774.5 1972.0 L777.2 1971.9 L779.9 1971.7 L782.6 1971.6 L785.3 1971.4 L788.0 1971.2 L790.6 1971.0 L793.3 1970.8 L796.0 1970.5 L798.7 1970.3 L801.4 1970.0 L804.1 1969.7 L806.8 1969.5 L809.5 1969.2 L812.2 1968.9 L814.9 1968.5 L817.6 1968.2 L820.3 1967.9 L823.0 1967.5 L825.6 1967.2 L828.3 1966.8 L831.0 1966.4 L833.7 1966.0 L836.4 1965.6 L839.1 1965.1 L841.8 1964.7 L844.5 1964.2 L847.2 1963.7 L849.9 1963.2 L852.6 1962.7 L855.3 1962.1 L857.9 1961.5 L860.6 1961.0 L863.3 1960.4 L866.0 1959.7 L868.7 1959.1 L871.4 1958.4 L874.1 1957.7 L876.8 1957.0 L879.5 1956.2 L882.2 1955.4 L884.9 1954.6 L887.6 1953.8 L890.3 1952.9 L892.9 1952.0 L895.6 1951.0 L898.3 1950.0 L901.0 1949.0 L903.7 1947.9 L906.4 1946.8 L909.1 1945.7 L911.8 1944.5 L914.5 1943.3 L917.2 1942.1 L919.9 1940.8 L922.6 1939.4 L925.3 1938.1 L927.9 1936.7 L930.6 1935.3 L933.3 1933.8 L936.0 1932.3 L938.7 1930.8 L941.4 1929.3 L944.1 1927.8 L946.8 1926.2 L949.5 1924.6 L952.2 1923.0 L954.9 1921.3 L957.6 1919.6 L960.2 1917.9 L962.9 1916.1 L965.6 1914.2 L968.3 1912.3 L971.0 1910.4 L973.7 1908.4 L976.4 1906.4 L979.1 1904.3 L981.8 1902.2 L984.5 1900.0 L987.2 1897.8 L989.9 1895.5 L992.6 1893.2 L995.2 1890.9 L997.9 1888.5 L1000.6 1886.0 L1003.3 1883.5 L1006.0 1881.0 L1008.7 1878.4 L1011.4 1875.8 L1014.1 1873.1 L1016.8 1870.4 L1019.5 1867.7 L1022.2 1864.9 L1024.9 1862.0 L1027.5 1859.2 L1030.2 1856.2 L1032.9 1853.3 L1035.6 1850.3 L1038.3 1847.3 L1041.0 1844.2 L1043.7 1841.1 L1046.4 1838.0 L1049.1 1834.8 L1051.8 1831.7 L1054.5 1828.4 L1057.2 1825.2 L1059.9 1821.9 L1062.5 1818.6 L1065.2 1815.3 L1067.9 1812.0 L1070.6 1808.6 L1073.3 1805.3 L1076.0 1801.9 L1078.7 1798.5 L1081.4 1795.1 L1084.1 1791.7 L1086.8 1788.3 L1089.5 1784.8 L1092.2 1781.4 L1094.9 1778.0 L1097.5 1774.6 L1100.2 1771.1 L1102.9 1767.7 L1105.6 1764.3 L1108.3 1761.0 L1111.0 1757.6 L1113.7 1754.2 L1116.4 1750.9 L1119.1 1747.6 L1121.8 1744.3 L1124.5 1741.1 L1127.2 1737.9 L1129.8 1734.7 L1132.5 1731.5 L1135.2 1728.4 L1137.9 1725.4 L1140.6 1722.4 L1143.3 1719.4 L1146.0 1716.5 L1148.7 1713.7 L1151.4 1710.9 L1154.1 1708.2 L1156.8 1705.5 L1159.5 1703.0 L1162.2 1700.5 L1164.8 1698.0 L1167.5 1695.7 L1170.2 1693.4 L1172.9 1691.2 L1175.6 1689.1 L1178.3 1687.1 L1181.0 1685.2 L1183.7 1683.3 L1186.4 1681.6 L1189.1 1680.0 L1191.8 1678.4 L1194.5 1677.0 L1197.1 1675.6 L1199.8 1674.4 L1202.5 1673.2 L1205.2 1672.2 L1207.9 1671.2 L1210.6 1670.4 L1213.3 1669.7 L1216.0 1669.0 L1218.7 1668.5 L1221.4 1668.1 L1224.1 1667.7 L1226.8 1667.5 L1229.5 1667.3 L1232.1 1667.2 L1234.8 1667.2 L1237.5 1667.2 L1240.2 1667.3 L1242.9 1667.5 L1245.6 1667.8 L1248.3 1668.2 L1251.0 1668.6 L1253.7 1669.2 L1256.4 1669.8 L1259.1 1670.5 L1261.8 1671.4 L1264.4 1672.3 L1267.1 1673.3 L1269.8 1674.5 L1272.5 1675.7 L1275.2 1677.0 L1277.9 1678.4 L1280.6 1679.9 L1283.3 1681.5 L1286.0 1683.2 L1288.7 1685.0 L1291.4 1686.9 L1294.1 1688.9 L1296.8 1690.9 L1299.4 1693.1 L1302.1 1695.3 L1304.8 1697.6 L1307.5 1699.9 L1310.2 1702.4 L1312.9 1704.9 L1315.6 1707.5 L1318.3 1710.2 L1321.0 1712.9 L1323.7 1715.7 L1326.4 1718.5 L1329.1 1721.4 L1331.8 1724.3 L1334.4 1727.3 L1337.1 1730.4 L1339.8 1733.4 L1342.5 1736.6 L1345.2 1739.7 L1347.9 1742.9 L1350.6 1746.1 L1353.3 1749.4 L1356.0 1752.7 L1358.7 1756.0 L1361.4 1759.3 L1364.1 1762.6 L1366.7 1765.9 L1369.4 1769.3 L1372.1 1772.7 L1374.8 1776.0 L1377.5 1779.4 L1380.2 1782.7 L1382.9 1786.1 L1385.6 1789.4 L1388.3 1792.8 L1391.0 1796.1 L1393.7 1799.4 L1396.4 1802.7 L1399.1 1806.0 L1401.7 1809.3 L1404.4 1812.5 L1407.1 1815.7 L1409.8 1818.9 L1412.5 1822.1 L1415.2 1825.2 L1417.9 1828.3 L1420.6 1831.4 L1423.3 1834.4 L1426.0 1837.4 L1428.7 1840.4 L1431.4 1843.3 L1434.0 1846.2 L1436.7 1849.0 L1439.4 1851.8 L1442.1 1854.6 L1444.8 1857.3 L1447.5 1860.0 L1450.2 1862.6 L1452.9 1865.2 L1455.6 1867.8 L1458.3 1870.4 L1461.0 1872.9 L1463.7 1875.3 L1466.4 1877.6 L1469.0 1879.8 L1471.7 1882.2 L1474.4 1884.6 L1477.1 1886.7 L1479.8 1888.6 L1482.5 1890.8 L1485.2 1893.0 L1487.9 1894.9 L1490.6 1896.7 L1493.3 1898.9 L1496.0 1901.2 L1498.7 1902.8 L1501.3 1904.4 L1504.0 1905.6 L1506.7 1906.8 L1509.4 1908.3 L1512.1 1909.7 L1514.8 1911.7 L1517.5 1913.8 L1520.2 1914.8 L1522.9 1915.8 L1525.6 1916.8 L1528.3 1917.8 L1531.0 1920.0 L1533.7 1922.1 L1536.3 1922.9 L1539.0 1923.7 L1541.7 1925.1 L1544.4 1926.5 L1547.1 1926.4 L1549.8 1926.1 L1552.5 1928.0 L1555.2 1929.9 L1557.9 1930.9 L1560.6 1931.8 L1563.3 1932.0 L1566.0 1932.0 L1568.7 1933.2 L1571.3 1934.3 L1574.0 1935.2 L1576.7 1936.0 L1579.4 1937.1 L1582.1 1938.1 L1584.8 1939.2 L1587.5 1940.2 L1590.2 1940.9" stroke="#f07a30" stroke-width="3.3"/>
<path d="M241.5 1837.0 L244.2 1837.4 L246.9 1837.9 L249.5 1838.4 L252.2 1838.9 L254.9 1839.5 L257.6 1840.0 L260.3 1840.6 L263.0 1841.2 L265.7 1841.8 L268.4 1842.5 L271.1 1843.1 L273.8 1843.8 L276.5 1844.5 L279.2 1845.2 L281.9 1845.9 L284.5 1846.6 L287.2 1847.4 L289.9 1848.1 L292.6 1848.9 L295.3 1849.7 L298.0 1850.5 L300.7 1851.3 L303.4 1852.1 L306.1 1852.9 L308.8 1853.7 L311.5 1854.6 L314.2 1855.4 L316.8 1856.3 L319.5 1857.1 L322.2 1858.0 L324.9 1858.8 L327.6 1859.7 L330.3 1860.6 L333.0 1861.5 L335.7 1862.3 L338.4 1863.2 L341.1 1864.1 L343.8 1865.0 L346.5 1865.9 L349.2 1866.7 L351.8 1867.6 L354.5 1868.5 L357.2 1869.4 L359.9 1870.2 L362.6 1871.1 L365.3 1871.9 L368.0 1872.8 L370.7 1873.6 L373.4 1874.5 L376.1 1875.3 L378.8 1876.1 L381.5 1876.9 L384.1 1877.7 L386.8 1878.5 L389.5 1879.3 L392.2 1880.1 L394.9 1880.8 L397.6 1881.5 L400.3 1882.3 L403.0 1883.0 L405.7 1883.7 L408.4 1884.4 L411.1 1885.0 L413.8 1885.7 L416.5 1886.3 L419.1 1886.9 L421.8 1887.5 L424.5 1888.1 L427.2 1888.7 L429.9 1889.2 L432.6 1889.7 L435.3 1890.2 L438.0 1890.7 L440.7 1891.1 L443.4 1891.5 L446.1 1891.9 L448.8 1892.3 L451.5 1892.6 L454.1 1892.9 L456.8 1893.2 L459.5 1893.4 L462.2 1893.6 L464.9 1893.7 L467.6 1893.8 L470.3 1893.8 L473.0 1893.7 L475.7 1893.6 L478.4 1893.5 L481.1 1893.2 L483.8 1892.9 L486.4 1892.5 L489.1 1892.1 L491.8 1891.5 L494.5 1890.9 L497.2 1890.2 L499.9 1889.4 L502.6 1888.6 L505.3 1887.8 L508.0 1887.0 L510.7 1886.2 L513.4 1885.4 L516.1 1884.7 L518.8 1884.2 L521.4 1883.7 L524.1 1883.4 L526.8 1883.2 L529.5 1883.2 L532.2 1883.4 L534.9 1883.7 L537.6 1884.2 L540.3 1884.9 L543.0 1885.7 L545.7 1886.7 L548.4 1887.8 L551.1 1889.0 L553.7 1890.4 L556.4 1892.0 L559.1 1893.6 L561.8 1895.3 L564.5 1897.0 L567.2 1898.9 L569.9 1900.7 L572.6 1902.6 L575.3 1904.4 L578.0 1906.3 L580.7 1908.2 L583.4 1910.0 L586.1 1911.8 L588.7 1913.6 L591.4 1915.3 L594.1 1917.0 L596.8 1918.6 L599.5 1920.3 L602.2 1921.9 L604.9 1923.4 L607.6 1925.0 L610.3 1926.5 L613.0 1928.0 L615.7 1929.5 L618.4 1931.0 L621.0 1932.4 L623.7 1933.8 L626.4 1935.2 L629.1 1936.6 L631.8 1937.9 L634.5 1939.2 L637.2 1940.4 L639.9 1941.6 L642.6 1942.8 L645.3 1944.0 L648.0 1945.1 L650.7 1946.2 L653.4 1947.3 L656.0 1948.3 L658.7 1949.3 L661.4 1950.2 L664.1 1951.2 L666.8 1952.1 L669.5 1952.9 L672.2 1953.7 L674.9 1954.5 L677.6 1955.3 L680.3 1956.0 L683.0 1956.7 L685.7 1957.3 L688.4 1958.0 L691.0 1958.5 L693.7 1959.1 L696.4 1959.6 L699.1 1960.1 L701.8 1960.5 L704.5 1960.9 L707.2 1961.3 L709.9 1961.6 L712.6 1961.9 L715.3 1962.2 L718.0 1962.4 L720.7 1962.6 L723.3 1962.8 L726.0 1962.9 L728.7 1963.0 L731.4 1963.0 L734.1 1963.0 L736.8 1963.0 L739.5 1963.0 L742.2 1962.9 L744.9 1962.8 L747.6 1962.7 L750.3 1962.5 L753.0 1962.3 L755.7 1962.1 L758.3 1961.8 L761.0 1961.6 L763.7 1961.3 L766.4 1961.0 L769.1 1960.6 L771.8 1960.2 L774.5 1959.8 L777.2 1959.4 L779.9 1959.0 L782.6 1958.5 L785.3 1958.1 L788.0 1957.6 L790.6 1957.1 L793.3 1956.5 L796.0 1956.0 L798.7 1955.4 L801.4 1954.8 L804.1 1954.2 L806.8 1953.6 L809.5 1953.0 L812.2 1952.4 L814.9 1951.7 L817.6 1951.1 L820.3 1950.4 L823.0 1949.7 L825.6 1949.1 L828.3 1948.4 L831.0 1947.7 L833.7 1947.0 L836.4 1946.4 L839.1 1945.7 L841.8 1945.0 L844.5 1944.4 L847.2 1943.7 L849.9 1943.1 L852.6 1942.5 L855.3 1941.8 L857.9 1941.2 L860.6 1940.6 L863.3 1939.9 L866.0 1939.3 L868.7 1938.7 L871.4 1938.1 L874.1 1937.5 L876.8 1936.9 L879.5 1936.2 L882.2 1935.6 L884.9 1934.9 L887.6 1934.3 L890.3 1933.6 L892.9 1932.9 L895.6 1932.2 L898.3 1931.5 L901.0 1930.7 L903.7 1929.9 L906.4 1929.1 L909.1 1928.2 L911.8 1927.3 L914.5 1926.4 L917.2 1925.4 L919.9 1924.4 L922.6 1923.3 L925.3 1922.2 L927.9 1921.1 L930.6 1919.9 L933.3 1918.7 L936.0 1917.4 L938.7 1916.1 L941.4 1914.8 L944.1 1913.4 L946.8 1912.0 L949.5 1910.6 L952.2 1909.1 L954.9 1907.6 L957.6 1906.1 L960.2 1904.5 L962.9 1902.9 L965.6 1901.3 L968.3 1899.6 L971.0 1897.9 L973.7 1896.2 L976.4 1894.4 L979.1 1892.6 L981.8 1890.8 L984.5 1888.9 L987.2 1887.0 L989.9 1885.1 L992.6 1883.2 L995.2 1881.2 L997.9 1879.2 L1000.6 1877.2 L1003.3 1875.2 L1006.0 1873.1 L1008.7 1871.1 L1011.4 1869.0 L1014.1 1866.9 L1016.8 1864.7 L1019.5 1862.6 L1022.2 1860.5 L1024.9 1858.3 L1027.5 1856.1 L1030.2 1854.0 L1032.9 1851.8 L1035.6 1849.6 L1038.3 1847.4 L1041.0 1845.2 L1043.7 1843.0 L1046.4 1840.8 L1049.1 1838.6 L1051.8 1836.4 L1054.5 1834.2 L1057.2 1832.0 L1059.9 1829.8 L1062.5 1827.6 L1065.2 1825.4 L1067.9 1823.3 L1070.6 1821.1 L1073.3 1819.0 L1076.0 1816.8 L1078.7 1814.7 L1081.4 1812.6 L1084.1 1810.5 L1086.8 1808.4 L1089.5 1806.4 L1092.2 1804.3 L1094.9 1802.3 L1097.5 1800.3 L1100.2 1798.3 L1102.9 1796.4 L1105.6 1794.5 L1108.3 1792.6 L1111.0 1790.7 L1113.7 1788.9 L1116.4 1787.1 L1119.1 1785.3 L1121.8 1783.5 L1124.5 1781.8 L1127.2 1780.2 L1129.8 1778.5 L1132.5 1776.9 L1135.2 1775.4 L1137.9 1773.9 L1140.6 1772.4 L1143.3 1771.0 L1146.0 1769.6 L1148.7 1768.3 L1151.4 1767.0 L1154.1 1765.8 L1156.8 1764.6 L1159.5 1763.4 L1162.2 1762.4 L1164.8 1761.3 L1167.5 1760.4 L1170.2 1759.4 L1172.9 1758.6 L1175.6 1757.7 L1178.3 1757.0 L1181.0 1756.3 L1183.7 1755.6 L1186.4 1755.1 L1189.1 1754.5 L1191.8 1754.0 L1194.5 1753.6 L1197.1 1753.3 L1199.8 1753.0 L1202.5 1752.7 L1205.2 1752.5 L1207.9 1752.4 L1210.6 1752.3 L1213.3 1752.3 L1216.0 1752.3 L1218.7 1752.4 L1221.4 1752.6 L1224.1 1752.8 L1226.8 1753.0 L1229.5 1753.4 L1232.1 1753.7 L1234.8 1754.2 L1237.5 1754.7 L1240.2 1755.3 L1242.9 1755.9 L1245.6 1756.6 L1248.3 1757.3 L1251.0 1758.1 L1253.7 1758.9 L1256.4 1759.8 L1259.1 1760.8 L1261.8 1761.8 L1264.4 1762.9 L1267.1 1764.0 L1269.8 1765.1 L1272.5 1766.3 L1275.2 1767.6 L1277.9 1768.9 L1280.6 1770.3 L1283.3 1771.7 L1286.0 1773.1 L1288.7 1774.6 L1291.4 1776.1 L1294.1 1777.7 L1296.8 1779.3 L1299.4 1781.0 L1302.1 1782.7 L1304.8 1784.4 L1307.5 1786.2 L1310.2 1788.0 L1312.9 1789.8 L1315.6 1791.7 L1318.3 1793.6 L1321.0 1795.5 L1323.7 1797.5 L1326.4 1799.5 L1329.1 1801.5 L1331.8 1803.5 L1334.4 1805.6 L1337.1 1807.7 L1339.8 1809.8 L1342.5 1812.0 L1345.2 1814.2 L1347.9 1816.4 L1350.6 1818.6 L1353.3 1820.8 L1356.0 1823.0 L1358.7 1825.3 L1361.4 1827.6 L1364.1 1829.8 L1366.7 1832.1 L1369.4 1834.4 L1372.1 1836.7 L1374.8 1839.0 L1377.5 1841.3 L1380.2 1843.7 L1382.9 1846.0 L1385.6 1848.3 L1388.3 1850.6 L1391.0 1852.9 L1393.7 1855.2 L1396.4 1857.5 L1399.1 1859.8 L1401.7 1862.1 L1404.4 1864.3 L1407.1 1866.6 L1409.8 1868.8 L1412.5 1871.0 L1415.2 1873.2 L1417.9 1875.4 L1420.6 1877.6 L1423.3 1879.7 L1426.0 1881.8 L1428.7 1883.9 L1431.4 1886.0 L1434.0 1888.0 L1436.7 1890.0 L1439.4 1892.0 L1442.1 1893.9 L1444.8 1895.9 L1447.5 1897.8 L1450.2 1899.6 L1452.9 1901.5 L1455.6 1903.2 L1458.3 1905.0 L1461.0 1906.9 L1463.7 1908.7 L1466.4 1910.2 L1469.0 1911.6 L1471.7 1913.2 L1474.4 1914.8 L1477.1 1916.3 L1479.8 1917.6 L1482.5 1919.3 L1485.2 1921.0 L1487.9 1922.4 L1490.6 1923.7 L1493.3 1924.9 L1496.0 1926.0 L1498.7 1927.3 L1501.3 1928.6 L1504.0 1930.0 L1506.7 1931.4 L1509.4 1931.6 L1512.1 1931.7 L1514.8 1932.9 L1517.5 1934.2 L1520.2 1934.9 L1522.9 1935.6 L1525.6 1937.4 L1528.3 1939.2 L1531.0 1939.8 L1533.7 1940.4 L1536.3 1941.2 L1539.0 1942.1 L1541.7 1943.4 L1544.4 1944.7 L1547.1 1943.6 L1549.8 1942.5 L1552.5 1944.8 L1555.2 1947.2 L1557.9 1946.7 L1560.6 1946.2 L1563.3 1947.3 L1566.0 1948.5 L1568.7 1949.4 L1571.3 1950.3 L1574.0 1951.0 L1576.7 1951.6 L1579.4 1950.1 L1582.1 1948.5 L1584.8 1949.9 L1587.5 1951.3 L1590.2 1952.2" stroke="#e2a8d0" stroke-width="2.8"/>
<path d="M241.5 1816.3 L244.2 1817.2 L246.9 1818.1 L249.5 1819.0 L252.2 1819.8 L254.9 1820.7 L257.6 1821.6 L260.3 1822.5 L263.0 1823.3 L265.7 1824.2 L268.4 1825.1 L271.1 1825.9 L273.8 1826.8 L276.5 1827.6 L279.2 1828.5 L281.9 1829.4 L284.5 1830.2 L287.2 1831.0 L289.9 1831.9 L292.6 1832.7 L295.3 1833.6 L298.0 1834.4 L300.7 1835.2 L303.4 1836.1 L306.1 1836.9 L308.8 1837.7 L311.5 1838.5 L314.2 1839.4 L316.8 1840.2 L319.5 1841.0 L322.2 1841.8 L324.9 1842.6 L327.6 1843.4 L330.3 1844.2 L333.0 1845.1 L335.7 1845.9 L338.4 1846.7 L341.1 1847.5 L343.8 1848.3 L346.5 1849.1 L349.2 1849.9 L351.8 1850.7 L354.5 1851.5 L357.2 1852.3 L359.9 1853.1 L362.6 1853.9 L365.3 1854.7 L368.0 1855.5 L370.7 1856.3 L373.4 1857.1 L376.1 1857.9 L378.8 1858.7 L381.5 1859.5 L384.1 1860.3 L386.8 1861.1 L389.5 1861.9 L392.2 1862.7 L394.9 1863.5 L397.6 1864.3 L400.3 1865.1 L403.0 1865.9 L405.7 1866.7 L408.4 1867.5 L411.1 1868.3 L413.8 1869.1 L416.5 1869.9 L419.1 1870.7 L421.8 1871.5 L424.5 1872.3 L427.2 1873.1 L429.9 1873.9 L432.6 1874.7 L435.3 1875.5 L438.0 1876.3 L440.7 1877.1 L443.4 1878.0 L446.1 1878.8 L448.8 1879.5 L451.5 1880.3 L454.1 1881.0 L456.8 1881.7 L459.5 1882.2 L462.2 1882.7 L464.9 1883.1 L467.6 1883.4 L470.3 1883.6 L473.0 1883.7 L475.7 1883.6 L478.4 1883.4 L481.1 1883.0 L483.8 1882.4 L486.4 1881.6 L489.1 1880.6 L491.8 1879.5 L494.5 1878.1 L497.2 1876.6 L499.9 1875.0 L502.6 1873.4 L505.3 1871.8 L508.0 1870.2 L510.7 1868.8 L513.4 1867.5 L516.1 1866.4 L518.8 1865.6 L521.4 1865.0 L524.1 1864.7 L526.8 1864.6 L529.5 1864.8 L532.2 1865.3 L534.9 1866.0 L537.6 1867.0 L540.3 1868.2 L543.0 1869.4 L545.7 1870.8 L548.4 1872.1 L551.1 1873.5 L553.7 1874.8 L556.4 1876.2 L559.1 1877.6 L561.8 1879.0 L564.5 1880.4 L567.2 1881.9 L569.9 1883.4 L572.6 1884.9 L575.3 1886.5 L578.0 1888.1 L580.7 1889.8 L583.4 1891.5 L586.1 1893.3 L588.7 1895.1 L591.4 1896.9 L594.1 1898.7 L596.8 1900.5 L599.5 1902.4 L602.2 1904.3 L604.9 1906.2 L607.6 1908.4 L610.3 1910.8 L613.0 1913.2 L615.7 1915.6 L618.4 1918.0 L621.0 1920.4 L623.7 1922.8 L626.4 1925.2 L629.1 1927.6 L631.8 1929.9 L634.5 1932.2 L637.2 1934.5 L639.9 1936.8 L642.6 1939.0 L645.3 1941.2 L648.0 1943.3 L650.7 1945.3 L653.4 1947.3 L656.0 1949.0 L658.7 1950.7 L661.4 1952.2 L664.1 1953.7 L666.8 1955.1 L669.5 1956.3 L672.2 1957.5 L674.9 1958.6 L677.6 1959.5 L680.3 1960.4 L683.0 1961.1 L685.7 1961.8 L688.4 1962.4 L691.0 1963.1 L693.7 1963.7 L696.4 1964.2 L699.1 1964.8 L701.8 1965.3 L704.5 1965.9 L707.2 1966.3 L709.9 1966.8 L712.6 1967.3 L715.3 1967.7 L718.0 1968.1 L720.7 1968.5 L723.3 1968.9 L726.0 1969.3 L728.7 1969.7 L731.4 1970.0 L734.1 1970.3 L736.8 1970.6 L739.5 1970.9 L742.2 1971.2 L744.9 1971.5 L747.6 1971.8 L750.3 1972.1 L753.0 1972.3 L755.7 1972.6 L758.3 1972.8 L761.0 1973.1 L763.7 1973.3 L766.4 1973.6 L769.1 1973.8 L771.8 1974.0 L774.5 1974.2 L777.2 1974.4 L779.9 1974.6 L782.6 1974.8 L785.3 1975.0 L788.0 1975.2 L790.6 1975.4 L793.3 1975.6 L796.0 1975.8 L798.7 1976.0 L801.4 1976.1 L804.1 1976.3 L806.8 1976.4 L809.5 1976.6 L812.2 1976.7 L814.9 1976.9 L817.6 1977.0 L820.3 1977.1 L823.0 1977.1 L825.6 1977.2 L828.3 1977.2 L831.0 1977.2 L833.7 1977.2 L836.4 1977.2 L839.1 1977.1 L841.8 1977.0 L844.5 1976.9 L847.2 1976.7 L849.9 1976.6 L852.6 1976.4 L855.3 1976.1 L857.9 1975.9 L860.6 1975.7 L863.3 1975.5 L866.0 1975.2 L868.7 1975.0 L871.4 1974.8 L874.1 1974.5 L876.8 1974.3 L879.5 1974.1 L882.2 1973.8 L884.9 1973.6 L887.6 1973.4 L890.3 1973.2 L892.9 1972.9 L895.6 1972.7 L898.3 1972.5 L901.0 1972.2 L903.7 1972.0 L906.4 1971.7 L909.1 1971.5 L911.8 1971.2 L914.5 1971.0 L917.2 1970.7 L919.9 1970.4 L922.6 1970.2 L925.3 1969.9 L927.9 1969.6 L930.6 1969.2 L933.3 1968.9 L936.0 1968.6 L938.7 1968.2 L941.4 1967.8 L944.1 1967.4 L946.8 1967.0 L949.5 1966.5 L952.2 1966.1 L954.9 1965.6 L957.6 1965.1 L960.2 1964.6 L962.9 1964.1 L965.6 1963.6 L968.3 1963.0 L971.0 1962.5 L973.7 1961.9 L976.4 1961.3 L979.1 1960.6 L981.8 1960.0 L984.5 1959.3 L987.2 1958.5 L989.9 1957.8 L992.6 1956.9 L995.2 1956.1 L997.9 1955.2 L1000.6 1954.2 L1003.3 1953.2 L1006.0 1952.2 L1008.7 1951.0 L1011.4 1949.8 L1014.1 1948.6 L1016.8 1947.2 L1019.5 1945.8 L1022.2 1944.3 L1024.9 1942.7 L1027.5 1940.9 L1030.2 1939.1 L1032.9 1937.2 L1035.6 1935.1 L1038.3 1932.9 L1041.0 1930.6 L1043.7 1928.2 L1046.4 1925.6 L1049.1 1922.8 L1051.8 1919.9 L1054.5 1916.9 L1057.2 1913.6 L1059.9 1910.2 L1062.5 1906.6 L1065.2 1902.9 L1067.9 1898.9 L1070.6 1894.8 L1073.3 1890.5 L1076.0 1885.9 L1078.7 1881.2 L1081.4 1876.3 L1084.1 1871.2 L1086.8 1865.9 L1089.5 1860.4 L1092.2 1854.7 L1094.9 1848.8 L1097.5 1842.7 L1100.2 1836.4 L1102.9 1829.9 L1105.6 1823.3 L1108.3 1816.5 L1111.0 1809.5 L1113.7 1802.3 L1116.4 1795.0 L1119.1 1787.6 L1121.8 1780.0 L1124.5 1772.3 L1127.2 1764.4 L1129.8 1756.5 L1132.5 1748.4 L1135.2 1740.3 L1137.9 1732.1 L1140.6 1723.8 L1143.3 1715.4 L1146.0 1707.0 L1148.7 1698.6 L1151.4 1690.2 L1154.1 1681.7 L1156.8 1673.3 L1159.5 1664.9 L1162.2 1656.5 L1164.8 1648.1 L1167.5 1639.8 L1170.2 1631.6 L1172.9 1623.4 L1175.6 1615.3 L1178.3 1607.3 L1181.0 1599.5 L1183.7 1591.7 L1186.4 1584.1 L1189.1 1576.6 L1191.8 1569.3 L1194.5 1562.1 L1197.1 1555.1 L1199.8 1548.3 L1202.5 1541.6 L1205.2 1535.2 L1207.9 1529.0 L1210.6 1522.9 L1213.3 1517.1 L1216.0 1511.6 L1218.7 1506.2 L1221.4 1501.1 L1224.1 1496.2 L1226.8 1491.6 L1229.5 1487.3 L1232.1 1483.1 L1234.8 1479.3 L1237.5 1475.7 L1240.2 1472.4 L1242.9 1469.3 L1245.6 1466.5 L1248.3 1464.0 L1251.0 1461.7 L1253.7 1459.7 L1256.4 1457.9 L1259.1 1456.4 L1261.8 1455.1 L1264.4 1454.1 L1267.1 1453.3 L1269.8 1452.7 L1272.5 1452.3 L1275.2 1452.2 L1277.9 1452.2 L1280.6 1452.5 L1283.3 1453.1 L1286.0 1454.1 L1288.7 1455.3 L1291.4 1456.8 L1294.1 1458.7 L1296.8 1460.8 L1299.4 1463.3 L1302.1 1466.0 L1304.8 1468.9 L1307.5 1472.2 L1310.2 1475.6 L1312.9 1479.4 L1315.6 1483.3 L1318.3 1487.5 L1321.0 1491.8 L1323.7 1496.4 L1326.4 1501.1 L1329.1 1506.0 L1331.8 1511.0 L1334.4 1516.2 L1337.1 1521.5 L1339.8 1526.9 L1342.5 1532.4 L1345.2 1538.0 L1347.9 1543.7 L1350.6 1549.5 L1353.3 1555.3 L1356.0 1561.2 L1358.7 1567.2 L1361.4 1573.1 L1364.1 1579.1 L1366.7 1585.2 L1369.4 1591.2 L1372.1 1597.2 L1374.8 1603.3 L1377.5 1609.3 L1380.2 1615.4 L1382.9 1621.4 L1385.6 1627.4 L1388.3 1633.3 L1391.0 1639.3 L1393.7 1645.2 L1396.4 1651.0 L1399.1 1656.8 L1401.7 1662.6 L1404.4 1668.3 L1407.1 1673.9 L1409.8 1679.5 L1412.5 1685.1 L1415.2 1690.6 L1417.9 1696.0 L1420.6 1701.3 L1423.3 1706.6 L1426.0 1711.8 L1428.7 1717.0 L1431.4 1722.0 L1434.0 1727.0 L1436.7 1731.9 L1439.4 1736.8 L1442.1 1741.5 L1444.8 1746.2 L1447.5 1750.8 L1450.2 1755.3 L1452.9 1759.7 L1455.6 1764.2 L1458.3 1768.5 L1461.0 1772.7 L1463.7 1776.8 L1466.4 1780.8 L1469.0 1784.8 L1471.7 1788.8 L1474.4 1792.7 L1477.1 1796.3 L1479.8 1799.7 L1482.5 1803.6 L1485.2 1807.5 L1487.9 1810.6 L1490.6 1813.4 L1493.3 1816.6 L1496.0 1819.7 L1498.7 1823.3 L1501.3 1826.8 L1504.0 1829.5 L1506.7 1832.0 L1509.4 1835.2 L1512.1 1838.4 L1514.8 1840.9 L1517.5 1843.4 L1520.2 1846.1 L1522.9 1848.6 L1525.6 1850.5 L1528.3 1852.3 L1531.0 1854.6 L1533.7 1856.8 L1536.3 1859.9 L1539.0 1863.0 L1541.7 1864.6 L1544.4 1866.2 L1547.1 1867.3 L1549.8 1868.2 L1552.5 1871.1 L1555.2 1873.9 L1557.9 1875.0 L1560.6 1876.1 L1563.3 1877.6 L1566.0 1879.0 L1568.7 1882.6 L1571.3 1886.3 L1574.0 1887.2 L1576.7 1888.0 L1579.4 1889.3 L1582.1 1890.5 L1584.8 1890.0 L1587.5 1889.6 L1590.2 1892.7" stroke="#111111" stroke-width="3.3"/>
<path d="M241.5 1828.0 L244.2 1829.6 L246.9 1831.2 L249.5 1832.7 L252.2 1834.1 L254.9 1835.4 L257.6 1836.7 L260.3 1837.8 L263.0 1839.0 L265.7 1840.0 L268.4 1841.0 L271.1 1841.9 L273.8 1842.8 L276.5 1843.7 L279.2 1844.4 L281.9 1845.2 L284.5 1845.9 L287.2 1846.5 L289.9 1847.1 L292.6 1847.7 L295.3 1848.3 L298.0 1848.8 L300.7 1849.3 L303.4 1849.8 L306.1 1850.3 L308.8 1850.8 L311.5 1851.2 L314.2 1851.7 L316.8 1852.1 L319.5 1852.5 L322.2 1853.0 L324.9 1853.4 L327.6 1853.9 L330.3 1854.3 L333.0 1854.8 L335.7 1855.3 L338.4 1855.8 L341.1 1856.4 L343.8 1857.0 L346.5 1857.5 L349.2 1858.2 L351.8 1858.8 L354.5 1859.5 L357.2 1860.2 L359.9 1860.9 L362.6 1861.6 L365.3 1862.4 L368.0 1863.1 L370.7 1863.9 L373.4 1864.7 L376.1 1865.4 L378.8 1866.2 L381.5 1867.0 L384.1 1867.8 L386.8 1868.6 L389.5 1869.4 L392.2 1870.2 L394.9 1871.0 L397.6 1871.8 L400.3 1872.6 L403.0 1873.4 L405.7 1874.1 L408.4 1874.9 L411.1 1875.6 L413.8 1876.4 L416.5 1877.1 L419.1 1877.7 L421.8 1878.4 L424.5 1879.1 L427.2 1879.7 L429.9 1880.3 L432.6 1880.8 L435.3 1881.4 L438.0 1881.9 L440.7 1882.3 L443.4 1882.8 L446.1 1883.1 L448.8 1883.5 L451.5 1883.8 L454.1 1884.1 L456.8 1884.3 L459.5 1884.5 L462.2 1884.6 L464.9 1884.7 L467.6 1884.7 L470.3 1884.7 L473.0 1884.6 L475.7 1884.4 L478.4 1884.2 L481.1 1883.9 L483.8 1883.5 L486.4 1883.1 L489.1 1882.6 L491.8 1882.0 L494.5 1881.4 L497.2 1880.7 L499.9 1880.0 L502.6 1879.2 L505.3 1878.5 L508.0 1877.7 L510.7 1877.0 L513.4 1876.3 L516.1 1875.7 L518.8 1875.2 L521.4 1874.7 L524.1 1874.3 L526.8 1874.1 L529.5 1874.0 L532.2 1874.0 L534.9 1874.1 L537.6 1874.4 L540.3 1874.8 L543.0 1875.3 L545.7 1876.0 L548.4 1876.8 L551.1 1877.7 L553.7 1878.7 L556.4 1879.9 L559.1 1881.1 L561.8 1882.5 L564.5 1883.9 L567.2 1885.4 L569.9 1886.9 L572.6 1888.5 L575.3 1890.0 L578.0 1891.6 L580.7 1893.2 L583.4 1894.8 L586.1 1896.4 L588.7 1897.9 L591.4 1899.4 L594.1 1900.9 L596.8 1902.3 L599.5 1903.7 L602.2 1905.0 L604.9 1906.4 L607.6 1907.7 L610.3 1909.0 L613.0 1910.2 L615.7 1911.4 L618.4 1912.6 L621.0 1913.8 L623.7 1914.9 L626.4 1916.0 L629.1 1917.1 L631.8 1918.1 L634.5 1919.1 L637.2 1920.1 L639.9 1921.1 L642.6 1922.0 L645.3 1922.9 L648.0 1923.8 L650.7 1924.6 L653.4 1925.4 L656.0 1926.2 L658.7 1927.0 L661.4 1927.8 L664.1 1928.5 L666.8 1929.2 L669.5 1929.8 L672.2 1930.5 L674.9 1931.1 L677.6 1931.7 L680.3 1932.2 L683.0 1932.8 L685.7 1933.3 L688.4 1933.8 L691.0 1934.3 L693.7 1934.7 L696.4 1935.1 L699.1 1935.5 L701.8 1935.9 L704.5 1936.3 L707.2 1936.6 L709.9 1936.9 L712.6 1937.2 L715.3 1937.5 L718.0 1937.7 L720.7 1937.9 L723.3 1938.1 L726.0 1938.3 L728.7 1938.5 L731.4 1938.6 L734.1 1938.8 L736.8 1938.9 L739.5 1938.9 L742.2 1939.0 L744.9 1939.1 L747.6 1939.1 L750.3 1939.1 L753.0 1939.1 L755.7 1939.1 L758.3 1939.0 L761.0 1939.0 L763.7 1938.9 L766.4 1938.8 L769.1 1938.7 L771.8 1938.6 L774.5 1938.5 L777.2 1938.3 L779.9 1938.1 L782.6 1938.0 L785.3 1937.8 L788.0 1937.6 L790.6 1937.4 L793.3 1937.1 L796.0 1936.9 L798.7 1936.6 L801.4 1936.4 L804.1 1936.1 L806.8 1935.8 L809.5 1935.5 L812.2 1935.2 L814.9 1934.9 L817.6 1934.5 L820.3 1934.2 L823.0 1933.8 L825.6 1933.4 L828.3 1933.0 L831.0 1932.6 L833.7 1932.2 L836.4 1931.8 L839.1 1931.3 L841.8 1930.9 L844.5 1930.4 L847.2 1929.9 L849.9 1929.4 L852.6 1928.9 L855.3 1928.4 L857.9 1927.8 L860.6 1927.3 L863.3 1926.7 L866.0 1926.1 L868.7 1925.5 L871.4 1924.9 L874.1 1924.3 L876.8 1923.7 L879.5 1923.0 L882.2 1922.3 L884.9 1921.7 L887.6 1921.0 L890.3 1920.2 L892.9 1919.5 L895.6 1918.8 L898.3 1918.0 L901.0 1917.2 L903.7 1916.4 L906.4 1915.6 L909.1 1914.8 L911.8 1914.0 L914.5 1913.1 L917.2 1912.3 L919.9 1911.4 L922.6 1910.5 L925.3 1909.6 L927.9 1908.7 L930.6 1907.8 L933.3 1906.9 L936.0 1906.0 L938.7 1905.1 L941.4 1904.2 L944.1 1903.3 L946.8 1902.4 L949.5 1901.5 L952.2 1900.6 L954.9 1899.7 L957.6 1898.8 L960.2 1897.8 L962.9 1896.8 L965.6 1895.9 L968.3 1894.9 L971.0 1893.9 L973.7 1892.9 L976.4 1891.9 L979.1 1890.9 L981.8 1889.8 L984.5 1888.8 L987.2 1887.7 L989.9 1886.7 L992.6 1885.6 L995.2 1884.5 L997.9 1883.5 L1000.6 1882.4 L1003.3 1881.3 L1006.0 1880.2 L1008.7 1879.0 L1011.4 1877.9 L1014.1 1876.8 L1016.8 1875.7 L1019.5 1874.5 L1022.2 1873.4 L1024.9 1872.2 L1027.5 1871.1 L1030.2 1870.0 L1032.9 1868.8 L1035.6 1867.7 L1038.3 1866.5 L1041.0 1865.3 L1043.7 1864.2 L1046.4 1863.0 L1049.1 1861.9 L1051.8 1860.7 L1054.5 1859.6 L1057.2 1858.5 L1059.9 1857.3 L1062.5 1856.2 L1065.2 1855.1 L1067.9 1854.0 L1070.6 1852.9 L1073.3 1851.8 L1076.0 1850.7 L1078.7 1849.6 L1081.4 1848.6 L1084.1 1847.5 L1086.8 1846.5 L1089.5 1845.5 L1092.2 1844.4 L1094.9 1843.5 L1097.5 1842.5 L1100.2 1841.5 L1102.9 1840.6 L1105.6 1839.7 L1108.3 1838.8 L1111.0 1837.9 L1113.7 1837.1 L1116.4 1836.3 L1119.1 1835.5 L1121.8 1834.7 L1124.5 1833.9 L1127.2 1833.2 L1129.8 1832.5 L1132.5 1831.9 L1135.2 1831.2 L1137.9 1830.6 L1140.6 1830.0 L1143.3 1829.5 L1146.0 1829.0 L1148.7 1828.5 L1151.4 1828.0 L1154.1 1827.6 L1156.8 1827.2 L1159.5 1826.8 L1162.2 1826.5 L1164.8 1826.2 L1167.5 1826.0 L1170.2 1825.7 L1172.9 1825.5 L1175.6 1825.4 L1178.3 1825.2 L1181.0 1825.1 L1183.7 1825.0 L1186.4 1825.0 L1189.1 1825.0 L1191.8 1825.0 L1194.5 1825.1 L1197.1 1825.2 L1199.8 1825.3 L1202.5 1825.4 L1205.2 1825.5 L1207.9 1825.7 L1210.6 1825.9 L1213.3 1826.2 L1216.0 1826.4 L1218.7 1826.7 L1221.4 1827.1 L1224.1 1827.4 L1226.8 1827.8 L1229.5 1828.2 L1232.1 1828.6 L1234.8 1829.1 L1237.5 1829.6 L1240.2 1830.2 L1242.9 1830.7 L1245.6 1831.3 L1248.3 1831.9 L1251.0 1832.6 L1253.7 1833.3 L1256.4 1834.0 L1259.1 1834.7 L1261.8 1835.5 L1264.4 1836.3 L1267.1 1837.1 L1269.8 1838.0 L1272.5 1838.9 L1275.2 1839.8 L1277.9 1840.7 L1280.6 1841.7 L1283.3 1842.7 L1286.0 1843.7 L1288.7 1844.8 L1291.4 1845.9 L1294.1 1847.0 L1296.8 1848.1 L1299.4 1849.2 L1302.1 1850.4 L1304.8 1851.6 L1307.5 1852.8 L1310.2 1854.1 L1312.9 1855.3 L1315.6 1856.6 L1318.3 1857.9 L1321.0 1859.2 L1323.7 1860.5 L1326.4 1861.9 L1329.1 1863.3 L1331.8 1864.6 L1334.4 1866.0 L1337.1 1867.5 L1339.8 1868.9 L1342.5 1870.3 L1345.2 1871.8 L1347.9 1873.2 L1350.6 1874.7 L1353.3 1876.2 L1356.0 1877.6 L1358.7 1879.1 L1361.4 1880.6 L1364.1 1882.1 L1366.7 1883.6 L1369.4 1885.1 L1372.1 1886.6 L1374.8 1888.1 L1377.5 1889.6 L1380.2 1891.1 L1382.9 1892.6 L1385.6 1894.1 L1388.3 1895.6 L1391.0 1897.1 L1393.7 1898.5 L1396.4 1900.0 L1399.1 1901.5 L1401.7 1902.9 L1404.4 1904.3 L1407.1 1905.8 L1409.8 1907.2 L1412.5 1908.6 L1415.2 1910.0 L1417.9 1911.4 L1420.6 1912.7 L1423.3 1914.1 L1426.0 1915.4 L1428.7 1916.7 L1431.4 1918.0 L1434.0 1919.3 L1436.7 1920.5 L1439.4 1921.8 L1442.1 1923.0 L1444.8 1924.2 L1447.5 1925.4 L1450.2 1926.6 L1452.9 1927.8 L1455.6 1928.9 L1458.3 1929.9 L1461.0 1930.9 L1463.7 1931.8 L1466.4 1932.9 L1469.0 1934.1 L1471.7 1935.1 L1474.4 1936.2 L1477.1 1937.0 L1479.8 1937.7 L1482.5 1938.9 L1485.2 1940.2 L1487.9 1940.9 L1490.6 1941.6 L1493.3 1942.3 L1496.0 1942.9 L1498.7 1943.7 L1501.3 1944.4 L1504.0 1945.1 L1506.7 1945.7 L1509.4 1946.4 L1512.1 1947.2 L1514.8 1948.3 L1517.5 1949.4 L1520.2 1949.6 L1522.9 1949.7 L1525.6 1950.9 L1528.3 1952.2 L1531.0 1951.9 L1533.7 1951.5 L1536.3 1952.8 L1539.0 1954.0 L1541.7 1954.7 L1544.4 1955.4 L1547.1 1955.8 L1549.8 1956.2 L1552.5 1956.0 L1555.2 1955.7 L1557.9 1957.7 L1560.6 1959.6 L1563.3 1958.7 L1566.0 1957.8 L1568.7 1957.3 L1571.3 1956.8 L1574.0 1957.8 L1576.7 1958.8 L1579.4 1958.7 L1582.1 1958.7 L1584.8 1959.1 L1587.5 1959.5 L1590.2 1960.0" stroke="#557a3a" stroke-width="2.8"/>
<path d="M241.5 1828.0 L244.2 1829.6 L246.9 1831.2 L249.5 1832.7 L252.2 1834.1 L254.9 1835.4 L257.6 1836.7 L260.3 1837.8 L263.0 1839.0 L265.7 1840.0 L268.4 1841.0 L271.1 1841.9 L273.8 1842.8 L276.5 1843.7 L279.2 1844.4 L281.9 1845.2 L284.5 1845.9 L287.2 1846.5 L289.9 1847.1 L292.6 1847.7 L295.3 1848.3 L298.0 1848.8 L300.7 1849.3 L303.4 1849.8 L306.1 1850.3 L308.8 1850.8 L311.5 1851.2 L314.2 1851.7 L316.8 1852.1 L319.5 1852.5 L322.2 1853.0 L324.9 1853.4 L327.6 1853.9 L330.3 1854.3 L333.0 1854.8 L335.7 1855.3 L338.4 1855.8 L341.1 1856.4 L343.8 1857.0 L346.5 1857.5 L349.2 1858.2 L351.8 1858.8 L354.5 1859.5 L357.2 1860.2 L359.9 1860.9 L362.6 1861.6 L365.3 1862.4 L368.0 1863.1 L370.7 1863.9 L373.4 1864.7 L376.1 1865.4 L378.8 1866.2 L381.5 1867.0 L384.1 1867.8 L386.8 1868.6 L389.5 1869.4 L392.2 1870.2 L394.9 1871.0 L397.6 1871.8 L400.3 1872.6 L403.0 1873.4 L405.7 1874.1 L408.4 1874.9 L411.1 1875.6 L413.8 1876.4 L416.5 1877.1 L419.1 1877.7 L421.8 1878.4 L424.5 1879.1 L427.2 1879.7 L429.9 1880.3 L432.6 1880.8 L435.3 1881.4 L438.0 1881.9 L440.7 1882.3 L443.4 1882.8 L446.1 1883.1 L448.8 1883.5 L451.5 1883.8 L454.1 1884.1 L456.8 1884.3 L459.5 1884.5 L462.2 1884.6 L464.9 1884.7 L467.6 1884.7 L470.3 1884.7 L473.0 1884.6 L475.7 1884.4 L478.4 1884.2 L481.1 1883.9 L483.8 1883.5 L486.4 1883.1 L489.1 1882.6 L491.8 1882.0 L494.5 1881.3 L497.2 1880.5 L499.9 1879.7 L502.6 1878.9 L505.3 1878.1 L508.0 1877.2 L510.7 1876.4 L513.4 1875.6 L516.1 1874.9 L518.8 1874.3 L521.4 1873.7 L524.1 1873.3 L526.8 1873.0 L529.5 1872.8 L532.2 1872.8 L534.9 1873.0 L537.6 1873.3 L540.3 1873.8 L543.0 1874.4 L545.7 1875.1 L548.4 1875.9 L551.1 1876.9 L553.7 1877.9 L556.4 1879.1 L559.1 1880.3 L561.8 1881.6 L564.5 1883.0 L567.2 1884.4 L569.9 1885.8 L572.6 1887.2 L575.3 1888.7 L578.0 1890.2 L580.7 1891.6 L583.4 1893.1 L586.1 1894.5 L588.7 1895.9 L591.4 1897.3 L594.1 1898.6 L596.8 1899.9 L599.5 1901.2 L602.2 1902.5 L604.9 1903.7 L607.6 1905.0 L610.3 1906.2 L613.0 1907.3 L615.7 1908.5 L618.4 1909.6 L621.0 1910.8 L623.7 1911.8 L626.4 1912.9 L629.1 1914.0 L631.8 1915.0 L634.5 1916.0 L637.2 1917.0 L639.9 1917.9 L642.6 1918.8 L645.3 1919.8 L648.0 1920.6 L650.7 1921.5 L653.4 1922.3 L656.0 1923.1 L658.7 1923.9 L661.4 1924.7 L664.1 1925.4 L666.8 1926.1 L669.5 1926.8 L672.2 1927.5 L674.9 1928.2 L677.6 1928.8 L680.3 1929.4 L683.0 1930.0 L685.7 1930.5 L688.4 1931.1 L691.0 1931.6 L693.7 1932.1 L696.4 1932.5 L699.1 1933.0 L701.8 1933.4 L704.5 1933.8 L707.2 1934.2 L709.9 1934.5 L712.6 1934.9 L715.3 1935.2 L718.0 1935.5 L720.7 1935.7 L723.3 1936.0 L726.0 1936.2 L728.7 1936.4 L731.4 1936.6 L734.1 1936.8 L736.8 1936.9 L739.5 1937.1 L742.2 1937.2 L744.9 1937.3 L747.6 1937.3 L750.3 1937.4 L753.0 1937.4 L755.7 1937.4 L758.3 1937.4 L761.0 1937.4 L763.7 1937.4 L766.4 1937.4 L769.1 1937.3 L771.8 1937.2 L774.5 1937.1 L777.2 1937.0 L779.9 1936.9 L782.6 1936.8 L785.3 1936.6 L788.0 1936.5 L790.6 1936.3 L793.3 1936.1 L796.0 1935.9 L798.7 1935.7 L801.4 1935.4 L804.1 1935.2 L806.8 1935.0 L809.5 1934.7 L812.2 1934.4 L814.9 1934.1 L817.6 1933.8 L820.3 1933.5 L823.0 1933.2 L825.6 1932.9 L828.3 1932.6 L831.0 1932.3 L833.7 1931.9 L836.4 1931.6 L839.1 1931.3 L841.8 1930.9 L844.5 1930.6 L847.2 1930.2 L849.9 1929.9 L852.6 1929.6 L855.3 1929.2 L857.9 1928.9 L860.6 1928.6 L863.3 1928.2 L866.0 1927.9 L868.7 1927.6 L871.4 1927.2 L874.1 1926.9 L876.8 1926.6 L879.5 1926.3 L882.2 1925.9 L884.9 1925.6 L887.6 1925.3 L890.3 1924.9 L892.9 1924.6 L895.6 1924.3 L898.3 1923.9 L901.0 1923.6 L903.7 1923.2 L906.4 1922.9 L909.1 1922.5 L911.8 1922.1 L914.5 1921.7 L917.2 1921.3 L919.9 1920.9 L922.6 1920.5 L925.3 1920.1 L927.9 1919.6 L930.6 1919.2 L933.3 1918.7 L936.0 1918.2 L938.7 1917.7 L941.4 1917.2 L944.1 1916.7 L946.8 1916.2 L949.5 1915.7 L952.2 1915.1 L954.9 1914.6 L957.6 1914.1 L960.2 1913.5 L962.9 1912.9 L965.6 1912.4 L968.3 1911.8 L971.0 1911.2 L973.7 1910.6 L976.4 1910.0 L979.1 1909.4 L981.8 1908.8 L984.5 1908.1 L987.2 1907.5 L989.9 1906.9 L992.6 1906.2 L995.2 1905.6 L997.9 1905.0 L1000.6 1904.3 L1003.3 1903.6 L1006.0 1903.0 L1008.7 1902.3 L1011.4 1901.7 L1014.1 1901.0 L1016.8 1900.3 L1019.5 1899.6 L1022.2 1899.0 L1024.9 1898.3 L1027.5 1897.6 L1030.2 1896.9 L1032.9 1896.2 L1035.6 1895.6 L1038.3 1894.9 L1041.0 1894.2 L1043.7 1893.5 L1046.4 1892.9 L1049.1 1892.2 L1051.8 1891.5 L1054.5 1890.9 L1057.2 1890.2 L1059.9 1889.6 L1062.5 1888.9 L1065.2 1888.3 L1067.9 1887.7 L1070.6 1887.1 L1073.3 1886.5 L1076.0 1885.9 L1078.7 1885.3 L1081.4 1884.7 L1084.1 1884.1 L1086.8 1883.6 L1089.5 1883.1 L1092.2 1882.5 L1094.9 1882.0 L1097.5 1881.5 L1100.2 1881.1 L1102.9 1880.6 L1105.6 1880.2 L1108.3 1879.7 L1111.0 1879.3 L1113.7 1878.9 L1116.4 1878.6 L1119.1 1878.2 L1121.8 1877.9 L1124.5 1877.6 L1127.2 1877.3 L1129.8 1877.0 L1132.5 1876.8 L1135.2 1876.6 L1137.9 1876.4 L1140.6 1876.2 L1143.3 1876.1 L1146.0 1875.9 L1148.7 1875.8 L1151.4 1875.7 L1154.1 1875.7 L1156.8 1875.6 L1159.5 1875.6 L1162.2 1875.6 L1164.8 1875.7 L1167.5 1875.7 L1170.2 1875.8 L1172.9 1875.9 L1175.6 1876.0 L1178.3 1876.1 L1181.0 1876.3 L1183.7 1876.4 L1186.4 1876.6 L1189.1 1876.8 L1191.8 1877.1 L1194.5 1877.3 L1197.1 1877.5 L1199.8 1877.8 L1202.5 1878.1 L1205.2 1878.4 L1207.9 1878.8 L1210.6 1879.1 L1213.3 1879.5 L1216.0 1879.9 L1218.7 1880.3 L1221.4 1880.7 L1224.1 1881.2 L1226.8 1881.6 L1229.5 1882.1 L1232.1 1882.6 L1234.8 1883.2 L1237.5 1883.7 L1240.2 1884.3 L1242.9 1884.9 L1245.6 1885.5 L1248.3 1886.1 L1251.0 1886.7 L1253.7 1887.4 L1256.4 1888.1 L1259.1 1888.8 L1261.8 1889.5 L1264.4 1890.2 L1267.1 1891.0 L1269.8 1891.7 L1272.5 1892.5 L1275.2 1893.3 L1277.9 1894.1 L1280.6 1895.0 L1283.3 1895.8 L1286.0 1896.7 L1288.7 1897.5 L1291.4 1898.4 L1294.1 1899.3 L1296.8 1900.3 L1299.4 1901.2 L1302.1 1902.1 L1304.8 1903.1 L1307.5 1904.1 L1310.2 1905.0 L1312.9 1906.0 L1315.6 1907.0 L1318.3 1908.0 L1321.0 1909.1 L1323.7 1910.1 L1326.4 1911.1 L1329.1 1912.1 L1331.8 1913.2 L1334.4 1914.2 L1337.1 1915.3 L1339.8 1916.3 L1342.5 1917.4 L1345.2 1918.5 L1347.9 1919.5 L1350.6 1920.6 L1353.3 1921.6 L1356.0 1922.7 L1358.7 1923.7 L1361.4 1924.8 L1364.1 1925.8 L1366.7 1926.9 L1369.4 1927.9 L1372.1 1929.0 L1374.8 1930.0 L1377.5 1931.0 L1380.2 1932.0 L1382.9 1933.0 L1385.6 1934.0 L1388.3 1935.0 L1391.0 1936.0 L1393.7 1936.9 L1396.4 1937.9 L1399.1 1938.8 L1401.7 1939.7 L1404.4 1940.6 L1407.1 1941.5 L1409.8 1942.4 L1412.5 1943.3 L1415.2 1944.1 L1417.9 1945.0 L1420.6 1945.8 L1423.3 1946.6 L1426.0 1947.4 L1428.7 1948.2 L1431.4 1949.0 L1434.0 1949.7 L1436.7 1950.4 L1439.4 1951.1 L1442.1 1951.8 L1444.8 1952.5 L1447.5 1953.2 L1450.2 1953.8 L1452.9 1954.4 L1455.6 1955.0 L1458.3 1955.5 L1461.0 1956.3 L1463.7 1957.0 L1466.4 1957.5 L1469.0 1958.0 L1471.7 1958.5 L1474.4 1959.0 L1477.1 1959.6 L1479.8 1960.1 L1482.5 1960.7 L1485.2 1961.3 L1487.9 1961.7 L1490.6 1962.1 L1493.3 1962.5 L1496.0 1962.7 L1498.7 1963.2 L1501.3 1963.6 L1504.0 1963.9 L1506.7 1964.2 L1509.4 1964.5 L1512.1 1964.8 L1514.8 1965.0 L1517.5 1965.2 L1520.2 1965.7 L1522.9 1966.1 L1525.6 1966.3 L1528.3 1966.5 L1531.0 1967.0 L1533.7 1967.5 L1536.3 1967.5 L1539.0 1967.6 L1541.7 1967.7 L1544.4 1967.8 L1547.1 1968.1 L1549.8 1968.3 L1552.5 1968.8 L1555.2 1969.3 L1557.9 1968.9 L1560.6 1968.3 L1563.3 1969.0 L1566.0 1969.6 L1568.7 1970.3 L1571.3 1971.1 L1574.0 1971.3 L1576.7 1971.6 L1579.4 1971.3 L1582.1 1971.1 L1584.8 1971.7 L1587.5 1972.2 L1590.2 1972.6" stroke="#3e2c2c" stroke-width="2.8"/>
<path d="M241.5 1828.0 L244.2 1829.6 L246.9 1831.2 L249.5 1832.7 L252.2 1834.1 L254.9 1835.4 L257.6 1836.7 L260.3 1837.8 L263.0 1839.0 L265.7 1840.0 L268.4 1841.0 L271.1 1841.9 L273.8 1842.8 L276.5 1843.7 L279.2 1844.4 L281.9 1845.2 L284.5 1845.9 L287.2 1846.5 L289.9 1847.1 L292.6 1847.7 L295.3 1848.3 L298.0 1848.8 L300.7 1849.3 L303.4 1849.8 L306.1 1850.3 L308.8 1850.8 L311.5 1851.2 L314.2 1851.7 L316.8 1852.1 L319.5 1852.5 L322.2 1853.0 L324.9 1853.4 L327.6 1853.9 L330.3 1854.3 L333.0 1854.8 L335.7 1855.3 L338.4 1855.8 L341.1 1856.4 L343.8 1857.0 L346.5 1857.5 L349.2 1858.2 L351.8 1858.8 L354.5 1859.5 L357.2 1860.2 L359.9 1860.9 L362.6 1861.6 L365.3 1862.4 L368.0 1863.1 L370.7 1863.9 L373.4 1864.7 L376.1 1865.4 L378.8 1866.2 L381.5 1867.0 L384.1 1867.8 L386.8 1868.6 L389.5 1869.4 L392.2 1870.2 L394.9 1871.0 L397.6 1871.8 L400.3 1872.6 L403.0 1873.4 L405.7 1874.1 L408.4 1874.9 L411.1 1875.6 L413.8 1876.4 L416.5 1877.1 L419.1 1877.7 L421.8 1878.4 L424.5 1879.1 L427.2 1879.7 L429.9 1880.3 L432.6 1880.8 L435.3 1881.4 L438.0 1881.9 L440.7 1882.3 L443.4 1882.8 L446.1 1883.1 L448.8 1883.5 L451.5 1883.8 L454.1 1884.1 L456.8 1884.3 L459.5 1884.5 L462.2 1884.6 L464.9 1884.7 L467.6 1884.7 L470.3 1884.7 L473.0 1884.6 L475.7 1884.4 L478.4 1884.2 L481.1 1883.9 L483.8 1883.5 L486.4 1883.0 L489.1 1882.5 L491.8 1881.8 L494.5 1881.1 L497.2 1880.2 L499.9 1879.3 L502.6 1878.4 L505.3 1877.4 L508.0 1876.4 L510.7 1875.4 L513.4 1874.5 L516.1 1873.6 L518.8 1872.8 L521.4 1872.1 L524.1 1871.5 L526.8 1871.2 L529.5 1871.0 L532.2 1870.9 L534.9 1871.1 L537.6 1871.5 L540.3 1872.1 L543.0 1872.8 L545.7 1873.6 L548.4 1874.5 L551.1 1875.5 L553.7 1876.6 L556.4 1877.8 L559.1 1878.9 L561.8 1880.2 L564.5 1881.4 L567.2 1882.7 L569.9 1883.9 L572.6 1885.2 L575.3 1886.5 L578.0 1887.7 L580.7 1889.0 L583.4 1890.2 L586.1 1891.4 L588.7 1892.6 L591.4 1893.7 L594.1 1894.9 L596.8 1896.0 L599.5 1897.1 L602.2 1898.2 L604.9 1899.3 L607.6 1900.4 L610.3 1901.5 L613.0 1902.5 L615.7 1903.6 L618.4 1904.7 L621.0 1905.7 L623.7 1906.8 L626.4 1907.8 L629.1 1908.8 L631.8 1909.8 L634.5 1910.8 L637.2 1911.7 L639.9 1912.7 L642.6 1913.6 L645.3 1914.5 L648.0 1915.4 L650.7 1916.3 L653.4 1917.1 L656.0 1918.0 L658.7 1918.8 L661.4 1919.6 L664.1 1920.3 L666.8 1921.1 L669.5 1921.8 L672.2 1922.6 L674.9 1923.3 L677.6 1923.9 L680.3 1924.6 L683.0 1925.3 L685.7 1925.9 L688.4 1926.5 L691.0 1927.1 L693.7 1927.6 L696.4 1928.2 L699.1 1928.7 L701.8 1929.2 L704.5 1929.7 L707.2 1930.1 L709.9 1930.6 L712.6 1931.0 L715.3 1931.4 L718.0 1931.7 L720.7 1932.1 L723.3 1932.4 L726.0 1932.7 L728.7 1933.0 L731.4 1933.3 L734.1 1933.5 L736.8 1933.7 L739.5 1933.9 L742.2 1934.1 L744.9 1934.3 L747.6 1934.4 L750.3 1934.5 L753.0 1934.7 L755.7 1934.7 L758.3 1934.8 L761.0 1934.9 L763.7 1934.9 L766.4 1934.9 L769.1 1934.9 L771.8 1934.9 L774.5 1934.9 L777.2 1934.9 L779.9 1934.8 L782.6 1934.8 L785.3 1934.7 L788.0 1934.6 L790.6 1934.5 L793.3 1934.3 L796.0 1934.2 L798.7 1934.1 L801.4 1933.9 L804.1 1933.7 L806.8 1933.5 L809.5 1933.4 L812.2 1933.1 L814.9 1932.9 L817.6 1932.7 L820.3 1932.5 L823.0 1932.2 L825.6 1931.9 L828.3 1931.7 L831.0 1931.4 L833.7 1931.1 L836.4 1930.8 L839.1 1930.5 L841.8 1930.2 L844.5 1929.9 L847.2 1929.6 L849.9 1929.3 L852.6 1929.0 L855.3 1928.6 L857.9 1928.3 L860.6 1928.0 L863.3 1927.7 L866.0 1927.4 L868.7 1927.1 L871.4 1926.8 L874.1 1926.5 L876.8 1926.2 L879.5 1925.9 L882.2 1925.6 L884.9 1925.3 L887.6 1925.0 L890.3 1924.7 L892.9 1924.4 L895.6 1924.2 L898.3 1923.9 L901.0 1923.7 L903.7 1923.4 L906.4 1923.2 L909.1 1923.0 L911.8 1922.7 L914.5 1922.5 L917.2 1922.3 L919.9 1922.1 L922.6 1921.9 L925.3 1921.7 L927.9 1921.5 L930.6 1921.3 L933.3 1921.1 L936.0 1920.9 L938.7 1920.8 L941.4 1920.6 L944.1 1920.4 L946.8 1920.2 L949.5 1920.0 L952.2 1919.9 L954.9 1919.7 L957.6 1919.6 L960.2 1919.4 L962.9 1919.3 L965.6 1919.1 L968.3 1919.0 L971.0 1918.9 L973.7 1918.8 L976.4 1918.7 L979.1 1918.6 L981.8 1918.5 L984.5 1918.4 L987.2 1918.3 L989.9 1918.2 L992.6 1918.2 L995.2 1918.1 L997.9 1918.1 L1000.6 1918.1 L1003.3 1918.0 L1006.0 1918.0 L1008.7 1918.0 L1011.4 1918.0 L1014.1 1918.0 L1016.8 1918.0 L1019.5 1918.0 L1022.2 1918.1 L1024.9 1918.1 L1027.5 1918.2 L1030.2 1918.2 L1032.9 1918.3 L1035.6 1918.4 L1038.3 1918.4 L1041.0 1918.5 L1043.7 1918.6 L1046.4 1918.7 L1049.1 1918.8 L1051.8 1918.9 L1054.5 1919.0 L1057.2 1919.2 L1059.9 1919.3 L1062.5 1919.4 L1065.2 1919.6 L1067.9 1919.7 L1070.6 1919.9 L1073.3 1920.0 L1076.0 1920.2 L1078.7 1920.4 L1081.4 1920.6 L1084.1 1920.8 L1086.8 1921.0 L1089.5 1921.2 L1092.2 1921.4 L1094.9 1921.6 L1097.5 1921.8 L1100.2 1922.1 L1102.9 1922.3 L1105.6 1922.6 L1108.3 1922.8 L1111.0 1923.1 L1113.7 1923.4 L1116.4 1923.7 L1119.1 1924.0 L1121.8 1924.3 L1124.5 1924.6 L1127.2 1924.9 L1129.8 1925.3 L1132.5 1925.6 L1135.2 1926.0 L1137.9 1926.3 L1140.6 1926.7 L1143.3 1927.1 L1146.0 1927.4 L1148.7 1927.8 L1151.4 1928.2 L1154.1 1928.6 L1156.8 1929.1 L1159.5 1929.5 L1162.2 1929.9 L1164.8 1930.4 L1167.5 1930.8 L1170.2 1931.2 L1172.9 1931.7 L1175.6 1932.2 L1178.3 1932.6 L1181.0 1933.1 L1183.7 1933.6 L1186.4 1934.1 L1189.1 1934.6 L1191.8 1935.1 L1194.5 1935.6 L1197.1 1936.1 L1199.8 1936.7 L1202.5 1937.2 L1205.2 1937.7 L1207.9 1938.2 L1210.6 1938.8 L1213.3 1939.3 L1216.0 1939.9 L1218.7 1940.4 L1221.4 1941.0 L1224.1 1941.5 L1226.8 1942.1 L1229.5 1942.6 L1232.1 1943.2 L1234.8 1943.7 L1237.5 1944.3 L1240.2 1944.9 L1242.9 1945.4 L1245.6 1946.0 L1248.3 1946.5 L1251.0 1947.1 L1253.7 1947.7 L1256.4 1948.2 L1259.1 1948.8 L1261.8 1949.3 L1264.4 1949.9 L1267.1 1950.4 L1269.8 1951.0 L1272.5 1951.5 L1275.2 1952.1 L1277.9 1952.6 L1280.6 1953.1 L1283.3 1953.7 L1286.0 1954.2 L1288.7 1954.7 L1291.4 1955.2 L1294.1 1955.7 L1296.8 1956.2 L1299.4 1956.7 L1302.1 1957.2 L1304.8 1957.7 L1307.5 1958.2 L1310.2 1958.7 L1312.9 1959.2 L1315.6 1959.6 L1318.3 1960.1 L1321.0 1960.5 L1323.7 1961.0 L1326.4 1961.4 L1329.1 1961.9 L1331.8 1962.3 L1334.4 1962.7 L1337.1 1963.1 L1339.8 1963.5 L1342.5 1963.9 L1345.2 1964.3 L1347.9 1964.7 L1350.6 1965.1 L1353.3 1965.5 L1356.0 1965.8 L1358.7 1966.2 L1361.4 1966.5 L1364.1 1966.9 L1366.7 1967.2 L1369.4 1967.6 L1372.1 1967.9 L1374.8 1968.2 L1377.5 1968.5 L1380.2 1968.8 L1382.9 1969.1 L1385.6 1969.4 L1388.3 1969.7 L1391.0 1970.0 L1393.7 1970.3 L1396.4 1970.5 L1399.1 1970.8 L1401.7 1971.1 L1404.4 1971.3 L1407.1 1971.6 L1409.8 1971.8 L1412.5 1972.0 L1415.2 1972.3 L1417.9 1972.5 L1420.6 1972.7 L1423.3 1972.9 L1426.0 1973.2 L1428.7 1973.4 L1431.4 1973.6 L1434.0 1973.8 L1436.7 1974.0 L1439.4 1974.2 L1442.1 1974.4 L1444.8 1974.5 L1447.5 1974.7 L1450.2 1974.9 L1452.9 1975.2 L1455.6 1975.3 L1458.3 1975.5 L1461.0 1975.7 L1463.7 1975.8 L1466.4 1975.9 L1469.0 1975.8 L1471.7 1976.0 L1474.4 1976.2 L1477.1 1976.3 L1479.8 1976.3 L1482.5 1976.8 L1485.2 1977.4 L1487.9 1977.0 L1490.6 1976.5 L1493.3 1976.9 L1496.0 1977.4 L1498.7 1977.7 L1501.3 1978.0 L1504.0 1978.4 L1506.7 1978.8 L1509.4 1978.9 L1512.1 1978.9 L1514.8 1978.4 L1517.5 1977.8 L1520.2 1978.6 L1522.9 1979.5 L1525.6 1979.2 L1528.3 1978.9 L1531.0 1978.9 L1533.7 1978.9 L1536.3 1979.4 L1539.0 1979.9 L1541.7 1979.6 L1544.4 1979.2 L1547.1 1979.3 L1549.8 1979.5 L1552.5 1979.5 L1555.2 1979.5 L1557.9 1980.7 L1560.6 1982.0 L1563.3 1980.9 L1566.0 1979.7 L1568.7 1981.0 L1571.3 1982.4 L1574.0 1983.0 L1576.7 1983.5 L1579.4 1983.3 L1582.1 1983.0 L1584.8 1983.2 L1587.5 1983.3 L1590.2 1982.7" stroke="#dcb8ac" stroke-width="2.3"/>
<path d="M241.5 1831.2 L244.2 1832.3 L246.9 1833.4 L249.5 1834.4 L252.2 1835.4 L254.9 1836.3 L257.6 1837.3 L260.3 1838.2 L263.0 1839.0 L265.7 1839.9 L268.4 1840.7 L271.1 1841.5 L273.8 1842.3 L276.5 1843.1 L279.2 1843.8 L281.9 1844.5 L284.5 1845.2 L287.2 1845.9 L289.9 1846.6 L292.6 1847.3 L295.3 1848.0 L298.0 1848.6 L300.7 1849.3 L303.4 1849.9 L306.1 1850.5 L308.8 1851.2 L311.5 1851.8 L314.2 1852.4 L316.8 1853.1 L319.5 1853.7 L322.2 1854.3 L324.9 1855.0 L327.6 1855.6 L330.3 1856.3 L333.0 1856.9 L335.7 1857.6 L338.4 1858.3 L341.1 1859.0 L343.8 1859.7 L346.5 1860.4 L349.2 1861.1 L351.8 1861.9 L354.5 1862.7 L357.2 1863.4 L359.9 1864.2 L362.6 1865.0 L365.3 1865.8 L368.0 1866.5 L370.7 1867.3 L373.4 1868.1 L376.1 1868.9 L378.8 1869.7 L381.5 1870.5 L384.1 1871.3 L386.8 1872.1 L389.5 1872.9 L392.2 1873.7 L394.9 1874.5 L397.6 1875.2 L400.3 1876.0 L403.0 1876.7 L405.7 1877.5 L408.4 1878.2 L411.1 1878.9 L413.8 1879.6 L416.5 1880.3 L419.1 1881.0 L421.8 1881.6 L424.5 1882.2 L427.2 1882.9 L429.9 1883.5 L432.6 1884.0 L435.3 1884.6 L438.0 1885.1 L440.7 1885.6 L443.4 1886.1 L446.1 1886.5 L448.8 1886.9 L451.5 1887.3 L454.1 1887.6 L456.8 1887.9 L459.5 1888.1 L462.2 1888.3 L464.9 1888.3 L467.6 1888.3 L470.3 1888.3 L473.0 1888.1 L475.7 1887.8 L478.4 1887.5 L481.1 1887.0 L483.8 1886.5 L486.4 1885.9 L489.1 1885.2 L491.8 1884.3 L494.5 1883.4 L497.2 1882.5 L499.9 1881.5 L502.6 1880.5 L505.3 1879.6 L508.0 1878.6 L510.7 1877.7 L513.4 1876.8 L516.1 1876.0 L518.8 1875.3 L521.4 1874.7 L524.1 1873.9 L526.8 1873.4 L529.5 1872.9 L532.2 1872.7 L534.9 1872.6 L537.6 1872.7 L540.3 1873.0 L543.0 1873.5 L545.7 1874.2 L548.4 1875.0 L551.1 1875.9 L553.7 1876.9 L556.4 1877.9 L559.1 1879.0 L561.8 1880.2 L564.5 1881.4 L567.2 1882.6 L569.9 1883.8 L572.6 1884.9 L575.3 1886.1 L578.0 1887.2 L580.7 1888.4 L583.4 1889.5 L586.1 1890.5 L588.7 1891.6 L591.4 1892.6 L594.1 1893.7 L596.8 1894.7 L599.5 1895.7 L602.2 1896.7 L604.9 1897.7 L607.6 1898.7 L610.3 1899.7 L613.0 1900.7 L615.7 1901.7 L618.4 1902.7 L621.0 1903.7 L623.7 1904.7 L626.4 1905.7 L629.1 1906.7 L631.8 1907.7 L634.5 1908.7 L637.2 1909.6 L639.9 1910.6 L642.6 1911.5 L645.3 1912.4 L648.0 1913.3 L650.7 1914.2 L653.4 1915.0 L656.0 1915.9 L658.7 1916.7 L661.4 1917.5 L664.1 1918.3 L666.8 1919.1 L669.5 1919.8 L672.2 1920.6 L674.9 1921.3 L677.6 1922.0 L680.3 1922.7 L683.0 1923.4 L685.7 1924.0 L688.4 1924.6 L691.0 1925.3 L693.7 1925.9 L696.4 1926.4 L699.1 1927.0 L701.8 1927.5 L704.5 1928.0 L707.2 1928.5 L709.9 1929.0 L712.6 1929.4 L715.3 1929.8 L718.0 1930.2 L720.7 1930.6 L723.3 1931.0 L726.0 1931.3 L728.7 1931.6 L731.4 1931.9 L734.1 1932.2 L736.8 1932.4 L739.5 1932.7 L742.2 1932.9 L744.9 1933.1 L747.6 1933.2 L750.3 1933.4 L753.0 1933.5 L755.7 1933.7 L758.3 1933.8 L761.0 1933.8 L763.7 1933.9 L766.4 1934.0 L769.1 1934.0 L771.8 1934.0 L774.5 1934.0 L777.2 1934.0 L779.9 1934.0 L782.6 1933.9 L785.3 1933.9 L788.0 1933.8 L790.6 1933.7 L793.3 1933.6 L796.0 1933.5 L798.7 1933.4 L801.4 1933.3 L804.1 1933.1 L806.8 1933.0 L809.5 1932.8 L812.2 1932.6 L814.9 1932.4 L817.6 1932.2 L820.3 1932.0 L823.0 1931.8 L825.6 1931.6 L828.3 1931.3 L831.0 1931.1 L833.7 1930.8 L836.4 1930.6 L839.1 1930.3 L841.8 1930.1 L844.5 1929.8 L847.2 1929.5 L849.9 1929.2 L852.6 1928.9 L855.3 1928.7 L857.9 1928.4 L860.6 1928.1 L863.3 1927.8 L866.0 1927.5 L868.7 1927.2 L871.4 1926.9 L874.1 1926.6 L876.8 1926.3 L879.5 1926.1 L882.2 1925.8 L884.9 1925.5 L887.6 1925.2 L890.3 1924.9 L892.9 1924.6 L895.6 1924.3 L898.3 1924.0 L901.0 1923.8 L903.7 1923.5 L906.4 1923.2 L909.1 1922.9 L911.8 1922.6 L914.5 1922.3 L917.2 1922.0 L919.9 1921.7 L922.6 1921.5 L925.3 1921.2 L927.9 1920.9 L930.6 1920.6 L933.3 1920.3 L936.0 1920.0 L938.7 1919.7 L941.4 1919.3 L944.1 1919.0 L946.8 1918.7 L949.5 1918.4 L952.2 1918.1 L954.9 1917.8 L957.6 1917.5 L960.2 1917.2 L962.9 1916.9 L965.6 1916.6 L968.3 1916.3 L971.0 1916.0 L973.7 1915.7 L976.4 1915.4 L979.1 1915.1 L981.8 1914.8 L984.5 1914.5 L987.2 1914.2 L989.9 1913.9 L992.6 1913.6 L995.2 1913.3 L997.9 1913.1 L1000.6 1912.8 L1003.3 1912.5 L1006.0 1912.2 L1008.7 1912.0 L1011.4 1911.7 L1014.1 1911.5 L1016.8 1911.2 L1019.5 1911.0 L1022.2 1910.7 L1024.9 1910.5 L1027.5 1910.2 L1030.2 1910.0 L1032.9 1909.8 L1035.6 1909.5 L1038.3 1909.3 L1041.0 1909.1 L1043.7 1908.9 L1046.4 1908.7 L1049.1 1908.5 L1051.8 1908.3 L1054.5 1908.1 L1057.2 1908.0 L1059.9 1907.8 L1062.5 1907.6 L1065.2 1907.5 L1067.9 1907.3 L1070.6 1907.2 L1073.3 1907.0 L1076.0 1906.9 L1078.7 1906.8 L1081.4 1906.7 L1084.1 1906.6 L1086.8 1906.5 L1089.5 1906.4 L1092.2 1906.3 L1094.9 1906.2 L1097.5 1906.2 L1100.2 1906.1 L1102.9 1906.1 L1105.6 1906.0 L1108.3 1906.0 L1111.0 1906.0 L1113.7 1906.0 L1116.4 1906.0 L1119.1 1906.1 L1121.8 1906.1 L1124.5 1906.2 L1127.2 1906.3 L1129.8 1906.6 L1132.5 1906.8 L1135.2 1907.1 L1137.9 1907.4 L1140.6 1907.7 L1143.3 1908.0 L1146.0 1908.4 L1148.7 1908.8 L1151.4 1909.2 L1154.1 1909.6 L1156.8 1910.0 L1159.5 1910.5 L1162.2 1910.9 L1164.8 1911.4 L1167.5 1911.8 L1170.2 1912.3 L1172.9 1912.8 L1175.6 1913.3 L1178.3 1913.8 L1181.0 1914.3 L1183.7 1914.9 L1186.4 1915.4 L1189.1 1915.9 L1191.8 1916.4 L1194.5 1917.0 L1197.1 1917.5 L1199.8 1918.1 L1202.5 1918.6 L1205.2 1919.2 L1207.9 1919.7 L1210.6 1920.3 L1213.3 1920.8 L1216.0 1921.4 L1218.7 1922.0 L1221.4 1922.5 L1224.1 1923.1 L1226.8 1923.6 L1229.5 1924.2 L1232.1 1924.7 L1234.8 1925.3 L1237.5 1925.9 L1240.2 1926.4 L1242.9 1927.0 L1245.6 1927.5 L1248.3 1928.1 L1251.0 1928.6 L1253.7 1929.2 L1256.4 1929.7 L1259.1 1930.3 L1261.8 1930.8 L1264.4 1931.3 L1267.1 1931.9 L1269.8 1932.4 L1272.5 1932.9 L1275.2 1933.5 L1277.9 1934.0 L1280.6 1934.5 L1283.3 1935.0 L1286.0 1935.5 L1288.7 1936.0 L1291.4 1936.5 L1294.1 1937.0 L1296.8 1937.5 L1299.4 1938.0 L1302.1 1938.5 L1304.8 1939.0 L1307.5 1939.5 L1310.2 1940.0 L1312.9 1940.4 L1315.6 1940.9 L1318.3 1941.4 L1321.0 1941.8 L1323.7 1942.3 L1326.4 1942.8 L1329.1 1943.2 L1331.8 1943.7 L1334.4 1944.1 L1337.1 1944.5 L1339.8 1945.0 L1342.5 1945.4 L1345.2 1945.8 L1347.9 1946.2 L1350.6 1946.7 L1353.3 1947.1 L1356.0 1947.5 L1358.7 1947.9 L1361.4 1948.3 L1364.1 1948.7 L1366.7 1949.1 L1369.4 1949.5 L1372.1 1949.9 L1374.8 1950.2 L1377.5 1950.6 L1380.2 1951.0 L1382.9 1951.4 L1385.6 1951.7 L1388.3 1952.1 L1391.0 1952.5 L1393.7 1952.8 L1396.4 1953.2 L1399.1 1953.5 L1401.7 1953.9 L1404.4 1954.2 L1407.1 1954.6 L1409.8 1954.9 L1412.5 1955.2 L1415.2 1955.5 L1417.9 1955.9 L1420.6 1956.2 L1423.3 1956.5 L1426.0 1956.8 L1428.7 1957.1 L1431.4 1957.4 L1434.0 1957.7 L1436.7 1958.1 L1439.4 1958.4 L1442.1 1958.6 L1444.8 1958.9 L1447.5 1959.2 L1450.2 1959.5 L1452.9 1959.8 L1455.6 1960.1 L1458.3 1960.4 L1461.0 1960.6 L1463.7 1960.9 L1466.4 1961.2 L1469.0 1961.5 L1471.7 1961.7 L1474.4 1961.9 L1477.1 1961.9 L1479.8 1961.8 L1482.5 1962.2 L1485.2 1962.6 L1487.9 1963.2 L1490.6 1963.9 L1493.3 1963.6 L1496.0 1963.2 L1498.7 1963.6 L1501.3 1964.1 L1504.0 1963.9 L1506.7 1963.6 L1509.4 1964.3 L1512.1 1965.0 L1514.8 1965.6 L1517.5 1966.2 L1520.2 1966.3 L1522.9 1966.3 L1525.6 1966.2 L1528.3 1966.1 L1531.0 1966.6 L1533.7 1967.3 L1536.3 1968.3 L1539.0 1969.4 L1541.7 1969.6 L1544.4 1969.8 L1547.1 1969.5 L1549.8 1969.1 L1552.5 1969.0 L1555.2 1968.9 L1557.9 1969.2 L1560.6 1969.5 L1563.3 1969.0 L1566.0 1968.4 L1568.7 1969.1 L1571.3 1969.9 L1574.0 1970.9 L1576.7 1971.8 L1579.4 1970.7 L1582.1 1969.6 L1584.8 1971.0 L1587.5 1972.5 L1590.2 1972.6" stroke="#1c2470" stroke-width="3.3"/>
</g>
<path d="M244.0 2028.0h34 M244.0 1884.1h17 M244.0 1740.2h34 M244.0 1596.4h17 M244.0 1452.5h34" stroke="#333" stroke-width="3.6" fill="none"/>
<path d="M333.0 2056.8v-34 M512.5 2056.8v-17 M691.9 2056.8v-34 M871.4 2056.8v-17 M1050.9 2056.8v-34 M1230.3 2056.8v-17 M1409.8 2056.8v-34" stroke="#333" stroke-width="3.2" fill="none"/>
<path d="M244.0 1394.6H1589.3" stroke="#7a7a7a" stroke-width="5.4" stroke-linecap="square"/>
<path d="M244.0 2056.8H1589.3" stroke="#4a4a4a" stroke-width="4.6" stroke-linecap="square"/>
<path d="M1589.3 1394.6V2056.8" stroke="#666" stroke-width="4.5" stroke-linecap="square"/>
<path d="M244.0 1394.6V2056.8" stroke="#222" stroke-width="3.8" stroke-linecap="square"/>
<clipPath id="onec"><rect x="150" y="1406.5" width="90" height="64.4"/><rect x="193.87" y="1468.5" width="6.27" height="10"/></clipPath>
<text x="215.5" y="1476.5" text-anchor="end" class="t tl" clip-path="url(#onec)">1</text>
<text x="212.5" y="1764.2" text-anchor="end" class="t tl">0.5</text>
<text x="212.5" y="2052.0" text-anchor="end" class="t tl">0</text>
<text transform="translate(76.0,1724.8) rotate(-90)" text-anchor="middle" class="t">Extinction</text>
<text x="667.6" y="1485.6" class="t">F(mJ/cm²<tspan dx="6.5">)</tspan></text>
<text x="805.6" y="1567.5" text-anchor="middle" class="t">0</text>
<text x="805.6" y="1895.5" text-anchor="middle" class="t">5430</text>
<line x1="803.0" y1="1590.1" x2="803.0" y2="1791.4" stroke="#858585" stroke-width="4.4"/>
<path d="M803.0 1811.4 L780.0 1767.4 L803.0 1788.4 L826.0 1767.4 Z" fill="#000"/>
<text x="1547.8" y="1471.5" text-anchor="middle" class="t" style="font-size:80px">c</text>
<text x="333.0" y="2153.5" text-anchor="middle" class="t xl">400</text>
<text x="691.9" y="2153.5" text-anchor="middle" class="t xl">600</text>
<text x="1050.9" y="2153.5" text-anchor="middle" class="t xl">800</text>
<clipPath id="k1000"><rect x="1300" y="2080" width="220" height="67.8"/><rect x="1346.98" y="2080" width="6.45" height="90"/><rect x="1367.83" y="2080" width="200" height="90"/></clipPath>
<text x="1409.8" y="2153.5" text-anchor="middle" class="t xl" clip-path="url(#k1000)">1000</text>
<text x="917.2" y="2235" text-anchor="middle" class="t" style="font-size:71.5px">Wavelength (nm)</text>
</svg>
</body></html>
